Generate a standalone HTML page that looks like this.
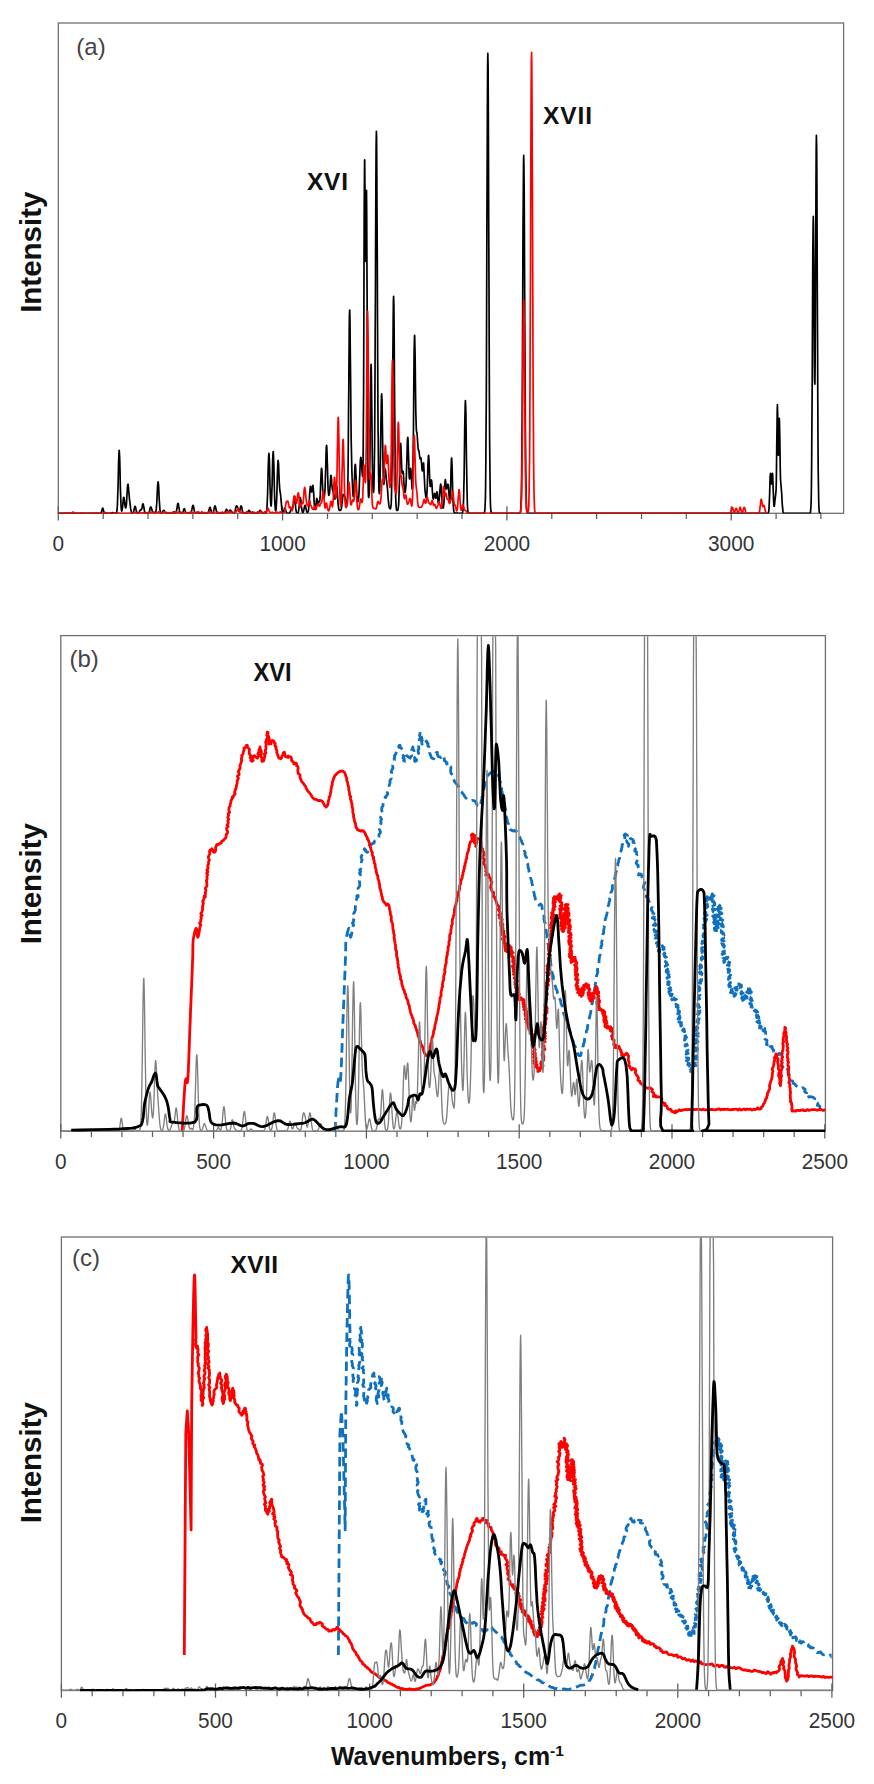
<!DOCTYPE html>
<html><head><meta charset="utf-8"><title>Spectra</title>
<style>html,body{margin:0;padding:0;background:#fff;}svg{display:block;}text{font-family:"Liberation Sans",sans-serif;}</style>
</head><body>
<svg width="874" height="1784" viewBox="0 0 874 1784">
<defs><clipPath id="ca"><rect x="58.3" y="23.0" width="785.3000000000001" height="490.54999999999995"/></clipPath><clipPath id="cb"><rect x="60.8" y="635.6" width="760.6" height="498.6"/></clipPath><clipPath id="cb2"><rect x="60.8" y="636.2" width="764.6" height="495.70000000000005"/></clipPath><clipPath id="cc"><rect x="61.4" y="1237.0" width="770.2" height="456.5"/></clipPath><clipPath id="cc2"><rect x="61.4" y="1237.6" width="771.2" height="453.6"/></clipPath></defs>
<rect width="874" height="1784" fill="#fff"/>
<rect x="58.3" y="23.0" width="785.3" height="490.3" fill="none" stroke="#707070" stroke-width="1.3"/>
<path d="M58.3 506.3V520.5M103.2 513.3V519.1M148.0 513.3V519.1M192.9 513.3V519.1M237.7 513.3V519.1M282.6 506.3V520.5M327.5 513.3V519.1M372.3 513.3V519.1M417.2 513.3V519.1M462.0 513.3V519.1M506.9 506.3V520.5M551.8 513.3V519.1M596.6 513.3V519.1M641.5 513.3V519.1M686.3 513.3V519.1M731.2 506.3V520.5M776.1 513.3V519.1M820.9 513.3V519.1" stroke="#5e5e5e" stroke-width="1.25" fill="none"/>
<text transform="translate(58.3 550.8) scale(0.93 1)" font-family="Liberation Sans, sans-serif" font-size="22.4" fill="#333" text-anchor="middle">0</text>
<text transform="translate(282.6 550.8) scale(0.93 1)" font-family="Liberation Sans, sans-serif" font-size="22.4" fill="#333" text-anchor="middle">1000</text>
<text transform="translate(506.9 550.8) scale(0.93 1)" font-family="Liberation Sans, sans-serif" font-size="22.4" fill="#333" text-anchor="middle">2000</text>
<text transform="translate(731.2 550.8) scale(0.93 1)" font-family="Liberation Sans, sans-serif" font-size="22.4" fill="#333" text-anchor="middle">3000</text>
<g clip-path="url(#ca)"><path d="M58.3 513.3 L58.5 513.3 L58.7 513.3 L59.0 513.3 L59.2 513.3 L59.4 513.3 L59.6 513.3 L59.9 513.3 L60.1 513.3 L60.3 513.3 L60.5 513.3 L60.8 513.3 L61.0 513.3 L61.2 513.3 L61.4 513.3 L61.7 513.3 L61.9 513.3 L62.1 513.3 L62.3 513.3 L62.6 513.3 L62.8 513.3 L63.0 513.3 L63.2 513.3 L63.5 513.3 L63.7 513.3 L63.9 513.3 L64.1 513.3 L64.4 513.3 L64.6 513.3 L64.8 513.3 L65.0 513.3 L65.3 513.3 L65.5 513.3 L65.7 513.3 L65.9 513.3 L66.2 513.3 L66.4 513.3 L66.6 513.3 L66.8 513.3 L67.0 513.3 L67.3 513.3 L67.5 513.3 L67.7 513.3 L67.9 513.3 L68.2 513.3 L68.4 513.3 L68.6 513.3 L68.8 513.3 L69.1 513.3 L69.3 513.3 L69.5 513.3 L69.7 513.3 L70.0 513.3 L70.2 513.3 L70.4 513.3 L70.6 513.3 L70.9 513.3 L71.1 513.3 L71.3 513.3 L71.5 513.3 L71.8 513.3 L72.0 513.3 L72.2 513.3 L72.4 513.3 L72.7 513.3 L72.9 513.3 L73.1 513.3 L73.3 513.3 L73.6 513.3 L73.8 513.3 L74.0 513.3 L74.2 513.3 L74.4 513.3 L74.7 513.3 L74.9 513.3 L75.1 513.3 L75.3 513.3 L75.6 513.3 L75.8 513.3 L76.0 513.3 L76.2 513.3 L76.5 513.3 L76.7 513.3 L76.9 513.3 L77.1 513.3 L77.4 513.3 L77.6 513.3 L77.8 513.3 L78.0 513.3 L78.3 513.3 L78.5 513.3 L78.7 513.3 L78.9 513.3 L79.2 513.3 L79.4 513.3 L79.6 513.3 L79.8 513.3 L80.1 513.3 L80.3 513.3 L80.5 513.3 L80.7 513.3 L81.0 513.3 L81.2 513.3 L81.4 513.3 L81.6 513.3 L81.9 513.3 L82.1 513.3 L82.3 513.3 L82.5 513.3 L82.7 513.3 L83.0 513.3 L83.2 513.3 L83.4 513.3 L83.6 513.3 L83.9 513.3 L84.1 513.3 L84.3 513.3 L84.5 513.3 L84.8 513.3 L85.0 513.3 L85.2 513.3 L85.4 513.3 L85.7 513.3 L85.9 513.3 L86.1 513.3 L86.3 513.3 L86.6 513.3 L86.8 513.3 L87.0 513.3 L87.2 513.3 L87.5 513.3 L87.7 513.3 L87.9 513.3 L88.1 513.3 L88.4 513.3 L88.6 513.3 L88.8 513.3 L89.0 513.3 L89.3 513.3 L89.5 513.3 L89.7 513.3 L89.9 513.3 L90.2 513.3 L90.4 513.3 L90.6 513.3 L90.8 513.3 L91.0 513.3 L91.3 513.3 L91.5 513.3 L91.7 513.3 L91.9 513.3 L92.2 513.3 L92.4 513.3 L92.6 513.3 L92.8 513.3 L93.1 513.3 L93.3 513.3 L93.5 513.3 L93.7 513.3 L94.0 513.3 L94.2 513.3 L94.4 513.3 L94.6 513.3 L94.9 513.3 L95.1 513.3 L95.3 513.3 L95.5 513.3 L95.8 513.3 L96.0 513.3 L96.2 513.3 L96.4 513.3 L96.7 513.3 L96.9 513.3 L97.1 513.3 L97.3 513.3 L97.6 513.3 L97.8 513.3 L98.0 513.3 L98.2 513.3 L98.4 513.3 L98.7 513.3 L98.9 513.3 L99.1 513.3 L99.3 513.3 L99.6 513.3 L99.8 513.3 L100.0 513.3 L100.2 513.3 L100.5 513.3 L100.7 513.2 L100.9 513.0 L101.1 512.8 L101.4 512.3 L101.6 511.6 L101.8 510.7 L102.0 509.8 L102.3 508.9 L102.5 508.3 L102.7 508.1 L102.9 508.4 L103.2 509.0 L103.4 509.9 L103.6 510.9 L103.8 511.7 L104.1 512.3 L104.3 512.8 L104.5 513.0 L104.7 513.2 L105.0 513.3 L105.2 513.3 L105.4 513.3 L105.6 513.3 L105.9 513.3 L106.1 513.3 L106.3 513.3 L106.5 513.3 L106.7 513.3 L107.0 513.3 L107.2 513.3 L107.4 513.3 L107.6 513.3 L107.9 513.3 L108.1 513.3 L108.3 513.3 L108.5 513.3 L108.8 513.3 L109.0 513.3 L109.2 513.3 L109.4 513.3 L109.7 513.3 L109.9 513.3 L110.1 513.3 L110.3 513.3 L110.6 513.3 L110.8 513.3 L111.0 513.2 L111.2 513.2 L111.5 513.1 L111.7 513.0 L111.9 512.8 L112.1 512.7 L112.4 512.6 L112.6 512.6 L112.8 512.6 L113.0 512.8 L113.3 512.9 L113.5 513.0 L113.7 513.1 L113.9 513.2 L114.2 513.3 L114.4 513.3 L114.6 513.3 L114.8 513.3 L115.0 513.3 L115.3 513.3 L115.5 513.3 L115.7 513.3 L115.9 513.2 L116.2 513.1 L116.4 512.8 L116.6 512.3 L116.8 511.3 L117.1 509.5 L117.3 506.7 L117.5 502.4 L117.7 496.5 L118.0 488.8 L118.2 479.8 L118.4 470.3 L118.6 461.5 L118.9 454.6 L119.1 450.8 L119.2 450.3 L119.3 450.8 L119.5 454.6 L119.8 461.5 L120.0 470.3 L120.2 479.8 L120.4 488.8 L120.7 496.4 L120.9 502.4 L121.1 506.5 L121.3 509.2 L121.6 510.6 L121.8 511.0 L122.0 510.7 L122.2 509.6 L122.4 508.0 L122.7 506.0 L122.9 503.6 L123.1 501.3 L123.3 499.2 L123.6 497.8 L123.8 497.3 L124.0 497.7 L124.2 499.0 L124.5 500.8 L124.7 502.8 L124.9 504.7 L125.1 506.3 L125.4 507.3 L125.6 507.9 L125.8 507.8 L126.0 507.1 L126.3 505.6 L126.5 503.2 L126.7 499.9 L126.9 496.0 L127.2 492.0 L127.4 488.3 L127.6 485.6 L127.8 484.3 L128.1 484.4 L128.3 485.8 L128.5 488.1 L128.7 490.9 L129.0 493.6 L129.2 496.1 L129.4 498.3 L129.6 500.3 L129.9 502.1 L130.1 503.9 L130.3 505.7 L130.5 507.4 L130.7 508.9 L131.0 510.2 L131.2 511.3 L131.4 512.0 L131.6 512.6 L131.9 512.9 L132.1 513.1 L132.3 513.1 L132.5 513.1 L132.8 513.0 L133.0 512.8 L133.2 512.5 L133.4 512.1 L133.7 511.4 L133.9 510.6 L134.1 509.6 L134.3 508.5 L134.6 507.5 L134.8 506.7 L135.0 506.3 L135.2 506.3 L135.5 506.9 L135.7 507.8 L135.9 508.9 L136.1 510.0 L136.4 511.0 L136.6 511.8 L136.8 512.4 L137.0 512.8 L137.3 513.0 L137.5 513.1 L137.7 513.2 L137.9 513.2 L138.2 513.1 L138.4 512.9 L138.6 512.7 L138.8 512.4 L139.0 512.1 L139.3 511.7 L139.5 511.4 L139.7 511.0 L139.9 510.6 L140.2 510.2 L140.4 509.9 L140.6 509.7 L140.8 509.7 L141.1 509.8 L141.3 509.7 L141.5 509.5 L141.7 508.9 L142.0 507.9 L142.2 506.7 L142.4 505.5 L142.6 504.5 L142.9 503.9 L143.0 503.8 L143.1 503.9 L143.3 504.4 L143.5 505.4 L143.8 506.7 L144.0 508.1 L144.2 509.5 L144.4 510.7 L144.7 511.6 L144.9 512.3 L145.1 512.7 L145.3 513.0 L145.6 513.1 L145.8 513.2 L146.0 513.3 L146.2 513.3 L146.4 513.3 L146.7 513.3 L146.9 513.3 L147.1 513.3 L147.3 513.3 L147.6 513.3 L147.8 513.3 L148.0 513.2 L148.2 513.2 L148.5 513.0 L148.7 512.8 L148.9 512.5 L149.1 512.0 L149.4 511.3 L149.6 510.5 L149.8 509.6 L150.0 508.7 L150.3 507.9 L150.5 507.3 L150.7 507.0 L150.9 507.1 L151.2 507.4 L151.4 508.0 L151.6 508.7 L151.8 509.6 L152.1 510.4 L152.3 511.1 L152.5 511.7 L152.7 512.2 L153.0 512.4 L153.2 512.5 L153.4 512.5 L153.6 512.4 L153.9 512.3 L154.1 512.3 L154.3 512.3 L154.5 512.5 L154.7 512.6 L155.0 512.7 L155.2 512.7 L155.4 512.5 L155.6 512.1 L155.9 511.3 L156.1 510.2 L156.3 508.4 L156.5 505.9 L156.8 502.5 L157.0 498.3 L157.2 493.7 L157.4 489.1 L157.7 485.2 L157.9 482.6 L158.1 481.8 L158.3 482.9 L158.6 485.7 L158.8 489.8 L159.0 494.4 L159.2 499.1 L159.5 503.2 L159.7 506.6 L159.9 509.1 L160.1 510.8 L160.4 511.9 L160.6 512.6 L160.8 512.9 L161.0 513.1 L161.3 513.2 L161.5 513.1 L161.7 513.1 L161.9 512.9 L162.2 512.6 L162.4 512.3 L162.6 511.9 L162.8 511.5 L163.0 511.0 L163.3 510.7 L163.5 510.4 L163.7 510.3 L163.9 510.4 L164.2 510.7 L164.4 511.0 L164.6 511.5 L164.8 511.9 L165.1 512.3 L165.3 512.7 L165.5 512.9 L165.7 513.1 L166.0 513.2 L166.2 513.2 L166.4 513.3 L166.6 513.3 L166.9 513.3 L167.1 513.3 L167.3 513.3 L167.5 513.3 L167.8 513.3 L168.0 513.3 L168.2 513.3 L168.4 513.3 L168.7 513.3 L168.9 513.3 L169.1 513.3 L169.3 513.3 L169.6 513.3 L169.8 513.3 L170.0 513.3 L170.2 513.3 L170.4 513.3 L170.7 513.3 L170.9 513.3 L171.1 513.3 L171.3 513.3 L171.6 513.3 L171.8 513.3 L172.0 513.3 L172.2 513.2 L172.5 513.2 L172.7 513.0 L172.9 512.8 L173.1 512.6 L173.4 512.3 L173.6 512.0 L173.8 511.9 L174.0 511.9 L174.3 512.0 L174.5 512.3 L174.7 512.5 L174.9 512.8 L175.2 513.0 L175.4 513.0 L175.6 513.0 L175.8 512.7 L176.1 512.4 L176.3 511.7 L176.5 510.8 L176.7 509.7 L177.0 508.3 L177.2 506.8 L177.4 505.3 L177.6 504.2 L177.9 503.5 L178.0 503.3 L178.1 503.3 L178.3 503.8 L178.5 504.8 L178.7 506.2 L179.0 507.7 L179.2 509.1 L179.4 510.4 L179.6 511.4 L179.9 512.1 L180.1 512.6 L180.3 512.9 L180.5 513.1 L180.8 513.2 L181.0 513.3 L181.2 513.3 L181.4 513.3 L181.7 513.3 L181.9 513.3 L182.1 513.2 L182.3 513.1 L182.6 512.9 L182.8 512.6 L183.0 512.0 L183.2 511.3 L183.5 510.5 L183.7 509.6 L183.9 509.0 L184.1 508.7 L184.4 508.7 L184.6 509.1 L184.8 509.7 L185.0 510.5 L185.3 511.2 L185.5 511.8 L185.7 512.2 L185.9 512.4 L186.2 512.6 L186.4 512.7 L186.6 512.7 L186.8 512.8 L187.0 513.0 L187.3 513.1 L187.5 513.2 L187.7 513.2 L187.9 513.3 L188.2 513.3 L188.4 513.3 L188.6 513.3 L188.8 513.3 L189.1 513.3 L189.3 513.3 L189.5 513.3 L189.7 513.3 L190.0 513.3 L190.2 513.2 L190.4 513.2 L190.6 513.0 L190.9 512.8 L191.1 512.5 L191.3 511.9 L191.5 511.2 L191.8 510.2 L192.0 509.1 L192.2 507.8 L192.4 506.7 L192.7 505.8 L192.9 505.4 L193.0 505.3 L193.1 505.4 L193.3 505.8 L193.6 506.7 L193.8 507.8 L194.0 509.1 L194.2 510.2 L194.5 511.2 L194.7 511.9 L194.9 512.5 L195.1 512.8 L195.3 513.0 L195.6 513.2 L195.8 513.2 L196.0 513.3 L196.2 513.2 L196.5 513.2 L196.7 513.1 L196.9 513.0 L197.1 512.8 L197.4 512.7 L197.6 512.6 L197.8 512.5 L198.0 512.5 L198.3 512.6 L198.5 512.8 L198.7 513.0 L198.9 513.1 L199.2 513.2 L199.4 513.2 L199.6 513.3 L199.8 513.3 L200.1 513.3 L200.3 513.3 L200.5 513.3 L200.7 513.3 L201.0 513.3 L201.2 513.3 L201.4 513.3 L201.6 513.3 L201.9 513.3 L202.1 513.3 L202.3 513.3 L202.5 513.3 L202.7 513.3 L203.0 513.3 L203.2 513.3 L203.4 513.3 L203.6 513.3 L203.9 513.3 L204.1 513.3 L204.3 513.3 L204.5 513.3 L204.8 513.3 L205.0 513.3 L205.2 513.3 L205.4 513.3 L205.7 513.3 L205.9 513.3 L206.1 513.3 L206.3 513.3 L206.6 513.3 L206.8 513.3 L207.0 513.3 L207.2 513.2 L207.5 513.2 L207.7 513.0 L207.9 512.8 L208.1 512.5 L208.4 512.0 L208.6 511.4 L208.8 510.6 L209.0 509.7 L209.3 508.8 L209.5 508.0 L209.7 507.5 L209.9 507.3 L210.2 507.5 L210.4 508.0 L210.6 508.8 L210.8 509.7 L211.0 510.6 L211.3 511.4 L211.5 512.0 L211.7 512.5 L211.9 512.8 L212.2 513.0 L212.4 513.1 L212.6 513.0 L212.8 512.8 L213.1 512.5 L213.3 512.1 L213.5 511.4 L213.7 510.5 L214.0 509.4 L214.2 508.3 L214.4 507.2 L214.6 506.4 L214.9 505.9 L215.0 505.8 L215.1 505.8 L215.3 506.2 L215.5 507.0 L215.8 508.1 L216.0 509.2 L216.2 510.3 L216.4 511.2 L216.7 511.9 L216.9 512.5 L217.1 512.8 L217.3 513.0 L217.6 513.2 L217.8 513.2 L218.0 513.3 L218.2 513.3 L218.5 513.3 L218.7 513.3 L218.9 513.3 L219.1 513.3 L219.3 513.3 L219.6 513.3 L219.8 513.3 L220.0 513.3 L220.2 513.3 L220.5 513.3 L220.7 513.3 L220.9 513.3 L221.1 513.3 L221.4 513.3 L221.6 513.3 L221.8 513.3 L222.0 513.3 L222.3 513.3 L222.5 513.3 L222.7 513.3 L222.9 513.3 L223.2 513.3 L223.4 513.3 L223.6 513.3 L223.8 513.3 L224.1 513.2 L224.3 513.1 L224.5 513.0 L224.7 512.8 L225.0 512.4 L225.2 512.0 L225.4 511.5 L225.6 510.9 L225.9 510.3 L226.1 509.8 L226.3 509.4 L226.5 509.3 L226.7 509.4 L227.0 509.8 L227.2 510.3 L227.4 510.9 L227.6 511.4 L227.9 511.9 L228.1 512.3 L228.3 512.5 L228.5 512.5 L228.8 512.2 L229.0 511.8 L229.2 511.3 L229.4 510.8 L229.7 510.4 L229.9 510.2 L230.1 510.1 L230.3 510.1 L230.6 510.3 L230.8 510.6 L231.0 510.9 L231.2 511.3 L231.5 511.7 L231.7 512.0 L231.9 512.2 L232.1 512.3 L232.4 512.4 L232.6 512.4 L232.8 512.5 L233.0 512.7 L233.3 512.8 L233.5 513.0 L233.7 513.1 L233.9 513.1 L234.2 513.1 L234.4 512.9 L234.6 512.6 L234.8 512.0 L235.0 511.2 L235.3 510.2 L235.5 509.1 L235.7 507.9 L235.9 507.0 L236.2 506.3 L236.4 505.9 L236.6 505.8 L236.8 506.0 L237.1 506.3 L237.3 506.7 L237.5 507.2 L237.7 507.7 L238.0 508.4 L238.2 509.1 L238.4 509.9 L238.6 510.7 L238.9 511.3 L239.1 511.7 L239.3 511.7 L239.5 511.4 L239.8 510.7 L240.0 509.8 L240.2 508.7 L240.4 507.6 L240.7 506.7 L240.9 506.0 L241.1 505.8 L241.3 506.0 L241.6 506.7 L241.8 507.6 L242.0 508.8 L242.2 509.9 L242.5 510.9 L242.7 511.7 L242.9 512.3 L243.1 512.7 L243.3 513.0 L243.6 513.1 L243.8 513.2 L244.0 513.3 L244.2 513.3 L244.5 513.3 L244.7 513.3 L244.9 513.3 L245.1 513.3 L245.4 513.3 L245.6 513.3 L245.8 513.3 L246.0 513.3 L246.3 513.3 L246.5 513.2 L246.7 513.2 L246.9 513.1 L247.2 512.9 L247.4 512.7 L247.6 512.3 L247.8 511.9 L248.1 511.5 L248.3 511.0 L248.5 510.7 L248.7 510.4 L249.0 510.3 L249.2 510.4 L249.4 510.7 L249.6 511.0 L249.9 511.5 L250.1 511.9 L250.3 512.3 L250.5 512.7 L250.7 512.9 L251.0 513.1 L251.2 513.2 L251.4 513.2 L251.6 513.3 L251.9 513.3 L252.1 513.3 L252.3 513.3 L252.5 513.3 L252.8 513.3 L253.0 513.3 L253.2 513.3 L253.4 513.3 L253.7 513.3 L253.9 513.3 L254.1 513.3 L254.3 513.3 L254.6 513.3 L254.8 513.3 L255.0 513.3 L255.2 513.3 L255.5 513.3 L255.7 513.3 L255.9 513.3 L256.1 513.3 L256.4 513.3 L256.6 513.3 L256.8 513.3 L257.0 513.3 L257.3 513.3 L257.5 513.3 L257.7 513.2 L257.9 513.2 L258.2 513.1 L258.4 512.9 L258.6 512.7 L258.8 512.3 L259.0 511.9 L259.3 511.5 L259.5 511.0 L259.7 510.7 L259.9 510.4 L260.2 510.3 L260.4 510.4 L260.6 510.7 L260.8 511.0 L261.1 511.5 L261.3 511.9 L261.5 512.3 L261.7 512.7 L262.0 512.9 L262.2 513.1 L262.4 513.2 L262.6 513.2 L262.9 513.3 L263.1 513.3 L263.3 513.3 L263.5 513.3 L263.8 513.3 L264.0 513.3 L264.2 513.3 L264.4 513.3 L264.7 513.3 L264.9 513.3 L265.1 513.3 L265.3 513.3 L265.6 513.2 L265.8 513.2 L266.0 513.0 L266.2 512.6 L266.5 511.9 L266.7 510.7 L266.9 508.5 L267.1 505.2 L267.3 500.3 L267.6 493.8 L267.8 485.8 L268.0 476.9 L268.2 468.0 L268.5 460.4 L268.7 455.1 L268.9 453.3 L269.1 455.1 L269.4 460.3 L269.6 468.0 L269.8 476.9 L270.0 485.7 L270.3 493.5 L270.5 499.6 L270.7 503.8 L270.9 505.8 L271.2 505.8 L271.4 503.6 L271.6 499.3 L271.8 493.0 L272.1 484.9 L272.3 475.8 L272.5 466.7 L272.7 458.8 L273.0 453.5 L273.2 451.6 L273.4 453.5 L273.6 458.9 L273.9 466.7 L274.1 475.9 L274.3 485.0 L274.5 493.3 L274.7 499.9 L275.0 504.8 L275.2 508.1 L275.4 510.0 L275.6 510.7 L275.9 510.3 L276.1 508.8 L276.3 506.1 L276.5 501.9 L276.8 496.3 L277.0 489.4 L277.2 481.6 L277.4 473.8 L277.7 467.0 L277.9 462.3 L278.1 460.3 L278.3 461.3 L278.6 464.8 L278.8 470.1 L279.0 475.9 L279.2 481.3 L279.5 485.6 L279.7 488.6 L279.9 490.6 L280.1 492.0 L280.4 493.3 L280.6 494.9 L280.8 497.1 L281.0 499.7 L281.3 502.4 L281.5 505.1 L281.7 507.5 L281.9 509.4 L282.2 510.8 L282.4 511.8 L282.6 512.3 L282.8 512.5 L283.0 512.4 L283.3 512.1 L283.5 511.6 L283.7 511.0 L283.9 510.3 L284.2 509.5 L284.4 508.9 L284.6 508.5 L284.8 508.3 L285.1 508.5 L285.3 508.9 L285.5 509.5 L285.7 510.3 L286.0 511.0 L286.2 511.7 L286.4 512.2 L286.6 512.6 L286.9 512.9 L287.1 513.1 L287.3 513.2 L287.5 513.2 L287.8 513.3 L288.0 513.3 L288.2 513.3 L288.4 513.3 L288.7 513.3 L288.9 513.2 L289.1 513.2 L289.3 513.1 L289.6 512.9 L289.8 512.6 L290.0 512.2 L290.2 511.7 L290.5 511.1 L290.7 510.3 L290.9 509.6 L291.1 509.0 L291.3 508.5 L291.6 508.3 L291.8 508.3 L292.0 508.4 L292.2 508.6 L292.5 508.5 L292.7 508.0 L292.9 507.0 L293.1 505.4 L293.4 503.4 L293.6 501.1 L293.8 498.9 L294.0 497.2 L294.3 496.4 L294.4 496.3 L294.5 496.5 L294.7 497.6 L294.9 499.6 L295.2 502.0 L295.4 504.5 L295.6 506.9 L295.8 508.9 L296.1 510.5 L296.3 511.6 L296.5 512.3 L296.7 512.8 L297.0 513.0 L297.2 513.1 L297.4 513.1 L297.6 513.1 L297.9 512.9 L298.1 512.6 L298.3 512.0 L298.5 511.2 L298.7 509.9 L299.0 508.2 L299.2 506.1 L299.4 503.8 L299.6 501.4 L299.9 499.4 L300.1 498.1 L300.3 497.6 L300.5 498.1 L300.8 499.4 L301.0 501.4 L301.2 503.7 L301.4 506.0 L301.7 508.1 L301.9 509.8 L302.1 511.0 L302.3 511.9 L302.6 512.3 L302.8 512.5 L303.0 512.4 L303.2 512.0 L303.5 511.4 L303.7 510.6 L303.9 509.6 L304.1 508.4 L304.4 507.2 L304.6 506.2 L304.8 505.6 L305.0 505.3 L305.3 505.5 L305.5 506.2 L305.7 507.1 L305.9 508.3 L306.2 509.4 L306.4 510.4 L306.6 511.2 L306.8 511.8 L307.0 512.2 L307.3 512.4 L307.5 512.5 L307.7 512.4 L307.9 512.1 L308.2 511.6 L308.4 510.6 L308.6 509.2 L308.8 507.1 L309.1 504.3 L309.3 500.9 L309.5 497.0 L309.7 493.2 L310.0 489.8 L310.2 487.4 L310.4 486.3 L310.6 486.5 L310.9 487.7 L311.1 489.5 L311.3 491.1 L311.5 492.0 L311.8 491.9 L312.0 490.8 L312.2 489.0 L312.4 487.0 L312.7 485.6 L312.9 485.3 L313.1 486.3 L313.3 488.7 L313.6 492.0 L313.8 495.7 L314.0 499.5 L314.2 502.9 L314.5 505.6 L314.7 507.6 L314.9 508.9 L315.1 509.5 L315.3 509.5 L315.6 508.8 L315.8 507.3 L316.0 505.1 L316.2 502.4 L316.5 500.1 L316.7 498.7 L316.8 498.5 L316.9 498.7 L317.1 500.0 L317.4 502.0 L317.6 503.8 L317.8 504.8 L318.0 504.6 L318.3 503.7 L318.5 502.4 L318.7 501.4 L318.8 501.2 L318.9 501.2 L319.2 501.5 L319.4 502.0 L319.6 501.8 L319.8 500.5 L320.1 497.7 L320.3 493.5 L320.5 488.0 L320.7 482.0 L321.0 476.2 L321.2 471.6 L321.4 468.8 L321.5 468.3 L321.6 468.4 L321.9 470.3 L322.1 474.2 L322.3 479.2 L322.5 484.5 L322.7 489.3 L323.0 493.0 L323.2 495.6 L323.4 497.1 L323.6 497.6 L323.9 497.7 L324.1 497.3 L324.3 496.6 L324.5 495.2 L324.8 492.9 L325.0 489.1 L325.2 483.7 L325.4 476.5 L325.7 468.2 L325.9 459.7 L326.1 452.3 L326.3 447.1 L326.6 445.3 L326.8 447.1 L327.0 452.2 L327.2 459.6 L327.5 468.1 L327.7 476.4 L327.9 483.5 L328.1 488.9 L328.4 492.5 L328.6 494.5 L328.8 495.4 L329.0 495.3 L329.3 494.5 L329.5 493.1 L329.7 490.9 L329.9 488.0 L330.2 484.6 L330.4 481.0 L330.6 477.9 L330.8 475.9 L331.0 475.3 L331.3 476.4 L331.5 478.9 L331.7 482.2 L331.9 485.5 L332.2 488.0 L332.4 489.6 L332.6 490.3 L332.8 490.7 L332.9 490.9 L333.1 491.4 L333.3 492.5 L333.5 493.9 L333.7 495.3 L334.0 496.6 L334.2 497.6 L334.4 498.5 L334.6 499.0 L334.9 499.1 L335.1 498.5 L335.3 497.2 L335.5 495.3 L335.8 492.8 L336.0 490.2 L336.2 488.0 L336.2 487.7 L336.4 486.6 L336.7 486.3 L336.9 487.3 L336.9 487.7 L337.1 489.5 L337.3 492.5 L337.6 496.0 L337.8 499.5 L338.0 502.7 L338.2 505.3 L338.5 507.2 L338.7 508.5 L338.9 509.4 L339.1 509.9 L339.3 510.2 L339.6 510.3 L339.8 510.4 L340.0 510.5 L340.2 510.4 L340.5 510.3 L340.7 510.1 L340.9 509.8 L341.1 509.1 L341.4 508.2 L341.6 506.9 L341.8 505.3 L342.0 503.3 L342.3 501.2 L342.5 499.1 L342.7 497.3 L342.9 495.9 L343.0 495.4 L343.2 494.9 L343.4 494.5 L343.6 494.4 L343.8 494.5 L344.1 494.8 L344.2 495.0 L344.3 495.2 L344.5 495.6 L344.7 496.2 L345.0 497.2 L345.1 498.0 L345.2 498.4 L345.4 499.7 L345.6 500.9 L345.9 501.8 L346.1 502.3 L346.3 502.8 L346.4 503.0 L346.5 503.3 L346.7 503.8 L347.0 503.8 L347.2 502.7 L347.4 499.5 L347.6 493.0 L347.9 482.1 L348.1 465.7 L348.3 443.6 L348.5 416.4 L348.8 386.3 L349.0 356.8 L349.2 338.0 L349.2 332.0 L349.4 315.6 L349.7 310.0 L349.9 315.7 L350.1 331.0 L350.2 343.1 L350.3 352.9 L350.6 377.7 L350.8 401.9 L351.0 423.2 L351.2 440.4 L351.5 453.4 L351.7 463.3 L351.9 471.0 L352.1 477.4 L352.4 483.0 L352.6 487.9 L352.8 492.0 L353.0 495.0 L353.3 496.5 L353.5 496.5 L353.7 494.6 L353.9 491.1 L354.2 486.2 L354.4 480.4 L354.6 474.5 L354.8 469.3 L355.0 465.7 L355.3 464.3 L355.5 465.4 L355.7 468.7 L355.9 473.7 L356.2 479.6 L356.4 485.4 L356.6 490.6 L356.8 494.9 L357.1 498.0 L357.3 500.0 L357.5 501.3 L357.7 501.8 L358.0 501.7 L358.2 501.1 L358.4 499.8 L358.6 497.8 L358.9 494.8 L359.1 490.9 L359.3 486.1 L359.5 480.4 L359.8 474.5 L360.0 468.7 L360.2 463.7 L360.3 461.3 L360.4 460.0 L360.7 457.9 L360.8 457.4 L360.9 457.5 L361.1 458.5 L361.3 460.6 L361.6 463.4 L361.7 466.0 L361.8 466.6 L362.0 470.0 L362.2 473.3 L362.5 476.0 L362.7 476.6 L362.9 472.5 L363.1 460.0 L363.3 434.3 L363.6 392.3 L363.8 334.6 L364.0 268.9 L364.2 208.8 L364.5 169.4 L364.6 160.3 L364.7 159.9 L364.7 160.6 L364.9 180.8 L365.1 216.5 L365.4 248.6 L365.6 261.3 L365.8 249.8 L366.0 222.8 L366.3 197.2 L366.5 190.3 L366.7 211.0 L366.9 256.9 L367.2 316.6 L367.4 376.2 L367.6 425.4 L367.8 460.0 L368.1 481.0 L368.3 492.0 L368.5 496.6 L368.7 497.5 L369.0 495.9 L369.2 491.8 L369.4 484.8 L369.6 473.9 L369.9 458.5 L370.1 438.8 L370.3 416.4 L370.4 405.9 L370.5 394.1 L370.7 375.9 L371.0 365.6 L371.1 364.3 L371.2 365.6 L371.4 375.8 L371.6 394.0 L371.9 416.4 L372.1 439.0 L372.3 458.5 L372.5 473.4 L372.8 483.3 L373.0 489.2 L373.2 491.9 L373.4 492.4 L373.6 491.8 L373.7 490.9 L373.9 486.8 L374.1 479.1 L374.3 466.1 L374.6 445.7 L374.8 416.4 L375.0 377.7 L375.2 330.5 L375.3 318.7 L375.5 277.9 L375.6 244.8 L375.7 225.1 L375.9 178.7 L376.1 145.6 L376.4 131.4 L376.4 131.3 L376.6 138.6 L376.8 166.0 L377.0 208.9 L377.3 260.7 L377.5 313.9 L377.7 362.9 L377.9 403.9 L378.1 433.8 L378.2 435.7 L378.4 458.8 L378.6 474.7 L378.8 484.9 L379.0 490.9 L379.3 493.6 L379.5 493.3 L379.7 490.0 L379.9 483.7 L380.2 474.1 L380.4 461.3 L380.6 446.2 L380.8 430.0 L381.0 417.1 L381.1 414.7 L381.3 402.5 L381.5 395.3 L381.7 393.9 L381.7 394.3 L382.0 399.6 L382.2 410.3 L382.4 424.6 L382.6 440.2 L382.9 455.2 L383.1 467.7 L383.3 476.8 L383.5 482.3 L383.8 484.3 L384.0 483.5 L384.2 480.7 L384.4 477.0 L384.7 473.3 L384.9 470.5 L384.9 470.4 L385.1 469.0 L385.3 469.1 L385.4 469.5 L385.6 470.6 L385.7 472.1 L385.8 472.9 L386.0 475.5 L386.2 478.0 L386.5 480.1 L386.7 481.9 L386.9 483.5 L387.1 485.3 L387.3 487.5 L387.6 490.1 L387.8 493.1 L388.0 496.2 L388.2 499.3 L388.5 501.9 L388.7 504.1 L388.9 505.7 L389.1 506.9 L389.4 507.7 L389.6 508.2 L389.8 508.5 L390.0 508.7 L390.3 508.8 L390.5 508.6 L390.7 508.0 L390.9 506.6 L391.2 503.9 L391.4 499.0 L391.6 490.7 L391.8 477.8 L392.1 459.4 L392.3 435.2 L392.5 405.9 L392.7 373.8 L393.0 342.6 L393.2 316.8 L393.4 300.5 L393.6 296.3 L393.6 296.6 L393.9 305.8 L394.1 326.5 L394.3 355.1 L394.5 387.2 L394.8 418.6 L395.0 446.2 L395.2 468.3 L395.4 484.5 L395.6 495.4 L395.9 502.4 L396.1 506.4 L396.3 508.6 L396.5 509.7 L396.8 510.2 L397.0 510.4 L397.2 510.4 L397.4 510.4 L397.7 510.2 L397.9 509.7 L398.1 508.9 L398.3 507.5 L398.6 505.1 L398.8 501.4 L399.0 496.0 L399.2 488.8 L399.5 480.0 L399.7 470.2 L399.9 460.4 L400.1 451.8 L400.4 445.8 L400.6 443.3 L400.8 444.5 L401.0 448.8 L401.3 455.1 L401.5 461.9 L401.7 467.7 L401.9 471.6 L402.2 473.4 L402.4 473.4 L402.6 472.3 L402.8 471.4 L403.0 471.3 L403.3 472.6 L403.5 475.3 L403.7 478.9 L403.9 482.8 L404.2 486.5 L404.4 489.4 L404.6 491.3 L404.8 492.3 L405.1 492.3 L405.1 492.2 L405.3 491.6 L405.5 490.2 L405.7 488.0 L406.0 484.8 L406.2 480.8 L406.2 480.5 L406.4 474.7 L406.6 467.6 L406.9 459.4 L407.1 451.1 L407.3 443.9 L407.5 438.9 L407.8 437.3 L408.0 439.4 L408.2 444.8 L408.4 452.5 L408.7 461.1 L408.9 468.9 L409.1 474.9 L409.3 478.2 L409.6 478.9 L409.8 477.4 L410.0 474.5 L410.2 471.4 L410.5 469.1 L410.7 468.3 L410.9 469.4 L411.1 472.2 L411.3 476.3 L411.6 480.9 L411.8 485.2 L412.0 488.2 L412.2 489.1 L412.5 487.2 L412.7 481.5 L412.9 471.2 L413.1 455.8 L413.4 435.4 L413.6 411.3 L413.8 385.8 L414.0 362.5 L414.2 347.5 L414.3 345.1 L414.5 336.2 L414.6 335.3 L414.7 336.8 L414.9 345.8 L415.2 361.0 L415.4 379.1 L415.4 381.5 L415.6 396.8 L415.8 411.7 L416.1 422.3 L416.3 428.5 L416.5 431.2 L416.7 432.3 L417.0 433.3 L417.2 435.2 L417.4 438.2 L417.6 441.8 L417.9 445.3 L418.1 447.9 L418.3 449.5 L418.5 450.2 L418.8 450.6 L419.0 451.3 L419.2 452.6 L419.4 454.5 L419.6 456.5 L419.9 458.0 L420.1 458.8 L420.3 458.8 L420.5 458.3 L420.8 457.9 L421.0 458.3 L421.2 459.7 L421.4 462.1 L421.7 465.0 L421.9 467.9 L422.1 470.1 L422.3 470.9 L422.6 470.3 L422.8 468.3 L423.0 465.7 L423.2 463.6 L423.5 463.0 L423.5 463.1 L423.6 463.4 L423.7 464.6 L423.9 468.3 L424.1 473.3 L424.4 478.6 L424.6 483.3 L424.8 487.3 L425.0 490.3 L425.3 492.7 L425.5 494.5 L425.7 496.0 L425.9 497.1 L426.2 497.8 L426.4 497.8 L426.6 497.0 L426.8 494.9 L427.0 491.3 L427.3 486.2 L427.5 479.8 L427.7 472.7 L427.9 465.7 L428.2 459.9 L428.4 456.2 L428.6 455.3 L428.6 455.4 L428.8 457.4 L429.1 461.9 L429.3 467.9 L429.5 474.4 L429.7 480.1 L430.0 484.2 L430.2 486.3 L430.4 486.4 L430.6 485.0 L430.9 482.9 L431.1 481.0 L431.2 480.2 L431.3 480.0 L431.5 480.3 L431.8 482.0 L432.0 484.9 L432.2 488.4 L432.4 492.0 L432.7 495.1 L432.9 497.3 L433.1 498.6 L433.3 499.0 L433.6 498.4 L433.8 497.3 L434.0 495.9 L434.2 494.5 L434.5 493.6 L434.7 493.3 L434.9 493.7 L435.1 494.8 L435.3 496.2 L435.6 497.5 L435.8 498.3 L436.0 498.2 L436.2 497.1 L436.5 495.2 L436.7 493.2 L436.9 492.0 L437.0 491.9 L437.1 492.2 L437.4 493.7 L437.6 496.3 L437.8 499.0 L438.0 501.3 L438.3 502.7 L438.5 503.1 L438.7 502.7 L438.9 501.5 L439.2 499.7 L439.4 497.3 L439.6 494.5 L439.8 491.5 L440.0 489.6 L440.1 488.6 L440.3 486.1 L440.5 484.5 L440.7 484.1 L440.7 484.2 L441.0 485.2 L441.1 486.6 L441.2 487.6 L441.4 491.0 L441.6 494.8 L441.9 498.6 L442.1 502.0 L442.3 504.6 L442.5 506.4 L442.8 507.5 L443.0 508.0 L443.2 507.9 L443.4 507.2 L443.6 505.8 L443.9 503.6 L444.1 500.4 L444.3 496.2 L444.5 491.2 L444.8 486.2 L445.0 482.1 L445.1 481.2 L445.2 480.3 L445.2 479.9 L445.3 479.7 L445.4 479.9 L445.7 481.8 L445.9 484.4 L446.1 486.9 L446.3 488.5 L446.6 489.0 L446.6 489.0 L446.8 488.6 L447.0 487.8 L447.1 487.3 L447.2 486.7 L447.5 485.6 L447.7 484.6 L447.9 484.2 L448.1 484.5 L448.3 485.3 L448.4 485.8 L448.6 488.1 L448.8 491.2 L449.0 494.7 L449.3 498.2 L449.5 501.0 L449.7 502.6 L449.9 502.5 L450.2 500.4 L450.4 495.8 L450.6 488.9 L450.8 480.3 L451.0 471.1 L451.3 463.2 L451.4 459.5 L451.5 458.6 L451.7 458.0 L451.7 458.3 L451.9 462.5 L452.2 470.0 L452.4 479.0 L452.6 487.9 L452.8 495.6 L453.1 501.5 L453.3 505.8 L453.5 508.7 L453.7 510.5 L454.0 511.7 L454.2 512.4 L454.4 512.7 L454.6 512.9 L454.9 513.1 L455.1 513.1 L455.3 513.1 L455.5 513.2 L455.8 513.2 L456.0 513.2 L456.2 513.2 L456.4 513.2 L456.7 513.2 L456.9 513.2 L457.1 513.2 L457.3 513.2 L457.6 513.2 L457.8 513.2 L458.0 513.3 L458.2 513.3 L458.5 513.3 L458.7 513.3 L458.9 513.3 L459.1 513.3 L459.3 513.3 L459.6 513.3 L459.8 513.3 L460.0 513.3 L460.2 513.3 L460.5 513.3 L460.7 513.3 L460.9 513.3 L461.1 513.3 L461.4 513.3 L461.6 513.3 L461.8 513.3 L462.0 513.2 L462.3 513.0 L462.5 512.7 L462.7 512.0 L462.9 510.7 L463.2 508.3 L463.4 504.3 L463.6 498.1 L463.8 488.9 L464.1 476.7 L464.3 461.7 L464.5 445.0 L464.7 428.3 L465.0 413.9 L465.2 404.2 L465.4 400.7 L465.6 404.2 L465.9 413.9 L466.1 428.3 L466.3 445.0 L466.5 461.7 L466.8 476.7 L467.0 488.9 L467.2 498.1 L467.4 504.3 L467.6 508.4 L467.9 510.7 L468.1 512.0 L468.3 512.7 L468.5 513.1 L468.8 513.2 L469.0 513.3 L469.2 513.3 L469.4 513.3 L469.7 513.3 L469.9 513.3 L470.1 513.3 L470.3 513.3 L470.6 513.3 L470.8 513.3 L471.0 513.3 L471.2 513.3 L471.5 513.3 L471.7 513.3 L471.9 513.3 L472.1 513.3 L472.4 513.3 L472.6 513.3 L472.8 513.3 L473.0 513.3 L473.3 513.3 L473.5 513.3 L473.7 513.3 L473.9 513.3 L474.2 513.3 L474.4 513.3 L474.6 513.3 L474.8 513.3 L475.0 513.3 L475.3 513.3 L475.5 513.3 L475.7 513.3 L475.9 513.3 L476.2 513.3 L476.4 513.3 L476.6 513.3 L476.8 513.3 L477.1 513.3 L477.3 513.3 L477.5 513.3 L477.7 513.3 L478.0 513.3 L478.2 513.3 L478.4 513.3 L478.6 513.3 L478.9 513.3 L479.1 513.3 L479.3 513.3 L479.5 513.3 L479.8 513.3 L480.0 513.3 L480.2 513.3 L480.4 513.3 L480.7 513.3 L480.9 513.3 L481.1 513.3 L481.3 513.3 L481.6 513.3 L481.8 513.3 L482.0 513.3 L482.2 513.3 L482.5 513.3 L482.7 513.3 L482.9 513.3 L483.1 513.3 L483.3 513.3 L483.6 513.3 L483.8 513.3 L484.0 513.2 L484.2 513.0 L484.5 512.5 L484.7 511.5 L484.9 509.5 L485.1 505.5 L485.4 498.4 L485.6 486.3 L485.8 467.0 L486.0 438.3 L486.3 398.6 L486.5 347.5 L486.7 286.8 L486.9 221.0 L487.2 156.9 L487.4 102.6 L487.6 66.2 L487.8 53.3 L488.1 66.2 L488.3 102.6 L488.5 156.9 L488.7 221.0 L489.0 286.8 L489.2 347.5 L489.4 398.6 L489.6 438.3 L489.9 467.0 L490.1 486.3 L490.3 498.4 L490.5 505.5 L490.8 509.5 L491.0 511.5 L491.2 512.5 L491.4 513.0 L491.6 513.2 L491.9 513.3 L492.1 513.3 L492.3 513.3 L492.5 513.3 L492.8 513.3 L493.0 513.3 L493.2 513.3 L493.4 513.3 L493.7 513.3 L493.9 513.3 L494.1 513.3 L494.3 513.3 L494.6 513.3 L494.8 513.3 L495.0 513.3 L495.2 513.3 L495.5 513.3 L495.7 513.3 L495.9 513.3 L496.1 513.3 L496.4 513.3 L496.6 513.3 L496.8 513.3 L497.0 513.3 L497.3 513.3 L497.5 513.3 L497.7 513.3 L497.9 513.3 L498.2 513.3 L498.4 513.3 L498.6 513.3 L498.8 513.3 L499.0 513.3 L499.3 513.3 L499.5 513.3 L499.7 513.3 L499.9 513.3 L500.2 513.3 L500.4 513.3 L500.6 513.3 L500.8 513.3 L501.1 513.3 L501.3 513.3 L501.5 513.3 L501.7 513.3 L502.0 513.3 L502.2 513.3 L502.4 513.3 L502.6 513.3 L502.9 513.3 L503.1 513.3 L503.3 513.3 L503.5 513.3 L503.8 513.3 L504.0 513.3 L504.2 513.3 L504.4 513.3 L504.7 513.3 L504.9 513.3 L505.1 513.3 L505.3 513.3 L505.6 513.3 L505.8 513.3 L506.0 513.3 L506.2 513.3 L506.5 513.3 L506.7 513.3 L506.9 513.3 L507.1 513.3 L507.3 513.3 L507.6 513.3 L507.8 513.3 L508.0 513.3 L508.2 513.3 L508.5 513.3 L508.7 513.3 L508.9 513.3 L509.1 513.3 L509.4 513.3 L509.6 513.3 L509.8 513.3 L510.0 513.3 L510.3 513.3 L510.5 513.3 L510.7 513.3 L510.9 513.3 L511.2 513.3 L511.4 513.3 L511.6 513.3 L511.8 513.3 L512.1 513.3 L512.3 513.3 L512.5 513.3 L512.7 513.3 L513.0 513.3 L513.2 513.3 L513.4 513.3 L513.6 513.3 L513.9 513.3 L514.1 513.3 L514.3 513.3 L514.5 513.3 L514.8 513.3 L515.0 513.3 L515.2 513.3 L515.4 513.3 L515.6 513.3 L515.9 513.3 L516.1 513.3 L516.3 513.3 L516.5 513.3 L516.8 513.3 L517.0 513.3 L517.2 513.3 L517.4 513.3 L517.7 513.3 L517.9 513.3 L518.1 513.3 L518.3 513.3 L518.6 513.3 L518.8 513.3 L519.0 513.3 L519.2 513.3 L519.5 513.3 L519.7 513.2 L519.9 513.1 L520.1 512.8 L520.4 512.2 L520.6 511.0 L520.8 508.7 L521.0 504.6 L521.3 497.6 L521.5 486.2 L521.7 469.1 L521.9 444.7 L522.2 412.3 L522.4 372.0 L522.6 325.6 L522.8 276.5 L523.0 229.5 L523.3 190.4 L523.5 164.4 L523.7 155.3 L523.9 164.4 L524.2 190.4 L524.4 229.5 L524.6 276.5 L524.8 325.6 L525.1 372.0 L525.3 412.3 L525.5 444.7 L525.7 469.1 L526.0 486.2 L526.2 497.6 L526.4 504.6 L526.6 508.7 L526.9 511.0 L527.1 512.2 L527.3 512.8 L527.5 513.1 L527.8 513.2 L528.0 513.3 L528.2 513.3 L528.4 513.3 L528.7 513.3 L528.9 513.3 L529.1 513.3 L529.3 513.3 L529.6 513.3 L529.8 513.3 L530.0 513.3 L530.2 513.3 L530.5 513.3 L530.7 513.3 L530.9 513.3 L531.1 513.3 L531.3 513.3 L531.6 513.3 L531.8 513.3 L532.0 513.3 L532.2 513.3 L532.5 513.3 L532.7 513.3 L532.9 513.3 L533.1 513.3 L533.4 513.3 L533.6 513.3 L533.8 513.3 L534.0 513.3 L534.3 513.3 L534.5 513.3 L534.7 513.3 L534.9 513.3 L535.2 513.3 L535.4 513.3 L535.6 513.3 L535.8 513.3 L536.1 513.3 L536.3 513.3 L536.5 513.3 L536.7 513.3 L537.0 513.3 L537.2 513.3 L537.4 513.3 L537.6 513.3 L537.9 513.3 L538.1 513.3 L538.3 513.3 L538.5 513.3 L538.8 513.3 L539.0 513.3 L539.2 513.3 L539.4 513.3 L539.6 513.3 L539.9 513.3 L540.1 513.3 L540.3 513.3 L540.5 513.3 L540.8 513.3 L541.0 513.3 L541.2 513.3 L541.4 513.3 L541.7 513.3 L541.9 513.3 L542.1 513.3 L542.3 513.3 L542.6 513.3 L542.8 513.3 L543.0 513.3 L543.2 513.3 L543.5 513.3 L543.7 513.3 L543.9 513.3 L544.1 513.3 L544.4 513.3 L544.6 513.3 L544.8 513.3 L545.0 513.3 L545.3 513.3 L545.5 513.3 L545.7 513.3 L545.9 513.3 L546.2 513.3 L546.4 513.3 L546.6 513.3 L546.8 513.3 L547.0 513.3 L547.3 513.3 L547.5 513.3 L547.7 513.3 L547.9 513.3 L548.2 513.3 L548.4 513.3 L548.6 513.3 L548.8 513.3 L549.1 513.3 L549.3 513.3 L549.5 513.3 L549.7 513.3 L550.0 513.3 L550.2 513.3 L550.4 513.3 L550.6 513.3 L550.9 513.3 L551.1 513.3 L551.3 513.3 L551.5 513.3 L551.8 513.3 L552.0 513.3 L552.2 513.3 L552.4 513.3 L552.7 513.3 L552.9 513.3 L553.1 513.3 L553.3 513.3 L553.6 513.3 L553.8 513.3 L554.0 513.3 L554.2 513.3 L554.5 513.3 L554.7 513.3 L554.9 513.3 L555.1 513.3 L555.3 513.3 L555.6 513.3 L555.8 513.3 L556.0 513.3 L556.2 513.3 L556.5 513.3 L556.7 513.3 L556.9 513.3 L557.1 513.3 L557.4 513.3 L557.6 513.3 L557.8 513.3 L558.0 513.3 L558.3 513.3 L558.5 513.3 L558.7 513.3 L558.9 513.3 L559.2 513.3 L559.4 513.3 L559.6 513.3 L559.8 513.3 L560.1 513.3 L560.3 513.3 L560.5 513.3 L560.7 513.3 L561.0 513.3 L561.2 513.3 L561.4 513.3 L561.6 513.3 L561.9 513.3 L562.1 513.3 L562.3 513.3 L562.5 513.3 L562.8 513.3 L563.0 513.3 L563.2 513.3 L563.4 513.3 L563.6 513.3 L563.9 513.3 L564.1 513.3 L564.3 513.3 L564.5 513.3 L564.8 513.3 L565.0 513.3 L565.2 513.3 L565.4 513.3 L565.7 513.3 L565.9 513.3 L566.1 513.3 L566.3 513.3 L566.6 513.3 L566.8 513.3 L567.0 513.3 L567.2 513.3 L567.5 513.3 L567.7 513.3 L567.9 513.3 L568.1 513.3 L568.4 513.3 L568.6 513.3 L568.8 513.3 L569.0 513.3 L569.3 513.3 L569.5 513.3 L569.7 513.3 L569.9 513.3 L570.2 513.3 L570.4 513.3 L570.6 513.3 L570.8 513.3 L571.0 513.3 L571.3 513.3 L571.5 513.3 L571.7 513.3 L571.9 513.3 L572.2 513.3 L572.4 513.3 L572.6 513.3 L572.8 513.3 L573.1 513.3 L573.3 513.3 L573.5 513.3 L573.7 513.3 L574.0 513.3 L574.2 513.3 L574.4 513.3 L574.6 513.3 L574.9 513.3 L575.1 513.3 L575.3 513.3 L575.5 513.3 L575.8 513.3 L576.0 513.3 L576.2 513.3 L576.4 513.3 L576.7 513.3 L576.9 513.3 L577.1 513.3 L577.3 513.3 L577.6 513.3 L577.8 513.3 L578.0 513.3 L578.2 513.3 L578.5 513.3 L578.7 513.3 L578.9 513.3 L579.1 513.3 L579.3 513.3 L579.6 513.3 L579.8 513.3 L580.0 513.3 L580.2 513.3 L580.5 513.3 L580.7 513.3 L580.9 513.3 L581.1 513.3 L581.4 513.3 L581.6 513.3 L581.8 513.3 L582.0 513.3 L582.3 513.3 L582.5 513.3 L582.7 513.3 L582.9 513.3 L583.2 513.3 L583.4 513.3 L583.6 513.3 L583.8 513.3 L584.1 513.3 L584.3 513.3 L584.5 513.3 L584.7 513.3 L585.0 513.3 L585.2 513.3 L585.4 513.3 L585.6 513.3 L585.9 513.3 L586.1 513.3 L586.3 513.3 L586.5 513.3 L586.8 513.3 L587.0 513.3 L587.2 513.3 L587.4 513.3 L587.6 513.3 L587.9 513.3 L588.1 513.3 L588.3 513.3 L588.5 513.3 L588.8 513.3 L589.0 513.3 L589.2 513.3 L589.4 513.3 L589.7 513.3 L589.9 513.3 L590.1 513.3 L590.3 513.3 L590.6 513.3 L590.8 513.3 L591.0 513.3 L591.2 513.3 L591.5 513.3 L591.7 513.3 L591.9 513.3 L592.1 513.3 L592.4 513.3 L592.6 513.3 L592.8 513.3 L593.0 513.3 L593.3 513.3 L593.5 513.3 L593.7 513.3 L593.9 513.3 L594.2 513.3 L594.4 513.3 L594.6 513.3 L594.8 513.3 L595.0 513.3 L595.3 513.3 L595.5 513.3 L595.7 513.3 L595.9 513.3 L596.2 513.3 L596.4 513.3 L596.6 513.3 L596.8 513.3 L597.1 513.3 L597.3 513.3 L597.5 513.3 L597.7 513.3 L598.0 513.3 L598.2 513.3 L598.4 513.3 L598.6 513.3 L598.9 513.3 L599.1 513.3 L599.3 513.3 L599.5 513.3 L599.8 513.3 L600.0 513.3 L600.2 513.3 L600.4 513.3 L600.7 513.3 L600.9 513.3 L601.1 513.3 L601.3 513.3 L601.6 513.3 L601.8 513.3 L602.0 513.3 L602.2 513.3 L602.5 513.3 L602.7 513.3 L602.9 513.3 L603.1 513.3 L603.3 513.3 L603.6 513.3 L603.8 513.3 L604.0 513.3 L604.2 513.3 L604.5 513.3 L604.7 513.3 L604.9 513.3 L605.1 513.3 L605.4 513.3 L605.6 513.3 L605.8 513.3 L606.0 513.3 L606.3 513.3 L606.5 513.3 L606.7 513.3 L606.9 513.3 L607.2 513.3 L607.4 513.3 L607.6 513.3 L607.8 513.3 L608.1 513.3 L608.3 513.3 L608.5 513.3 L608.7 513.3 L609.0 513.3 L609.2 513.3 L609.4 513.3 L609.6 513.3 L609.9 513.3 L610.1 513.3 L610.3 513.3 L610.5 513.3 L610.8 513.3 L611.0 513.3 L611.2 513.3 L611.4 513.3 L611.6 513.3 L611.9 513.3 L612.1 513.3 L612.3 513.3 L612.5 513.3 L612.8 513.3 L613.0 513.3 L613.2 513.3 L613.4 513.3 L613.7 513.3 L613.9 513.3 L614.1 513.3 L614.3 513.3 L614.6 513.3 L614.8 513.3 L615.0 513.3 L615.2 513.3 L615.5 513.3 L615.7 513.3 L615.9 513.3 L616.1 513.3 L616.4 513.3 L616.6 513.3 L616.8 513.3 L617.0 513.3 L617.3 513.3 L617.5 513.3 L617.7 513.3 L617.9 513.3 L618.2 513.3 L618.4 513.3 L618.6 513.3 L618.8 513.3 L619.0 513.3 L619.3 513.3 L619.5 513.3 L619.7 513.3 L619.9 513.3 L620.2 513.3 L620.4 513.3 L620.6 513.3 L620.8 513.3 L621.1 513.3 L621.3 513.3 L621.5 513.3 L621.7 513.3 L622.0 513.3 L622.2 513.3 L622.4 513.3 L622.6 513.3 L622.9 513.3 L623.1 513.3 L623.3 513.3 L623.5 513.3 L623.8 513.3 L624.0 513.3 L624.2 513.3 L624.4 513.3 L624.7 513.3 L624.9 513.3 L625.1 513.3 L625.3 513.3 L625.6 513.3 L625.8 513.3 L626.0 513.3 L626.2 513.3 L626.5 513.3 L626.7 513.3 L626.9 513.3 L627.1 513.3 L627.3 513.3 L627.6 513.3 L627.8 513.3 L628.0 513.3 L628.2 513.3 L628.5 513.3 L628.7 513.3 L628.9 513.3 L629.1 513.3 L629.4 513.3 L629.6 513.3 L629.8 513.3 L630.0 513.3 L630.3 513.3 L630.5 513.3 L630.7 513.3 L630.9 513.3 L631.2 513.3 L631.4 513.3 L631.6 513.3 L631.8 513.3 L632.1 513.3 L632.3 513.3 L632.5 513.3 L632.7 513.3 L633.0 513.3 L633.2 513.3 L633.4 513.3 L633.6 513.3 L633.9 513.3 L634.1 513.3 L634.3 513.3 L634.5 513.3 L634.8 513.3 L635.0 513.3 L635.2 513.3 L635.4 513.3 L635.6 513.3 L635.9 513.3 L636.1 513.3 L636.3 513.3 L636.5 513.3 L636.8 513.3 L637.0 513.3 L637.2 513.3 L637.4 513.3 L637.7 513.3 L637.9 513.3 L638.1 513.3 L638.3 513.3 L638.6 513.3 L638.8 513.3 L639.0 513.3 L639.2 513.3 L639.5 513.3 L639.7 513.3 L639.9 513.3 L640.1 513.3 L640.4 513.3 L640.6 513.3 L640.8 513.3 L641.0 513.3 L641.3 513.3 L641.5 513.3 L641.7 513.3 L641.9 513.3 L642.2 513.3 L642.4 513.3 L642.6 513.3 L642.8 513.3 L643.1 513.3 L643.3 513.3 L643.5 513.3 L643.7 513.3 L643.9 513.3 L644.2 513.3 L644.4 513.3 L644.6 513.3 L644.8 513.3 L645.1 513.3 L645.3 513.3 L645.5 513.3 L645.7 513.3 L646.0 513.3 L646.2 513.3 L646.4 513.3 L646.6 513.3 L646.9 513.3 L647.1 513.3 L647.3 513.3 L647.5 513.3 L647.8 513.3 L648.0 513.3 L648.2 513.3 L648.4 513.3 L648.7 513.3 L648.9 513.3 L649.1 513.3 L649.3 513.3 L649.6 513.3 L649.8 513.3 L650.0 513.3 L650.2 513.3 L650.5 513.3 L650.7 513.3 L650.9 513.3 L651.1 513.3 L651.3 513.3 L651.6 513.3 L651.8 513.3 L652.0 513.3 L652.2 513.3 L652.5 513.3 L652.7 513.3 L652.9 513.3 L653.1 513.3 L653.4 513.3 L653.6 513.3 L653.8 513.3 L654.0 513.3 L654.3 513.3 L654.5 513.3 L654.7 513.3 L654.9 513.3 L655.2 513.3 L655.4 513.3 L655.6 513.3 L655.8 513.3 L656.1 513.3 L656.3 513.3 L656.5 513.3 L656.7 513.3 L657.0 513.3 L657.2 513.3 L657.4 513.3 L657.6 513.3 L657.9 513.3 L658.1 513.3 L658.3 513.3 L658.5 513.3 L658.8 513.3 L659.0 513.3 L659.2 513.3 L659.4 513.3 L659.6 513.3 L659.9 513.3 L660.1 513.3 L660.3 513.3 L660.5 513.3 L660.8 513.3 L661.0 513.3 L661.2 513.3 L661.4 513.3 L661.7 513.3 L661.9 513.3 L662.1 513.3 L662.3 513.3 L662.6 513.3 L662.8 513.3 L663.0 513.3 L663.2 513.3 L663.5 513.3 L663.7 513.3 L663.9 513.3 L664.1 513.3 L664.4 513.3 L664.6 513.3 L664.8 513.3 L665.0 513.3 L665.3 513.3 L665.5 513.3 L665.7 513.3 L665.9 513.3 L666.2 513.3 L666.4 513.3 L666.6 513.3 L666.8 513.3 L667.1 513.3 L667.3 513.3 L667.5 513.3 L667.7 513.3 L667.9 513.3 L668.2 513.3 L668.4 513.3 L668.6 513.3 L668.8 513.3 L669.1 513.3 L669.3 513.3 L669.5 513.3 L669.7 513.3 L670.0 513.3 L670.2 513.3 L670.4 513.3 L670.6 513.3 L670.9 513.3 L671.1 513.3 L671.3 513.3 L671.5 513.3 L671.8 513.3 L672.0 513.3 L672.2 513.3 L672.4 513.3 L672.7 513.3 L672.9 513.3 L673.1 513.3 L673.3 513.3 L673.6 513.3 L673.8 513.3 L674.0 513.3 L674.2 513.3 L674.5 513.3 L674.7 513.3 L674.9 513.3 L675.1 513.3 L675.3 513.3 L675.6 513.3 L675.8 513.3 L676.0 513.3 L676.2 513.3 L676.5 513.3 L676.7 513.3 L676.9 513.3 L677.1 513.3 L677.4 513.3 L677.6 513.3 L677.8 513.3 L678.0 513.3 L678.3 513.3 L678.5 513.3 L678.7 513.3 L678.9 513.3 L679.2 513.3 L679.4 513.3 L679.6 513.3 L679.8 513.3 L680.1 513.3 L680.3 513.3 L680.5 513.3 L680.7 513.3 L681.0 513.3 L681.2 513.3 L681.4 513.3 L681.6 513.3 L681.9 513.3 L682.1 513.3 L682.3 513.3 L682.5 513.3 L682.8 513.3 L683.0 513.3 L683.2 513.3 L683.4 513.3 L683.6 513.3 L683.9 513.3 L684.1 513.3 L684.3 513.3 L684.5 513.3 L684.8 513.3 L685.0 513.3 L685.2 513.3 L685.4 513.3 L685.7 513.3 L685.9 513.3 L686.1 513.3 L686.3 513.3 L686.6 513.3 L686.8 513.3 L687.0 513.3 L687.2 513.3 L687.5 513.3 L687.7 513.3 L687.9 513.3 L688.1 513.3 L688.4 513.3 L688.6 513.3 L688.8 513.3 L689.0 513.3 L689.3 513.3 L689.5 513.3 L689.7 513.3 L689.9 513.3 L690.2 513.3 L690.4 513.3 L690.6 513.3 L690.8 513.3 L691.1 513.3 L691.3 513.3 L691.5 513.3 L691.7 513.3 L691.9 513.3 L692.2 513.3 L692.4 513.3 L692.6 513.3 L692.8 513.3 L693.1 513.3 L693.3 513.3 L693.5 513.3 L693.7 513.3 L694.0 513.3 L694.2 513.3 L694.4 513.3 L694.6 513.3 L694.9 513.3 L695.1 513.3 L695.3 513.3 L695.5 513.3 L695.8 513.3 L696.0 513.3 L696.2 513.3 L696.4 513.3 L696.7 513.3 L696.9 513.3 L697.1 513.3 L697.3 513.3 L697.6 513.3 L697.8 513.3 L698.0 513.3 L698.2 513.3 L698.5 513.3 L698.7 513.3 L698.9 513.3 L699.1 513.3 L699.3 513.3 L699.6 513.3 L699.8 513.3 L700.0 513.3 L700.2 513.3 L700.5 513.3 L700.7 513.3 L700.9 513.3 L701.1 513.3 L701.4 513.3 L701.6 513.3 L701.8 513.3 L702.0 513.3 L702.3 513.3 L702.5 513.3 L702.7 513.3 L702.9 513.3 L703.2 513.3 L703.4 513.3 L703.6 513.3 L703.8 513.3 L704.1 513.3 L704.3 513.3 L704.5 513.3 L704.7 513.3 L705.0 513.3 L705.2 513.3 L705.4 513.3 L705.6 513.3 L705.9 513.3 L706.1 513.3 L706.3 513.3 L706.5 513.3 L706.8 513.3 L707.0 513.3 L707.2 513.3 L707.4 513.3 L707.6 513.3 L707.9 513.3 L708.1 513.3 L708.3 513.3 L708.5 513.3 L708.8 513.3 L709.0 513.3 L709.2 513.3 L709.4 513.3 L709.7 513.3 L709.9 513.3 L710.1 513.3 L710.3 513.3 L710.6 513.3 L710.8 513.3 L711.0 513.3 L711.2 513.3 L711.5 513.3 L711.7 513.3 L711.9 513.3 L712.1 513.3 L712.4 513.3 L712.6 513.3 L712.8 513.3 L713.0 513.3 L713.3 513.3 L713.5 513.3 L713.7 513.3 L713.9 513.3 L714.2 513.3 L714.4 513.3 L714.6 513.3 L714.8 513.3 L715.1 513.3 L715.3 513.3 L715.5 513.3 L715.7 513.3 L715.9 513.3 L716.2 513.3 L716.4 513.3 L716.6 513.3 L716.8 513.3 L717.1 513.3 L717.3 513.3 L717.5 513.3 L717.7 513.3 L718.0 513.3 L718.2 513.3 L718.4 513.3 L718.6 513.3 L718.9 513.3 L719.1 513.3 L719.3 513.3 L719.5 513.3 L719.8 513.3 L720.0 513.3 L720.2 513.3 L720.4 513.3 L720.7 513.3 L720.9 513.3 L721.1 513.3 L721.3 513.3 L721.6 513.3 L721.8 513.3 L722.0 513.3 L722.2 513.3 L722.5 513.3 L722.7 513.3 L722.9 513.3 L723.1 513.3 L723.3 513.3 L723.6 513.3 L723.8 513.3 L724.0 513.3 L724.2 513.3 L724.5 513.3 L724.7 513.3 L724.9 513.3 L725.1 513.3 L725.4 513.3 L725.6 513.3 L725.8 513.3 L726.0 513.3 L726.3 513.3 L726.5 513.3 L726.7 513.3 L726.9 513.3 L727.2 513.3 L727.4 513.3 L727.6 513.3 L727.8 513.3 L728.1 513.3 L728.3 513.3 L728.5 513.3 L728.7 513.3 L729.0 513.3 L729.2 513.3 L729.4 513.3 L729.6 513.3 L729.9 513.3 L730.1 513.3 L730.3 513.3 L730.5 513.3 L730.8 513.3 L731.0 513.3 L731.2 513.3 L731.4 513.3 L731.6 513.3 L731.9 513.3 L732.1 513.3 L732.3 513.3 L732.5 513.3 L732.8 513.3 L733.0 513.3 L733.2 513.3 L733.4 513.3 L733.7 513.3 L733.9 513.3 L734.1 513.3 L734.3 513.3 L734.6 513.3 L734.8 513.3 L735.0 513.3 L735.2 513.3 L735.5 513.3 L735.7 513.3 L735.9 513.3 L736.1 513.3 L736.4 513.3 L736.6 513.3 L736.8 513.3 L737.0 513.3 L737.3 513.3 L737.5 513.3 L737.7 513.3 L737.9 513.3 L738.2 513.3 L738.4 513.3 L738.6 513.3 L738.8 513.3 L739.1 513.3 L739.3 513.3 L739.5 513.3 L739.7 513.3 L739.9 513.3 L740.2 513.3 L740.4 513.3 L740.6 513.3 L740.8 513.3 L741.1 513.3 L741.3 513.3 L741.5 513.3 L741.7 513.3 L742.0 513.3 L742.2 513.3 L742.4 513.3 L742.6 513.3 L742.9 513.3 L743.1 513.3 L743.3 513.3 L743.5 513.3 L743.8 513.3 L744.0 513.3 L744.2 513.3 L744.4 513.3 L744.7 513.3 L744.9 513.3 L745.1 513.3 L745.3 513.3 L745.6 513.3 L745.8 513.3 L746.0 513.3 L746.2 513.3 L746.5 513.3 L746.7 513.3 L746.9 513.3 L747.1 513.3 L747.3 513.3 L747.6 513.3 L747.8 513.3 L748.0 513.3 L748.2 513.3 L748.5 513.3 L748.7 513.3 L748.9 513.3 L749.1 513.3 L749.4 513.3 L749.6 513.3 L749.8 513.3 L750.0 513.3 L750.3 513.3 L750.5 513.3 L750.7 513.3 L750.9 513.3 L751.2 513.3 L751.4 513.3 L751.6 513.3 L751.8 513.3 L752.1 513.3 L752.3 513.3 L752.5 513.3 L752.7 513.3 L753.0 513.3 L753.2 513.3 L753.4 513.3 L753.6 513.3 L753.9 513.3 L754.1 513.3 L754.3 513.3 L754.5 513.3 L754.8 513.3 L755.0 513.3 L755.2 513.3 L755.4 513.3 L755.6 513.3 L755.9 513.3 L756.1 513.3 L756.3 513.3 L756.5 513.3 L756.8 513.3 L757.0 513.3 L757.2 513.3 L757.4 513.3 L757.7 513.3 L757.9 513.3 L758.1 513.3 L758.3 513.3 L758.6 513.3 L758.8 513.3 L759.0 513.3 L759.2 513.3 L759.5 513.3 L759.7 513.3 L759.9 513.3 L760.1 513.3 L760.4 513.3 L760.6 513.3 L760.8 513.3 L761.0 513.3 L761.3 513.3 L761.5 513.3 L761.7 513.3 L761.9 513.3 L762.2 513.3 L762.4 513.3 L762.6 513.3 L762.8 513.3 L763.1 513.3 L763.3 513.3 L763.5 513.3 L763.7 513.3 L763.9 513.3 L764.2 513.3 L764.4 513.3 L764.6 513.3 L764.8 513.3 L765.1 513.3 L765.3 513.3 L765.5 513.3 L765.7 513.3 L766.0 513.3 L766.2 513.3 L766.4 513.3 L766.6 513.3 L766.9 513.3 L767.1 513.3 L767.3 513.3 L767.5 513.3 L767.8 513.3 L768.0 513.2 L768.2 513.0 L768.4 512.5 L768.7 511.6 L768.9 509.7 L769.1 506.5 L769.3 501.7 L769.6 495.3 L769.8 488.0 L770.0 480.9 L770.2 475.6 L770.5 473.3 L770.7 474.2 L770.9 477.4 L771.1 481.2 L771.3 483.8 L771.6 483.8 L771.8 481.3 L772.0 477.5 L772.2 474.2 L772.5 473.3 L772.7 475.6 L772.9 480.8 L773.1 487.6 L773.4 494.6 L773.6 500.4 L773.8 504.3 L774.0 506.1 L774.3 506.2 L774.5 504.9 L774.7 502.9 L774.9 500.6 L775.2 498.4 L775.4 496.7 L775.6 495.3 L775.8 493.5 L776.1 489.6 L776.3 481.7 L776.5 467.9 L776.7 448.6 L777.0 427.5 L777.2 410.8 L777.4 404.7 L777.6 411.4 L777.9 427.2 L778.1 444.5 L778.3 455.2 L778.5 454.9 L778.8 444.7 L779.0 430.6 L779.2 420.2 L779.3 418.3 L779.4 419.0 L779.6 427.8 L779.9 442.9 L780.1 458.7 L780.3 471.2 L780.5 479.0 L780.8 483.0 L781.0 485.3 L781.2 487.4 L781.4 490.1 L781.7 493.5 L781.9 497.5 L782.1 501.3 L782.3 504.8 L782.6 507.7 L782.8 509.8 L783.0 511.2 L783.2 512.2 L783.5 512.7 L783.7 513.0 L783.9 513.2 L784.1 513.2 L784.4 513.3 L784.6 513.3 L784.8 513.3 L785.0 513.3 L785.3 513.3 L785.5 513.3 L785.7 513.3 L785.9 513.3 L786.2 513.3 L786.4 513.3 L786.6 513.3 L786.8 513.3 L787.1 513.3 L787.3 513.3 L787.5 513.3 L787.7 513.3 L787.9 513.3 L788.2 513.3 L788.4 513.3 L788.6 513.3 L788.8 513.3 L789.1 513.3 L789.3 513.3 L789.5 513.3 L789.7 513.3 L790.0 513.3 L790.2 513.3 L790.4 513.3 L790.6 513.3 L790.9 513.3 L791.1 513.3 L791.3 513.3 L791.5 513.3 L791.8 513.3 L792.0 513.3 L792.2 513.3 L792.4 513.3 L792.7 513.3 L792.9 513.3 L793.1 513.3 L793.3 513.3 L793.6 513.3 L793.8 513.3 L794.0 513.3 L794.2 513.3 L794.5 513.3 L794.7 513.3 L794.9 513.3 L795.1 513.3 L795.3 513.3 L795.6 513.3 L795.8 513.3 L796.0 513.3 L796.2 513.3 L796.5 513.3 L796.7 513.3 L796.9 513.3 L797.1 513.3 L797.4 513.3 L797.6 513.3 L797.8 513.3 L798.0 513.3 L798.3 513.3 L798.5 513.3 L798.7 513.3 L798.9 513.3 L799.2 513.3 L799.4 513.3 L799.6 513.3 L799.8 513.3 L800.1 513.3 L800.3 513.3 L800.5 513.3 L800.7 513.3 L801.0 513.3 L801.2 513.3 L801.4 513.3 L801.6 513.3 L801.9 513.3 L802.1 513.3 L802.3 513.3 L802.5 513.3 L802.8 513.3 L803.0 513.3 L803.2 513.3 L803.4 513.3 L803.6 513.3 L803.9 513.3 L804.1 513.3 L804.3 513.3 L804.5 513.3 L804.8 513.3 L805.0 513.3 L805.2 513.3 L805.4 513.3 L805.7 513.3 L805.9 513.3 L806.1 513.3 L806.3 513.3 L806.6 513.3 L806.8 513.3 L807.0 513.3 L807.2 513.3 L807.5 513.3 L807.7 513.3 L807.9 513.3 L808.1 513.3 L808.4 513.3 L808.6 513.3 L808.8 513.3 L809.0 513.3 L809.3 513.3 L809.5 513.3 L809.7 513.2 L809.9 513.2 L810.2 512.9 L810.4 512.3 L810.6 511.0 L810.8 508.3 L811.1 503.1 L811.3 494.0 L811.5 479.1 L811.7 456.5 L811.9 425.3 L812.2 385.7 L812.4 340.5 L812.6 294.4 L812.8 254.2 L813.1 226.5 L813.3 216.3 L813.5 225.4 L813.7 251.3 L814.0 288.1 L814.2 327.5 L814.4 361.2 L814.6 381.7 L814.9 384.2 L815.1 367.0 L815.3 331.5 L815.5 283.0 L815.8 229.6 L816.0 181.1 L816.2 147.2 L816.4 135.3 L816.7 148.1 L816.9 183.3 L817.1 234.6 L817.3 293.2 L817.6 350.8 L817.8 401.2 L818.0 441.0 L818.2 469.7 L818.5 488.7 L818.7 500.4 L818.9 506.9 L819.1 510.4 L819.3 512.0 L819.6 512.8 L819.8 513.1 L820.0 513.2 L820.2 513.3 L820.5 513.3 L820.7 513.3 L820.9 513.3" fill="none" stroke="#000" stroke-width="1.7" stroke-linejoin="round"/><path d="M58.3 513.3 L58.5 513.3 L58.7 513.3 L59.0 513.3 L59.2 513.3 L59.4 513.3 L59.6 513.3 L59.9 513.3 L60.1 513.3 L60.3 513.3 L60.5 513.3 L60.8 513.3 L61.0 513.3 L61.2 513.3 L61.4 513.3 L61.7 513.3 L61.9 513.3 L62.1 513.3 L62.3 513.3 L62.6 513.3 L62.8 513.3 L63.0 513.3 L63.2 513.3 L63.5 513.3 L63.7 513.2 L63.9 513.2 L64.1 513.1 L64.4 513.1 L64.6 513.0 L64.8 512.9 L65.0 512.9 L65.3 512.9 L65.5 513.0 L65.7 513.0 L65.9 513.1 L66.2 513.2 L66.4 513.2 L66.6 513.3 L66.8 513.3 L67.0 513.3 L67.3 513.3 L67.5 513.3 L67.7 513.3 L67.9 513.3 L68.2 513.3 L68.4 513.3 L68.6 513.2 L68.8 513.2 L69.1 513.1 L69.3 513.1 L69.5 513.0 L69.7 513.0 L70.0 513.0 L70.2 513.0 L70.4 513.0 L70.6 513.1 L70.9 513.2 L71.1 513.2 L71.3 513.2 L71.5 513.2 L71.8 513.1 L72.0 513.0 L72.2 512.7 L72.4 512.5 L72.7 512.2 L72.9 512.1 L73.1 512.0 L73.3 512.1 L73.6 512.3 L73.8 512.5 L74.0 512.8 L74.2 513.0 L74.4 513.1 L74.7 513.2 L74.9 513.3 L75.1 513.3 L75.3 513.3 L75.6 513.3 L75.8 513.3 L76.0 513.3 L76.2 513.3 L76.5 513.3 L76.7 513.3 L76.9 513.3 L77.1 513.3 L77.4 513.3 L77.6 513.3 L77.8 513.3 L78.0 513.3 L78.3 513.3 L78.5 513.3 L78.7 513.3 L78.9 513.3 L79.2 513.3 L79.4 513.3 L79.6 513.3 L79.8 513.3 L80.1 513.2 L80.3 513.2 L80.5 513.1 L80.7 513.1 L81.0 513.0 L81.2 512.9 L81.4 512.9 L81.6 512.9 L81.9 513.0 L82.1 513.0 L82.3 513.1 L82.5 513.2 L82.7 513.2 L83.0 513.3 L83.2 513.3 L83.4 513.3 L83.6 513.3 L83.9 513.3 L84.1 513.3 L84.3 513.3 L84.5 513.3 L84.8 513.3 L85.0 513.3 L85.2 513.3 L85.4 513.3 L85.7 513.3 L85.9 513.3 L86.1 513.3 L86.3 513.3 L86.6 513.3 L86.8 513.3 L87.0 513.3 L87.2 513.3 L87.5 513.3 L87.7 513.3 L87.9 513.3 L88.1 513.3 L88.4 513.3 L88.6 513.3 L88.8 513.3 L89.0 513.3 L89.3 513.3 L89.5 513.3 L89.7 513.3 L89.9 513.3 L90.2 513.3 L90.4 513.3 L90.6 513.2 L90.8 513.2 L91.0 513.1 L91.3 513.0 L91.5 513.0 L91.7 513.0 L91.9 513.0 L92.2 513.0 L92.4 513.1 L92.6 513.2 L92.8 513.2 L93.1 513.3 L93.3 513.3 L93.5 513.3 L93.7 513.3 L94.0 513.3 L94.2 513.3 L94.4 513.2 L94.6 513.2 L94.9 513.1 L95.1 513.0 L95.3 512.9 L95.5 512.8 L95.8 512.7 L96.0 512.7 L96.2 512.8 L96.4 512.9 L96.7 513.0 L96.9 513.1 L97.1 513.2 L97.3 513.3 L97.6 513.3 L97.8 513.3 L98.0 513.3 L98.2 513.3 L98.4 513.3 L98.7 513.3 L98.9 513.3 L99.1 513.3 L99.3 513.3 L99.6 513.3 L99.8 513.3 L100.0 513.3 L100.2 513.3 L100.5 513.3 L100.7 513.3 L100.9 513.3 L101.1 513.3 L101.4 513.3 L101.6 513.3 L101.8 513.3 L102.0 513.3 L102.3 513.3 L102.5 513.3 L102.7 513.3 L102.9 513.3 L103.2 513.3 L103.4 513.3 L103.6 513.3 L103.8 513.3 L104.1 513.2 L104.3 513.2 L104.5 513.1 L104.7 512.9 L105.0 512.8 L105.2 512.6 L105.4 512.6 L105.6 512.6 L105.9 512.7 L106.1 512.8 L106.3 512.9 L106.5 513.1 L106.7 513.2 L107.0 513.2 L107.2 513.3 L107.4 513.3 L107.6 513.3 L107.9 513.3 L108.1 513.3 L108.3 513.3 L108.5 513.3 L108.8 513.3 L109.0 513.3 L109.2 513.3 L109.4 513.3 L109.7 513.3 L109.9 513.3 L110.1 513.3 L110.3 513.3 L110.6 513.3 L110.8 513.3 L111.0 513.3 L111.2 513.3 L111.5 513.3 L111.7 513.3 L111.9 513.3 L112.1 513.3 L112.4 513.3 L112.6 513.3 L112.8 513.3 L113.0 513.3 L113.3 513.3 L113.5 513.3 L113.7 513.3 L113.9 513.3 L114.2 513.3 L114.4 513.3 L114.6 513.3 L114.8 513.3 L115.0 513.3 L115.3 513.3 L115.5 513.3 L115.7 513.3 L115.9 513.3 L116.2 513.3 L116.4 513.3 L116.6 513.3 L116.8 513.2 L117.1 513.2 L117.3 513.1 L117.5 513.1 L117.7 513.0 L118.0 513.0 L118.2 513.0 L118.4 513.0 L118.6 513.1 L118.9 513.1 L119.1 513.2 L119.3 513.2 L119.5 513.3 L119.8 513.3 L120.0 513.3 L120.2 513.3 L120.4 513.3 L120.7 513.3 L120.9 513.3 L121.1 513.3 L121.3 513.3 L121.6 513.3 L121.8 513.3 L122.0 513.3 L122.2 513.3 L122.4 513.3 L122.7 513.3 L122.9 513.3 L123.1 513.3 L123.3 513.3 L123.6 513.3 L123.8 513.3 L124.0 513.3 L124.2 513.3 L124.5 513.3 L124.7 513.3 L124.9 513.3 L125.1 513.3 L125.4 513.3 L125.6 513.3 L125.8 513.3 L126.0 513.3 L126.3 513.3 L126.5 513.3 L126.7 513.3 L126.9 513.3 L127.2 513.3 L127.4 513.3 L127.6 513.3 L127.8 513.3 L128.1 513.3 L128.3 513.3 L128.5 513.3 L128.7 513.3 L129.0 513.3 L129.2 513.3 L129.4 513.3 L129.6 513.3 L129.9 513.3 L130.1 513.3 L130.3 513.3 L130.5 513.3 L130.7 513.3 L131.0 513.3 L131.2 513.3 L131.4 513.3 L131.6 513.3 L131.9 513.3 L132.1 513.2 L132.3 513.2 L132.5 513.1 L132.8 513.0 L133.0 512.8 L133.2 512.6 L133.4 512.5 L133.7 512.4 L133.9 512.5 L134.1 512.5 L134.3 512.6 L134.6 512.7 L134.8 512.7 L135.0 512.6 L135.2 512.5 L135.5 512.5 L135.7 512.4 L135.9 512.5 L136.1 512.6 L136.4 512.8 L136.6 513.0 L136.8 513.1 L137.0 513.2 L137.3 513.3 L137.5 513.3 L137.7 513.3 L137.9 513.3 L138.2 513.3 L138.4 513.2 L138.6 513.2 L138.8 513.1 L139.0 512.9 L139.3 512.8 L139.5 512.6 L139.7 512.5 L139.9 512.5 L140.2 512.6 L140.4 512.7 L140.6 512.9 L140.8 513.0 L141.1 513.1 L141.3 513.2 L141.5 513.2 L141.7 513.2 L142.0 513.2 L142.2 513.1 L142.4 513.0 L142.6 512.9 L142.9 512.8 L143.1 512.7 L143.3 512.7 L143.5 512.8 L143.8 512.9 L144.0 513.0 L144.2 513.1 L144.4 513.2 L144.7 513.2 L144.9 513.2 L145.1 513.2 L145.3 513.1 L145.6 513.0 L145.8 513.0 L146.0 512.9 L146.2 512.8 L146.4 512.8 L146.7 512.9 L146.9 512.9 L147.1 513.0 L147.3 513.0 L147.6 513.0 L147.8 512.9 L148.0 512.7 L148.2 512.6 L148.5 512.4 L148.7 512.4 L148.9 512.4 L149.1 512.4 L149.4 512.4 L149.6 512.4 L149.8 512.3 L150.0 512.2 L150.3 512.2 L150.5 512.2 L150.7 512.4 L150.9 512.6 L151.2 512.7 L151.4 512.9 L151.6 512.9 L151.8 512.9 L152.1 512.8 L152.3 512.6 L152.5 512.4 L152.7 512.3 L153.0 512.3 L153.2 512.4 L153.4 512.6 L153.6 512.8 L153.9 513.0 L154.1 513.1 L154.3 513.1 L154.5 513.1 L154.7 513.0 L155.0 512.9 L155.2 512.8 L155.4 512.8 L155.6 512.8 L155.9 512.9 L156.1 513.0 L156.3 513.1 L156.5 513.2 L156.8 513.2 L157.0 513.2 L157.2 513.1 L157.4 513.0 L157.7 512.7 L157.9 512.5 L158.1 512.2 L158.3 511.9 L158.6 511.8 L158.8 511.9 L159.0 512.0 L159.2 512.3 L159.5 512.5 L159.7 512.6 L159.9 512.7 L160.1 512.6 L160.4 512.6 L160.6 512.6 L160.8 512.6 L161.0 512.7 L161.3 512.9 L161.5 513.0 L161.7 513.1 L161.9 513.2 L162.2 513.2 L162.4 513.2 L162.6 513.1 L162.8 513.0 L163.0 512.7 L163.3 512.4 L163.5 512.1 L163.7 511.8 L163.9 511.7 L164.2 511.7 L164.4 511.9 L164.6 512.2 L164.8 512.5 L165.1 512.7 L165.3 512.8 L165.5 512.8 L165.7 512.7 L166.0 512.6 L166.2 512.5 L166.4 512.4 L166.6 512.4 L166.9 512.5 L167.1 512.7 L167.3 512.9 L167.5 513.0 L167.8 513.1 L168.0 513.2 L168.2 513.2 L168.4 513.2 L168.7 513.2 L168.9 513.1 L169.1 513.0 L169.3 512.9 L169.6 512.9 L169.8 512.8 L170.0 512.9 L170.2 512.9 L170.4 513.0 L170.7 513.0 L170.9 513.0 L171.1 512.9 L171.3 512.8 L171.6 512.7 L171.8 512.5 L172.0 512.4 L172.2 512.4 L172.5 512.4 L172.7 512.4 L172.9 512.5 L173.1 512.6 L173.4 512.6 L173.6 512.7 L173.8 512.9 L174.0 513.0 L174.3 513.1 L174.5 513.1 L174.7 513.1 L174.9 513.0 L175.2 512.8 L175.4 512.5 L175.6 512.2 L175.8 512.0 L176.1 511.8 L176.3 511.9 L176.5 512.0 L176.7 512.3 L177.0 512.5 L177.2 512.7 L177.4 512.7 L177.6 512.6 L177.9 512.5 L178.1 512.3 L178.3 512.2 L178.5 512.1 L178.7 512.3 L179.0 512.4 L179.2 512.7 L179.4 512.9 L179.6 513.1 L179.9 513.2 L180.1 513.2 L180.3 513.2 L180.5 513.1 L180.8 513.0 L181.0 512.9 L181.2 512.7 L181.4 512.5 L181.7 512.4 L181.9 512.4 L182.1 512.5 L182.3 512.6 L182.6 512.8 L182.8 512.9 L183.0 513.0 L183.2 513.0 L183.5 513.0 L183.7 512.9 L183.9 512.8 L184.1 512.8 L184.4 512.8 L184.6 512.8 L184.8 512.8 L185.0 512.8 L185.3 512.7 L185.5 512.6 L185.7 512.6 L185.9 512.6 L186.2 512.7 L186.4 512.8 L186.6 513.0 L186.8 513.1 L187.0 513.2 L187.3 513.2 L187.5 513.3 L187.7 513.3 L187.9 513.2 L188.2 513.2 L188.4 513.0 L188.6 512.9 L188.8 512.7 L189.1 512.5 L189.3 512.4 L189.5 512.3 L189.7 512.3 L190.0 512.4 L190.2 512.5 L190.4 512.5 L190.6 512.4 L190.9 512.3 L191.1 512.2 L191.3 512.1 L191.5 512.2 L191.8 512.3 L192.0 512.5 L192.2 512.8 L192.4 512.9 L192.7 513.1 L192.9 513.1 L193.1 513.0 L193.3 512.9 L193.6 512.8 L193.8 512.6 L194.0 512.5 L194.2 512.5 L194.5 512.6 L194.7 512.7 L194.9 512.9 L195.1 513.0 L195.3 513.1 L195.6 513.2 L195.8 513.1 L196.0 513.1 L196.2 512.9 L196.5 512.7 L196.7 512.4 L196.9 512.2 L197.1 512.0 L197.4 511.9 L197.6 511.9 L197.8 512.0 L198.0 512.0 L198.3 512.0 L198.5 512.0 L198.7 512.0 L198.9 512.1 L199.2 512.3 L199.4 512.5 L199.6 512.7 L199.8 512.9 L200.1 513.0 L200.3 513.1 L200.5 513.1 L200.7 512.9 L201.0 512.7 L201.2 512.4 L201.4 512.1 L201.6 511.9 L201.9 511.8 L202.1 511.8 L202.3 512.0 L202.5 512.3 L202.7 512.6 L203.0 512.9 L203.2 513.0 L203.4 513.1 L203.6 513.1 L203.9 513.0 L204.1 512.8 L204.3 512.7 L204.5 512.6 L204.8 512.5 L205.0 512.6 L205.2 512.7 L205.4 512.8 L205.7 513.0 L205.9 513.1 L206.1 513.2 L206.3 513.2 L206.6 513.2 L206.8 513.1 L207.0 513.0 L207.2 512.9 L207.5 512.8 L207.7 512.7 L207.9 512.6 L208.1 512.5 L208.4 512.4 L208.6 512.2 L208.8 512.1 L209.0 511.9 L209.3 511.9 L209.5 511.9 L209.7 512.1 L209.9 512.3 L210.2 512.5 L210.4 512.6 L210.6 512.5 L210.8 512.4 L211.0 512.3 L211.3 512.3 L211.5 512.3 L211.7 512.4 L211.9 512.6 L212.2 512.7 L212.4 512.8 L212.6 512.8 L212.8 512.6 L213.1 512.4 L213.3 512.2 L213.5 512.1 L213.7 512.0 L214.0 512.1 L214.2 512.4 L214.4 512.6 L214.6 512.8 L214.9 513.0 L215.1 513.2 L215.3 513.2 L215.5 513.3 L215.8 513.3 L216.0 513.2 L216.2 513.1 L216.4 513.0 L216.7 512.8 L216.9 512.6 L217.1 512.3 L217.3 512.2 L217.6 512.2 L217.8 512.2 L218.0 512.4 L218.2 512.6 L218.5 512.8 L218.7 513.0 L218.9 513.1 L219.1 513.0 L219.3 512.9 L219.6 512.8 L219.8 512.6 L220.0 512.5 L220.2 512.5 L220.5 512.5 L220.7 512.6 L220.9 512.7 L221.1 512.8 L221.4 512.8 L221.6 512.7 L221.8 512.5 L222.0 512.3 L222.3 512.2 L222.5 512.1 L222.7 512.2 L222.9 512.4 L223.2 512.6 L223.4 512.7 L223.6 512.8 L223.8 512.8 L224.1 512.7 L224.3 512.5 L224.5 512.4 L224.7 512.3 L225.0 512.3 L225.2 512.5 L225.4 512.6 L225.6 512.8 L225.9 513.0 L226.1 513.1 L226.3 513.1 L226.5 513.0 L226.7 512.8 L227.0 512.5 L227.2 512.2 L227.4 511.9 L227.6 511.7 L227.9 511.6 L228.1 511.8 L228.3 511.9 L228.5 512.1 L228.8 512.2 L229.0 512.2 L229.2 512.1 L229.4 512.0 L229.7 512.0 L229.9 512.0 L230.1 512.1 L230.3 512.2 L230.6 512.2 L230.8 512.2 L231.0 512.1 L231.2 512.0 L231.5 512.0 L231.7 512.0 L231.9 512.2 L232.1 512.5 L232.4 512.8 L232.6 513.0 L232.8 513.1 L233.0 513.2 L233.3 513.2 L233.5 513.2 L233.7 513.1 L233.9 512.9 L234.2 512.6 L234.4 512.3 L234.6 511.9 L234.8 511.7 L235.0 511.6 L235.3 511.6 L235.5 511.8 L235.7 511.9 L235.9 512.0 L236.2 511.9 L236.4 511.6 L236.6 511.1 L236.8 510.5 L237.1 509.7 L237.3 509.0 L237.5 508.5 L237.7 508.3 L238.0 508.4 L238.2 508.7 L238.4 509.3 L238.6 509.9 L238.9 510.4 L239.1 510.9 L239.3 511.2 L239.5 511.4 L239.8 511.7 L240.0 511.9 L240.2 512.2 L240.4 512.3 L240.7 512.4 L240.9 512.4 L241.1 512.4 L241.3 512.3 L241.6 512.3 L241.8 512.4 L242.0 512.5 L242.2 512.7 L242.5 512.9 L242.7 513.0 L242.9 513.1 L243.1 513.1 L243.3 513.1 L243.6 513.0 L243.8 512.9 L244.0 512.8 L244.2 512.7 L244.5 512.8 L244.7 512.8 L244.9 512.9 L245.1 512.9 L245.4 512.9 L245.6 512.8 L245.8 512.6 L246.0 512.4 L246.3 512.1 L246.5 511.9 L246.7 511.9 L246.9 512.0 L247.2 512.2 L247.4 512.5 L247.6 512.8 L247.8 512.9 L248.1 513.0 L248.3 513.0 L248.5 512.9 L248.7 512.8 L249.0 512.7 L249.2 512.6 L249.4 512.6 L249.6 512.6 L249.9 512.8 L250.1 512.9 L250.3 513.0 L250.5 513.1 L250.7 513.1 L251.0 513.1 L251.2 512.9 L251.4 512.7 L251.6 512.4 L251.9 512.1 L252.1 511.8 L252.3 511.8 L252.5 511.8 L252.8 512.0 L253.0 512.2 L253.2 512.4 L253.4 512.5 L253.7 512.5 L253.9 512.4 L254.1 512.3 L254.3 512.3 L254.6 512.4 L254.8 512.5 L255.0 512.7 L255.2 512.9 L255.5 513.1 L255.7 513.2 L255.9 513.2 L256.1 513.2 L256.4 513.1 L256.6 512.9 L256.8 512.6 L257.0 512.3 L257.3 512.0 L257.5 511.8 L257.7 511.8 L257.9 511.9 L258.2 512.1 L258.4 512.4 L258.6 512.7 L258.8 512.9 L259.0 513.0 L259.3 513.0 L259.5 512.9 L259.7 512.7 L259.9 512.5 L260.2 512.2 L260.4 511.9 L260.6 511.7 L260.8 511.7 L261.1 511.8 L261.3 511.9 L261.5 512.1 L261.7 512.1 L262.0 512.2 L262.2 512.2 L262.4 512.3 L262.6 512.5 L262.9 512.6 L263.1 512.8 L263.3 512.9 L263.5 513.0 L263.8 512.9 L264.0 512.7 L264.2 512.4 L264.4 512.1 L264.7 511.9 L264.9 511.7 L265.1 511.7 L265.3 511.9 L265.6 512.1 L265.8 512.2 L266.0 512.2 L266.2 512.0 L266.5 511.6 L266.7 511.1 L266.9 510.4 L267.1 509.7 L267.3 509.1 L267.6 508.6 L267.8 508.3 L268.0 508.3 L268.2 508.6 L268.5 509.0 L268.7 509.6 L268.9 510.3 L269.1 510.9 L269.4 511.4 L269.6 511.8 L269.8 512.1 L270.0 512.4 L270.3 512.6 L270.5 512.8 L270.7 513.0 L270.9 513.0 L271.2 513.0 L271.4 512.8 L271.6 512.7 L271.8 512.5 L272.1 512.3 L272.3 512.2 L272.5 512.3 L272.7 512.4 L273.0 512.6 L273.2 512.8 L273.4 512.9 L273.6 513.1 L273.9 513.1 L274.1 513.1 L274.3 513.1 L274.5 512.9 L274.7 512.8 L275.0 512.6 L275.2 512.5 L275.4 512.4 L275.6 512.3 L275.9 512.3 L276.1 512.3 L276.3 512.2 L276.5 512.2 L276.8 512.1 L277.0 512.2 L277.2 512.2 L277.4 512.4 L277.7 512.6 L277.9 512.8 L278.1 512.9 L278.3 513.0 L278.6 513.0 L278.8 513.0 L279.0 512.8 L279.2 512.7 L279.5 512.4 L279.7 512.2 L279.9 512.0 L280.1 511.9 L280.4 512.0 L280.6 512.1 L280.8 512.3 L281.0 512.5 L281.3 512.7 L281.5 512.8 L281.7 512.9 L281.9 513.0 L282.2 513.0 L282.4 513.0 L282.6 513.0 L282.8 512.9 L283.0 512.9 L283.3 512.9 L283.5 512.9 L283.7 512.9 L283.9 512.8 L284.2 512.6 L284.4 512.4 L284.6 511.8 L284.8 511.0 L285.1 509.8 L285.3 508.3 L285.5 506.5 L285.7 504.8 L286.0 503.3 L286.2 502.2 L286.4 501.6 L286.6 501.4 L286.9 501.4 L287.1 501.4 L287.3 501.3 L287.5 501.2 L287.8 501.2 L287.9 501.3 L288.0 501.5 L288.2 502.2 L288.4 503.3 L288.7 504.7 L288.9 506.0 L289.1 507.1 L289.3 507.7 L289.6 507.9 L289.8 507.7 L290.0 507.3 L290.2 507.0 L290.5 506.9 L290.5 506.9 L290.7 507.2 L290.9 507.8 L291.1 508.7 L291.3 509.5 L291.6 510.3 L291.8 510.7 L292.0 510.8 L292.2 510.5 L292.5 509.8 L292.7 508.6 L292.9 507.0 L293.1 505.0 L293.4 502.8 L293.6 500.6 L293.8 498.7 L294.0 497.3 L294.2 496.6 L294.3 496.4 L294.5 496.0 L294.7 496.1 L294.9 496.5 L295.2 497.4 L295.3 498.1 L295.4 498.7 L295.6 500.2 L295.8 501.6 L296.1 502.7 L296.3 503.3 L296.5 503.3 L296.7 502.5 L297.0 501.1 L297.2 499.2 L297.4 497.2 L297.6 495.3 L297.6 495.3 L297.9 494.0 L298.1 493.1 L298.3 492.9 L298.5 493.3 L298.7 494.5 L299.0 496.5 L299.2 499.0 L299.4 501.7 L299.6 504.0 L299.9 505.8 L300.1 507.0 L300.3 507.4 L300.5 507.3 L300.8 506.7 L301.0 505.9 L301.2 505.0 L301.4 504.1 L301.7 503.3 L301.9 502.9 L302.1 502.8 L302.3 503.1 L302.6 503.5 L302.8 503.6 L303.0 503.1 L303.2 501.7 L303.5 499.4 L303.7 496.4 L303.9 493.3 L304.1 490.4 L304.4 488.3 L304.6 487.3 L304.8 487.5 L305.0 488.6 L305.3 490.5 L305.5 492.7 L305.7 495.1 L305.9 497.4 L306.2 499.5 L306.4 501.3 L306.6 502.8 L306.8 504.0 L307.0 504.8 L307.3 505.3 L307.5 505.6 L307.7 505.8 L307.9 505.9 L308.2 505.8 L308.4 505.2 L308.6 504.0 L308.8 502.6 L309.1 501.1 L309.3 500.2 L309.4 500.1 L309.4 500.0 L309.5 500.1 L309.7 500.8 L310.0 501.9 L310.2 503.2 L310.4 504.2 L310.6 504.9 L310.9 505.4 L311.1 505.9 L311.3 506.4 L311.5 507.0 L311.8 507.6 L312.0 508.1 L312.2 508.6 L312.4 508.9 L312.7 509.2 L312.9 509.3 L313.1 509.3 L313.3 509.1 L313.6 508.6 L313.8 508.0 L314.0 507.3 L314.2 506.7 L314.5 506.5 L314.7 506.8 L314.9 507.5 L315.1 508.3 L315.3 509.1 L315.6 509.5 L315.8 509.5 L316.0 509.2 L316.2 508.5 L316.5 507.7 L316.7 506.7 L316.9 505.8 L317.1 505.0 L317.4 504.5 L317.5 504.3 L317.6 504.2 L317.8 504.2 L318.0 504.3 L318.3 504.5 L318.5 504.8 L318.7 505.1 L318.9 505.6 L319.2 506.0 L319.4 506.2 L319.6 506.1 L319.8 505.7 L320.1 505.1 L320.3 504.3 L320.5 503.7 L320.7 503.3 L321.0 503.2 L321.2 503.1 L321.4 503.0 L321.6 502.5 L321.9 501.5 L322.1 499.8 L322.3 497.7 L322.5 495.3 L322.7 493.2 L323.0 491.7 L323.2 491.3 L323.4 492.0 L323.6 493.8 L323.9 496.4 L324.1 499.4 L324.3 502.3 L324.5 504.9 L324.8 506.7 L325.0 507.8 L325.2 508.0 L325.4 507.4 L325.7 506.2 L325.9 504.8 L326.1 503.6 L326.3 503.0 L326.5 503.0 L326.6 503.2 L326.8 504.1 L327.0 505.5 L327.2 506.9 L327.5 508.2 L327.7 509.1 L327.9 509.8 L328.1 510.3 L328.4 510.7 L328.6 510.8 L328.8 510.8 L329.0 510.5 L329.3 509.9 L329.5 509.0 L329.7 507.8 L329.9 506.4 L330.2 504.9 L330.4 503.4 L330.6 502.2 L330.8 501.4 L331.0 501.3 L331.3 501.8 L331.5 502.9 L331.7 504.2 L331.9 505.5 L332.2 506.5 L332.4 506.8 L332.6 506.2 L332.8 504.6 L333.1 501.8 L333.3 497.9 L333.5 493.2 L333.7 488.1 L334.0 483.4 L334.2 479.7 L334.4 477.6 L334.5 477.3 L334.6 477.5 L334.9 479.5 L335.1 483.1 L335.3 487.5 L335.5 492.1 L335.8 495.8 L336.0 497.9 L336.2 497.8 L336.4 494.8 L336.7 488.8 L336.9 479.5 L337.1 467.6 L337.3 454.0 L337.6 440.2 L337.8 428.3 L338.0 420.2 L338.2 417.3 L338.5 420.1 L338.7 428.2 L338.9 440.1 L339.1 453.9 L339.3 467.7 L339.6 480.1 L339.8 490.2 L340.0 497.6 L340.2 502.5 L340.5 505.2 L340.7 506.2 L340.9 505.5 L341.1 503.1 L341.4 498.9 L341.6 492.7 L341.8 484.5 L342.0 474.6 L342.3 464.0 L342.5 453.8 L342.7 445.5 L342.9 440.4 L343.1 439.3 L343.2 439.5 L343.4 442.8 L343.6 449.9 L343.8 459.3 L344.1 469.6 L344.3 479.5 L344.5 487.9 L344.7 494.6 L345.0 499.6 L345.2 503.1 L345.4 505.4 L345.6 506.8 L345.9 507.4 L346.1 507.6 L346.3 507.5 L346.5 507.2 L346.7 506.7 L347.0 506.0 L347.2 504.8 L347.4 502.9 L347.6 500.2 L347.9 496.8 L348.1 492.9 L348.3 488.9 L348.5 485.5 L348.8 483.1 L349.0 482.3 L349.2 483.1 L349.4 485.4 L349.7 488.8 L349.9 492.7 L350.1 496.6 L350.3 499.9 L350.6 502.5 L350.8 504.1 L351.0 504.8 L351.2 504.8 L351.5 504.3 L351.7 503.4 L351.9 502.3 L352.1 501.3 L352.4 500.5 L352.6 500.1 L352.8 500.0 L353.0 500.3 L353.3 500.8 L353.5 501.2 L353.7 501.0 L353.9 500.0 L354.2 498.0 L354.4 494.9 L354.6 491.1 L354.8 487.1 L355.0 483.6 L355.3 481.1 L355.5 480.3 L355.7 481.3 L355.9 483.8 L356.2 487.6 L356.4 492.0 L356.6 496.5 L356.8 500.4 L357.1 503.6 L357.3 506.1 L357.5 507.7 L357.7 508.8 L358.0 509.4 L358.2 509.7 L358.4 509.8 L358.6 509.5 L358.9 509.1 L359.1 508.3 L359.3 507.1 L359.5 505.7 L359.8 504.1 L360.0 502.5 L360.2 501.0 L360.4 499.9 L360.7 499.2 L360.9 499.0 L361.1 499.3 L361.3 500.0 L361.6 501.0 L361.8 502.0 L362.0 502.5 L362.2 502.2 L362.5 500.7 L362.7 497.7 L362.9 493.2 L363.1 487.4 L363.3 480.9 L363.6 474.5 L363.8 469.3 L364.0 466.0 L364.2 465.3 L364.2 465.4 L364.5 467.4 L364.7 471.4 L364.9 476.3 L365.1 480.6 L365.4 482.6 L365.6 480.7 L365.8 473.4 L366.0 459.8 L366.3 439.6 L366.5 413.8 L366.7 384.7 L366.9 355.8 L367.2 331.4 L367.4 315.7 L367.6 311.3 L367.6 311.5 L367.8 319.6 L368.1 338.7 L368.3 365.1 L368.5 394.4 L368.7 422.3 L369.0 445.7 L369.2 462.7 L369.4 473.3 L369.6 478.1 L369.9 478.8 L370.1 477.1 L370.3 474.9 L370.5 473.4 L370.7 473.3 L370.7 473.6 L371.0 475.8 L371.2 479.8 L371.4 485.0 L371.6 490.6 L371.9 495.9 L372.1 500.3 L372.3 503.6 L372.5 505.8 L372.8 507.2 L373.0 507.8 L373.2 508.2 L373.4 508.3 L373.7 508.4 L373.9 508.5 L374.1 508.4 L374.3 508.4 L374.6 508.4 L374.8 508.5 L375.0 508.7 L375.2 508.8 L375.5 509.0 L375.7 509.0 L375.9 508.9 L376.1 508.5 L376.4 507.9 L376.6 507.0 L376.8 506.0 L377.0 504.8 L377.3 503.6 L377.5 502.5 L377.7 501.7 L377.9 501.3 L378.2 501.3 L378.4 501.7 L378.6 502.2 L378.8 502.9 L379.0 503.4 L379.3 503.8 L379.5 504.0 L379.7 503.9 L379.9 503.7 L380.2 503.3 L380.4 502.6 L380.6 501.3 L380.8 499.4 L381.1 496.6 L381.3 493.2 L381.5 489.4 L381.7 485.8 L381.8 484.3 L382.0 482.7 L382.2 480.5 L382.4 479.4 L382.6 479.1 L382.7 479.3 L382.9 479.6 L383.1 480.6 L383.3 481.5 L383.5 481.8 L383.8 480.6 L384.0 477.6 L384.2 472.6 L384.4 466.0 L384.7 458.7 L384.9 452.1 L385.1 447.3 L385.3 445.3 L385.6 446.3 L385.8 449.8 L386.0 454.6 L386.2 459.3 L386.5 462.5 L386.7 463.6 L386.9 462.4 L387.1 459.7 L387.3 456.9 L387.4 456.3 L387.6 455.1 L387.8 455.3 L388.0 457.7 L388.2 462.1 L388.5 467.4 L388.7 472.9 L388.9 477.8 L389.1 481.7 L389.4 484.4 L389.6 486.3 L389.8 487.3 L390.0 487.5 L390.3 486.4 L390.5 483.5 L390.7 477.6 L390.9 468.0 L391.2 454.1 L391.4 436.2 L391.6 415.7 L391.8 394.9 L392.1 376.9 L392.3 364.6 L392.5 360.3 L392.7 364.9 L393.0 377.5 L393.2 395.9 L393.4 417.1 L393.6 438.0 L393.9 456.2 L394.1 470.3 L394.3 480.0 L394.5 485.8 L394.8 488.7 L395.0 490.0 L395.2 490.5 L395.2 490.6 L395.4 491.3 L395.6 492.3 L395.9 493.3 L396.1 493.9 L396.3 493.3 L396.5 490.7 L396.8 485.7 L397.0 477.8 L397.2 467.4 L397.4 455.3 L397.7 443.0 L397.9 432.3 L398.1 425.0 L398.3 422.3 L398.6 424.7 L398.8 431.6 L399.0 441.4 L399.2 452.3 L399.5 462.3 L399.7 470.1 L399.9 474.9 L400.1 476.9 L400.4 476.9 L400.6 476.0 L400.6 476.0 L400.8 475.2 L401.0 475.3 L401.3 476.4 L401.5 478.5 L401.7 480.9 L401.9 483.1 L402.2 484.9 L402.4 486.0 L402.6 486.8 L402.8 487.4 L403.0 488.3 L403.3 489.7 L403.5 491.7 L403.7 493.9 L403.9 496.0 L404.2 497.6 L404.4 498.5 L404.6 498.7 L404.8 498.1 L405.1 497.2 L405.3 496.1 L405.5 495.3 L405.7 495.0 L406.0 495.5 L406.2 496.7 L406.4 498.4 L406.6 500.2 L406.9 501.8 L407.1 503.0 L407.3 503.9 L407.5 504.2 L407.8 504.2 L408.0 503.8 L408.2 503.3 L408.4 502.7 L408.7 502.2 L408.9 501.5 L409.1 500.7 L409.3 499.8 L409.4 499.5 L409.6 499.1 L409.8 498.6 L410.0 498.5 L410.2 498.7 L410.5 499.3 L410.7 500.3 L410.9 501.6 L411.1 503.1 L411.3 504.6 L411.6 505.7 L411.8 506.1 L412.0 505.4 L412.2 503.2 L412.5 499.1 L412.7 492.7 L412.9 484.1 L413.1 473.7 L413.4 462.3 L413.6 451.4 L413.8 442.4 L414.0 436.7 L414.2 435.3 L414.3 435.4 L414.5 438.3 L414.7 444.9 L414.9 453.6 L415.2 462.8 L415.4 471.2 L415.6 477.9 L415.8 482.6 L416.1 485.6 L416.3 487.6 L416.5 489.3 L416.7 491.2 L417.0 493.5 L417.2 496.3 L417.4 499.1 L417.6 501.8 L417.9 504.0 L418.1 505.5 L418.3 506.4 L418.5 506.9 L418.8 507.0 L419.0 507.1 L419.2 507.2 L419.4 507.4 L419.6 507.5 L419.9 507.5 L420.1 507.5 L420.3 507.4 L420.5 507.3 L420.8 507.3 L421.0 507.2 L421.2 507.2 L421.4 507.1 L421.7 506.8 L421.9 506.4 L422.1 505.9 L422.3 505.3 L422.6 504.8 L422.8 504.3 L423.0 503.7 L423.2 502.8 L423.5 501.8 L423.7 500.6 L423.9 499.7 L424.1 499.4 L424.1 499.3 L424.4 499.7 L424.6 500.5 L424.8 501.4 L425.0 502.3 L425.3 502.9 L425.5 503.2 L425.7 503.1 L425.9 502.7 L426.2 501.9 L426.4 500.9 L426.6 499.6 L426.8 498.5 L427.0 497.6 L427.3 497.3 L427.5 497.6 L427.7 498.4 L427.9 499.5 L428.2 500.7 L428.4 501.7 L428.6 502.5 L428.8 502.9 L429.1 503.1 L429.3 503.2 L429.5 503.3 L429.7 503.6 L430.0 503.9 L430.2 504.3 L430.4 504.7 L430.6 504.7 L430.9 504.5 L431.1 504.0 L431.3 503.1 L431.5 502.2 L431.8 501.3 L432.0 500.7 L432.2 500.6 L432.4 500.9 L432.4 500.9 L432.7 501.8 L432.9 502.9 L433.1 504.0 L433.3 504.8 L433.6 505.3 L433.8 505.3 L434.0 505.1 L434.2 504.7 L434.5 504.4 L434.7 504.3 L434.9 504.5 L435.1 505.1 L435.3 505.8 L435.6 506.7 L435.8 507.5 L436.0 508.1 L436.2 508.4 L436.5 508.4 L436.7 508.0 L436.9 507.4 L437.1 506.8 L437.4 506.2 L437.6 505.9 L437.8 505.5 L438.0 505.0 L438.3 504.2 L438.5 503.2 L438.7 502.4 L438.8 502.1 L438.9 501.9 L439.2 502.0 L439.4 502.5 L439.6 503.3 L439.8 504.3 L440.1 505.2 L440.3 506.2 L440.5 507.0 L440.7 507.7 L441.0 508.2 L441.2 508.4 L441.4 508.3 L441.6 507.6 L441.9 506.3 L442.1 504.3 L442.3 501.6 L442.5 498.4 L442.8 494.8 L443.0 491.4 L443.2 488.6 L443.4 486.8 L443.6 486.3 L443.6 486.3 L443.9 487.0 L444.1 488.8 L444.3 491.0 L444.5 493.2 L444.8 495.0 L445.0 495.8 L445.2 495.8 L445.4 495.1 L445.7 494.0 L445.9 493.3 L446.1 493.3 L446.1 493.3 L446.3 494.1 L446.6 495.6 L446.8 497.2 L447.0 498.5 L447.2 499.3 L447.5 499.5 L447.7 499.4 L447.9 499.2 L448.1 499.3 L448.4 499.7 L448.6 500.5 L448.8 501.5 L449.0 502.4 L449.3 503.2 L449.5 503.5 L449.7 503.4 L449.9 502.9 L450.2 502.1 L450.4 501.3 L450.6 500.6 L450.8 500.0 L451.0 499.7 L451.0 499.5 L451.3 498.9 L451.5 498.0 L451.7 496.8 L451.9 495.2 L452.2 493.5 L452.4 492.1 L452.6 491.3 L452.8 491.3 L452.8 491.5 L453.1 492.7 L453.3 494.8 L453.5 497.3 L453.7 500.0 L454.0 502.2 L454.2 503.8 L454.4 504.7 L454.6 504.9 L454.9 504.9 L455.1 505.0 L455.2 505.1 L455.3 505.4 L455.5 506.3 L455.8 507.4 L456.0 508.7 L456.2 509.7 L456.4 510.5 L456.7 510.8 L456.9 510.7 L457.1 510.1 L457.3 508.9 L457.6 507.1 L457.8 504.7 L458.0 501.6 L458.2 498.1 L458.5 494.7 L458.7 491.8 L458.9 490.0 L459.1 489.6 L459.3 490.6 L459.6 492.9 L459.8 496.0 L460.0 499.5 L460.2 502.8 L460.5 505.7 L460.7 507.9 L460.9 509.3 L461.1 510.1 L461.4 510.2 L461.6 509.7 L461.8 508.9 L462.0 507.9 L462.3 506.7 L462.5 505.7 L462.7 505.1 L462.9 504.8 L463.2 505.0 L463.4 505.6 L463.6 506.6 L463.8 507.6 L464.1 508.5 L464.3 509.2 L464.5 509.7 L464.7 510.0 L465.0 510.1 L465.2 510.2 L465.4 510.3 L465.6 510.5 L465.9 510.8 L466.1 511.2 L466.3 511.6 L466.5 512.0 L466.8 512.3 L467.0 512.6 L467.2 512.9 L467.4 513.0 L467.6 513.1 L467.9 513.2 L468.1 513.2 L468.3 513.2 L468.5 513.2 L468.8 513.3 L469.0 513.3 L469.2 513.3 L469.4 513.3 L469.7 513.3 L469.9 513.3 L470.1 513.3 L470.3 513.3 L470.6 513.3 L470.8 513.3 L471.0 513.3 L471.2 513.3 L471.5 513.3 L471.7 513.3 L471.9 513.3 L472.1 513.3 L472.4 513.3 L472.6 513.3 L472.8 513.3 L473.0 513.3 L473.3 513.3 L473.5 513.3 L473.7 513.3 L473.9 513.3 L474.2 513.3 L474.4 513.3 L474.6 513.3 L474.8 513.3 L475.0 513.3 L475.3 513.3 L475.5 513.3 L475.7 513.3 L475.9 513.3 L476.2 513.3 L476.4 513.3 L476.6 513.3 L476.8 513.3 L477.1 513.3 L477.3 513.3 L477.5 513.3 L477.7 513.3 L478.0 513.3 L478.2 513.3 L478.4 513.3 L478.6 513.3 L478.9 513.3 L479.1 513.3 L479.3 513.3 L479.5 513.3 L479.8 513.3 L480.0 513.3 L480.2 513.3 L480.4 513.3 L480.7 513.3 L480.9 513.3 L481.1 513.3 L481.3 513.3 L481.6 513.3 L481.8 513.3 L482.0 513.3 L482.2 513.3 L482.5 513.3 L482.7 513.3 L482.9 513.3 L483.1 513.3 L483.3 513.3 L483.6 513.3 L483.8 513.3 L484.0 513.3 L484.2 513.3 L484.5 513.3 L484.7 513.3 L484.9 513.3 L485.1 513.3 L485.4 513.3 L485.6 513.3 L485.8 513.3 L486.0 513.3 L486.3 513.3 L486.5 513.3 L486.7 513.3 L486.9 513.3 L487.2 513.3 L487.4 513.3 L487.6 513.3 L487.8 513.3 L488.1 513.3 L488.3 513.3 L488.5 513.3 L488.7 513.3 L489.0 513.3 L489.2 513.3 L489.4 513.3 L489.6 513.3 L489.9 513.3 L490.1 513.3 L490.3 513.3 L490.5 513.3 L490.8 513.3 L491.0 513.3 L491.2 513.3 L491.4 513.3 L491.6 513.3 L491.9 513.3 L492.1 513.3 L492.3 513.3 L492.5 513.3 L492.8 513.3 L493.0 513.3 L493.2 513.3 L493.4 513.3 L493.7 513.3 L493.9 513.3 L494.1 513.3 L494.3 513.3 L494.6 513.3 L494.8 513.3 L495.0 513.3 L495.2 513.3 L495.5 513.3 L495.7 513.3 L495.9 513.3 L496.1 513.3 L496.4 513.3 L496.6 513.3 L496.8 513.3 L497.0 513.3 L497.3 513.3 L497.5 513.3 L497.7 513.3 L497.9 513.3 L498.2 513.3 L498.4 513.3 L498.6 513.3 L498.8 513.3 L499.0 513.3 L499.3 513.3 L499.5 513.3 L499.7 513.3 L499.9 513.3 L500.2 513.3 L500.4 513.3 L500.6 513.3 L500.8 513.3 L501.1 513.3 L501.3 513.3 L501.5 513.3 L501.7 513.3 L502.0 513.3 L502.2 513.3 L502.4 513.3 L502.6 513.3 L502.9 513.3 L503.1 513.3 L503.3 513.3 L503.5 513.3 L503.8 513.3 L504.0 513.3 L504.2 513.3 L504.4 513.3 L504.7 513.3 L504.9 513.3 L505.1 513.3 L505.3 513.3 L505.6 513.3 L505.8 513.3 L506.0 513.3 L506.2 513.3 L506.5 513.3 L506.7 513.3 L506.9 513.3 L507.1 513.3 L507.3 513.3 L507.6 513.3 L507.8 513.3 L508.0 513.3 L508.2 513.3 L508.5 513.3 L508.7 513.3 L508.9 513.3 L509.1 513.3 L509.4 513.3 L509.6 513.3 L509.8 513.3 L510.0 513.3 L510.3 513.3 L510.5 513.3 L510.7 513.3 L510.9 513.3 L511.2 513.3 L511.4 513.3 L511.6 513.3 L511.8 513.3 L512.1 513.3 L512.3 513.3 L512.5 513.3 L512.7 513.3 L513.0 513.3 L513.2 513.3 L513.4 513.3 L513.6 513.3 L513.9 513.3 L514.1 513.3 L514.3 513.3 L514.5 513.3 L514.8 513.3 L515.0 513.3 L515.2 513.3 L515.4 513.3 L515.6 513.3 L515.9 513.3 L516.1 513.3 L516.3 513.3 L516.5 513.3 L516.8 513.3 L517.0 513.3 L517.2 513.3 L517.4 513.3 L517.7 513.3 L517.9 513.3 L518.1 513.3 L518.3 513.3 L518.6 513.3 L518.8 513.3 L519.0 513.3 L519.2 513.3 L519.5 513.3 L519.7 513.3 L519.9 513.2 L520.1 513.0 L520.4 512.7 L520.6 512.0 L520.8 510.6 L521.0 508.1 L521.3 503.9 L521.5 497.2 L521.7 487.0 L521.9 472.5 L522.2 453.2 L522.4 429.2 L522.6 401.6 L522.8 372.4 L523.0 344.5 L523.3 321.2 L523.5 305.7 L523.7 300.3 L523.9 305.7 L524.2 321.2 L524.4 344.5 L524.6 372.4 L524.8 401.6 L525.1 429.2 L525.3 453.2 L525.5 472.5 L525.7 487.0 L526.0 497.2 L526.2 503.9 L526.4 508.1 L526.6 510.6 L526.9 511.9 L527.1 512.6 L527.3 513.0 L527.5 513.1 L527.8 513.0 L528.0 512.7 L528.2 511.9 L528.4 510.4 L528.7 507.4 L528.9 502.1 L529.1 493.0 L529.3 478.5 L529.6 456.4 L529.8 425.0 L530.0 383.3 L530.2 331.4 L530.5 271.6 L530.7 208.3 L530.9 147.9 L531.1 97.5 L531.3 64.1 L531.6 52.3 L531.8 64.1 L532.0 97.5 L532.2 147.9 L532.5 208.3 L532.7 271.6 L532.9 331.4 L533.1 383.3 L533.4 425.0 L533.6 456.4 L533.8 478.5 L534.0 493.0 L534.3 502.1 L534.5 507.4 L534.7 510.4 L534.9 511.9 L535.2 512.7 L535.4 513.0 L535.6 513.2 L535.8 513.3 L536.1 513.3 L536.3 513.3 L536.5 513.3 L536.7 513.3 L537.0 513.3 L537.2 513.3 L537.4 513.3 L537.6 513.3 L537.9 513.3 L538.1 513.3 L538.3 513.3 L538.5 513.3 L538.8 513.3 L539.0 513.3 L539.2 513.3 L539.4 513.3 L539.6 513.3 L539.9 513.3 L540.1 513.3 L540.3 513.3 L540.5 513.3 L540.8 513.3 L541.0 513.3 L541.2 513.3 L541.4 513.3 L541.7 513.3 L541.9 513.3 L542.1 513.3 L542.3 513.3 L542.6 513.3 L542.8 513.3 L543.0 513.3 L543.2 513.3 L543.5 513.3 L543.7 513.3 L543.9 513.3 L544.1 513.3 L544.4 513.3 L544.6 513.3 L544.8 513.3 L545.0 513.3 L545.3 513.3 L545.5 513.3 L545.7 513.3 L545.9 513.3 L546.2 513.3 L546.4 513.3 L546.6 513.3 L546.8 513.3 L547.0 513.3 L547.3 513.3 L547.5 513.3 L547.7 513.3 L547.9 513.3 L548.2 513.3 L548.4 513.3 L548.6 513.3 L548.8 513.3 L549.1 513.3 L549.3 513.3 L549.5 513.3 L549.7 513.3 L550.0 513.3 L550.2 513.3 L550.4 513.3 L550.6 513.3 L550.9 513.3 L551.1 513.3 L551.3 513.3 L551.5 513.3 L551.8 513.3 L552.0 513.3 L552.2 513.3 L552.4 513.3 L552.7 513.3 L552.9 513.3 L553.1 513.3 L553.3 513.3 L553.6 513.3 L553.8 513.3 L554.0 513.3 L554.2 513.3 L554.5 513.3 L554.7 513.3 L554.9 513.3 L555.1 513.3 L555.3 513.3 L555.6 513.3 L555.8 513.3 L556.0 513.3 L556.2 513.3 L556.5 513.3 L556.7 513.3 L556.9 513.3 L557.1 513.3 L557.4 513.3 L557.6 513.3 L557.8 513.3 L558.0 513.3 L558.3 513.3 L558.5 513.3 L558.7 513.3 L558.9 513.3 L559.2 513.3 L559.4 513.3 L559.6 513.3 L559.8 513.3 L560.1 513.3 L560.3 513.3 L560.5 513.3 L560.7 513.3 L561.0 513.3 L561.2 513.3 L561.4 513.3 L561.6 513.3 L561.9 513.3 L562.1 513.3 L562.3 513.3 L562.5 513.3 L562.8 513.3 L563.0 513.3 L563.2 513.3 L563.4 513.3 L563.6 513.3 L563.9 513.3 L564.1 513.3 L564.3 513.3 L564.5 513.3 L564.8 513.3 L565.0 513.3 L565.2 513.3 L565.4 513.3 L565.7 513.3 L565.9 513.3 L566.1 513.3 L566.3 513.3 L566.6 513.3 L566.8 513.3 L567.0 513.3 L567.2 513.3 L567.5 513.3 L567.7 513.3 L567.9 513.3 L568.1 513.3 L568.4 513.3 L568.6 513.3 L568.8 513.3 L569.0 513.3 L569.3 513.3 L569.5 513.3 L569.7 513.3 L569.9 513.3 L570.2 513.3 L570.4 513.3 L570.6 513.3 L570.8 513.3 L571.0 513.3 L571.3 513.3 L571.5 513.3 L571.7 513.3 L571.9 513.3 L572.2 513.3 L572.4 513.3 L572.6 513.3 L572.8 513.3 L573.1 513.3 L573.3 513.3 L573.5 513.3 L573.7 513.3 L574.0 513.3 L574.2 513.3 L574.4 513.3 L574.6 513.3 L574.9 513.3 L575.1 513.3 L575.3 513.3 L575.5 513.3 L575.8 513.3 L576.0 513.3 L576.2 513.3 L576.4 513.3 L576.7 513.3 L576.9 513.3 L577.1 513.3 L577.3 513.3 L577.6 513.3 L577.8 513.3 L578.0 513.3 L578.2 513.3 L578.5 513.3 L578.7 513.3 L578.9 513.3 L579.1 513.3 L579.3 513.3 L579.6 513.3 L579.8 513.3 L580.0 513.3 L580.2 513.3 L580.5 513.3 L580.7 513.3 L580.9 513.3 L581.1 513.3 L581.4 513.3 L581.6 513.3 L581.8 513.3 L582.0 513.3 L582.3 513.3 L582.5 513.3 L582.7 513.3 L582.9 513.3 L583.2 513.3 L583.4 513.3 L583.6 513.3 L583.8 513.3 L584.1 513.3 L584.3 513.3 L584.5 513.3 L584.7 513.3 L585.0 513.3 L585.2 513.3 L585.4 513.3 L585.6 513.3 L585.9 513.3 L586.1 513.3 L586.3 513.3 L586.5 513.3 L586.8 513.3 L587.0 513.3 L587.2 513.3 L587.4 513.3 L587.6 513.3 L587.9 513.3 L588.1 513.3 L588.3 513.3 L588.5 513.3 L588.8 513.3 L589.0 513.3 L589.2 513.3 L589.4 513.3 L589.7 513.3 L589.9 513.3 L590.1 513.3 L590.3 513.3 L590.6 513.3 L590.8 513.3 L591.0 513.3 L591.2 513.3 L591.5 513.3 L591.7 513.3 L591.9 513.3 L592.1 513.3 L592.4 513.3 L592.6 513.3 L592.8 513.3 L593.0 513.3 L593.3 513.3 L593.5 513.3 L593.7 513.3 L593.9 513.3 L594.2 513.3 L594.4 513.3 L594.6 513.3 L594.8 513.3 L595.0 513.3 L595.3 513.3 L595.5 513.3 L595.7 513.3 L595.9 513.3 L596.2 513.3 L596.4 513.3 L596.6 513.3 L596.8 513.3 L597.1 513.3 L597.3 513.3 L597.5 513.3 L597.7 513.3 L598.0 513.3 L598.2 513.3 L598.4 513.3 L598.6 513.3 L598.9 513.3 L599.1 513.3 L599.3 513.3 L599.5 513.3 L599.8 513.3 L600.0 513.3 L600.2 513.3 L600.4 513.3 L600.7 513.3 L600.9 513.3 L601.1 513.3 L601.3 513.3 L601.6 513.3 L601.8 513.3 L602.0 513.3 L602.2 513.3 L602.5 513.3 L602.7 513.3 L602.9 513.3 L603.1 513.3 L603.3 513.3 L603.6 513.3 L603.8 513.3 L604.0 513.3 L604.2 513.3 L604.5 513.3 L604.7 513.3 L604.9 513.3 L605.1 513.3 L605.4 513.3 L605.6 513.3 L605.8 513.3 L606.0 513.3 L606.3 513.3 L606.5 513.3 L606.7 513.3 L606.9 513.3 L607.2 513.3 L607.4 513.3 L607.6 513.3 L607.8 513.3 L608.1 513.3 L608.3 513.3 L608.5 513.3 L608.7 513.3 L609.0 513.3 L609.2 513.3 L609.4 513.3 L609.6 513.3 L609.9 513.3 L610.1 513.3 L610.3 513.3 L610.5 513.3 L610.8 513.3 L611.0 513.3 L611.2 513.3 L611.4 513.3 L611.6 513.3 L611.9 513.3 L612.1 513.3 L612.3 513.3 L612.5 513.3 L612.8 513.3 L613.0 513.3 L613.2 513.3 L613.4 513.3 L613.7 513.3 L613.9 513.3 L614.1 513.3 L614.3 513.3 L614.6 513.3 L614.8 513.3 L615.0 513.3 L615.2 513.3 L615.5 513.3 L615.7 513.3 L615.9 513.3 L616.1 513.3 L616.4 513.3 L616.6 513.3 L616.8 513.3 L617.0 513.3 L617.3 513.3 L617.5 513.3 L617.7 513.3 L617.9 513.3 L618.2 513.3 L618.4 513.3 L618.6 513.3 L618.8 513.3 L619.0 513.3 L619.3 513.3 L619.5 513.3 L619.7 513.3 L619.9 513.3 L620.2 513.3 L620.4 513.3 L620.6 513.3 L620.8 513.3 L621.1 513.3 L621.3 513.3 L621.5 513.3 L621.7 513.3 L622.0 513.3 L622.2 513.3 L622.4 513.3 L622.6 513.3 L622.9 513.3 L623.1 513.3 L623.3 513.3 L623.5 513.3 L623.8 513.3 L624.0 513.3 L624.2 513.3 L624.4 513.3 L624.7 513.3 L624.9 513.3 L625.1 513.3 L625.3 513.3 L625.6 513.3 L625.8 513.3 L626.0 513.3 L626.2 513.3 L626.5 513.3 L626.7 513.3 L626.9 513.3 L627.1 513.3 L627.3 513.3 L627.6 513.3 L627.8 513.3 L628.0 513.3 L628.2 513.3 L628.5 513.3 L628.7 513.3 L628.9 513.3 L629.1 513.3 L629.4 513.3 L629.6 513.3 L629.8 513.3 L630.0 513.3 L630.3 513.3 L630.5 513.3 L630.7 513.3 L630.9 513.3 L631.2 513.3 L631.4 513.3 L631.6 513.3 L631.8 513.3 L632.1 513.3 L632.3 513.3 L632.5 513.3 L632.7 513.3 L633.0 513.3 L633.2 513.3 L633.4 513.3 L633.6 513.3 L633.9 513.3 L634.1 513.3 L634.3 513.3 L634.5 513.3 L634.8 513.3 L635.0 513.3 L635.2 513.3 L635.4 513.3 L635.6 513.3 L635.9 513.3 L636.1 513.3 L636.3 513.3 L636.5 513.3 L636.8 513.3 L637.0 513.3 L637.2 513.3 L637.4 513.3 L637.7 513.3 L637.9 513.3 L638.1 513.3 L638.3 513.3 L638.6 513.3 L638.8 513.3 L639.0 513.3 L639.2 513.3 L639.5 513.3 L639.7 513.3 L639.9 513.3 L640.1 513.3 L640.4 513.3 L640.6 513.3 L640.8 513.3 L641.0 513.3 L641.3 513.3 L641.5 513.3 L641.7 513.3 L641.9 513.3 L642.2 513.3 L642.4 513.3 L642.6 513.3 L642.8 513.3 L643.1 513.3 L643.3 513.3 L643.5 513.3 L643.7 513.3 L643.9 513.3 L644.2 513.3 L644.4 513.3 L644.6 513.3 L644.8 513.3 L645.1 513.3 L645.3 513.3 L645.5 513.3 L645.7 513.3 L646.0 513.3 L646.2 513.3 L646.4 513.3 L646.6 513.3 L646.9 513.3 L647.1 513.3 L647.3 513.3 L647.5 513.3 L647.8 513.3 L648.0 513.3 L648.2 513.3 L648.4 513.3 L648.7 513.3 L648.9 513.3 L649.1 513.3 L649.3 513.3 L649.6 513.3 L649.8 513.3 L650.0 513.3 L650.2 513.3 L650.5 513.3 L650.7 513.3 L650.9 513.3 L651.1 513.3 L651.3 513.3 L651.6 513.3 L651.8 513.3 L652.0 513.3 L652.2 513.3 L652.5 513.3 L652.7 513.3 L652.9 513.3 L653.1 513.3 L653.4 513.3 L653.6 513.3 L653.8 513.3 L654.0 513.3 L654.3 513.3 L654.5 513.3 L654.7 513.3 L654.9 513.3 L655.2 513.3 L655.4 513.3 L655.6 513.3 L655.8 513.3 L656.1 513.3 L656.3 513.3 L656.5 513.3 L656.7 513.3 L657.0 513.3 L657.2 513.3 L657.4 513.3 L657.6 513.3 L657.9 513.3 L658.1 513.3 L658.3 513.3 L658.5 513.3 L658.8 513.3 L659.0 513.3 L659.2 513.3 L659.4 513.3 L659.6 513.3 L659.9 513.3 L660.1 513.3 L660.3 513.3 L660.5 513.3 L660.8 513.3 L661.0 513.3 L661.2 513.3 L661.4 513.3 L661.7 513.3 L661.9 513.3 L662.1 513.3 L662.3 513.3 L662.6 513.3 L662.8 513.3 L663.0 513.3 L663.2 513.3 L663.5 513.3 L663.7 513.3 L663.9 513.3 L664.1 513.3 L664.4 513.3 L664.6 513.3 L664.8 513.3 L665.0 513.3 L665.3 513.3 L665.5 513.3 L665.7 513.3 L665.9 513.3 L666.2 513.3 L666.4 513.3 L666.6 513.3 L666.8 513.3 L667.1 513.3 L667.3 513.3 L667.5 513.3 L667.7 513.3 L667.9 513.3 L668.2 513.3 L668.4 513.3 L668.6 513.3 L668.8 513.3 L669.1 513.3 L669.3 513.3 L669.5 513.3 L669.7 513.3 L670.0 513.3 L670.2 513.3 L670.4 513.3 L670.6 513.3 L670.9 513.3 L671.1 513.3 L671.3 513.3 L671.5 513.3 L671.8 513.3 L672.0 513.3 L672.2 513.3 L672.4 513.3 L672.7 513.3 L672.9 513.3 L673.1 513.3 L673.3 513.3 L673.6 513.3 L673.8 513.3 L674.0 513.3 L674.2 513.3 L674.5 513.3 L674.7 513.3 L674.9 513.3 L675.1 513.3 L675.3 513.3 L675.6 513.3 L675.8 513.3 L676.0 513.3 L676.2 513.3 L676.5 513.3 L676.7 513.3 L676.9 513.3 L677.1 513.3 L677.4 513.3 L677.6 513.3 L677.8 513.3 L678.0 513.3 L678.3 513.3 L678.5 513.3 L678.7 513.3 L678.9 513.3 L679.2 513.3 L679.4 513.3 L679.6 513.3 L679.8 513.3 L680.1 513.3 L680.3 513.3 L680.5 513.3 L680.7 513.3 L681.0 513.3 L681.2 513.3 L681.4 513.3 L681.6 513.3 L681.9 513.3 L682.1 513.3 L682.3 513.3 L682.5 513.3 L682.8 513.3 L683.0 513.3 L683.2 513.3 L683.4 513.3 L683.6 513.3 L683.9 513.3 L684.1 513.3 L684.3 513.3 L684.5 513.3 L684.8 513.3 L685.0 513.3 L685.2 513.3 L685.4 513.3 L685.7 513.3 L685.9 513.3 L686.1 513.3 L686.3 513.3 L686.6 513.3 L686.8 513.3 L687.0 513.3 L687.2 513.3 L687.5 513.3 L687.7 513.3 L687.9 513.3 L688.1 513.3 L688.4 513.3 L688.6 513.3 L688.8 513.3 L689.0 513.3 L689.3 513.3 L689.5 513.3 L689.7 513.3 L689.9 513.3 L690.2 513.3 L690.4 513.3 L690.6 513.3 L690.8 513.3 L691.1 513.3 L691.3 513.3 L691.5 513.3 L691.7 513.3 L691.9 513.3 L692.2 513.3 L692.4 513.3 L692.6 513.3 L692.8 513.3 L693.1 513.3 L693.3 513.3 L693.5 513.3 L693.7 513.3 L694.0 513.3 L694.2 513.3 L694.4 513.3 L694.6 513.3 L694.9 513.3 L695.1 513.3 L695.3 513.3 L695.5 513.3 L695.8 513.3 L696.0 513.3 L696.2 513.3 L696.4 513.3 L696.7 513.3 L696.9 513.3 L697.1 513.3 L697.3 513.3 L697.6 513.3 L697.8 513.3 L698.0 513.3 L698.2 513.3 L698.5 513.3 L698.7 513.3 L698.9 513.3 L699.1 513.3 L699.3 513.3 L699.6 513.3 L699.8 513.3 L700.0 513.3 L700.2 513.3 L700.5 513.3 L700.7 513.3 L700.9 513.3 L701.1 513.3 L701.4 513.3 L701.6 513.3 L701.8 513.3 L702.0 513.3 L702.3 513.3 L702.5 513.3 L702.7 513.3 L702.9 513.3 L703.2 513.3 L703.4 513.3 L703.6 513.3 L703.8 513.3 L704.1 513.3 L704.3 513.3 L704.5 513.3 L704.7 513.3 L705.0 513.3 L705.2 513.3 L705.4 513.3 L705.6 513.3 L705.9 513.3 L706.1 513.3 L706.3 513.3 L706.5 513.3 L706.8 513.3 L707.0 513.3 L707.2 513.3 L707.4 513.3 L707.6 513.3 L707.9 513.3 L708.1 513.3 L708.3 513.3 L708.5 513.3 L708.8 513.3 L709.0 513.3 L709.2 513.3 L709.4 513.3 L709.7 513.3 L709.9 513.3 L710.1 513.3 L710.3 513.3 L710.6 513.3 L710.8 513.3 L711.0 513.3 L711.2 513.3 L711.5 513.3 L711.7 513.3 L711.9 513.3 L712.1 513.3 L712.4 513.3 L712.6 513.3 L712.8 513.3 L713.0 513.3 L713.3 513.3 L713.5 513.3 L713.7 513.3 L713.9 513.3 L714.2 513.3 L714.4 513.3 L714.6 513.3 L714.8 513.3 L715.1 513.3 L715.3 513.3 L715.5 513.3 L715.7 513.3 L715.9 513.3 L716.2 513.3 L716.4 513.3 L716.6 513.3 L716.8 513.3 L717.1 513.3 L717.3 513.3 L717.5 513.3 L717.7 513.3 L718.0 513.3 L718.2 513.3 L718.4 513.3 L718.6 513.3 L718.9 513.3 L719.1 513.3 L719.3 513.3 L719.5 513.3 L719.8 513.3 L720.0 513.3 L720.2 513.3 L720.4 513.3 L720.7 513.3 L720.9 513.3 L721.1 513.3 L721.3 513.3 L721.6 513.3 L721.8 513.3 L722.0 513.3 L722.2 513.3 L722.5 513.3 L722.7 513.3 L722.9 513.3 L723.1 513.3 L723.3 513.3 L723.6 513.3 L723.8 513.3 L724.0 513.3 L724.2 513.3 L724.5 513.3 L724.7 513.3 L724.9 513.3 L725.1 513.3 L725.4 513.3 L725.6 513.3 L725.8 513.3 L726.0 513.3 L726.3 513.3 L726.5 513.3 L726.7 513.3 L726.9 513.3 L727.2 513.3 L727.4 513.3 L727.6 513.3 L727.8 513.3 L728.1 513.3 L728.3 513.3 L728.5 513.3 L728.7 513.3 L729.0 513.3 L729.2 513.3 L729.4 513.3 L729.6 513.2 L729.9 513.2 L730.1 513.0 L730.3 512.8 L730.5 512.5 L730.8 512.0 L731.0 511.4 L731.2 510.6 L731.4 509.7 L731.6 508.8 L731.9 508.0 L732.1 507.5 L732.3 507.3 L732.5 507.5 L732.8 508.0 L733.0 508.8 L733.2 509.6 L733.4 510.5 L733.7 511.2 L733.9 511.8 L734.1 512.1 L734.3 512.1 L734.6 512.0 L734.8 511.5 L735.0 510.9 L735.2 510.2 L735.5 509.5 L735.7 508.9 L735.9 508.5 L736.1 508.3 L736.4 508.5 L736.6 508.9 L736.8 509.5 L737.0 510.3 L737.3 511.0 L737.5 511.6 L737.7 512.1 L737.9 512.4 L738.2 512.4 L738.4 512.3 L738.6 511.9 L738.8 511.3 L739.1 510.5 L739.3 509.7 L739.5 508.8 L739.7 508.0 L739.9 507.5 L740.2 507.3 L740.4 507.5 L740.6 508.0 L740.8 508.8 L741.1 509.6 L741.3 510.5 L741.5 511.3 L741.7 511.9 L742.0 512.2 L742.2 512.3 L742.4 512.2 L742.6 511.9 L742.9 511.3 L743.1 510.5 L743.3 509.6 L743.5 508.8 L743.8 508.0 L744.0 507.5 L744.2 507.3 L744.4 507.5 L744.7 508.0 L744.9 508.8 L745.1 509.7 L745.3 510.6 L745.6 511.4 L745.8 512.0 L746.0 512.5 L746.2 512.8 L746.5 513.0 L746.7 513.2 L746.9 513.2 L747.1 513.3 L747.3 513.3 L747.6 513.3 L747.8 513.3 L748.0 513.3 L748.2 513.3 L748.5 513.3 L748.7 513.3 L748.9 513.3 L749.1 513.3 L749.4 513.3 L749.6 513.3 L749.8 513.3 L750.0 513.3 L750.3 513.3 L750.5 513.3 L750.7 513.3 L750.9 513.3 L751.2 513.3 L751.4 513.3 L751.6 513.3 L751.8 513.3 L752.1 513.3 L752.3 513.3 L752.5 513.3 L752.7 513.3 L753.0 513.3 L753.2 513.3 L753.4 513.3 L753.6 513.3 L753.9 513.3 L754.1 513.3 L754.3 513.3 L754.5 513.3 L754.8 513.3 L755.0 513.3 L755.2 513.3 L755.4 513.3 L755.6 513.3 L755.9 513.3 L756.1 513.3 L756.3 513.3 L756.5 513.3 L756.8 513.3 L757.0 513.3 L757.2 513.3 L757.4 513.3 L757.7 513.3 L757.9 513.3 L758.1 513.3 L758.3 513.2 L758.6 513.1 L758.8 513.0 L759.0 512.7 L759.2 512.2 L759.5 511.4 L759.7 510.3 L759.9 508.8 L760.1 506.9 L760.4 504.9 L760.6 502.8 L760.8 501.0 L761.0 499.8 L761.3 499.3 L761.5 499.6 L761.7 500.7 L761.9 502.2 L762.2 503.8 L762.4 505.2 L762.6 506.2 L762.8 506.7 L763.1 506.7 L763.3 506.3 L763.5 505.8 L763.7 505.4 L763.9 505.3 L764.2 505.6 L764.4 506.3 L764.6 507.4 L764.8 508.5 L765.1 509.7 L765.3 510.8 L765.5 511.6 L765.7 512.2 L766.0 512.7 L766.2 513.0 L766.4 513.1 L766.6 513.2 L766.9 513.3 L767.1 513.3" fill="none" stroke="#ff0000" stroke-width="1.7" stroke-linejoin="round"/></g>
<text x="76.3" y="55.3" font-family="Liberation Sans, sans-serif" font-size="24" fill="#444">(a)</text>
<text x="307" y="190" font-family="Liberation Sans, sans-serif" font-size="24.5" font-weight="bold" fill="#111" textLength="41">XVI</text>
<text x="543" y="124" font-family="Liberation Sans, sans-serif" font-size="24.5" font-weight="bold" fill="#111" textLength="49">XVII</text>
<text transform="translate(41 252.2) rotate(-90)" font-family="Liberation Sans, sans-serif" font-size="29.5" font-weight="bold" fill="#111" text-anchor="middle">Intensity</text>
<rect x="60.8" y="635.6" width="764.6" height="495.6" fill="none" stroke="#707070" stroke-width="1.3"/>
<path d="M60.8 1124.2V1138.4M91.4 1131.2V1137.0M121.9 1131.2V1137.0M152.5 1131.2V1137.0M183.0 1131.2V1137.0M213.6 1124.2V1138.4M244.2 1131.2V1137.0M274.7 1131.2V1137.0M305.3 1131.2V1137.0M335.8 1131.2V1137.0M366.4 1124.2V1138.4M397.0 1131.2V1137.0M427.5 1131.2V1137.0M458.1 1131.2V1137.0M488.6 1131.2V1137.0M519.2 1124.2V1138.4M549.8 1131.2V1137.0M580.3 1131.2V1137.0M610.9 1131.2V1137.0M641.4 1131.2V1137.0M672.0 1124.2V1138.4M702.6 1131.2V1137.0M733.1 1131.2V1137.0M763.7 1131.2V1137.0M794.2 1131.2V1137.0M824.8 1124.2V1138.4" stroke="#5e5e5e" stroke-width="1.25" fill="none"/>
<text transform="translate(60.8 1168.5) scale(0.93 1)" font-family="Liberation Sans, sans-serif" font-size="22.4" fill="#333" text-anchor="middle">0</text>
<text transform="translate(213.6 1168.5) scale(0.93 1)" font-family="Liberation Sans, sans-serif" font-size="22.4" fill="#333" text-anchor="middle">500</text>
<text transform="translate(366.4 1168.5) scale(0.93 1)" font-family="Liberation Sans, sans-serif" font-size="22.4" fill="#333" text-anchor="middle">1000</text>
<text transform="translate(519.2 1168.5) scale(0.93 1)" font-family="Liberation Sans, sans-serif" font-size="22.4" fill="#333" text-anchor="middle">1500</text>
<text transform="translate(672.0 1168.5) scale(0.93 1)" font-family="Liberation Sans, sans-serif" font-size="22.4" fill="#333" text-anchor="middle">2000</text>
<text transform="translate(824.8 1168.5) scale(0.93 1)" font-family="Liberation Sans, sans-serif" font-size="22.4" fill="#333" text-anchor="middle">2500</text>
<g clip-path="url(#cb)"><path d="M335.0 1131.4 L335.1 1130.0 L335.1 1128.6 L335.2 1127.3 L335.3 1125.9 L335.4 1124.3 L335.5 1122.7 L335.5 1121.1 L335.6 1119.6 L335.7 1118.0 L335.8 1116.5 L335.9 1115.0 L335.9 1113.5 L336.0 1112.0 L336.1 1110.5 L336.2 1109.0 L336.3 1107.6 L336.3 1106.2 L336.4 1104.8 L336.5 1103.4 L336.6 1101.9 L336.7 1100.5 L336.8 1098.9 L336.9 1097.2 L337.0 1095.5 L337.1 1093.9 L337.2 1092.3 L337.3 1090.8 L337.4 1089.2 L337.5 1087.4 L337.7 1085.6 L337.8 1084.2 L338.0 1082.8 L338.2 1080.7 L338.6 1079.0 L338.9 1079.0 L339.3 1080.8 L339.8 1082.6 L340.2 1082.6 L340.4 1080.8 L340.6 1079.0 L340.7 1077.4 L340.8 1075.8 L340.9 1074.1 L341.0 1072.5 L341.1 1070.9 L341.2 1069.5 L341.2 1068.0 L341.3 1066.6 L341.3 1065.2 L341.4 1063.8 L341.5 1062.3 L341.5 1060.9 L341.6 1059.5 L341.6 1058.0 L341.7 1056.5 L341.7 1055.0 L341.8 1053.6 L341.8 1052.1 L341.9 1050.6 L342.0 1049.1 L342.0 1047.6 L342.1 1046.2 L342.1 1044.6 L342.2 1043.1 L342.2 1041.5 L342.3 1040.0 L342.3 1038.5 L342.4 1036.9 L342.4 1035.4 L342.5 1033.9 L342.5 1032.3 L342.6 1030.9 L342.7 1029.5 L342.7 1028.1 L342.8 1026.6 L342.8 1025.2 L342.9 1023.8 L342.9 1022.4 L343.0 1020.9 L343.0 1019.5 L343.1 1017.9 L343.2 1016.4 L343.2 1014.8 L343.3 1013.2 L343.3 1011.7 L343.4 1010.1 L343.5 1008.5 L343.5 1007.0 L343.6 1005.5 L343.7 1004.0 L343.7 1002.6 L343.8 1001.1 L343.8 999.6 L343.9 998.2 L343.9 996.7 L344.0 995.3 L344.1 993.8 L344.1 992.4 L344.2 990.9 L344.2 989.5 L344.3 988.1 L344.4 986.7 L344.4 985.2 L344.5 983.8 L344.5 982.4 L344.6 980.9 L344.6 979.5 L344.7 978.0 L344.8 976.6 L344.8 975.2 L344.9 973.7 L344.9 972.3 L345.0 970.8 L345.0 969.4 L345.1 967.8 L345.2 966.2 L345.2 964.7 L345.3 963.1 L345.3 961.6 L345.4 960.0 L345.5 958.3 L345.5 956.7 L345.6 955.0 L345.6 953.4 L345.6 951.8 L345.6 950.3 L345.7 948.8 L345.7 947.2 L345.7 945.6 L345.7 944.3 L345.8 943.0 L345.9 941.6 L346.0 940.1 L346.2 938.5 L346.5 936.9 L346.8 935.4 L347.1 933.8 L347.4 932.5 L347.8 931.1 L348.4 929.2 L349.0 928.2 L349.4 929.0 L349.7 931.2 L349.8 932.5 L349.9 933.9 L350.0 935.0 L350.2 936.2 L350.5 937.2 L350.8 936.9 L351.2 935.9 L351.6 934.2 L351.8 932.9 L352.0 931.6 L352.3 929.9 L352.5 928.2 L352.8 926.6 L353.7 925.0 L352.4 923.1 L353.6 921.6 L353.5 919.9 L354.1 918.3 L353.7 916.5 L354.9 915.2 L353.6 913.6 L354.5 912.3 L355.0 910.9 L355.4 909.5 L355.3 907.9 L355.4 906.3 L355.8 904.7 L356.2 903.1 L355.5 901.5 L356.2 900.1 L356.7 898.6 L357.1 896.7 L356.8 896.1 L357.5 897.1 L358.1 897.1 L358.0 895.5 L358.3 894.0 L358.1 892.5 L358.6 891.2 L358.7 889.8 L358.0 888.4 L359.1 887.0 L359.8 885.5 L359.7 883.9 L359.6 882.3 L359.2 880.7 L359.9 879.2 L359.8 877.7 L359.7 876.2 L360.5 874.7 L359.5 873.2 L360.7 871.8 L359.7 870.2 L360.8 868.7 L360.7 867.2 L360.5 865.6 L361.4 864.1 L361.3 862.6 L361.6 861.1 L362.2 859.8 L361.4 858.3 L361.1 856.9 L361.8 855.4 L362.6 853.9 L362.3 851.6 L362.7 850.1 L364.2 849.8 L364.2 849.2 L364.5 848.7 L364.4 849.5 L365.6 849.9 L365.7 851.4 L366.7 851.8 L366.8 852.3 L367.7 852.0 L368.3 850.8 L368.6 849.2 L368.3 847.5 L369.0 846.5 L369.2 845.5 L369.5 844.6 L370.5 844.5 L371.5 844.4 L372.2 843.9 L372.9 843.2 L374.0 843.0 L374.4 841.6 L375.2 840.8 L376.3 840.4 L376.8 839.5 L377.3 839.0 L378.1 838.4 L378.9 837.1 L379.0 835.8 L379.0 834.5 L380.1 833.3 L380.5 831.9 L379.9 830.5 L379.4 829.1 L379.5 827.7 L381.0 826.5 L379.8 825.1 L381.0 823.7 L381.0 822.2 L380.7 820.7 L381.6 819.3 L380.6 817.8 L380.9 816.4 L381.5 815.1 L381.0 813.6 L382.5 812.3 L381.7 810.7 L381.7 809.2 L381.8 807.5 L383.0 806.0 L382.9 804.6 L383.4 803.3 L383.8 801.1 L384.4 799.5 L385.0 798.2 L385.0 797.5 L385.2 796.9 L385.7 797.6 L385.8 797.3 L386.0 796.4 L387.2 794.9 L387.9 793.7 L387.3 792.3 L387.8 790.9 L388.2 789.5 L389.0 787.9 L389.1 786.2 L389.6 784.3 L390.1 782.5 L389.8 781.0 L390.7 779.6 L391.2 778.2 L390.2 776.3 L391.9 774.8 L391.8 773.1 L391.1 771.6 L391.9 770.3 L392.4 769.0 L393.1 767.8 L392.6 766.0 L393.2 764.4 L394.0 762.8 L394.1 761.5 L394.6 760.2 L394.1 758.7 L394.8 757.2 L394.4 755.5 L395.6 754.5 L396.0 753.3 L396.3 751.3 L397.0 749.8 L396.7 748.1 L398.3 747.4 L398.8 746.6 L399.2 746.1 L399.1 745.3 L399.4 745.7 L400.2 745.4 L399.8 746.5 L400.2 747.3 L401.4 748.2 L402.3 749.6 L402.0 750.8 L402.1 752.0 L402.1 753.5 L402.8 754.8 L403.8 756.2 L402.9 757.9 L404.4 758.9 L403.6 760.5 L404.9 761.2 L404.9 761.3 L406.0 760.4 L405.4 758.2 L405.9 756.5 L407.0 755.7 L407.6 756.1 L408.1 756.8 L409.0 757.4 L410.1 758.2 L410.5 757.2 L411.8 755.7 L410.7 754.0 L411.2 752.7 L411.9 751.3 L411.7 749.7 L412.6 748.7 L412.7 747.7 L412.9 746.8 L412.8 748.4 L413.5 749.7 L414.1 751.2 L414.2 753.0 L413.6 754.9 L413.8 756.6 L415.0 758.1 L414.5 760.3 L414.9 761.4 L415.9 761.2 L416.5 760.8 L416.4 759.3 L417.2 758.3 L417.4 757.2 L417.8 755.8 L417.0 754.3 L418.7 753.2 L418.2 751.6 L418.1 750.1 L418.9 748.7 L418.7 747.2 L418.7 745.6 L419.2 744.0 L418.4 742.3 L419.3 740.8 L419.2 739.5 L420.2 738.2 L420.3 736.9 L419.5 735.4 L420.1 734.0 L419.9 732.1 L420.9 732.6 L420.5 734.0 L420.6 735.2 L421.5 736.8 L421.9 738.5 L422.3 740.2 L421.8 741.9 L421.9 744.1 L423.1 743.4 L423.9 743.7 L423.7 741.8 L424.5 740.9 L425.2 740.4 L425.8 741.2 L426.5 741.0 L426.9 741.6 L426.9 742.6 L428.1 743.6 L427.7 745.8 L428.9 746.9 L428.6 748.3 L429.3 749.7 L429.7 751.0 L429.5 752.5 L430.0 753.7 L430.7 755.6 L431.2 757.0 L431.6 758.0 L432.6 758.1 L432.8 758.4 L433.6 758.8 L434.3 757.9 L434.7 756.2 L435.8 754.6 L436.0 752.9 L436.6 752.7 L437.3 752.2 L437.3 753.8 L437.8 755.3 L438.3 756.7 L439.6 757.0 L440.0 757.0 L440.9 757.5 L441.0 756.0 L441.6 756.9 L442.0 756.8 L443.6 756.9 L444.3 758.5 L444.4 760.6 L445.9 761.8 L446.7 762.7 L446.6 764.0 L447.5 763.3 L447.8 763.7 L449.0 763.1 L449.4 764.5 L449.4 765.8 L450.8 766.6 L450.9 768.3 L450.6 770.0 L450.7 771.9 L451.1 773.6 L452.9 774.9 L452.8 776.8 L453.0 778.2 L453.7 779.5 L454.5 781.5 L455.7 782.9 L456.7 784.2 L457.5 785.4 L458.5 786.7 L459.0 788.4 L459.9 789.8 L460.7 791.2 L461.9 792.3 L462.8 793.6 L463.9 794.9 L464.7 796.6 L465.8 798.0 L467.1 799.1 L468.7 799.4 L469.9 799.9 L471.0 800.7 L472.3 800.3 L473.4 800.7 L474.6 800.8 L475.4 801.8 L476.2 803.1 L476.9 804.4 L477.4 805.6 L478.4 806.0 L478.6 806.7 L479.1 807.0 L479.3 806.4 L479.9 805.9 L480.6 804.8 L481.0 802.8 L481.1 801.5 L481.4 800.2 L482.0 798.7 L481.9 797.1 L482.9 795.8 L483.1 794.2 L483.3 792.8 L483.7 791.5 L483.8 790.1 L483.9 788.8 L484.2 787.5 L484.4 786.2 L485.0 785.1 L485.1 783.8 L484.9 782.6 L485.6 781.6 L486.0 779.6 L486.6 778.0 L487.3 776.6 L487.8 775.3 L488.8 774.6 L489.6 773.8 L490.3 772.9 L491.3 772.3 L492.2 771.8 L493.0 771.2 L493.9 771.3 L494.7 770.9 L495.5 771.3 L496.3 771.8 L497.3 772.2 L497.8 773.5 L498.3 775.0 L498.9 776.7 L499.7 778.7 L499.4 780.1 L499.9 781.2 L500.5 782.5 L500.6 784.0 L501.0 785.6 L501.4 787.3 L501.7 788.6 L501.5 790.0 L502.0 791.2 L502.2 792.6 L502.4 794.0 L502.5 795.4 L503.5 796.7 L503.2 798.1 L503.4 799.5 L504.0 800.7 L504.1 802.0 L504.6 803.2 L504.8 805.0 L505.0 806.9 L505.5 808.6 L505.7 810.4 L505.5 812.2 L506.1 813.8 L506.4 815.4 L506.3 817.0 L506.9 818.3 L506.9 819.7 L507.4 820.9 L507.5 822.1 L508.5 824.0 L508.5 825.9 L508.9 827.4 L509.9 828.4 L510.0 829.7 L511.2 829.9 L511.8 830.5 L512.6 830.5 L513.2 831.0 L513.8 831.1 L514.4 830.5 L515.0 831.1 L515.6 830.6 L516.2 831.0 L516.7 831.6 L517.4 832.2 L518.0 833.2 L518.3 834.5 L519.1 836.0 L520.1 837.8 L520.2 839.0 L521.0 839.9 L521.6 841.1 L521.9 842.3 L522.6 843.6 L522.9 845.0 L522.9 846.5 L523.7 847.9 L523.7 849.5 L524.3 851.0 L525.2 852.4 L524.9 854.2 L525.4 855.9 L526.5 857.4 L526.1 858.8 L526.8 860.0 L527.1 861.3 L527.0 862.9 L527.9 864.2 L528.0 865.8 L528.0 867.2 L528.5 868.6 L529.0 869.9 L528.9 871.4 L529.4 873.0 L529.9 874.6 L530.6 876.1 L530.6 877.8 L531.0 879.1 L531.5 880.5 L531.9 881.8 L531.8 883.2 L532.4 884.5 L532.5 886.1 L532.6 887.7 L533.1 889.2 L533.6 890.7 L533.8 892.3 L534.3 893.9 L534.4 895.6 L535.1 897.1 L535.2 898.8 L536.0 900.9 L536.9 902.2 L537.9 903.1 L538.7 904.2 L539.1 905.2 L539.8 904.4 L540.6 904.0 L541.7 905.4 L542.1 907.1 L542.2 908.8 L542.7 910.4 L543.0 911.8 L543.2 913.3 L543.3 914.7 L544.0 916.0 L544.2 917.5 L543.9 919.0 L544.2 920.4 L544.4 921.9 L545.3 923.4 L545.5 924.9 L545.6 926.5 L545.7 928.1 L545.8 929.6 L546.4 931.1 L546.3 932.7 L546.9 934.2 L547.1 935.7 L546.8 937.4 L547.2 938.9 L547.3 940.4 L547.7 942.0 L547.9 943.5 L548.3 945.0 L548.4 946.6 L548.3 948.2 L548.5 949.8 L549.3 951.1 L549.5 952.6 L549.2 954.2 L549.5 955.6 L549.6 957.1 L550.3 958.5 L550.3 960.0 L550.7 961.4 L550.5 963.0 L551.0 964.4 L551.0 965.8 L551.0 967.3 L551.8 968.7 L551.9 970.1 L551.9 971.6 L552.1 973.0 L552.7 974.4 L553.0 975.8 L553.5 977.3 L553.2 979.0 L554.2 980.4 L554.5 981.9 L554.5 983.5 L554.9 984.8 L555.2 986.2 L555.8 987.4 L555.9 988.9 L556.9 990.1 L557.3 991.5 L557.4 992.9 L558.3 994.0 L558.6 995.3 L558.8 996.7 L559.3 998.2 L560.1 999.5 L560.7 1000.9 L560.9 1002.3 L561.0 1003.6 L561.6 1004.8 L562.2 1006.0 L562.2 1007.8 L562.8 1009.4 L563.1 1011.2 L563.5 1012.9 L564.0 1014.5 L564.9 1016.1 L565.0 1017.5 L565.8 1018.6 L566.1 1019.9 L566.5 1021.1 L566.4 1022.5 L566.9 1023.8 L567.8 1024.9 L568.1 1026.2 L568.5 1027.5 L569.0 1028.9 L569.4 1030.2 L569.8 1031.5 L570.4 1032.9 L570.6 1034.5 L570.9 1035.9 L571.6 1037.3 L571.9 1038.8 L572.6 1040.1 L573.3 1041.4 L573.4 1042.9 L573.9 1044.6 L574.9 1046.0 L575.7 1047.6 L575.8 1048.9 L576.3 1050.2 L576.7 1051.4 L577.0 1052.7 L577.8 1053.8 L578.5 1055.4 L579.4 1055.6 L579.9 1055.9 L580.8 1055.3 L581.0 1053.6 L581.6 1051.6 L582.5 1050.3 L583.0 1048.9 L582.7 1047.1 L583.5 1045.4 L583.4 1044.0 L584.2 1042.7 L584.4 1041.3 L584.5 1039.6 L584.8 1038.0 L585.6 1036.4 L585.8 1035.0 L586.3 1033.6 L586.3 1032.1 L586.5 1030.6 L587.4 1029.1 L587.5 1027.5 L587.7 1025.9 L588.0 1024.3 L588.5 1022.7 L588.8 1021.1 L589.3 1019.4 L589.3 1017.7 L589.8 1016.4 L590.0 1015.1 L590.4 1013.8 L590.6 1012.5 L590.9 1011.1 L591.2 1009.5 L591.6 1007.9 L591.7 1006.2 L591.9 1004.5 L592.3 1003.2 L592.6 1001.8 L592.6 1000.4 L592.8 999.1 L592.9 997.7 L593.6 996.4 L594.0 995.0 L593.8 993.5 L593.9 992.1 L594.2 990.7 L594.6 989.3 L594.7 987.8 L595.5 986.4 L595.1 984.9 L595.5 983.4 L595.6 981.9 L596.3 980.4 L596.6 978.9 L596.4 977.3 L596.6 975.8 L597.1 974.5 L597.4 973.1 L597.9 971.8 L597.4 970.3 L597.7 968.9 L597.9 967.6 L598.2 966.1 L598.4 964.7 L599.0 963.2 L599.1 961.8 L599.0 960.2 L599.2 958.8 L599.5 957.3 L599.6 955.8 L600.3 954.3 L600.1 952.8 L600.5 951.3 L600.9 949.9 L600.9 948.4 L600.9 946.9 L601.6 945.5 L601.9 944.1 L601.6 942.5 L602.0 941.1 L602.6 939.5 L602.4 937.9 L602.5 936.2 L602.6 934.6 L603.6 933.1 L603.7 931.7 L603.6 930.2 L604.0 928.8 L604.2 927.4 L604.3 925.9 L605.1 924.4 L605.1 922.7 L605.1 921.1 L605.2 919.4 L605.9 917.9 L606.1 916.4 L606.7 914.9 L607.0 913.3 L607.2 911.8 L607.2 910.1 L607.5 908.6 L607.9 907.0 L608.2 905.7 L608.9 904.4 L608.9 903.0 L609.3 901.7 L609.9 900.4 L609.6 898.8 L610.2 897.4 L610.2 895.9 L611.0 894.5 L610.7 892.9 L611.7 891.5 L612.1 889.9 L612.5 888.3 L612.2 886.6 L612.7 885.1 L613.5 883.6 L613.3 881.9 L614.0 880.4 L614.4 878.8 L615.1 877.3 L615.2 875.7 L615.8 874.3 L615.7 872.6 L616.5 871.2 L616.5 869.6 L617.3 868.3 L617.0 866.7 L617.9 865.5 L617.7 863.9 L618.3 862.6 L618.7 861.2 L618.7 859.8 L619.6 858.5 L619.5 857.0 L619.8 855.6 L619.9 854.2 L620.4 852.8 L620.9 851.4 L621.4 850.1 L621.5 848.6 L622.1 847.0 L622.0 845.3 L622.7 843.8 L623.0 842.2 L624.7 840.8 L624.8 839.1 L624.9 837.3 L624.1 835.1 L625.5 833.9 L626.3 834.7 L627.5 835.4 L627.1 837.0 L627.5 838.2 L628.7 839.4 L626.6 840.9 L627.3 842.7 L628.9 844.1 L628.5 846.3 L628.7 845.3 L629.2 843.7 L629.7 842.7 L629.4 841.4 L629.9 839.3 L630.6 838.4 L631.2 839.2 L632.6 839.3 L633.6 840.7 L632.9 842.3 L634.2 843.0 L633.2 844.9 L634.5 846.1 L634.3 847.7 L635.5 849.0 L634.6 850.7 L636.5 851.9 L636.6 853.4 L636.9 854.9 L635.7 856.5 L635.8 858.1 L637.3 859.6 L637.0 861.2 L636.1 862.9 L636.9 864.3 L638.3 865.6 L638.1 867.0 L638.5 868.4 L638.8 869.8 L638.4 871.2 L639.4 872.2 L638.5 875.1 L640.0 874.4 L640.7 874.1 L641.2 874.2 L641.7 875.5 L641.9 876.9 L643.2 878.2 L643.6 879.6 L643.6 881.0 L644.8 882.3 L644.2 884.0 L643.7 885.6 L643.3 887.3 L644.0 888.8 L644.5 890.2 L644.9 891.7 L646.6 892.6 L646.1 894.0 L646.4 895.2 L646.1 896.7 L647.8 897.4 L648.2 899.4 L649.0 901.1 L649.5 903.2 L649.8 904.4 L650.8 905.5 L652.2 906.8 L651.3 908.8 L651.2 910.1 L652.3 911.2 L653.0 912.4 L652.7 913.1 L653.9 913.5 L652.3 914.4 L651.6 915.1 L653.1 915.4 L652.6 916.1 L652.4 916.8 L654.4 917.1 L652.3 918.1 L653.3 918.6 L654.7 919.0 L655.1 919.5 L654.7 920.3 L653.9 921.0 L653.6 921.7 L654.8 922.0 L653.1 922.9 L654.9 923.2 L654.6 923.8 L655.7 924.2 L653.3 925.2 L655.9 925.3 L653.7 926.3 L654.8 926.7 L654.9 927.3 L655.0 927.8 L655.9 928.3 L654.1 929.2 L653.9 929.8 L654.5 930.3 L655.3 930.8 L656.8 931.2 L654.7 932.0 L656.4 932.4 L654.7 933.2 L656.7 933.6 L655.8 934.3 L655.1 935.0 L657.1 935.4 L656.1 936.1 L657.5 936.5 L657.8 937.1 L657.4 937.7 L655.1 938.6 L655.3 939.2 L656.2 939.7 L657.3 940.1 L656.3 940.9 L656.2 941.5 L657.3 941.9 L656.8 942.6 L656.2 943.3 L658.6 943.6 L658.2 944.3 L657.5 945.0 L658.6 945.5 L657.9 946.2 L657.5 946.9 L658.7 947.3 L657.9 948.2 L658.8 948.6 L658.1 949.5 L658.9 949.9 L658.2 950.9 L659.7 949.7 L659.6 951.7 L659.1 949.9 L661.3 950.9 L660.7 949.9 L660.6 949.2 L660.7 948.5 L661.5 948.2 L661.9 947.7 L662.4 947.2 L662.5 946.8 L662.3 945.7 L662.6 947.0 L662.6 946.9 L662.6 947.2 L664.1 947.4 L664.1 948.0 L663.8 948.7 L662.9 949.4 L664.2 949.8 L664.3 950.4 L664.6 950.9 L663.3 951.7 L665.1 952.1 L666.0 952.6 L664.1 953.5 L663.7 954.2 L664.3 954.8 L664.7 955.3 L664.4 956.0 L665.8 956.5 L665.0 957.2 L666.6 957.6 L666.5 958.3 L665.7 959.0 L665.6 959.6 L666.0 960.2 L667.1 960.7 L665.3 961.5 L665.9 962.1 L666.8 962.6 L666.7 963.2 L666.5 963.8 L667.1 964.4 L667.7 964.9 L665.3 965.9 L665.2 966.5 L666.2 967.0 L665.7 967.6 L667.1 968.1 L666.0 968.8 L667.8 969.2 L666.4 970.0 L667.0 970.5 L666.1 971.3 L668.5 971.6 L666.6 972.5 L668.6 972.8 L667.5 973.6 L666.3 974.3 L669.2 974.6 L668.6 975.3 L668.5 975.9 L668.5 976.5 L669.4 977.0 L667.0 977.9 L667.3 978.5 L668.6 978.9 L668.8 979.5 L668.2 980.1 L669.9 980.5 L670.1 981.1 L667.6 982.0 L669.4 982.3 L668.9 983.0 L667.7 983.8 L667.6 984.4 L669.2 984.8 L670.1 985.3 L670.0 985.9 L668.2 986.8 L668.4 987.5 L670.6 987.7 L668.7 988.7 L670.3 989.1 L670.0 989.7 L671.0 990.2 L669.0 991.2 L668.8 991.8 L671.2 991.9 L670.1 992.7 L671.5 993.0 L669.6 994.0 L672.2 994.1 L672.1 994.6 L670.4 995.6 L671.7 995.8 L670.2 996.9 L670.6 997.4 L671.2 997.8 L672.9 997.5 L671.7 998.9 L672.0 1000.0 L673.3 999.1 L674.1 998.0 L674.4 998.4 L675.0 998.8 L674.9 1000.0 L676.3 999.4 L676.8 1000.1 L676.9 1000.7 L675.9 1001.8 L675.7 1002.5 L677.1 1002.8 L676.4 1003.7 L675.9 1004.4 L676.9 1004.8 L678.0 1005.2 L677.9 1005.8 L676.2 1006.7 L677.0 1007.2 L678.3 1007.5 L677.3 1008.3 L679.1 1008.6 L676.5 1009.6 L678.2 1009.9 L678.0 1010.5 L678.1 1011.1 L679.6 1011.4 L678.1 1012.2 L679.1 1012.6 L679.3 1013.2 L677.7 1014.0 L679.9 1014.2 L679.4 1014.9 L678.1 1015.7 L679.7 1016.0 L679.7 1016.5 L679.0 1017.2 L680.2 1017.6 L678.2 1018.6 L678.1 1019.2 L681.0 1019.2 L679.9 1020.0 L679.1 1020.8 L680.3 1021.1 L678.9 1022.1 L680.4 1022.4 L681.5 1022.7 L680.6 1023.7 L680.5 1024.4 L681.5 1024.6 L680.9 1025.5 L680.8 1026.1 L681.7 1026.3 L682.0 1026.9 L681.2 1027.8 L681.9 1028.1 L682.6 1028.4 L681.6 1029.4 L684.0 1029.0 L682.5 1030.3 L684.4 1030.2 L683.4 1031.3 L684.6 1031.5 L684.2 1032.3 L683.4 1033.1 L683.5 1033.7 L683.6 1034.2 L685.4 1034.4 L684.8 1035.1 L685.7 1035.5 L684.8 1036.3 L685.1 1036.9 L686.6 1037.3 L685.0 1038.2 L684.7 1038.8 L685.3 1039.4 L684.4 1040.1 L686.6 1040.5 L686.8 1041.1 L687.3 1041.7 L685.9 1042.4 L686.1 1043.0 L686.2 1043.6 L686.8 1044.1 L685.2 1044.8 L687.4 1045.2 L685.0 1046.0 L686.1 1046.5 L686.2 1047.1 L685.5 1047.7 L687.2 1048.1 L687.6 1048.7 L687.1 1049.3 L688.0 1049.8 L687.2 1050.5 L686.4 1051.2 L686.7 1051.8 L687.6 1052.3 L686.7 1053.0 L688.2 1053.4 L686.1 1054.2 L688.1 1054.6 L687.9 1055.3 L688.2 1055.8 L686.7 1056.6 L686.3 1057.2 L686.5 1057.7 L688.8 1058.1 L687.8 1058.8 L688.0 1059.3 L688.5 1059.8 L686.3 1060.7 L689.2 1060.9 L687.9 1061.6 L687.2 1062.3 L686.6 1063.1 L689.2 1063.2 L688.4 1064.0 L687.7 1064.8 L689.9 1065.0 L689.4 1065.7 L687.7 1066.8 L690.1 1066.7 L689.6 1067.5 L690.1 1068.0 L690.1 1068.7 L691.3 1068.4 L691.4 1068.5 L690.6 1071.5 L691.8 1070.8 L692.7 1070.6 L692.2 1068.8 L692.6 1068.5 L693.7 1068.5 L693.0 1067.6 L693.8 1067.3 L695.3 1067.2 L693.9 1066.2 L693.9 1065.6 L696.0 1065.5 L695.0 1064.7 L693.4 1063.8 L694.6 1063.3 L695.4 1062.8 L693.8 1061.9 L694.7 1061.4 L695.8 1060.9 L696.4 1060.3 L695.7 1059.6 L696.6 1059.1 L695.4 1058.4 L695.3 1057.7 L696.7 1057.2 L695.3 1056.5 L696.6 1056.0 L694.9 1055.2 L695.4 1054.7 L695.0 1054.0 L696.1 1053.5 L695.0 1052.8 L695.1 1052.3 L695.2 1051.7 L696.0 1051.1 L695.6 1050.5 L696.0 1050.0 L697.7 1049.5 L696.8 1048.9 L697.4 1048.3 L695.4 1047.6 L696.0 1047.1 L695.1 1046.4 L697.0 1046.0 L696.1 1045.3 L695.8 1044.7 L695.1 1044.0 L695.6 1043.4 L695.9 1042.8 L696.3 1042.3 L698.0 1041.7 L697.4 1041.1 L696.1 1040.4 L696.4 1039.8 L695.8 1039.1 L698.2 1038.7 L696.5 1038.0 L697.7 1037.4 L697.6 1036.8 L698.2 1036.2 L695.6 1035.5 L696.5 1034.9 L696.8 1034.4 L695.9 1033.7 L698.3 1033.3 L696.7 1032.6 L698.1 1032.1 L697.3 1031.5 L696.0 1030.8 L697.0 1030.3 L696.6 1029.7 L696.1 1029.0 L696.4 1028.5 L697.8 1028.0 L696.1 1027.3 L697.0 1026.8 L697.4 1026.2 L697.8 1025.6 L696.6 1024.9 L698.3 1024.4 L697.0 1023.8 L698.5 1023.2 L698.3 1022.6 L696.8 1021.9 L697.0 1021.4 L697.3 1020.8 L698.6 1020.3 L697.7 1019.6 L697.7 1019.0 L699.2 1018.5 L697.3 1017.8 L697.5 1017.2 L697.7 1016.6 L697.4 1016.0 L696.9 1015.3 L696.9 1014.7 L698.7 1014.3 L698.6 1013.6 L699.3 1013.1 L699.9 1012.5 L697.9 1011.8 L699.0 1011.3 L699.8 1010.7 L697.7 1010.0 L699.2 1009.5 L699.2 1008.9 L700.1 1008.4 L699.8 1007.8 L698.0 1007.1 L699.2 1006.5 L697.6 1005.9 L698.6 1005.3 L698.6 1004.7 L697.6 1004.1 L698.6 1003.5 L698.5 1002.9 L699.0 1002.4 L698.4 1001.7 L698.1 1001.1 L698.8 1000.6 L699.1 1000.0 L698.2 999.4 L699.7 998.8 L698.5 998.2 L698.1 997.6 L698.9 997.0 L699.1 996.4 L698.4 995.8 L699.7 995.3 L700.1 994.7 L699.7 994.1 L700.1 993.5 L698.1 992.8 L699.3 992.3 L699.2 991.7 L698.4 991.0 L699.4 990.5 L698.4 989.8 L699.8 989.3 L700.1 988.7 L699.7 988.1 L699.3 987.5 L699.2 986.9 L698.5 986.3 L699.5 985.7 L701.2 985.2 L700.2 984.6 L699.4 983.9 L700.6 983.4 L699.2 982.7 L700.1 982.1 L700.6 981.6 L701.6 981.0 L699.9 980.3 L700.6 979.8 L701.7 979.2 L701.2 978.6 L700.8 978.0 L700.8 977.4 L700.2 976.7 L700.3 976.1 L699.9 975.5 L701.6 975.0 L701.8 974.4 L700.3 973.8 L702.0 973.3 L699.4 972.5 L699.7 972.0 L700.9 971.4 L700.3 970.8 L700.5 970.3 L702.4 969.8 L699.9 969.0 L700.1 968.5 L700.3 967.9 L701.7 967.4 L700.4 966.7 L699.7 966.1 L701.4 965.6 L700.9 965.0 L700.5 964.4 L701.3 963.9 L701.8 963.3 L701.6 962.7 L701.8 962.1 L701.7 961.5 L702.6 961.0 L703.0 960.4 L701.2 959.6 L701.2 959.0 L702.9 958.6 L701.2 957.8 L702.5 957.3 L702.5 956.7 L702.5 956.1 L703.4 955.6 L703.0 955.0 L701.0 954.2 L702.5 953.7 L702.1 953.1 L702.4 952.5 L701.9 951.9 L701.7 951.3 L703.1 950.8 L702.5 950.2 L701.7 949.5 L701.8 948.9 L702.0 948.4 L701.6 947.8 L702.7 947.3 L701.6 946.6 L701.4 946.0 L701.5 945.4 L701.7 944.8 L703.5 944.4 L701.8 943.6 L702.9 943.1 L703.9 942.6 L703.1 941.9 L702.2 941.2 L704.3 940.8 L704.4 940.2 L702.0 939.3 L702.7 938.8 L703.5 938.2 L704.4 937.7 L703.2 937.0 L704.3 936.5 L702.9 935.7 L704.4 935.2 L703.3 934.5 L703.4 933.9 L704.7 933.5 L705.0 932.9 L705.0 932.3 L704.3 931.6 L703.9 931.0 L704.8 930.5 L704.6 929.8 L705.3 929.3 L705.3 928.7 L703.3 927.9 L704.1 927.4 L705.0 926.9 L703.8 926.2 L703.7 925.6 L703.3 925.0 L705.0 924.6 L706.1 924.1 L706.3 923.5 L703.8 922.7 L705.5 922.3 L704.8 921.6 L705.5 921.1 L704.8 920.5 L706.5 920.0 L706.7 919.4 L704.0 918.5 L706.0 918.1 L704.3 917.3 L704.1 916.6 L704.9 916.1 L706.3 915.6 L707.2 915.0 L704.6 914.2 L705.3 913.6 L704.4 912.9 L706.0 912.4 L705.9 911.8 L705.6 911.2 L705.5 910.5 L707.0 910.1 L707.2 909.5 L705.6 908.7 L706.0 908.1 L706.7 907.6 L707.2 907.1 L707.9 906.6 L706.2 905.8 L707.2 905.3 L706.8 904.7 L707.6 904.2 L705.8 903.4 L705.9 902.8 L705.8 902.1 L708.3 901.8 L706.4 900.9 L707.2 900.4 L706.2 899.6 L706.9 899.0 L706.2 898.1 L707.9 897.9 L707.2 896.6 L708.1 897.2 L709.2 896.9 L709.7 897.7 L709.2 898.7 L709.8 899.1 L710.2 899.4 L710.1 899.0 L709.5 898.9 L711.8 899.7 L710.3 898.6 L709.7 897.9 L710.2 897.5 L711.2 897.2 L712.8 896.9 L710.7 895.6 L712.8 895.5 L712.0 894.6 L712.3 893.9 L711.7 895.2 L713.0 895.2 L714.1 895.7 L712.7 896.5 L712.4 897.2 L712.6 897.7 L713.7 898.2 L711.8 899.0 L712.1 899.6 L711.7 900.2 L713.4 900.7 L712.3 901.4 L712.6 901.9 L714.3 902.4 L714.8 903.0 L714.4 903.6 L714.6 904.2 L714.8 904.8 L713.9 905.4 L712.8 906.1 L714.2 906.6 L713.6 907.2 L715.1 907.7 L714.6 908.3 L712.3 909.0 L715.2 909.4 L713.7 910.1 L712.9 910.7 L713.0 911.3 L713.2 911.9 L714.2 912.4 L713.0 913.0 L713.0 913.6 L713.2 914.2 L712.6 914.8 L715.3 915.2 L712.7 916.0 L714.4 916.4 L713.5 917.1 L714.9 917.6 L713.0 918.3 L715.7 918.7 L714.0 919.4 L715.1 919.9 L714.7 920.5 L714.8 921.1 L714.0 921.8 L713.6 922.5 L714.9 923.0 L714.2 923.7 L715.1 924.2 L715.3 924.8 L713.5 925.6 L715.3 926.1 L716.1 926.6 L715.4 927.3 L714.3 928.1 L715.9 928.5 L714.4 929.3 L715.1 929.8 L714.8 930.4 L716.4 930.6 L716.6 930.9 L716.2 931.0 L715.8 931.6 L716.1 931.2 L715.0 930.3 L716.6 930.0 L716.3 929.4 L716.1 928.8 L716.9 928.3 L718.2 927.8 L716.0 927.0 L718.1 926.6 L716.4 925.9 L717.8 925.4 L715.9 924.6 L718.6 924.2 L716.9 923.5 L718.6 923.0 L716.4 922.3 L717.0 921.7 L717.9 921.2 L716.4 920.5 L716.7 919.9 L718.0 919.4 L718.8 918.8 L717.0 918.1 L716.6 917.5 L717.2 916.9 L719.1 916.5 L716.7 915.7 L718.2 915.2 L717.4 914.5 L718.3 914.0 L717.0 913.3 L718.3 912.8 L719.1 912.3 L719.1 911.7 L718.5 911.0 L718.1 910.4 L718.4 909.8 L717.1 909.1 L719.3 908.7 L718.9 908.1 L718.3 907.4 L718.9 906.9 L718.3 906.3 L718.3 905.7 L718.0 905.1 L719.2 904.8 L719.0 904.3 L719.3 904.6 L720.9 904.6 L719.3 905.8 L720.0 906.2 L719.6 906.9 L719.7 907.5 L718.8 908.2 L721.3 908.4 L720.4 909.1 L718.9 909.9 L719.7 910.4 L721.1 910.8 L719.9 911.5 L719.2 912.1 L721.0 912.5 L719.7 913.2 L722.0 913.5 L719.5 914.4 L721.0 914.8 L721.8 915.4 L720.1 916.1 L720.7 916.7 L719.9 917.4 L720.3 917.9 L720.5 918.5 L721.4 919.0 L720.0 919.7 L722.8 920.1 L720.5 920.9 L721.0 921.4 L722.4 921.9 L720.8 922.6 L721.9 923.1 L721.7 923.7 L720.8 924.4 L722.9 924.8 L722.7 925.5 L721.6 926.2 L723.4 926.7 L722.0 927.4 L721.3 928.0 L722.2 928.6 L723.0 929.2 L721.4 929.9 L721.3 930.5 L721.6 931.1 L722.3 931.7 L721.2 932.3 L721.6 932.9 L723.6 933.4 L722.9 934.0 L723.8 934.6 L724.0 935.1 L723.1 935.8 L721.5 936.4 L721.7 937.0 L723.8 937.5 L723.7 938.1 L723.1 938.7 L721.7 939.3 L722.4 939.9 L721.6 940.5 L724.1 941.0 L721.4 941.7 L723.8 942.2 L722.5 942.8 L721.8 943.4 L722.3 944.0 L723.9 944.5 L722.5 945.2 L723.2 945.7 L724.5 946.3 L723.6 946.9 L723.7 947.5 L722.7 948.1 L723.8 948.7 L722.9 949.3 L722.6 949.9 L724.2 950.5 L724.4 951.0 L722.7 951.7 L723.4 952.3 L724.5 952.8 L724.6 953.4 L722.1 954.2 L723.1 954.7 L723.9 955.3 L724.4 955.8 L722.1 956.6 L723.1 957.2 L723.0 957.8 L724.2 958.3 L724.4 958.9 L724.2 959.5 L725.0 960.0 L723.7 960.9 L724.5 961.2 L723.9 962.5 L724.7 961.9 L725.0 961.5 L725.5 961.0 L726.9 961.0 L725.5 959.8 L726.7 959.7 L725.6 958.5 L726.8 958.5 L726.4 957.4 L727.2 958.5 L727.9 957.3 L726.8 958.7 L727.4 958.9 L728.1 959.3 L726.8 960.1 L728.5 960.4 L727.5 961.1 L728.0 961.6 L728.5 962.1 L729.7 962.6 L728.7 963.3 L729.2 963.8 L728.7 964.5 L727.3 965.2 L729.3 965.6 L728.1 966.3 L728.2 966.9 L729.6 967.3 L729.1 968.0 L730.0 968.5 L727.7 969.3 L729.7 969.8 L729.2 970.4 L729.5 971.0 L728.1 971.7 L728.1 972.3 L728.9 972.9 L729.1 973.5 L730.5 974.0 L728.1 974.8 L730.6 975.2 L729.8 975.8 L729.8 976.4 L728.8 977.0 L729.0 977.6 L730.0 978.1 L728.4 978.8 L728.3 979.4 L731.1 979.8 L729.3 980.5 L729.9 981.0 L730.2 981.6 L730.0 982.2 L730.5 982.8 L729.5 983.5 L729.8 984.1 L728.8 984.9 L728.8 985.5 L728.9 986.2 L730.8 986.4 L729.6 987.3 L730.2 987.7 L730.2 988.3 L729.5 989.1 L732.3 989.1 L731.3 989.9 L731.6 990.4 L731.0 991.2 L732.5 991.3 L730.4 992.6 L732.8 992.3 L732.6 993.0 L733.4 993.2 L732.9 994.0 L732.2 995.0 L734.1 994.3 L733.8 994.5 L734.2 996.4 L734.9 995.6 L735.5 995.0 L734.3 993.9 L736.1 993.7 L735.9 993.0 L736.2 992.4 L734.4 991.5 L735.5 991.1 L734.3 990.2 L736.9 990.1 L737.2 989.7 L737.2 989.1 L734.9 987.8 L736.0 987.5 L736.7 987.2 L737.0 986.7 L736.4 985.5 L738.3 986.4 L737.7 984.9 L738.4 985.1 L738.9 983.8 L739.5 985.2 L740.8 984.7 L741.5 985.3 L740.5 986.5 L741.4 987.0 L740.1 988.0 L741.9 988.2 L741.5 988.9 L742.7 989.4 L742.3 990.1 L741.8 990.9 L741.6 991.6 L742.0 992.2 L740.9 993.0 L743.2 993.1 L741.1 994.1 L743.3 994.3 L741.0 995.4 L742.4 995.7 L742.8 996.2 L742.4 996.9 L741.8 997.6 L741.6 998.3 L743.3 998.4 L744.6 998.6 L744.3 999.2 L742.8 1000.5 L743.5 1001.1 L744.2 1001.7 L743.9 999.7 L744.9 1000.1 L743.9 999.0 L744.2 998.5 L744.9 998.2 L747.0 998.1 L746.3 997.2 L747.0 996.8 L744.9 995.5 L746.1 995.2 L745.3 994.4 L746.0 993.9 L745.7 993.2 L748.2 993.1 L746.7 992.1 L747.3 991.6 L747.9 991.2 L748.8 990.8 L749.1 990.3 L748.2 989.4 L748.2 988.8 L749.4 988.8 L748.6 987.4 L749.3 986.6 L748.8 988.2 L750.2 988.1 L750.1 988.8 L750.0 989.4 L750.0 990.0 L750.4 990.5 L750.2 991.1 L750.2 991.7 L751.5 992.1 L749.2 992.9 L751.6 993.3 L750.2 994.0 L750.2 994.6 L750.7 995.2 L751.3 995.7 L751.7 996.3 L750.9 997.0 L751.1 997.6 L750.7 998.2 L751.5 998.8 L750.0 999.5 L750.8 1000.0 L752.3 1000.5 L751.1 1001.1 L749.5 1001.9 L752.4 1002.2 L750.7 1002.9 L749.7 1003.6 L751.5 1004.0 L750.8 1004.7 L751.6 1005.2 L751.9 1005.7 L751.1 1006.5 L751.3 1007.1 L752.2 1007.5 L751.7 1008.2 L751.9 1008.8 L751.6 1009.7 L753.4 1008.8 L753.5 1008.9 L753.5 1009.4 L754.0 1009.4 L754.4 1010.9 L755.0 1009.9 L754.8 1011.0 L756.0 1010.5 L756.8 1010.9 L755.9 1012.0 L757.7 1012.1 L755.3 1013.4 L755.9 1013.8 L757.5 1014.1 L757.6 1014.6 L756.2 1015.4 L756.4 1015.9 L756.9 1016.4 L758.7 1016.7 L756.7 1017.6 L758.9 1017.9 L757.3 1018.7 L757.6 1019.3 L756.6 1020.0 L757.5 1020.5 L759.4 1020.7 L756.8 1021.7 L757.5 1022.2 L758.1 1022.6 L759.9 1022.8 L757.8 1023.8 L758.9 1024.2 L758.3 1025.0 L757.6 1026.0 L758.0 1026.6 L760.6 1025.9 L759.4 1027.9 L760.5 1027.1 L760.8 1028.2 L761.3 1027.0 L761.8 1027.2 L762.3 1027.4 L763.4 1026.8 L763.4 1027.8 L762.7 1029.0 L764.8 1028.5 L764.9 1029.2 L763.0 1030.5 L763.7 1031.0 L764.2 1031.4 L765.6 1031.7 L765.7 1033.1 L765.6 1034.5 L764.3 1036.2 L765.6 1037.5 L765.0 1039.1 L767.0 1040.2 L766.8 1041.6 L766.8 1043.0 L766.4 1044.5 L768.5 1045.2 L767.4 1047.5 L769.0 1047.9 L769.9 1046.6 L770.8 1047.0 L771.8 1046.3 L772.2 1047.2 L772.3 1048.7 L773.8 1050.3 L773.6 1051.6 L774.6 1052.5 L774.3 1054.9 L776.2 1055.1 L776.4 1056.5 L776.9 1054.6 L778.3 1054.6 L779.4 1053.2 L780.3 1054.1 L781.4 1056.0 L781.3 1057.7 L781.0 1059.2 L781.4 1060.9 L782.0 1062.5 L781.8 1064.1 L781.5 1065.8 L782.9 1066.5 L782.8 1067.9 L783.8 1068.6 L784.4 1069.9 L785.7 1068.3 L786.4 1069.1 L787.9 1068.8 L788.6 1070.3 L788.0 1072.5 L788.9 1074.4 L790.2 1076.1 L791.3 1077.7 L790.7 1080.2 L792.7 1081.3 L793.3 1083.3 L795.1 1084.3 L796.2 1085.8 L797.7 1086.5 L799.1 1088.0 L800.7 1088.2 L802.6 1087.7 L803.8 1088.5 L805.2 1089.5 L804.6 1091.7 L806.5 1092.9 L806.5 1094.6 L806.2 1096.6 L808.2 1095.5 L808.8 1097.1 L810.0 1096.7 L811.3 1096.8 L813.0 1097.2 L814.7 1098.5 L814.0 1100.8 L815.0 1101.7 L815.7 1102.9 L817.9 1103.3 L817.3 1105.3 L819.2 1105.7 L819.9 1106.5 L820.1 1108.0 L821.5 1109.4 L823.7 1109.4 L824.6 1111.5 L826.2 1111.6 L827.4 1112.7 L828.4 1112.8 L828.6 1111.9 L828.4 1110.8 L829.9 1111.6 L830.9 1111.0 L832.0 1109.8 L833.4 1110.6 L834.8 1110.4 L836.1 1109.8 L837.4 1109.7 L838.8 1109.4 L840.1 1109.9 L841.4 1109.5 L843.0 1109.5 L844.5 1109.4 L846.0 1109.3 L847.6 1109.6 L849.0 1109.3 L850.4 1109.3 L851.7 1109.3 L853.1 1109.5 L854.5 1109.9 L855.9 1109.1 L857.4 1109.9 L858.9 1109.9 L860.3 1109.5 L861.8 1109.4 L863.2 1109.7 L864.7 1109.4 L866.1 1109.6 L867.5 1109.9 L869.0 1109.7 L870.4 1109.1 L871.9 1108.8 L873.3 1109.9 L874.7 1109.2 L876.2 1109.7 L877.6 1109.1 L879.1 1109.3 L880.5 1109.2 L882.0 1109.7 L883.4 1109.9 L884.9 1109.4 L886.4 1109.5 L887.8 1109.2 L889.3 1109.1 L890.7 1110.0 L892.3 1109.0 L893.8 1110.0 L895.3 1109.6 L896.8 1108.9 L898.3 1109.9 L899.8 1109.0 L901.5 1109.5 L903.1 1109.0 L904.8 1110.0 L906.4 1109.2 L908.2 1109.7 L909.8 1108.6 L911.2 1109.0 L910.7 1108.1 L910.2 1107.8 L910.9 1108.0 L911.3 1108.6 L912.0 1108.6 L912.5 1109.2 L913.3 1109.2 L913.9 1108.5 L914.2 1107.2 L915.6 1106.2 L916.1 1104.4 L917.4 1102.7 L917.7 1101.5 L918.3 1100.5 L918.4 1099.1 L919.5 1098.0 L919.6 1096.5 L920.2 1095.1 L920.2 1093.5 L921.1 1092.1 L921.6 1090.5 L922.5 1089.0 L922.5 1087.2 L922.3 1085.5 L922.9 1083.8 L923.3 1082.1 L924.0 1080.3 L924.6 1078.5 L924.8 1077.3 L925.0 1076.0 L925.1 1074.8 L925.3 1072.9 L925.7 1071.1 L924.9 1069.3 L925.7 1067.7 L926.2 1066.1 L926.6 1064.4 L926.8 1062.7 L927.1 1060.9 L927.8 1059.4 L927.1 1057.7 L927.9 1056.6 L928.7 1055.7 L928.6 1053.8 L929.6 1054.4 L929.3 1056.4 L929.4 1057.6 L930.8 1058.6 L931.0 1060.1 L930.3 1061.7 L930.7 1063.2 L931.1 1064.8 L931.2 1066.2 L931.1 1067.7 L931.2 1069.1 L932.2 1070.5 L932.3 1072.0 L931.5 1073.5 L931.4 1075.0 L931.7 1076.4 L932.3 1077.8 L932.5 1079.2 L932.6 1080.6 L933.1 1081.9 L932.3 1083.4 L933.0 1084.6 L933.3 1085.7 L933.4 1084.0 L933.4 1082.3 L933.9 1080.8 L933.8 1079.2 L933.6 1077.6 L934.5 1076.0 L933.7 1074.4 L933.8 1072.8 L934.0 1071.2 L934.3 1069.6 L934.8 1068.0 L934.3 1066.3 L934.3 1064.7 L934.9 1063.1 L934.5 1061.4 L934.9 1059.8 L934.6 1058.4 L935.5 1057.0 L934.7 1055.6 L934.9 1054.2 L935.0 1052.8 L935.2 1051.3 L935.8 1049.8 L935.8 1048.2 L936.1 1046.6 L935.9 1045.0 L935.5 1043.3 L936.4 1041.7 L935.9 1040.0 L936.0 1038.6 L936.3 1037.1 L937.1 1035.7 L936.5 1034.1 L936.7 1032.6 L937.5 1031.2 L937.7 1029.8 L937.6 1027.5 L938.5 1028.0 L938.0 1029.9 L938.3 1031.4 L939.0 1032.8 L938.6 1034.4 L939.2 1035.8 L939.5 1037.2 L939.2 1038.6 L939.2 1040.0 L939.6 1041.3 L939.3 1042.7 L940.4 1044.0 L939.9 1045.5 L940.2 1046.9 L940.7 1048.4 L939.8 1050.1 L940.8 1051.6 L940.8 1053.1 L940.1 1054.7 L940.1 1056.1 L940.2 1057.6 L941.0 1059.0 L940.4 1060.5 L941.4 1062.0 L940.8 1063.6 L940.6 1065.2 L941.6 1066.7 L941.7 1068.3 L941.1 1069.8 L941.0 1071.4 L941.2 1072.9 L941.1 1074.4 L941.7 1075.9 L941.9 1077.5 L942.4 1079.2 L942.3 1080.9 L941.6 1082.6 L942.7 1084.1 L942.7 1085.6 L942.6 1087.2 L943.1 1088.6 L942.9 1090.1 L943.2 1091.6 L943.4 1093.0 L943.0 1094.5 L943.1 1095.9 L943.2 1097.2 L943.1 1098.6 L943.5 1099.9 L943.2 1101.5 L944.4 1102.9 L944.4 1104.4 L944.8 1106.1 L944.7 1107.9 L944.6 1110.1 L944.8 1111.1 L945.6 1111.0 L946.0 1110.5 L946.6 1110.7 L947.0 1111.1 L947.0 1110.6 L947.6 1111.0 L948.7 1111.0 L949.8 1110.3 L951.0 1110.4 L952.5 1110.7 L954.0 1110.2 L955.5 1109.8 L957.0 1110.7 L958.6 1110.7 L960.1 1109.6 L961.7 1110.4 L963.3 1110.0 L965.0 1109.6 L966.7 1109.7 L968.3 1109.7 L969.8 1110.3 L971.3 1109.7 L972.8 1109.4 L974.3 1109.7 L975.7 1110.4 L977.0 1110.0 L978.4 1110.2" fill="none" stroke="#0f70c0" stroke-width="2.8" stroke-dasharray="9.5 5" stroke-linejoin="round"/></g>
<g clip-path="url(#cb2)"><path d="M182.2 1131.4 L182.3 1130.0 L182.3 1128.6 L182.4 1127.3 L182.5 1125.9 L182.6 1124.3 L182.7 1122.7 L182.7 1121.1 L182.8 1119.6 L182.9 1118.0 L183.0 1116.5 L183.1 1115.0 L183.1 1113.5 L183.2 1112.0 L183.3 1110.5 L183.4 1109.0 L183.5 1107.6 L183.5 1106.2 L183.6 1104.8 L183.7 1103.4 L183.8 1101.9 L183.9 1100.5 L184.0 1098.9 L184.1 1097.2 L184.2 1095.5 L184.3 1093.9 L184.4 1092.3 L184.5 1090.8 L184.6 1089.2 L184.7 1087.4 L184.9 1085.6 L185.0 1084.2 L185.2 1082.8 L185.4 1080.7 L185.8 1079.0 L186.1 1079.0 L186.5 1080.8 L187.0 1082.6 L187.4 1082.6 L187.6 1080.8 L187.8 1079.0 L187.9 1077.4 L188.0 1075.8 L188.1 1074.1 L188.2 1072.5 L188.3 1070.9 L188.4 1069.5 L188.4 1068.0 L188.5 1066.6 L188.5 1065.2 L188.6 1063.8 L188.7 1062.3 L188.7 1060.9 L188.8 1059.5 L188.8 1058.0 L188.9 1056.5 L188.9 1055.0 L189.0 1053.6 L189.0 1052.1 L189.1 1050.6 L189.2 1049.1 L189.2 1047.6 L189.3 1046.2 L189.3 1044.6 L189.4 1043.1 L189.4 1041.5 L189.5 1040.0 L189.5 1038.5 L189.6 1036.9 L189.6 1035.4 L189.7 1033.9 L189.7 1032.3 L189.8 1030.9 L189.9 1029.5 L189.9 1028.1 L190.0 1026.6 L190.0 1025.2 L190.1 1023.8 L190.1 1022.4 L190.2 1020.9 L190.2 1019.5 L190.3 1017.9 L190.4 1016.4 L190.4 1014.8 L190.5 1013.2 L190.5 1011.7 L190.6 1010.1 L190.7 1008.5 L190.7 1007.0 L190.8 1005.5 L190.9 1004.0 L190.9 1002.6 L191.0 1001.1 L191.0 999.6 L191.1 998.2 L191.1 996.7 L191.2 995.3 L191.3 993.8 L191.3 992.4 L191.4 990.9 L191.4 989.5 L191.5 988.1 L191.6 986.7 L191.6 985.2 L191.7 983.8 L191.7 982.4 L191.8 980.9 L191.8 979.5 L191.9 978.0 L192.0 976.6 L192.0 975.2 L192.1 973.7 L192.1 972.3 L192.2 970.8 L192.2 969.4 L192.3 967.8 L192.4 966.2 L192.4 964.7 L192.5 963.1 L192.5 961.6 L192.6 960.0 L192.7 958.3 L192.7 956.7 L192.8 955.0 L192.8 953.4 L192.8 951.8 L192.8 950.3 L192.9 948.8 L192.9 947.2 L192.9 945.6 L192.9 944.3 L193.0 943.0 L193.1 941.6 L193.2 940.1 L193.4 938.5 L193.7 936.9 L194.0 935.4 L194.3 933.8 L194.6 932.5 L195.0 931.1 L195.6 929.2 L196.2 928.2 L196.6 929.0 L196.9 931.2 L197.0 932.5 L197.1 933.9 L197.2 935.0 L197.4 936.2 L197.7 937.2 L198.0 936.9 L198.4 935.9 L198.8 934.2 L199.0 932.9 L199.2 931.6 L199.5 929.9 L199.7 928.2 L200.0 926.6 L200.9 925.0 L199.6 923.1 L200.8 921.6 L200.7 919.9 L201.3 918.3 L200.9 916.5 L202.1 915.2 L200.8 913.6 L201.7 912.3 L202.2 910.9 L202.6 909.5 L202.5 907.9 L202.6 906.3 L203.0 904.7 L203.4 903.1 L202.7 901.5 L203.4 900.1 L203.9 898.6 L204.3 896.7 L204.0 896.1 L204.7 897.1 L205.3 897.1 L205.2 895.5 L205.5 894.0 L205.3 892.5 L205.8 891.2 L205.9 889.8 L205.2 888.4 L206.3 887.0 L207.0 885.5 L206.9 883.9 L206.8 882.3 L206.4 880.7 L207.1 879.2 L207.0 877.7 L206.9 876.2 L207.7 874.7 L206.7 873.2 L207.9 871.8 L206.9 870.2 L208.0 868.7 L207.9 867.2 L207.7 865.6 L208.6 864.1 L208.5 862.6 L208.8 861.1 L209.4 859.8 L208.6 858.3 L208.3 856.9 L209.0 855.4 L209.8 853.9 L209.5 851.6 L209.9 850.1 L211.4 849.8 L211.4 849.2 L211.7 848.7 L211.6 849.5 L212.8 849.9 L212.9 851.4 L213.9 851.8 L214.0 852.3 L214.9 852.0 L215.5 850.8 L215.8 849.2 L215.5 847.5 L216.2 846.5 L216.4 845.5 L216.7 844.6 L217.7 844.5 L218.7 844.4 L219.4 843.9 L220.1 843.2 L221.2 843.0 L221.6 841.6 L222.4 840.8 L223.5 840.4 L224.0 839.5 L224.5 839.0 L225.3 838.4 L226.1 837.1 L226.2 835.8 L226.2 834.5 L227.3 833.3 L227.7 831.9 L227.1 830.5 L226.6 829.1 L226.7 827.7 L228.2 826.5 L227.0 825.1 L228.2 823.7 L228.2 822.2 L227.9 820.7 L228.8 819.3 L227.8 817.8 L228.1 816.4 L228.7 815.1 L228.2 813.6 L229.7 812.3 L228.9 810.7 L228.9 809.2 L229.0 807.5 L230.2 806.0 L230.1 804.6 L230.6 803.3 L231.0 801.1 L231.6 799.5 L232.2 798.2 L232.2 797.5 L232.4 796.9 L232.9 797.6 L233.0 797.3 L233.2 796.4 L234.4 794.9 L235.1 793.7 L234.5 792.3 L235.0 790.9 L235.4 789.5 L236.2 787.9 L236.3 786.2 L236.8 784.3 L237.3 782.5 L237.0 781.0 L237.9 779.6 L238.4 778.2 L237.4 776.3 L239.1 774.8 L239.0 773.1 L238.3 771.6 L239.1 770.3 L239.6 769.0 L240.3 767.8 L239.8 766.0 L240.4 764.4 L241.2 762.8 L241.3 761.5 L241.8 760.2 L241.3 758.7 L242.0 757.2 L241.6 755.5 L242.8 754.5 L243.2 753.3 L243.5 751.3 L244.2 749.8 L243.9 748.1 L245.5 747.4 L246.0 746.6 L246.4 746.1 L246.3 745.3 L246.6 745.7 L247.4 745.4 L247.0 746.5 L247.4 747.3 L248.6 748.2 L249.5 749.6 L249.2 750.8 L249.3 752.0 L249.3 753.5 L250.0 754.8 L251.0 756.2 L250.1 757.9 L251.6 758.9 L250.8 760.5 L252.1 761.2 L252.1 761.3 L253.2 760.4 L252.6 758.2 L253.1 756.5 L254.2 755.7 L254.8 756.1 L255.3 756.8 L256.2 757.4 L257.3 758.2 L257.7 757.2 L259.0 755.7 L257.9 754.0 L258.4 752.7 L259.1 751.3 L258.9 749.7 L259.8 748.7 L259.9 747.7 L260.1 746.8 L260.0 748.4 L260.7 749.7 L261.3 751.2 L261.4 753.0 L260.8 754.9 L261.0 756.6 L262.2 758.1 L261.7 760.3 L262.1 761.4 L263.1 761.2 L263.7 760.8 L263.6 759.3 L264.4 758.3 L264.6 757.2 L265.0 755.8 L264.2 754.3 L265.9 753.2 L265.4 751.6 L265.3 750.1 L266.1 748.7 L265.9 747.2 L265.9 745.6 L266.4 744.0 L265.6 742.3 L266.5 740.8 L266.4 739.5 L267.4 738.2 L267.5 736.9 L266.7 735.4 L267.3 734.0 L267.1 732.1 L268.1 732.6 L267.7 734.0 L267.8 735.2 L268.7 736.8 L269.1 738.5 L269.5 740.2 L269.0 741.9 L269.1 744.1 L270.3 743.4 L271.1 743.7 L270.9 741.8 L271.7 740.9 L272.4 740.4 L273.0 741.2 L273.7 741.0 L274.1 741.6 L274.1 742.6 L275.3 743.6 L274.9 745.8 L276.1 746.9 L275.8 748.3 L276.5 749.7 L276.9 751.0 L276.7 752.5 L277.2 753.7 L277.9 755.6 L278.4 757.0 L278.8 758.0 L279.8 758.1 L280.0 758.4 L280.8 758.8 L281.5 757.9 L281.9 756.2 L283.0 754.6 L283.2 752.9 L283.8 752.7 L284.5 752.2 L284.5 753.8 L285.0 755.3 L285.5 756.7 L286.8 757.0 L287.2 757.0 L288.1 757.5 L288.2 756.0 L288.8 756.9 L289.2 756.8 L290.8 756.9 L291.5 758.5 L291.6 760.6 L293.1 761.8 L293.9 762.7 L293.8 764.0 L294.7 763.3 L295.0 763.7 L296.2 763.1 L296.6 764.5 L296.6 765.8 L298.0 766.6 L298.1 768.3 L297.8 770.0 L297.9 771.9 L298.3 773.6 L300.1 774.9 L300.0 776.8 L300.2 778.2 L300.9 779.5 L301.7 781.5 L302.9 782.9 L303.9 784.2 L304.7 785.4 L305.7 786.7 L306.2 788.4 L307.1 789.8 L307.9 791.2 L309.1 792.3 L310.0 793.6 L311.1 794.9 L311.9 796.6 L313.0 798.0 L314.3 799.1 L315.9 799.4 L317.1 799.9 L318.2 800.7 L319.5 800.3 L320.6 800.7 L321.8 800.8 L322.6 801.8 L323.4 803.1 L324.1 804.4 L324.6 805.6 L325.6 806.0 L325.8 806.7 L326.3 807.0 L326.5 806.4 L327.1 805.9 L327.8 804.8 L328.2 802.8 L328.3 801.5 L328.6 800.2 L329.2 798.7 L329.1 797.1 L330.1 795.8 L330.3 794.2 L330.5 792.8 L330.9 791.5 L331.0 790.1 L331.1 788.8 L331.4 787.5 L331.6 786.2 L332.2 785.1 L332.3 783.8 L332.1 782.6 L332.8 781.6 L333.2 779.6 L333.8 778.0 L334.5 776.6 L335.0 775.3 L336.0 774.6 L336.8 773.8 L337.5 772.9 L338.5 772.3 L339.4 771.8 L340.2 771.2 L341.1 771.3 L341.9 770.9 L342.7 771.3 L343.5 771.8 L344.5 772.2 L345.0 773.5 L345.5 775.0 L346.1 776.7 L346.9 778.7 L346.6 780.1 L347.1 781.2 L347.7 782.5 L347.8 784.0 L348.2 785.6 L348.6 787.3 L348.9 788.6 L348.7 790.0 L349.2 791.2 L349.4 792.6 L349.6 794.0 L349.7 795.4 L350.7 796.7 L350.4 798.1 L350.6 799.5 L351.2 800.7 L351.3 802.0 L351.8 803.2 L352.0 805.0 L352.2 806.9 L352.7 808.6 L352.9 810.4 L352.7 812.2 L353.3 813.8 L353.6 815.4 L353.5 817.0 L354.1 818.3 L354.1 819.7 L354.6 820.9 L354.7 822.1 L355.7 824.0 L355.7 825.9 L356.1 827.4 L357.1 828.4 L357.2 829.7 L358.4 829.9 L359.0 830.5 L359.8 830.5 L360.4 831.0 L361.0 831.1 L361.6 830.5 L362.2 831.1 L362.8 830.6 L363.4 831.0 L363.9 831.6 L364.6 832.2 L365.2 833.2 L365.5 834.5 L366.3 836.0 L367.3 837.8 L367.4 839.0 L368.2 839.9 L368.8 841.1 L369.1 842.3 L369.8 843.6 L370.1 845.0 L370.1 846.5 L370.9 847.9 L370.9 849.5 L371.5 851.0 L372.4 852.4 L372.1 854.2 L372.6 855.9 L373.7 857.4 L373.3 858.8 L374.0 860.0 L374.3 861.3 L374.2 862.9 L375.1 864.2 L375.2 865.8 L375.2 867.2 L375.7 868.6 L376.2 869.9 L376.1 871.4 L376.6 873.0 L377.1 874.6 L377.8 876.1 L377.8 877.8 L378.2 879.1 L378.7 880.5 L379.1 881.8 L379.0 883.2 L379.6 884.5 L379.7 886.1 L379.8 887.7 L380.3 889.2 L380.8 890.7 L381.0 892.3 L381.5 893.9 L381.6 895.6 L382.3 897.1 L382.4 898.8 L383.2 900.9 L384.1 902.2 L385.1 903.1 L385.9 904.2 L386.3 905.2 L387.0 904.4 L387.8 904.0 L388.9 905.4 L389.3 907.1 L389.4 908.8 L389.9 910.4 L390.2 911.8 L390.4 913.3 L390.5 914.7 L391.2 916.0 L391.4 917.5 L391.1 919.0 L391.4 920.4 L391.6 921.9 L392.5 923.4 L392.7 924.9 L392.8 926.5 L392.9 928.1 L393.0 929.6 L393.6 931.1 L393.5 932.7 L394.1 934.2 L394.3 935.7 L394.0 937.4 L394.4 938.9 L394.5 940.4 L394.9 942.0 L395.1 943.5 L395.5 945.0 L395.6 946.6 L395.5 948.2 L395.7 949.8 L396.5 951.1 L396.7 952.6 L396.4 954.2 L396.7 955.6 L396.8 957.1 L397.5 958.5 L397.5 960.0 L397.9 961.4 L397.7 963.0 L398.2 964.4 L398.2 965.8 L398.2 967.3 L399.0 968.7 L399.1 970.1 L399.1 971.6 L399.3 973.0 L399.9 974.4 L400.2 975.8 L400.7 977.3 L400.4 979.0 L401.4 980.4 L401.7 981.9 L401.7 983.5 L402.1 984.8 L402.4 986.2 L403.0 987.4 L403.1 988.9 L404.1 990.1 L404.5 991.5 L404.6 992.9 L405.5 994.0 L405.8 995.3 L406.0 996.7 L406.5 998.2 L407.3 999.5 L407.9 1000.9 L408.1 1002.3 L408.2 1003.6 L408.8 1004.8 L409.4 1006.0 L409.4 1007.8 L410.0 1009.4 L410.3 1011.2 L410.7 1012.9 L411.2 1014.5 L412.1 1016.1 L412.2 1017.5 L413.0 1018.6 L413.3 1019.9 L413.7 1021.1 L413.6 1022.5 L414.1 1023.8 L415.0 1024.9 L415.3 1026.2 L415.7 1027.5 L416.2 1028.9 L416.6 1030.2 L417.0 1031.5 L417.6 1032.9 L417.8 1034.5 L418.1 1035.9 L418.8 1037.3 L419.1 1038.8 L419.8 1040.1 L420.5 1041.4 L420.6 1042.9 L421.1 1044.6 L422.1 1046.0 L422.9 1047.6 L423.0 1048.9 L423.5 1050.2 L423.9 1051.4 L424.2 1052.7 L425.0 1053.8 L425.7 1055.4 L426.6 1055.6 L427.1 1055.9 L428.0 1055.3 L428.2 1053.6 L428.8 1051.6 L429.7 1050.3 L430.2 1048.9 L429.9 1047.1 L430.7 1045.4 L430.6 1044.0 L431.4 1042.7 L431.6 1041.3 L431.7 1039.6 L432.0 1038.0 L432.8 1036.4 L433.0 1035.0 L433.5 1033.6 L433.5 1032.1 L433.7 1030.6 L434.6 1029.1 L434.7 1027.5 L434.9 1025.9 L435.2 1024.3 L435.7 1022.7 L436.0 1021.1 L436.5 1019.4 L436.5 1017.7 L437.0 1016.4 L437.2 1015.1 L437.6 1013.8 L437.8 1012.5 L438.1 1011.1 L438.4 1009.5 L438.8 1007.9 L438.9 1006.2 L439.1 1004.5 L439.5 1003.2 L439.8 1001.8 L439.8 1000.4 L440.0 999.1 L440.1 997.7 L440.8 996.4 L441.2 995.0 L441.0 993.5 L441.1 992.1 L441.4 990.7 L441.8 989.3 L441.9 987.8 L442.7 986.4 L442.3 984.9 L442.7 983.4 L442.8 981.9 L443.5 980.4 L443.8 978.9 L443.6 977.3 L443.8 975.8 L444.3 974.5 L444.6 973.1 L445.1 971.8 L444.6 970.3 L444.9 968.9 L445.1 967.6 L445.4 966.1 L445.6 964.7 L446.2 963.2 L446.3 961.8 L446.2 960.2 L446.4 958.8 L446.7 957.3 L446.8 955.8 L447.5 954.3 L447.3 952.8 L447.7 951.3 L448.1 949.9 L448.1 948.4 L448.1 946.9 L448.8 945.5 L449.1 944.1 L448.8 942.5 L449.2 941.1 L449.8 939.5 L449.6 937.9 L449.7 936.2 L449.8 934.6 L450.8 933.1 L450.9 931.7 L450.8 930.2 L451.2 928.8 L451.4 927.4 L451.5 925.9 L452.3 924.4 L452.3 922.7 L452.3 921.1 L452.4 919.4 L453.1 917.9 L453.3 916.4 L453.9 914.9 L454.2 913.3 L454.4 911.8 L454.4 910.1 L454.7 908.6 L455.1 907.0 L455.4 905.7 L456.1 904.4 L456.1 903.0 L456.5 901.7 L457.1 900.4 L456.8 898.8 L457.4 897.4 L457.4 895.9 L458.2 894.5 L457.9 892.9 L458.9 891.5 L459.3 889.9 L459.7 888.3 L459.4 886.6 L459.9 885.1 L460.7 883.6 L460.5 881.9 L461.2 880.4 L461.6 878.8 L462.3 877.3 L462.4 875.7 L463.0 874.3 L462.9 872.6 L463.7 871.2 L463.7 869.6 L464.5 868.3 L464.2 866.7 L465.1 865.5 L464.9 863.9 L465.5 862.6 L465.9 861.2 L465.9 859.8 L466.8 858.5 L466.7 857.0 L467.0 855.6 L467.1 854.2 L467.6 852.8 L468.1 851.4 L468.6 850.1 L468.7 848.6 L469.3 847.0 L469.2 845.3 L469.9 843.8 L470.2 842.2 L471.9 840.8 L472.0 839.1 L472.1 837.3 L471.3 835.1 L472.7 833.9 L473.5 834.7 L474.7 835.4 L474.3 837.0 L474.7 838.2 L475.9 839.4 L473.8 840.9 L474.5 842.7 L476.1 844.1 L475.7 846.3 L475.9 845.3 L476.4 843.7 L476.9 842.7 L476.6 841.4 L477.1 839.3 L477.8 838.4 L478.4 839.2 L479.8 839.3 L480.8 840.7 L480.1 842.3 L481.4 843.0 L480.4 844.9 L481.7 846.1 L481.5 847.7 L482.7 849.0 L481.8 850.7 L483.7 851.9 L483.8 853.4 L484.1 854.9 L482.9 856.5 L483.0 858.1 L484.5 859.6 L484.2 861.2 L483.3 862.9 L484.1 864.3 L485.5 865.6 L485.3 867.0 L485.7 868.4 L486.0 869.8 L485.6 871.2 L486.6 872.2 L485.7 875.1 L487.2 874.4 L487.9 874.1 L488.4 874.2 L488.9 875.5 L489.1 876.9 L490.4 878.2 L490.8 879.6 L490.8 881.0 L492.0 882.3 L491.4 884.0 L490.9 885.6 L490.5 887.3 L491.2 888.8 L491.7 890.2 L492.1 891.7 L493.8 892.6 L493.3 894.0 L493.6 895.2 L493.3 896.7 L495.0 897.4 L495.4 899.4 L496.2 901.1 L496.7 903.2 L497.0 904.4 L498.0 905.5 L499.4 906.8 L498.5 908.8 L498.4 910.1 L499.5 911.2 L500.2 912.4 L499.9 913.1 L501.1 913.5 L499.5 914.4 L498.8 915.1 L500.3 915.4 L499.8 916.1 L499.6 916.8 L501.6 917.1 L499.5 918.1 L500.5 918.6 L501.9 919.0 L502.3 919.5 L501.9 920.3 L501.1 921.0 L500.8 921.7 L502.0 922.0 L500.3 922.9 L502.1 923.2 L501.8 923.8 L502.9 924.2 L500.5 925.2 L503.1 925.3 L500.9 926.3 L502.0 926.7 L502.1 927.3 L502.2 927.8 L503.1 928.3 L501.3 929.2 L501.1 929.8 L501.7 930.3 L502.5 930.8 L504.0 931.2 L501.9 932.0 L503.6 932.4 L501.9 933.2 L503.9 933.6 L503.0 934.3 L502.3 935.0 L504.3 935.4 L503.3 936.1 L504.7 936.5 L505.0 937.1 L504.6 937.7 L502.3 938.6 L502.5 939.2 L503.4 939.7 L504.5 940.1 L503.5 940.9 L503.4 941.5 L504.5 941.9 L504.0 942.6 L503.4 943.3 L505.8 943.6 L505.4 944.3 L504.7 945.0 L505.8 945.5 L505.1 946.2 L504.7 946.9 L505.9 947.3 L505.1 948.2 L506.0 948.6 L505.3 949.5 L506.1 949.9 L505.4 950.9 L506.9 949.7 L506.8 951.7 L506.3 949.9 L508.5 950.9 L507.9 949.9 L507.8 949.2 L507.9 948.5 L508.7 948.2 L509.1 947.7 L509.6 947.2 L509.7 946.8 L509.5 945.7 L509.8 947.0 L509.8 946.9 L509.8 947.2 L511.3 947.4 L511.3 948.0 L511.0 948.7 L510.1 949.4 L511.4 949.8 L511.5 950.4 L511.8 950.9 L510.5 951.7 L512.3 952.1 L513.2 952.6 L511.3 953.5 L510.9 954.2 L511.5 954.8 L511.9 955.3 L511.6 956.0 L513.0 956.5 L512.2 957.2 L513.8 957.6 L513.7 958.3 L512.9 959.0 L512.8 959.6 L513.2 960.2 L514.3 960.7 L512.5 961.5 L513.1 962.1 L514.0 962.6 L513.9 963.2 L513.7 963.8 L514.3 964.4 L514.9 964.9 L512.5 965.9 L512.4 966.5 L513.4 967.0 L512.9 967.6 L514.3 968.1 L513.2 968.8 L515.0 969.2 L513.6 970.0 L514.2 970.5 L513.3 971.3 L515.7 971.6 L513.8 972.5 L515.8 972.8 L514.7 973.6 L513.5 974.3 L516.4 974.6 L515.8 975.3 L515.7 975.9 L515.7 976.5 L516.6 977.0 L514.2 977.9 L514.5 978.5 L515.8 978.9 L516.0 979.5 L515.4 980.1 L517.1 980.5 L517.3 981.1 L514.8 982.0 L516.6 982.3 L516.1 983.0 L514.9 983.8 L514.8 984.4 L516.4 984.8 L517.3 985.3 L517.2 985.9 L515.4 986.8 L515.6 987.5 L517.8 987.7 L515.9 988.7 L517.5 989.1 L517.2 989.7 L518.2 990.2 L516.2 991.2 L516.0 991.8 L518.4 991.9 L517.3 992.7 L518.7 993.0 L516.8 994.0 L519.4 994.1 L519.3 994.6 L517.6 995.6 L518.9 995.8 L517.4 996.9 L517.8 997.4 L518.4 997.8 L520.1 997.5 L518.9 998.9 L519.2 1000.0 L520.5 999.1 L521.3 998.0 L521.6 998.4 L522.2 998.8 L522.1 1000.0 L523.5 999.4 L524.0 1000.1 L524.1 1000.7 L523.1 1001.8 L522.9 1002.5 L524.3 1002.8 L523.6 1003.7 L523.1 1004.4 L524.1 1004.8 L525.2 1005.2 L525.1 1005.8 L523.4 1006.7 L524.2 1007.2 L525.5 1007.5 L524.5 1008.3 L526.3 1008.6 L523.7 1009.6 L525.4 1009.9 L525.2 1010.5 L525.3 1011.1 L526.8 1011.4 L525.3 1012.2 L526.3 1012.6 L526.5 1013.2 L524.9 1014.0 L527.1 1014.2 L526.6 1014.9 L525.3 1015.7 L526.9 1016.0 L526.9 1016.5 L526.2 1017.2 L527.4 1017.6 L525.4 1018.6 L525.3 1019.2 L528.2 1019.2 L527.1 1020.0 L526.3 1020.8 L527.5 1021.1 L526.1 1022.1 L527.6 1022.4 L528.7 1022.7 L527.8 1023.7 L527.7 1024.4 L528.7 1024.6 L528.1 1025.5 L528.0 1026.1 L528.9 1026.3 L529.2 1026.9 L528.4 1027.8 L529.1 1028.1 L529.8 1028.4 L528.8 1029.4 L531.2 1029.0 L529.7 1030.3 L531.6 1030.2 L530.6 1031.3 L531.8 1031.5 L531.4 1032.3 L530.6 1033.1 L530.7 1033.7 L530.8 1034.2 L532.6 1034.4 L532.0 1035.1 L532.9 1035.5 L532.0 1036.3 L532.3 1036.9 L533.8 1037.3 L532.2 1038.2 L531.9 1038.8 L532.5 1039.4 L531.6 1040.1 L533.8 1040.5 L534.0 1041.1 L534.5 1041.7 L533.1 1042.4 L533.3 1043.0 L533.4 1043.6 L534.0 1044.1 L532.4 1044.8 L534.6 1045.2 L532.2 1046.0 L533.3 1046.5 L533.4 1047.1 L532.7 1047.7 L534.4 1048.1 L534.8 1048.7 L534.3 1049.3 L535.2 1049.8 L534.4 1050.5 L533.6 1051.2 L533.9 1051.8 L534.8 1052.3 L533.9 1053.0 L535.4 1053.4 L533.3 1054.2 L535.3 1054.6 L535.1 1055.3 L535.4 1055.8 L533.9 1056.6 L533.5 1057.2 L533.7 1057.7 L536.0 1058.1 L535.0 1058.8 L535.2 1059.3 L535.7 1059.8 L533.5 1060.7 L536.4 1060.9 L535.1 1061.6 L534.4 1062.3 L533.8 1063.1 L536.4 1063.2 L535.6 1064.0 L534.9 1064.8 L537.1 1065.0 L536.6 1065.7 L534.9 1066.8 L537.3 1066.7 L536.8 1067.5 L537.3 1068.0 L537.3 1068.7 L538.5 1068.4 L538.6 1068.5 L537.8 1071.5 L539.0 1070.8 L539.9 1070.6 L539.4 1068.8 L539.8 1068.5 L540.9 1068.5 L540.2 1067.6 L541.0 1067.3 L542.5 1067.2 L541.1 1066.2 L541.1 1065.6 L543.2 1065.5 L542.2 1064.7 L540.6 1063.8 L541.8 1063.3 L542.6 1062.8 L541.0 1061.9 L541.9 1061.4 L543.0 1060.9 L543.6 1060.3 L542.9 1059.6 L543.8 1059.1 L542.6 1058.4 L542.5 1057.7 L543.9 1057.2 L542.5 1056.5 L543.8 1056.0 L542.1 1055.2 L542.6 1054.7 L542.2 1054.0 L543.3 1053.5 L542.2 1052.8 L542.3 1052.3 L542.4 1051.7 L543.2 1051.1 L542.8 1050.5 L543.2 1050.0 L544.9 1049.5 L544.0 1048.9 L544.6 1048.3 L542.6 1047.6 L543.2 1047.1 L542.3 1046.4 L544.2 1046.0 L543.3 1045.3 L543.0 1044.7 L542.3 1044.0 L542.8 1043.4 L543.1 1042.8 L543.5 1042.3 L545.2 1041.7 L544.6 1041.1 L543.3 1040.4 L543.6 1039.8 L543.0 1039.1 L545.4 1038.7 L543.7 1038.0 L544.9 1037.4 L544.8 1036.8 L545.4 1036.2 L542.8 1035.5 L543.7 1034.9 L544.0 1034.4 L543.1 1033.7 L545.5 1033.3 L543.9 1032.6 L545.3 1032.1 L544.5 1031.5 L543.2 1030.8 L544.2 1030.3 L543.8 1029.7 L543.3 1029.0 L543.6 1028.5 L545.0 1028.0 L543.3 1027.3 L544.2 1026.8 L544.6 1026.2 L545.0 1025.6 L543.8 1024.9 L545.5 1024.4 L544.2 1023.8 L545.7 1023.2 L545.5 1022.6 L544.0 1021.9 L544.2 1021.4 L544.5 1020.8 L545.8 1020.3 L544.9 1019.6 L544.9 1019.0 L546.4 1018.5 L544.5 1017.8 L544.7 1017.2 L544.9 1016.6 L544.6 1016.0 L544.1 1015.3 L544.1 1014.7 L545.9 1014.3 L545.8 1013.6 L546.5 1013.1 L547.1 1012.5 L545.1 1011.8 L546.2 1011.3 L547.0 1010.7 L544.9 1010.0 L546.4 1009.5 L546.4 1008.9 L547.3 1008.4 L547.0 1007.8 L545.2 1007.1 L546.4 1006.5 L544.8 1005.9 L545.8 1005.3 L545.8 1004.7 L544.8 1004.1 L545.8 1003.5 L545.7 1002.9 L546.2 1002.4 L545.6 1001.7 L545.3 1001.1 L546.0 1000.6 L546.3 1000.0 L545.4 999.4 L546.9 998.8 L545.7 998.2 L545.3 997.6 L546.1 997.0 L546.3 996.4 L545.6 995.8 L546.9 995.3 L547.3 994.7 L546.9 994.1 L547.3 993.5 L545.3 992.8 L546.5 992.3 L546.4 991.7 L545.6 991.0 L546.6 990.5 L545.6 989.8 L547.0 989.3 L547.3 988.7 L546.9 988.1 L546.5 987.5 L546.4 986.9 L545.7 986.3 L546.7 985.7 L548.4 985.2 L547.4 984.6 L546.6 983.9 L547.8 983.4 L546.4 982.7 L547.3 982.1 L547.8 981.6 L548.8 981.0 L547.1 980.3 L547.8 979.8 L548.9 979.2 L548.4 978.6 L548.0 978.0 L548.0 977.4 L547.4 976.7 L547.5 976.1 L547.1 975.5 L548.8 975.0 L549.0 974.4 L547.5 973.8 L549.2 973.3 L546.6 972.5 L546.9 972.0 L548.1 971.4 L547.5 970.8 L547.7 970.3 L549.6 969.8 L547.1 969.0 L547.3 968.5 L547.5 967.9 L548.9 967.4 L547.6 966.7 L546.9 966.1 L548.6 965.6 L548.1 965.0 L547.7 964.4 L548.5 963.9 L549.0 963.3 L548.8 962.7 L549.0 962.1 L548.9 961.5 L549.8 961.0 L550.2 960.4 L548.4 959.6 L548.4 959.0 L550.1 958.6 L548.4 957.8 L549.7 957.3 L549.7 956.7 L549.7 956.1 L550.6 955.6 L550.2 955.0 L548.2 954.2 L549.7 953.7 L549.3 953.1 L549.6 952.5 L549.1 951.9 L548.9 951.3 L550.3 950.8 L549.7 950.2 L548.9 949.5 L549.0 948.9 L549.2 948.4 L548.8 947.8 L549.9 947.3 L548.8 946.6 L548.6 946.0 L548.7 945.4 L548.9 944.8 L550.7 944.4 L549.0 943.6 L550.1 943.1 L551.1 942.6 L550.3 941.9 L549.4 941.2 L551.5 940.8 L551.6 940.2 L549.2 939.3 L549.9 938.8 L550.7 938.2 L551.6 937.7 L550.4 937.0 L551.5 936.5 L550.1 935.7 L551.6 935.2 L550.5 934.5 L550.6 933.9 L551.9 933.5 L552.2 932.9 L552.2 932.3 L551.5 931.6 L551.1 931.0 L552.0 930.5 L551.8 929.8 L552.5 929.3 L552.5 928.7 L550.5 927.9 L551.3 927.4 L552.2 926.9 L551.0 926.2 L550.9 925.6 L550.5 925.0 L552.2 924.6 L553.3 924.1 L553.5 923.5 L551.0 922.7 L552.7 922.3 L552.0 921.6 L552.7 921.1 L552.0 920.5 L553.7 920.0 L553.9 919.4 L551.2 918.5 L553.2 918.1 L551.5 917.3 L551.3 916.6 L552.1 916.1 L553.5 915.6 L554.4 915.0 L551.8 914.2 L552.5 913.6 L551.6 912.9 L553.2 912.4 L553.1 911.8 L552.8 911.2 L552.7 910.5 L554.2 910.1 L554.4 909.5 L552.8 908.7 L553.2 908.1 L553.9 907.6 L554.4 907.1 L555.1 906.6 L553.4 905.8 L554.4 905.3 L554.0 904.7 L554.8 904.2 L553.0 903.4 L553.1 902.8 L553.0 902.1 L555.5 901.8 L553.6 900.9 L554.4 900.4 L553.4 899.6 L554.1 899.0 L553.4 898.1 L555.1 897.9 L554.4 896.6 L555.3 897.2 L556.4 896.9 L556.9 897.7 L556.4 898.7 L557.0 899.1 L557.4 899.4 L557.3 899.0 L556.7 898.9 L559.0 899.7 L557.5 898.6 L556.9 897.9 L557.4 897.5 L558.4 897.2 L560.0 896.9 L557.9 895.6 L560.0 895.5 L559.2 894.6 L559.5 893.9 L558.9 895.2 L560.2 895.2 L561.3 895.7 L559.9 896.5 L559.6 897.2 L559.8 897.7 L560.9 898.2 L559.0 899.0 L559.3 899.6 L558.9 900.2 L560.6 900.7 L559.5 901.4 L559.8 901.9 L561.5 902.4 L562.0 903.0 L561.6 903.6 L561.8 904.2 L562.0 904.8 L561.1 905.4 L560.0 906.1 L561.4 906.6 L560.8 907.2 L562.3 907.7 L561.8 908.3 L559.5 909.0 L562.4 909.4 L560.9 910.1 L560.1 910.7 L560.2 911.3 L560.4 911.9 L561.4 912.4 L560.2 913.0 L560.2 913.6 L560.4 914.2 L559.8 914.8 L562.5 915.2 L559.9 916.0 L561.6 916.4 L560.7 917.1 L562.1 917.6 L560.2 918.3 L562.9 918.7 L561.2 919.4 L562.3 919.9 L561.9 920.5 L562.0 921.1 L561.2 921.8 L560.8 922.5 L562.1 923.0 L561.4 923.7 L562.3 924.2 L562.5 924.8 L560.7 925.6 L562.5 926.1 L563.3 926.6 L562.6 927.3 L561.5 928.1 L563.1 928.5 L561.6 929.3 L562.3 929.8 L562.0 930.4 L563.6 930.6 L563.8 930.9 L563.4 931.0 L563.0 931.6 L563.3 931.2 L562.2 930.3 L563.8 930.0 L563.5 929.4 L563.3 928.8 L564.1 928.3 L565.4 927.8 L563.2 927.0 L565.3 926.6 L563.6 925.9 L565.0 925.4 L563.1 924.6 L565.8 924.2 L564.1 923.5 L565.8 923.0 L563.6 922.3 L564.2 921.7 L565.1 921.2 L563.6 920.5 L563.9 919.9 L565.2 919.4 L566.0 918.8 L564.2 918.1 L563.8 917.5 L564.4 916.9 L566.3 916.5 L563.9 915.7 L565.4 915.2 L564.6 914.5 L565.5 914.0 L564.2 913.3 L565.5 912.8 L566.3 912.3 L566.3 911.7 L565.7 911.0 L565.3 910.4 L565.6 909.8 L564.3 909.1 L566.5 908.7 L566.1 908.1 L565.5 907.4 L566.1 906.9 L565.5 906.3 L565.5 905.7 L565.2 905.1 L566.4 904.8 L566.2 904.3 L566.5 904.6 L568.1 904.6 L566.5 905.8 L567.2 906.2 L566.8 906.9 L566.9 907.5 L566.0 908.2 L568.5 908.4 L567.6 909.1 L566.1 909.9 L566.9 910.4 L568.3 910.8 L567.1 911.5 L566.4 912.1 L568.2 912.5 L566.9 913.2 L569.2 913.5 L566.7 914.4 L568.2 914.8 L569.0 915.4 L567.3 916.1 L567.9 916.7 L567.1 917.4 L567.5 917.9 L567.7 918.5 L568.6 919.0 L567.2 919.7 L570.0 920.1 L567.7 920.9 L568.2 921.4 L569.6 921.9 L568.0 922.6 L569.1 923.1 L568.9 923.7 L568.0 924.4 L570.1 924.8 L569.9 925.5 L568.8 926.2 L570.6 926.7 L569.2 927.4 L568.5 928.0 L569.4 928.6 L570.2 929.2 L568.6 929.9 L568.5 930.5 L568.8 931.1 L569.5 931.7 L568.4 932.3 L568.8 932.9 L570.8 933.4 L570.1 934.0 L571.0 934.6 L571.2 935.1 L570.3 935.8 L568.7 936.4 L568.9 937.0 L571.0 937.5 L570.9 938.1 L570.3 938.7 L568.9 939.3 L569.6 939.9 L568.8 940.5 L571.3 941.0 L568.6 941.7 L571.0 942.2 L569.7 942.8 L569.0 943.4 L569.5 944.0 L571.1 944.5 L569.7 945.2 L570.4 945.7 L571.7 946.3 L570.8 946.9 L570.9 947.5 L569.9 948.1 L571.0 948.7 L570.1 949.3 L569.8 949.9 L571.4 950.5 L571.6 951.0 L569.9 951.7 L570.6 952.3 L571.7 952.8 L571.8 953.4 L569.3 954.2 L570.3 954.7 L571.1 955.3 L571.6 955.8 L569.3 956.6 L570.3 957.2 L570.2 957.8 L571.4 958.3 L571.6 958.9 L571.4 959.5 L572.2 960.0 L570.9 960.9 L571.7 961.2 L571.1 962.5 L571.9 961.9 L572.2 961.5 L572.7 961.0 L574.1 961.0 L572.7 959.8 L573.9 959.7 L572.8 958.5 L574.0 958.5 L573.6 957.4 L574.4 958.5 L575.1 957.3 L574.0 958.7 L574.6 958.9 L575.3 959.3 L574.0 960.1 L575.7 960.4 L574.7 961.1 L575.2 961.6 L575.7 962.1 L576.9 962.6 L575.9 963.3 L576.4 963.8 L575.9 964.5 L574.5 965.2 L576.5 965.6 L575.3 966.3 L575.4 966.9 L576.8 967.3 L576.3 968.0 L577.2 968.5 L574.9 969.3 L576.9 969.8 L576.4 970.4 L576.7 971.0 L575.3 971.7 L575.3 972.3 L576.1 972.9 L576.3 973.5 L577.7 974.0 L575.3 974.8 L577.8 975.2 L577.0 975.8 L577.0 976.4 L576.0 977.0 L576.2 977.6 L577.2 978.1 L575.6 978.8 L575.5 979.4 L578.3 979.8 L576.5 980.5 L577.1 981.0 L577.4 981.6 L577.2 982.2 L577.7 982.8 L576.7 983.5 L577.0 984.1 L576.0 984.9 L576.0 985.5 L576.1 986.2 L578.0 986.4 L576.8 987.3 L577.4 987.7 L577.4 988.3 L576.7 989.1 L579.5 989.1 L578.5 989.9 L578.8 990.4 L578.2 991.2 L579.7 991.3 L577.6 992.6 L580.0 992.3 L579.8 993.0 L580.6 993.2 L580.1 994.0 L579.4 995.0 L581.3 994.3 L581.0 994.5 L581.4 996.4 L582.1 995.6 L582.7 995.0 L581.5 993.9 L583.3 993.7 L583.1 993.0 L583.4 992.4 L581.6 991.5 L582.7 991.1 L581.5 990.2 L584.1 990.1 L584.4 989.7 L584.4 989.1 L582.1 987.8 L583.2 987.5 L583.9 987.2 L584.2 986.7 L583.6 985.5 L585.5 986.4 L584.9 984.9 L585.6 985.1 L586.1 983.8 L586.7 985.2 L588.0 984.7 L588.7 985.3 L587.7 986.5 L588.6 987.0 L587.3 988.0 L589.1 988.2 L588.7 988.9 L589.9 989.4 L589.5 990.1 L589.0 990.9 L588.8 991.6 L589.2 992.2 L588.1 993.0 L590.4 993.1 L588.3 994.1 L590.5 994.3 L588.2 995.4 L589.6 995.7 L590.0 996.2 L589.6 996.9 L589.0 997.6 L588.8 998.3 L590.5 998.4 L591.8 998.6 L591.5 999.2 L590.0 1000.5 L590.7 1001.1 L591.4 1001.7 L591.1 999.7 L592.1 1000.1 L591.1 999.0 L591.4 998.5 L592.1 998.2 L594.2 998.1 L593.5 997.2 L594.2 996.8 L592.1 995.5 L593.3 995.2 L592.5 994.4 L593.2 993.9 L592.9 993.2 L595.4 993.1 L593.9 992.1 L594.5 991.6 L595.1 991.2 L596.0 990.8 L596.3 990.3 L595.4 989.4 L595.4 988.8 L596.6 988.8 L595.8 987.4 L596.5 986.6 L596.0 988.2 L597.4 988.1 L597.3 988.8 L597.2 989.4 L597.2 990.0 L597.6 990.5 L597.4 991.1 L597.4 991.7 L598.7 992.1 L596.4 992.9 L598.8 993.3 L597.4 994.0 L597.4 994.6 L597.9 995.2 L598.5 995.7 L598.9 996.3 L598.1 997.0 L598.3 997.6 L597.9 998.2 L598.7 998.8 L597.2 999.5 L598.0 1000.0 L599.5 1000.5 L598.3 1001.1 L596.7 1001.9 L599.6 1002.2 L597.9 1002.9 L596.9 1003.6 L598.7 1004.0 L598.0 1004.7 L598.8 1005.2 L599.1 1005.7 L598.3 1006.5 L598.5 1007.1 L599.4 1007.5 L598.9 1008.2 L599.1 1008.8 L598.8 1009.7 L600.6 1008.8 L600.7 1008.9 L600.7 1009.4 L601.2 1009.4 L601.6 1010.9 L602.2 1009.9 L602.0 1011.0 L603.2 1010.5 L604.0 1010.9 L603.1 1012.0 L604.9 1012.1 L602.5 1013.4 L603.1 1013.8 L604.7 1014.1 L604.8 1014.6 L603.4 1015.4 L603.6 1015.9 L604.1 1016.4 L605.9 1016.7 L603.9 1017.6 L606.1 1017.9 L604.5 1018.7 L604.8 1019.3 L603.8 1020.0 L604.7 1020.5 L606.6 1020.7 L604.0 1021.7 L604.7 1022.2 L605.3 1022.6 L607.1 1022.8 L605.0 1023.8 L606.1 1024.2 L605.5 1025.0 L604.8 1026.0 L605.2 1026.6 L607.8 1025.9 L606.6 1027.9 L607.7 1027.1 L608.0 1028.2 L608.5 1027.0 L609.0 1027.2 L609.5 1027.4 L610.6 1026.8 L610.6 1027.8 L609.9 1029.0 L612.0 1028.5 L612.1 1029.2 L610.2 1030.5 L610.9 1031.0 L611.4 1031.4 L612.8 1031.7 L612.9 1033.1 L612.8 1034.5 L611.5 1036.2 L612.8 1037.5 L612.2 1039.1 L614.2 1040.2 L614.0 1041.6 L614.0 1043.0 L613.6 1044.5 L615.7 1045.2 L614.6 1047.5 L616.2 1047.9 L617.1 1046.6 L618.0 1047.0 L619.0 1046.3 L619.4 1047.2 L619.5 1048.7 L621.0 1050.3 L620.8 1051.6 L621.8 1052.5 L621.5 1054.9 L623.4 1055.1 L623.6 1056.5 L624.1 1054.6 L625.5 1054.6 L626.6 1053.2 L627.5 1054.1 L628.6 1056.0 L628.5 1057.7 L628.2 1059.2 L628.6 1060.9 L629.2 1062.5 L629.0 1064.1 L628.7 1065.8 L630.1 1066.5 L630.0 1067.9 L631.0 1068.6 L631.6 1069.9 L632.9 1068.3 L633.6 1069.1 L635.1 1068.8 L635.8 1070.3 L635.2 1072.5 L636.1 1074.4 L637.4 1076.1 L638.5 1077.7 L637.9 1080.2 L639.9 1081.3 L640.5 1083.3 L642.3 1084.3 L643.4 1085.8 L644.9 1086.5 L646.3 1088.0 L647.9 1088.2 L649.8 1087.7 L651.0 1088.5 L652.4 1089.5 L651.8 1091.7 L653.7 1092.9 L653.7 1094.6 L653.4 1096.6 L655.4 1095.5 L656.0 1097.1 L657.2 1096.7 L658.5 1096.8 L660.2 1097.2 L661.9 1098.5 L661.2 1100.8 L662.2 1101.7 L662.9 1102.9 L665.1 1103.3 L664.5 1105.3 L666.4 1105.7 L667.1 1106.5 L667.3 1108.0 L668.7 1109.4 L670.9 1109.4 L671.8 1111.5 L673.4 1111.6 L674.6 1112.7 L675.6 1112.8 L675.8 1111.9 L675.6 1110.8 L677.1 1111.6 L678.1 1111.0 L679.2 1109.8 L680.6 1110.6 L682.0 1110.4 L683.3 1109.8 L684.6 1109.7 L686.0 1109.4 L687.3 1109.9 L688.6 1109.5 L690.2 1109.5 L691.7 1109.4 L693.2 1109.3 L694.8 1109.6 L696.2 1109.3 L697.6 1109.3 L698.9 1109.3 L700.3 1109.5 L701.7 1109.9 L703.1 1109.1 L704.6 1109.9 L706.1 1109.9 L707.5 1109.5 L709.0 1109.4 L710.4 1109.7 L711.9 1109.4 L713.3 1109.6 L714.7 1109.9 L716.2 1109.7 L717.6 1109.1 L719.1 1108.8 L720.5 1109.9 L721.9 1109.2 L723.4 1109.7 L724.8 1109.1 L726.3 1109.3 L727.7 1109.2 L729.2 1109.7 L730.6 1109.9 L732.1 1109.4 L733.6 1109.5 L735.0 1109.2 L736.5 1109.1 L737.9 1110.0 L739.5 1109.0 L741.0 1110.0 L742.5 1109.6 L744.0 1108.9 L745.5 1109.9 L747.0 1109.0 L748.7 1109.5 L750.3 1109.0 L752.0 1110.0 L753.6 1109.2 L755.4 1109.7 L757.0 1108.6 L758.4 1109.0 L757.9 1108.1 L757.4 1107.8 L758.1 1108.0 L758.5 1108.6 L759.2 1108.6 L759.7 1109.2 L760.5 1109.2 L761.1 1108.5 L761.4 1107.2 L762.8 1106.2 L763.3 1104.4 L764.6 1102.7 L764.9 1101.5 L765.5 1100.5 L765.6 1099.1 L766.7 1098.0 L766.8 1096.5 L767.4 1095.1 L767.4 1093.5 L768.3 1092.1 L768.8 1090.5 L769.7 1089.0 L769.7 1087.2 L769.5 1085.5 L770.1 1083.8 L770.5 1082.1 L771.2 1080.3 L771.8 1078.5 L772.0 1077.3 L772.2 1076.0 L772.3 1074.8 L772.5 1072.9 L772.9 1071.1 L772.1 1069.3 L772.9 1067.7 L773.4 1066.1 L773.8 1064.4 L774.0 1062.7 L774.3 1060.9 L775.0 1059.4 L774.3 1057.7 L775.1 1056.6 L775.9 1055.7 L775.8 1053.8 L776.8 1054.4 L776.5 1056.4 L776.6 1057.6 L778.0 1058.6 L778.2 1060.1 L777.5 1061.7 L777.9 1063.2 L778.3 1064.8 L778.4 1066.2 L778.3 1067.7 L778.4 1069.1 L779.4 1070.5 L779.5 1072.0 L778.7 1073.5 L778.6 1075.0 L778.9 1076.4 L779.5 1077.8 L779.7 1079.2 L779.8 1080.6 L780.3 1081.9 L779.5 1083.4 L780.2 1084.6 L780.5 1085.7 L780.6 1084.0 L780.6 1082.3 L781.1 1080.8 L781.0 1079.2 L780.8 1077.6 L781.7 1076.0 L780.9 1074.4 L781.0 1072.8 L781.2 1071.2 L781.5 1069.6 L782.0 1068.0 L781.5 1066.3 L781.5 1064.7 L782.1 1063.1 L781.7 1061.4 L782.1 1059.8 L781.8 1058.4 L782.7 1057.0 L781.9 1055.6 L782.1 1054.2 L782.2 1052.8 L782.4 1051.3 L783.0 1049.8 L783.0 1048.2 L783.3 1046.6 L783.1 1045.0 L782.7 1043.3 L783.6 1041.7 L783.1 1040.0 L783.2 1038.6 L783.5 1037.1 L784.3 1035.7 L783.7 1034.1 L783.9 1032.6 L784.7 1031.2 L784.9 1029.8 L784.8 1027.5 L785.7 1028.0 L785.2 1029.9 L785.5 1031.4 L786.2 1032.8 L785.8 1034.4 L786.4 1035.8 L786.7 1037.2 L786.4 1038.6 L786.4 1040.0 L786.8 1041.3 L786.5 1042.7 L787.6 1044.0 L787.1 1045.5 L787.4 1046.9 L787.9 1048.4 L787.0 1050.1 L788.0 1051.6 L788.0 1053.1 L787.3 1054.7 L787.3 1056.1 L787.4 1057.6 L788.2 1059.0 L787.6 1060.5 L788.6 1062.0 L788.0 1063.6 L787.8 1065.2 L788.8 1066.7 L788.9 1068.3 L788.3 1069.8 L788.2 1071.4 L788.4 1072.9 L788.3 1074.4 L788.9 1075.9 L789.1 1077.5 L789.6 1079.2 L789.5 1080.9 L788.8 1082.6 L789.9 1084.1 L789.9 1085.6 L789.8 1087.2 L790.3 1088.6 L790.1 1090.1 L790.4 1091.6 L790.6 1093.0 L790.2 1094.5 L790.3 1095.9 L790.4 1097.2 L790.3 1098.6 L790.7 1099.9 L790.4 1101.5 L791.6 1102.9 L791.6 1104.4 L792.0 1106.1 L791.9 1107.9 L791.8 1110.1 L792.0 1111.1 L792.8 1111.0 L793.2 1110.5 L793.8 1110.7 L794.2 1111.1 L794.2 1110.6 L794.8 1111.0 L795.9 1111.0 L797.0 1110.3 L798.2 1110.4 L799.7 1110.7 L801.2 1110.2 L802.7 1109.8 L804.2 1110.7 L805.8 1110.7 L807.3 1109.6 L808.9 1110.4 L810.5 1110.0 L812.2 1109.6 L813.9 1109.7 L815.5 1109.7 L817.0 1110.3 L818.5 1109.7 L820.0 1109.4 L821.5 1109.7 L822.9 1110.4 L824.2 1110.0 L825.6 1110.2" fill="none" stroke="#ff0000" stroke-width="2.8" stroke-linejoin="round"/><path d="M60.8 1130.9 L61.1 1130.9 L61.4 1130.9 L61.7 1130.9 L62.0 1130.9 L62.3 1130.9 L62.6 1130.9 L62.9 1130.9 L63.2 1130.9 L63.6 1130.9 L63.9 1130.9 L64.2 1130.9 L64.5 1130.9 L64.8 1130.9 L65.1 1130.9 L65.4 1130.9 L65.7 1130.9 L66.0 1130.9 L66.3 1130.9 L66.6 1130.9 L66.9 1130.9 L67.2 1130.9 L67.5 1130.9 L67.8 1130.9 L68.1 1130.9 L68.4 1130.9 L68.7 1130.9 L69.1 1130.9 L69.4 1130.9 L69.7 1130.9 L70.0 1130.9 L70.3 1130.9 L70.6 1130.9 L70.9 1130.9 L71.2 1130.9 L71.5 1130.9 L71.8 1130.9 L72.1 1130.9 L72.4 1130.9 L72.7 1130.9 L73.0 1130.9 L73.3 1130.9 L73.6 1130.9 L73.9 1130.9 L74.2 1130.9 L74.6 1130.9 L74.9 1130.9 L75.2 1130.9 L75.5 1130.9 L75.8 1130.9 L76.1 1130.9 L76.4 1130.9 L76.7 1130.9 L77.0 1130.9 L77.3 1130.9 L77.6 1130.9 L77.9 1130.9 L78.2 1130.9 L78.5 1130.9 L78.8 1130.9 L79.1 1130.9 L79.4 1130.9 L79.7 1130.9 L80.1 1130.9 L80.4 1130.9 L80.7 1130.9 L81.0 1130.9 L81.3 1130.9 L81.6 1130.9 L81.9 1130.9 L82.2 1130.9 L82.5 1130.9 L82.8 1130.9 L83.1 1130.9 L83.4 1130.9 L83.7 1130.9 L84.0 1130.9 L84.3 1130.9 L84.6 1130.9 L84.9 1130.9 L85.2 1130.9 L85.6 1130.9 L85.9 1130.9 L86.2 1130.9 L86.5 1130.9 L86.8 1130.9 L87.1 1130.9 L87.4 1130.9 L87.7 1130.9 L88.0 1130.9 L88.3 1130.9 L88.6 1130.9 L88.9 1130.9 L89.2 1130.9 L89.5 1130.9 L89.8 1130.9 L90.1 1130.9 L90.4 1130.9 L90.7 1130.9 L91.1 1130.9 L91.4 1130.9 L91.7 1130.9 L92.0 1130.9 L92.3 1130.9 L92.6 1130.9 L92.9 1130.9 L93.2 1130.9 L93.5 1130.9 L93.8 1130.9 L94.1 1130.9 L94.4 1130.9 L94.7 1130.9 L95.0 1130.9 L95.3 1130.9 L95.6 1130.9 L95.9 1130.9 L96.2 1130.9 L96.6 1130.9 L96.9 1130.9 L97.2 1130.9 L97.5 1130.9 L97.8 1130.9 L98.1 1130.9 L98.4 1130.9 L98.7 1130.9 L99.0 1130.9 L99.3 1130.9 L99.6 1130.9 L99.9 1130.9 L100.2 1130.9 L100.5 1130.9 L100.8 1130.9 L101.1 1130.9 L101.4 1130.9 L101.8 1130.9 L102.1 1130.9 L102.4 1130.9 L102.7 1130.9 L103.0 1130.9 L103.3 1130.9 L103.6 1130.9 L103.9 1130.9 L104.2 1130.9 L104.5 1130.9 L104.8 1130.9 L105.1 1130.9 L105.4 1130.9 L105.7 1130.9 L106.0 1130.9 L106.3 1130.9 L106.6 1130.9 L106.9 1130.9 L107.3 1130.9 L107.6 1130.9 L107.9 1130.9 L108.2 1130.9 L108.5 1130.9 L108.8 1130.9 L109.1 1130.9 L109.4 1130.9 L109.7 1130.9 L110.0 1130.9 L110.3 1130.9 L110.6 1130.9 L110.9 1130.9 L111.2 1130.9 L111.5 1130.9 L111.8 1130.9 L112.1 1130.9 L112.4 1130.9 L112.8 1130.9 L113.1 1130.9 L113.4 1130.9 L113.7 1130.9 L114.0 1130.9 L114.3 1130.9 L114.6 1130.9 L114.9 1130.9 L115.2 1130.9 L115.5 1130.9 L115.8 1130.9 L116.1 1130.9 L116.4 1130.9 L116.7 1130.9 L117.0 1130.9 L117.3 1130.9 L117.6 1130.9 L117.9 1130.9 L118.3 1130.8 L118.6 1130.6 L118.9 1130.3 L119.2 1129.6 L119.5 1128.5 L119.8 1126.8 L120.1 1124.7 L120.4 1122.4 L120.7 1120.2 L121.0 1118.7 L121.3 1118.3 L121.6 1118.9 L121.9 1120.6 L122.2 1122.7 L122.5 1125.0 L122.8 1127.0 L123.1 1128.6 L123.4 1129.6 L123.8 1130.3 L124.1 1130.6 L124.4 1130.8 L124.7 1130.9 L125.0 1130.9 L125.3 1130.9 L125.6 1130.9 L125.9 1130.9 L126.2 1130.9 L126.5 1130.9 L126.8 1130.9 L127.1 1130.9 L127.4 1130.9 L127.7 1130.9 L128.0 1130.9 L128.3 1130.9 L128.6 1130.9 L128.9 1130.9 L129.3 1130.9 L129.6 1130.9 L129.9 1130.9 L130.2 1130.9 L130.5 1130.9 L130.8 1130.9 L131.1 1130.9 L131.4 1130.9 L131.7 1130.9 L132.0 1130.9 L132.3 1130.8 L132.6 1130.8 L132.9 1130.6 L133.2 1130.4 L133.5 1130.1 L133.8 1129.8 L134.1 1129.5 L134.4 1129.3 L134.8 1129.2 L135.1 1129.3 L135.4 1129.6 L135.7 1129.9 L136.0 1130.2 L136.3 1130.5 L136.6 1130.7 L136.9 1130.8 L137.2 1130.9 L137.5 1130.9 L137.8 1130.9 L138.1 1130.9 L138.4 1130.9 L138.7 1130.9 L139.0 1130.8 L139.3 1130.7 L139.6 1130.4 L140.0 1129.7 L140.3 1128.5 L140.6 1126.0 L140.9 1121.8 L141.2 1115.0 L141.5 1104.6 L141.8 1090.2 L142.1 1071.7 L142.4 1049.9 L142.7 1026.9 L143.0 1005.5 L143.3 988.8 L143.6 979.6 L143.8 978.4 L143.9 979.6 L144.2 988.8 L144.5 1005.5 L144.8 1026.9 L145.1 1049.9 L145.5 1071.6 L145.8 1090.1 L146.1 1104.4 L146.4 1114.5 L146.7 1120.9 L147.0 1124.3 L147.3 1125.4 L147.6 1124.5 L147.9 1122.0 L148.2 1118.2 L148.5 1113.1 L148.8 1107.5 L149.1 1101.7 L149.4 1096.8 L149.7 1093.4 L150.0 1092.2 L150.3 1093.2 L150.6 1096.3 L151.0 1100.6 L151.3 1105.5 L151.6 1110.2 L151.9 1113.9 L152.2 1116.5 L152.5 1117.8 L152.8 1117.7 L153.1 1115.9 L153.4 1112.2 L153.7 1106.3 L154.0 1098.4 L154.3 1089.1 L154.6 1079.3 L154.9 1070.5 L155.2 1064.0 L155.5 1060.7 L155.8 1061.0 L156.1 1064.4 L156.5 1070.0 L156.8 1076.6 L157.1 1083.3 L157.4 1089.4 L157.7 1094.7 L158.0 1099.4 L158.3 1103.9 L158.6 1108.2 L158.9 1112.5 L159.2 1116.6 L159.5 1120.3 L159.8 1123.5 L160.1 1126.0 L160.4 1127.8 L160.7 1129.1 L161.0 1129.9 L161.3 1130.3 L161.6 1130.5 L162.0 1130.5 L162.3 1130.3 L162.6 1129.8 L162.9 1129.0 L163.2 1127.9 L163.5 1126.3 L163.8 1124.3 L164.1 1121.9 L164.4 1119.3 L164.7 1116.9 L165.0 1115.0 L165.3 1114.0 L165.6 1114.1 L165.9 1115.4 L166.2 1117.5 L166.5 1120.2 L166.8 1123.0 L167.1 1125.4 L167.5 1127.4 L167.8 1128.8 L168.1 1129.7 L168.4 1130.2 L168.7 1130.5 L169.0 1130.6 L169.3 1130.6 L169.6 1130.4 L169.9 1130.0 L170.2 1129.4 L170.5 1128.7 L170.8 1127.9 L171.1 1127.1 L171.4 1126.2 L171.7 1125.3 L172.0 1124.4 L172.3 1123.4 L172.6 1122.7 L173.0 1122.3 L173.3 1122.2 L173.6 1122.3 L173.9 1122.3 L174.2 1121.6 L174.5 1120.1 L174.8 1117.8 L175.1 1115.0 L175.4 1112.0 L175.7 1109.6 L176.0 1108.1 L176.2 1107.9 L176.3 1108.0 L176.6 1109.3 L176.9 1111.7 L177.2 1114.9 L177.5 1118.4 L177.8 1121.7 L178.2 1124.5 L178.5 1126.8 L178.8 1128.4 L179.1 1129.4 L179.4 1130.1 L179.7 1130.5 L180.0 1130.7 L180.3 1130.8 L180.6 1130.9 L180.9 1130.9 L181.2 1130.9 L181.5 1130.9 L181.8 1130.9 L182.1 1130.9 L182.4 1130.9 L182.7 1130.8 L183.0 1130.7 L183.3 1130.6 L183.7 1130.3 L184.0 1129.7 L184.3 1128.9 L184.6 1127.7 L184.9 1126.1 L185.2 1124.1 L185.5 1121.9 L185.8 1119.7 L186.1 1117.7 L186.4 1116.3 L186.7 1115.7 L187.0 1115.8 L187.3 1116.6 L187.6 1118.1 L187.9 1119.9 L188.2 1121.8 L188.5 1123.8 L188.8 1125.6 L189.2 1127.1 L189.5 1128.2 L189.8 1128.8 L190.1 1129.0 L190.4 1128.9 L190.7 1128.6 L191.0 1128.4 L191.3 1128.4 L191.6 1128.6 L191.9 1128.9 L192.2 1129.3 L192.5 1129.5 L192.8 1129.4 L193.1 1129.0 L193.4 1127.9 L193.7 1126.2 L194.0 1123.3 L194.3 1119.1 L194.7 1112.9 L195.0 1104.7 L195.3 1094.6 L195.6 1083.4 L195.9 1072.3 L196.2 1062.8 L196.5 1056.6 L196.8 1054.7 L197.1 1057.3 L197.4 1064.2 L197.7 1074.0 L198.0 1085.2 L198.3 1096.5 L198.6 1106.5 L198.9 1114.7 L199.2 1120.7 L199.5 1124.9 L199.8 1127.6 L200.2 1129.2 L200.5 1130.0 L200.8 1130.4 L201.1 1130.6 L201.4 1130.5 L201.7 1130.3 L202.0 1129.9 L202.3 1129.3 L202.6 1128.5 L202.9 1127.6 L203.2 1126.5 L203.5 1125.4 L203.8 1124.5 L204.1 1123.9 L204.4 1123.6 L204.7 1123.9 L205.0 1124.5 L205.3 1125.4 L205.7 1126.5 L206.0 1127.6 L206.3 1128.5 L206.6 1129.3 L206.9 1129.9 L207.2 1130.3 L207.5 1130.6 L207.8 1130.7 L208.1 1130.8 L208.4 1130.9 L208.7 1130.9 L209.0 1130.9 L209.3 1130.9 L209.6 1130.9 L209.9 1130.9 L210.2 1130.9 L210.5 1130.9 L210.8 1130.9 L211.2 1130.9 L211.5 1130.9 L211.8 1130.9 L212.1 1130.9 L212.4 1130.9 L212.7 1130.9 L213.0 1130.9 L213.3 1130.9 L213.6 1130.9 L213.9 1130.9 L214.2 1130.9 L214.5 1130.9 L214.8 1130.9 L215.1 1130.9 L215.4 1130.9 L215.7 1130.8 L216.0 1130.7 L216.4 1130.6 L216.7 1130.2 L217.0 1129.8 L217.3 1129.1 L217.6 1128.4 L217.9 1127.8 L218.2 1127.4 L218.5 1127.4 L218.8 1127.8 L219.1 1128.4 L219.4 1129.1 L219.7 1129.7 L220.0 1130.1 L220.3 1130.2 L220.6 1130.1 L220.9 1129.6 L221.2 1128.6 L221.5 1127.1 L221.9 1124.9 L222.2 1122.1 L222.5 1118.8 L222.8 1115.1 L223.1 1111.6 L223.4 1108.8 L223.7 1107.1 L223.9 1106.7 L224.0 1106.8 L224.3 1107.9 L224.6 1110.4 L224.9 1113.7 L225.2 1117.3 L225.5 1120.8 L225.8 1123.9 L226.1 1126.3 L226.4 1128.1 L226.7 1129.3 L227.0 1130.0 L227.4 1130.5 L227.7 1130.7 L228.0 1130.8 L228.3 1130.9 L228.6 1130.9 L228.9 1130.9 L229.2 1130.8 L229.5 1130.7 L229.8 1130.5 L230.1 1130.0 L230.4 1129.1 L230.7 1127.8 L231.0 1126.1 L231.3 1124.0 L231.6 1122.1 L231.9 1120.5 L232.2 1119.7 L232.5 1119.8 L232.9 1120.8 L233.2 1122.3 L233.5 1124.1 L233.8 1125.8 L234.1 1127.2 L234.4 1128.2 L234.7 1128.8 L235.0 1129.1 L235.3 1129.3 L235.6 1129.5 L235.9 1129.8 L236.2 1130.1 L236.5 1130.3 L236.8 1130.5 L237.1 1130.7 L237.4 1130.8 L237.7 1130.9 L238.0 1130.9 L238.4 1130.9 L238.7 1130.9 L239.0 1130.9 L239.3 1130.9 L239.6 1130.9 L239.9 1130.9 L240.2 1130.8 L240.5 1130.8 L240.8 1130.6 L241.1 1130.3 L241.4 1129.7 L241.7 1128.9 L242.0 1127.6 L242.3 1125.7 L242.6 1123.4 L242.9 1120.6 L243.2 1117.7 L243.5 1115.0 L243.9 1112.9 L244.2 1111.7 L244.3 1111.5 L244.5 1111.7 L244.8 1112.9 L245.1 1115.0 L245.4 1117.7 L245.7 1120.6 L246.0 1123.4 L246.3 1125.7 L246.6 1127.6 L246.9 1128.9 L247.2 1129.7 L247.5 1130.3 L247.8 1130.6 L248.1 1130.7 L248.4 1130.8 L248.7 1130.8 L249.0 1130.7 L249.4 1130.4 L249.7 1130.2 L250.0 1129.8 L250.3 1129.4 L250.6 1129.1 L250.9 1129.0 L251.2 1129.1 L251.5 1129.3 L251.8 1129.7 L252.1 1130.1 L252.4 1130.4 L252.7 1130.6 L253.0 1130.8 L253.3 1130.8 L253.6 1130.9 L253.9 1130.9 L254.2 1130.9 L254.6 1130.9 L254.9 1130.9 L255.2 1130.9 L255.5 1130.9 L255.8 1130.9 L256.1 1130.9 L256.4 1130.9 L256.7 1130.9 L257.0 1130.9 L257.3 1130.9 L257.6 1130.9 L257.9 1130.9 L258.2 1130.9 L258.5 1130.9 L258.8 1130.9 L259.1 1130.9 L259.4 1130.9 L259.7 1130.9 L260.1 1130.9 L260.4 1130.9 L260.7 1130.9 L261.0 1130.9 L261.3 1130.9 L261.6 1130.9 L261.9 1130.9 L262.2 1130.9 L262.5 1130.9 L262.8 1130.9 L263.1 1130.9 L263.4 1130.8 L263.7 1130.7 L264.0 1130.6 L264.3 1130.3 L264.6 1129.7 L264.9 1128.9 L265.2 1127.8 L265.6 1126.2 L265.9 1124.3 L266.2 1122.1 L266.5 1119.9 L266.8 1118.1 L267.1 1116.8 L267.4 1116.4 L267.7 1116.8 L268.0 1118.1 L268.3 1119.9 L268.6 1122.1 L268.9 1124.3 L269.2 1126.2 L269.5 1127.8 L269.8 1128.9 L270.1 1129.7 L270.4 1130.1 L270.7 1130.3 L271.1 1130.2 L271.4 1129.8 L271.7 1129.1 L272.0 1127.9 L272.3 1126.2 L272.6 1124.1 L272.9 1121.5 L273.2 1118.8 L273.5 1116.2 L273.8 1114.1 L274.1 1113.0 L274.3 1112.8 L274.4 1112.8 L274.7 1113.8 L275.0 1115.7 L275.3 1118.3 L275.6 1121.0 L275.9 1123.6 L276.2 1125.9 L276.6 1127.6 L276.9 1128.9 L277.2 1129.8 L277.5 1130.3 L277.8 1130.6 L278.1 1130.8 L278.4 1130.8 L278.7 1130.9 L279.0 1130.9 L279.3 1130.9 L279.6 1130.9 L279.9 1130.9 L280.2 1130.9 L280.5 1130.9 L280.8 1130.9 L281.1 1130.9 L281.4 1130.9 L281.7 1130.9 L282.1 1130.9 L282.4 1130.9 L282.7 1130.9 L283.0 1130.9 L283.3 1130.9 L283.6 1130.9 L283.9 1130.9 L284.2 1130.9 L284.5 1130.9 L284.8 1130.9 L285.1 1130.9 L285.4 1130.9 L285.7 1130.9 L286.0 1130.9 L286.3 1130.8 L286.6 1130.7 L286.9 1130.5 L287.2 1130.1 L287.6 1129.6 L287.9 1128.8 L288.2 1127.8 L288.5 1126.5 L288.8 1125.0 L289.1 1123.6 L289.4 1122.4 L289.7 1121.5 L290.0 1121.2 L290.3 1121.5 L290.6 1122.4 L290.9 1123.6 L291.2 1125.0 L291.5 1126.4 L291.8 1127.6 L292.1 1128.5 L292.4 1128.9 L292.8 1128.9 L293.1 1128.3 L293.4 1127.3 L293.7 1126.1 L294.0 1124.8 L294.3 1123.9 L294.6 1123.3 L294.9 1123.1 L295.2 1123.3 L295.5 1123.7 L295.8 1124.3 L296.1 1125.1 L296.4 1126.1 L296.7 1127.0 L297.0 1127.8 L297.3 1128.2 L297.6 1128.5 L297.9 1128.6 L298.3 1128.8 L298.6 1129.0 L298.9 1129.4 L299.2 1129.8 L299.5 1130.1 L299.8 1130.4 L300.1 1130.5 L300.4 1130.4 L300.7 1130.0 L301.0 1129.1 L301.3 1127.8 L301.6 1125.9 L301.9 1123.4 L302.2 1120.7 L302.5 1117.9 L302.8 1115.6 L303.1 1113.8 L303.4 1112.9 L303.8 1112.8 L304.1 1113.2 L304.4 1114.0 L304.7 1115.0 L305.0 1116.1 L305.3 1117.4 L305.6 1119.0 L305.9 1120.8 L306.2 1122.8 L306.5 1124.6 L306.8 1126.1 L307.1 1127.0 L307.4 1127.0 L307.7 1126.2 L308.0 1124.7 L308.3 1122.4 L308.6 1119.8 L308.9 1117.2 L309.3 1114.9 L309.6 1113.3 L309.9 1112.8 L310.2 1113.3 L310.5 1114.9 L310.8 1117.2 L311.1 1119.9 L311.4 1122.6 L311.7 1125.0 L312.0 1127.0 L312.3 1128.4 L312.6 1129.5 L312.9 1130.1 L313.2 1130.5 L313.5 1130.7 L313.8 1130.8 L314.1 1130.9 L314.4 1130.9 L314.8 1130.9 L315.1 1130.9 L315.4 1130.9 L315.7 1130.9 L316.0 1130.9 L316.3 1130.9 L316.6 1130.9 L316.9 1130.8 L317.2 1130.7 L317.5 1130.6 L317.8 1130.3 L318.1 1129.9 L318.4 1129.3 L318.7 1128.5 L319.0 1127.6 L319.3 1126.5 L319.6 1125.4 L319.9 1124.5 L320.3 1123.9 L320.6 1123.6 L320.9 1123.9 L321.2 1124.5 L321.5 1125.4 L321.8 1126.5 L322.1 1127.6 L322.4 1128.5 L322.7 1129.3 L323.0 1129.9 L323.3 1130.3 L323.6 1130.6 L323.9 1130.7 L324.2 1130.8 L324.5 1130.9 L324.8 1130.9 L325.1 1130.9 L325.4 1130.9 L325.8 1130.9 L326.1 1130.9 L326.4 1130.9 L326.7 1130.9 L327.0 1130.9 L327.3 1130.9 L327.6 1130.9 L327.9 1130.9 L328.2 1130.9 L328.5 1130.9 L328.8 1130.9 L329.1 1130.9 L329.4 1130.9 L329.7 1130.9 L330.0 1130.9 L330.3 1130.9 L330.6 1130.9 L331.0 1130.9 L331.3 1130.9 L331.6 1130.9 L331.9 1130.9 L332.2 1130.8 L332.5 1130.7 L332.8 1130.6 L333.1 1130.3 L333.4 1129.9 L333.7 1129.3 L334.0 1128.5 L334.3 1127.6 L334.6 1126.5 L334.9 1125.4 L335.2 1124.5 L335.5 1123.9 L335.8 1123.6 L336.1 1123.9 L336.5 1124.5 L336.8 1125.4 L337.1 1126.5 L337.4 1127.6 L337.7 1128.5 L338.0 1129.3 L338.3 1129.9 L338.6 1130.3 L338.9 1130.6 L339.2 1130.7 L339.5 1130.8 L339.8 1130.9 L340.1 1130.9 L340.4 1130.9 L340.7 1130.9 L341.0 1130.9 L341.3 1130.9 L341.6 1130.9 L342.0 1130.9 L342.3 1130.9 L342.6 1130.9 L342.9 1130.9 L343.2 1130.8 L343.5 1130.6 L343.8 1130.2 L344.1 1129.3 L344.4 1127.6 L344.7 1124.5 L345.0 1119.3 L345.3 1111.2 L345.6 1099.5 L345.9 1083.8 L346.2 1064.4 L346.5 1042.8 L346.8 1021.3 L347.1 1002.8 L347.5 990.2 L347.8 985.7 L348.1 990.2 L348.4 1002.7 L348.7 1021.2 L349.0 1042.7 L349.3 1064.1 L349.6 1083.0 L349.9 1097.8 L350.2 1107.8 L350.5 1112.8 L350.8 1112.6 L351.1 1107.4 L351.4 1097.0 L351.7 1081.7 L352.0 1062.2 L352.3 1040.2 L352.6 1018.1 L353.0 999.1 L353.3 986.2 L353.6 981.6 L353.9 986.2 L354.2 999.1 L354.5 1018.2 L354.8 1040.3 L355.1 1062.5 L355.4 1082.4 L355.7 1098.5 L356.0 1110.4 L356.3 1118.4 L356.6 1122.9 L356.9 1124.6 L357.2 1123.7 L357.5 1120.1 L357.8 1113.5 L358.1 1103.4 L358.5 1089.8 L358.8 1073.0 L359.1 1054.1 L359.4 1035.3 L359.7 1018.9 L360.0 1007.4 L360.3 1002.6 L360.6 1005.0 L360.9 1013.6 L361.2 1026.2 L361.5 1040.3 L361.8 1053.4 L362.1 1063.9 L362.4 1071.2 L362.7 1076.0 L363.0 1079.3 L363.3 1082.5 L363.6 1086.5 L364.0 1091.7 L364.3 1097.9 L364.6 1104.6 L364.9 1111.2 L365.2 1116.9 L365.5 1121.6 L365.8 1125.0 L366.1 1127.2 L366.4 1128.5 L366.7 1129.0 L367.0 1128.8 L367.3 1128.1 L367.6 1126.9 L367.9 1125.3 L368.2 1123.5 L368.5 1121.8 L368.8 1120.2 L369.2 1119.2 L369.5 1118.8 L369.8 1119.2 L370.1 1120.2 L370.4 1121.8 L370.7 1123.6 L371.0 1125.4 L371.3 1127.0 L371.6 1128.3 L371.9 1129.3 L372.2 1129.9 L372.5 1130.4 L372.8 1130.6 L373.1 1130.8 L373.4 1130.8 L373.7 1130.9 L374.0 1130.9 L374.3 1130.9 L374.7 1130.8 L375.0 1130.8 L375.3 1130.6 L375.6 1130.4 L375.9 1130.0 L376.2 1129.3 L376.5 1128.4 L376.8 1127.1 L377.1 1125.5 L377.4 1123.8 L377.7 1122.0 L378.0 1120.5 L378.3 1119.3 L378.6 1118.8 L378.9 1118.8 L379.2 1119.1 L379.5 1119.4 L379.8 1119.2 L380.2 1118.1 L380.5 1115.7 L380.8 1111.9 L381.1 1106.9 L381.4 1101.4 L381.7 1096.1 L382.0 1092.0 L382.3 1089.9 L382.4 1089.8 L382.6 1090.3 L382.9 1093.0 L383.2 1097.7 L383.5 1103.5 L383.8 1109.7 L384.1 1115.5 L384.4 1120.4 L384.7 1124.1 L385.0 1126.8 L385.3 1128.6 L385.7 1129.6 L386.0 1130.2 L386.3 1130.5 L386.6 1130.5 L386.9 1130.4 L387.2 1130.0 L387.5 1129.2 L387.8 1127.8 L388.1 1125.7 L388.4 1122.6 L388.7 1118.5 L389.0 1113.5 L389.3 1107.8 L389.6 1102.2 L389.9 1097.4 L390.2 1094.1 L390.5 1092.9 L390.8 1094.1 L391.2 1097.3 L391.5 1102.1 L391.8 1107.7 L392.1 1113.4 L392.4 1118.4 L392.7 1122.4 L393.0 1125.4 L393.3 1127.4 L393.6 1128.5 L393.9 1128.9 L394.2 1128.6 L394.5 1127.8 L394.8 1126.4 L395.1 1124.4 L395.4 1121.9 L395.7 1119.0 L396.0 1116.2 L396.3 1113.8 L396.7 1112.2 L397.0 1111.5 L397.3 1112.1 L397.6 1113.7 L397.9 1116.0 L398.2 1118.7 L398.5 1121.5 L398.8 1123.9 L399.1 1125.9 L399.4 1127.3 L399.7 1128.3 L400.0 1128.8 L400.3 1128.9 L400.6 1128.7 L400.9 1128.0 L401.2 1126.7 L401.5 1124.5 L401.8 1121.0 L402.2 1115.9 L402.5 1109.1 L402.8 1100.8 L403.1 1091.6 L403.4 1082.3 L403.7 1074.1 L404.0 1068.3 L404.3 1065.6 L404.6 1066.0 L404.9 1069.0 L405.2 1073.3 L405.5 1077.2 L405.8 1079.4 L406.1 1079.2 L406.4 1076.4 L406.7 1072.0 L407.0 1067.3 L407.4 1063.9 L407.7 1063.1 L408.0 1065.6 L408.3 1071.2 L408.6 1079.2 L408.9 1088.4 L409.2 1097.6 L409.5 1105.7 L409.8 1112.3 L410.1 1117.1 L410.4 1120.2 L410.7 1121.7 L411.0 1121.7 L411.3 1120.0 L411.6 1116.3 L411.9 1111.0 L412.2 1104.6 L412.5 1098.9 L412.9 1095.5 L413.0 1095.1 L413.2 1095.6 L413.5 1098.8 L413.8 1103.6 L414.1 1108.0 L414.4 1110.3 L414.7 1109.9 L415.0 1107.5 L415.3 1104.5 L415.6 1102.2 L415.7 1101.7 L415.9 1101.6 L416.2 1102.4 L416.5 1103.5 L416.8 1103.2 L417.1 1100.0 L417.4 1093.2 L417.7 1082.9 L418.0 1069.7 L418.4 1055.2 L418.7 1041.2 L419.0 1030.0 L419.3 1023.3 L419.5 1022.0 L419.6 1022.3 L419.9 1027.0 L420.2 1036.3 L420.5 1048.4 L420.8 1061.2 L421.1 1072.8 L421.4 1081.9 L421.7 1088.1 L422.0 1091.6 L422.3 1093.0 L422.6 1093.0 L422.9 1092.2 L423.2 1090.4 L423.5 1087.1 L423.9 1081.5 L424.2 1072.4 L424.5 1059.2 L424.8 1041.9 L425.1 1021.8 L425.4 1001.2 L425.7 983.2 L426.0 970.8 L426.3 966.3 L426.6 970.7 L426.9 983.0 L427.2 1001.0 L427.5 1021.6 L427.8 1041.6 L428.1 1058.7 L428.4 1071.8 L428.7 1080.5 L429.0 1085.4 L429.4 1087.5 L429.7 1087.3 L430.0 1085.5 L430.3 1082.0 L430.6 1076.7 L430.9 1069.7 L431.2 1061.4 L431.5 1052.8 L431.8 1045.3 L432.1 1040.3 L432.4 1038.9 L432.7 1041.6 L433.0 1047.7 L433.3 1055.7 L433.6 1063.6 L433.9 1069.7 L434.2 1073.4 L434.5 1075.2 L434.9 1076.3 L434.9 1076.6 L435.2 1078.0 L435.5 1080.6 L435.8 1084.0 L436.1 1087.3 L436.4 1090.4 L436.7 1093.0 L437.0 1095.0 L437.3 1096.4 L437.6 1096.6 L437.9 1095.2 L438.2 1092.1 L438.5 1087.2 L438.8 1081.3 L439.1 1075.1 L439.4 1069.8 L439.5 1069.0 L439.7 1066.3 L440.0 1065.6 L440.4 1068.0 L440.4 1068.8 L440.7 1073.2 L441.0 1080.6 L441.3 1089.1 L441.6 1097.6 L441.9 1105.2 L442.2 1111.4 L442.5 1116.1 L442.8 1119.3 L443.1 1121.4 L443.4 1122.6 L443.7 1123.3 L444.0 1123.7 L444.3 1123.9 L444.6 1124.0 L444.9 1124.0 L445.2 1123.8 L445.6 1123.3 L445.9 1122.3 L446.2 1120.8 L446.5 1118.6 L446.8 1115.5 L447.1 1111.5 L447.4 1106.8 L447.7 1101.7 L448.0 1096.6 L448.3 1092.2 L448.6 1088.7 L448.7 1087.6 L448.9 1086.4 L449.2 1085.3 L449.5 1085.1 L449.8 1085.5 L450.1 1086.2 L450.3 1086.7 L450.4 1087.0 L450.7 1088.1 L451.1 1089.6 L451.4 1091.8 L451.6 1093.9 L451.7 1094.7 L452.0 1097.9 L452.3 1100.8 L452.6 1103.0 L452.9 1104.4 L453.2 1105.5 L453.3 1106.0 L453.5 1106.7 L453.8 1107.9 L454.1 1108.0 L454.4 1105.4 L454.7 1097.6 L455.0 1081.9 L455.3 1055.4 L455.6 1015.8 L455.9 962.2 L456.2 896.4 L456.6 823.6 L456.9 752.2 L457.1 706.7 L457.2 692.1 L457.5 652.4 L457.8 638.9 L458.1 652.6 L458.4 689.7 L458.6 719.1 L458.7 742.7 L459.0 802.7 L459.3 861.4 L459.6 912.8 L459.9 954.4 L460.2 986.1 L460.5 1009.9 L460.8 1028.5 L461.1 1044.0 L461.4 1057.5 L461.7 1069.5 L462.1 1079.4 L462.4 1086.6 L462.7 1090.4 L463.0 1090.1 L463.3 1085.7 L463.6 1077.2 L463.9 1065.3 L464.2 1051.3 L464.5 1036.9 L464.8 1024.3 L465.1 1015.6 L465.4 1012.3 L465.7 1015.0 L466.0 1023.1 L466.3 1035.2 L466.6 1049.3 L466.9 1063.4 L467.2 1076.0 L467.6 1086.3 L467.9 1093.8 L468.2 1098.8 L468.5 1101.7 L468.8 1103.0 L469.1 1102.8 L469.4 1101.3 L469.7 1098.2 L470.0 1093.3 L470.3 1086.2 L470.6 1076.8 L470.9 1065.0 L471.2 1051.4 L471.5 1037.0 L471.8 1023.0 L472.1 1010.9 L472.3 1005.1 L472.4 1001.9 L472.7 996.9 L473.0 995.7 L473.1 995.8 L473.4 998.3 L473.7 1003.3 L474.0 1010.1 L474.2 1016.5 L474.3 1017.8 L474.6 1026.0 L474.9 1034.1 L475.2 1040.5 L475.5 1042.0 L475.8 1032.3 L476.1 1001.9 L476.4 939.8 L476.7 838.0 L477.0 698.6 L477.3 632.6 L477.6 632.6 L477.9 632.6 L478.1 632.6 L478.2 632.6 L478.2 632.6 L478.6 632.6 L478.9 632.6 L479.2 632.6 L479.5 632.6 L479.8 632.6 L480.1 632.6 L480.4 632.6 L480.7 632.6 L481.0 632.6 L481.3 632.6 L481.6 654.8 L481.9 799.1 L482.2 918.2 L482.5 1002.0 L482.8 1052.8 L483.1 1079.3 L483.4 1090.5 L483.8 1092.6 L484.1 1088.7 L484.4 1078.9 L484.7 1061.9 L485.0 1035.5 L485.3 998.3 L485.6 950.7 L485.9 896.3 L486.0 870.9 L486.2 842.4 L486.5 798.5 L486.8 773.5 L487.0 770.3 L487.1 773.4 L487.4 798.1 L487.7 842.3 L488.0 896.5 L488.3 951.1 L488.6 998.3 L488.9 1034.2 L489.3 1058.4 L489.6 1072.6 L489.9 1079.2 L490.2 1080.4 L490.4 1078.8 L490.5 1076.6 L490.8 1066.9 L491.1 1048.2 L491.4 1016.6 L491.7 967.3 L492.0 896.5 L492.3 802.7 L492.6 688.4 L492.7 659.9 L492.9 632.6 L493.1 632.6 L493.2 632.6 L493.5 632.6 L493.8 632.6 L494.1 632.6 L494.2 632.6 L494.4 632.6 L494.8 632.6 L495.1 632.6 L495.4 632.6 L495.7 648.4 L496.0 766.9 L496.3 866.1 L496.6 938.4 L496.6 943.1 L496.9 999.0 L497.2 1037.4 L497.5 1062.2 L497.8 1076.8 L498.1 1083.1 L498.4 1082.4 L498.7 1074.6 L499.0 1059.3 L499.3 1036.0 L499.6 1005.2 L499.9 968.5 L500.3 929.2 L500.5 898.2 L500.6 892.2 L500.9 862.7 L501.2 845.3 L501.4 842.0 L501.5 842.9 L501.8 855.8 L502.1 881.7 L502.4 916.2 L502.7 954.1 L503.0 990.2 L503.3 1020.5 L503.6 1042.7 L503.9 1055.9 L504.2 1060.7 L504.5 1058.7 L504.8 1052.0 L505.1 1043.0 L505.4 1034.1 L505.8 1027.2 L505.8 1027.2 L506.1 1023.7 L506.4 1024.0 L506.5 1025.0 L506.7 1027.5 L506.9 1031.3 L507.0 1033.1 L507.3 1039.4 L507.6 1045.5 L507.9 1050.6 L508.2 1054.9 L508.5 1058.8 L508.8 1063.1 L509.1 1068.4 L509.4 1074.8 L509.7 1082.0 L510.0 1089.6 L510.3 1096.9 L510.6 1103.4 L510.9 1108.6 L511.3 1112.6 L511.6 1115.4 L511.9 1117.3 L512.2 1118.6 L512.5 1119.4 L512.8 1119.8 L513.1 1119.9 L513.4 1119.5 L513.7 1118.0 L514.0 1114.7 L514.3 1108.2 L514.6 1096.2 L514.9 1076.1 L515.2 1045.0 L515.5 1000.5 L515.8 941.8 L516.1 870.9 L516.4 793.3 L516.8 717.9 L517.1 655.4 L517.4 632.6 L517.6 632.6 L517.7 632.6 L518.0 632.6 L518.3 678.7 L518.6 748.0 L518.9 825.7 L519.2 901.8 L519.5 968.5 L519.8 1021.9 L520.1 1061.1 L520.4 1087.7 L520.7 1104.4 L521.0 1114.2 L521.3 1119.5 L521.6 1122.2 L522.0 1123.4 L522.3 1123.9 L522.6 1124.0 L522.9 1123.8 L523.2 1123.3 L523.5 1122.2 L523.8 1120.3 L524.1 1116.8 L524.4 1111.0 L524.7 1102.0 L525.0 1089.0 L525.3 1071.7 L525.6 1050.4 L525.9 1026.6 L526.2 1002.8 L526.5 982.1 L526.8 967.6 L527.1 961.5 L527.5 964.3 L527.8 974.8 L528.1 990.1 L528.4 1006.4 L528.7 1020.6 L529.0 1030.1 L529.3 1034.3 L529.6 1034.2 L529.9 1031.8 L530.2 1029.4 L530.5 1029.3 L530.8 1032.4 L531.1 1038.8 L531.4 1047.6 L531.7 1057.2 L532.0 1066.1 L532.3 1073.1 L532.6 1077.8 L533.0 1080.0 L533.3 1080.1 L533.3 1079.8 L533.6 1078.4 L533.9 1075.0 L534.2 1069.7 L534.5 1062.0 L534.8 1052.3 L534.8 1051.5 L535.1 1037.5 L535.4 1020.2 L535.7 1000.5 L536.0 980.5 L536.3 962.9 L536.6 950.9 L536.9 947.0 L537.2 952.0 L537.5 965.1 L537.8 983.8 L538.1 1004.5 L538.5 1023.5 L538.8 1037.9 L539.1 1046.0 L539.4 1047.7 L539.7 1044.0 L540.0 1037.1 L540.3 1029.6 L540.6 1024.0 L540.9 1022.0 L541.2 1024.6 L541.5 1031.5 L541.8 1041.4 L542.1 1052.5 L542.4 1062.8 L542.7 1070.1 L543.0 1072.4 L543.3 1067.7 L543.6 1053.9 L544.0 1029.1 L544.3 991.8 L544.6 942.5 L544.9 884.0 L545.2 822.3 L545.5 766.1 L545.7 729.7 L545.8 723.9 L546.1 702.3 L546.2 700.1 L546.4 703.7 L546.7 725.6 L547.0 762.3 L547.3 806.1 L547.4 811.9 L547.6 849.1 L547.9 885.1 L548.2 910.7 L548.5 925.6 L548.8 932.3 L549.1 934.9 L549.5 937.3 L549.8 941.9 L550.1 949.2 L550.4 957.9 L550.7 966.3 L551.0 972.6 L551.3 976.4 L551.6 978.1 L551.9 979.1 L552.2 980.9 L552.5 984.1 L552.8 988.6 L553.1 993.4 L553.4 997.1 L553.7 999.0 L554.0 998.9 L554.3 997.7 L554.6 996.9 L555.0 997.8 L555.3 1001.2 L555.6 1007.0 L555.9 1014.1 L556.2 1021.1 L556.5 1026.3 L556.8 1028.4 L557.1 1026.8 L557.4 1022.0 L557.7 1015.7 L558.0 1010.5 L558.3 1009.2 L558.4 1009.5 L558.4 1010.1 L558.6 1013.1 L558.9 1022.1 L559.2 1034.1 L559.5 1046.8 L559.8 1058.4 L560.2 1067.9 L560.5 1075.3 L560.8 1081.0 L561.1 1085.4 L561.4 1088.9 L561.7 1091.6 L562.0 1093.3 L562.3 1093.5 L562.6 1091.4 L562.9 1086.3 L563.2 1077.7 L563.5 1065.3 L563.8 1049.9 L564.1 1032.7 L564.4 1015.8 L564.7 1001.7 L565.0 992.8 L565.3 990.5 L565.3 990.7 L565.7 995.6 L566.0 1006.4 L566.3 1021.1 L566.6 1036.7 L566.9 1050.5 L567.2 1060.4 L567.5 1065.5 L567.8 1065.8 L568.1 1062.5 L568.4 1057.4 L568.7 1052.8 L568.9 1050.8 L569.0 1050.3 L569.3 1051.0 L569.6 1055.2 L569.9 1062.2 L570.2 1070.7 L570.5 1079.3 L570.8 1086.8 L571.2 1092.3 L571.5 1095.4 L571.8 1096.2 L572.1 1094.9 L572.4 1092.1 L572.7 1088.7 L573.0 1085.5 L573.3 1083.2 L573.6 1082.5 L573.9 1083.5 L574.2 1086.0 L574.5 1089.4 L574.8 1092.6 L575.1 1094.6 L575.4 1094.4 L575.7 1091.7 L576.0 1087.2 L576.3 1082.4 L576.7 1079.4 L576.8 1079.1 L577.0 1079.7 L577.3 1083.6 L577.6 1089.7 L577.9 1096.4 L578.2 1101.9 L578.5 1105.2 L578.8 1106.3 L579.1 1105.3 L579.4 1102.4 L579.7 1098.0 L580.0 1092.3 L580.3 1085.5 L580.6 1078.2 L580.8 1073.7 L580.9 1071.0 L581.2 1065.0 L581.5 1061.2 L581.8 1060.4 L581.8 1060.4 L582.2 1063.0 L582.3 1066.2 L582.5 1068.8 L582.8 1076.9 L583.1 1086.2 L583.4 1095.4 L583.7 1103.5 L584.0 1109.8 L584.3 1114.2 L584.6 1116.9 L584.9 1118.0 L585.2 1117.8 L585.5 1116.1 L585.8 1112.8 L586.1 1107.4 L586.4 1099.6 L586.7 1089.4 L587.0 1077.5 L587.3 1065.4 L587.7 1055.5 L587.8 1053.2 L587.9 1051.0 L588.0 1050.1 L588.1 1049.5 L588.3 1050.1 L588.6 1054.6 L588.9 1061.1 L589.2 1067.0 L589.5 1070.8 L589.8 1072.0 L589.8 1072.0 L590.1 1071.2 L590.4 1069.1 L590.5 1067.9 L590.7 1066.5 L591.0 1063.7 L591.3 1061.5 L591.6 1060.4 L591.9 1061.2 L592.1 1063.1 L592.2 1064.3 L592.5 1069.9 L592.8 1077.4 L593.2 1086.0 L593.5 1094.3 L593.8 1101.0 L594.1 1105.0 L594.4 1104.8 L594.7 1099.6 L595.0 1088.6 L595.3 1071.9 L595.6 1050.9 L595.9 1028.7 L596.2 1009.7 L596.4 1000.8 L596.5 998.4 L596.8 997.1 L596.8 997.8 L597.1 1007.9 L597.4 1026.1 L597.7 1048.0 L598.0 1069.5 L598.4 1088.0 L598.7 1102.3 L599.0 1112.7 L599.3 1119.7 L599.6 1124.2 L599.9 1127.0 L600.2 1128.7 L600.5 1129.6 L600.8 1130.0 L601.1 1130.3 L601.4 1130.4 L601.7 1130.5 L602.0 1130.6 L602.3 1130.6 L602.6 1130.6 L602.9 1130.6 L603.2 1130.7 L603.5 1130.7 L603.9 1130.7 L604.2 1130.7 L604.5 1130.7 L604.8 1130.8 L605.1 1130.8 L605.4 1130.8 L605.7 1130.8 L606.0 1130.8 L606.3 1130.8 L606.6 1130.8 L606.9 1130.8 L607.2 1130.8 L607.5 1130.8 L607.8 1130.8 L608.1 1130.9 L608.4 1130.9 L608.7 1130.9 L609.0 1130.9 L609.4 1130.9 L609.7 1130.9 L610.0 1130.9 L610.3 1130.8 L610.6 1130.8 L610.9 1130.6 L611.2 1130.3 L611.5 1129.5 L611.8 1127.9 L612.1 1124.7 L612.4 1118.9 L612.7 1109.2 L613.0 1094.0 L613.3 1072.0 L613.6 1042.4 L613.9 1006.1 L614.2 965.6 L614.5 925.2 L614.9 890.4 L615.2 866.8 L615.5 858.4 L615.8 866.8 L616.1 890.4 L616.4 925.2 L616.7 965.6 L617.0 1006.1 L617.3 1042.4 L617.6 1072.0 L617.9 1094.0 L618.2 1109.2 L618.5 1118.9 L618.8 1124.7 L619.1 1127.9 L619.4 1129.5 L619.7 1130.3 L620.0 1130.7 L620.4 1130.8 L620.7 1130.9 L621.0 1130.9 L621.3 1130.9 L621.6 1130.9 L621.9 1130.9 L622.2 1130.9 L622.5 1130.9 L622.8 1130.9 L623.1 1130.9 L623.4 1130.9 L623.7 1130.9 L624.0 1130.9 L624.3 1130.9 L624.6 1130.9 L624.9 1130.9 L625.2 1130.9 L625.5 1130.9 L625.9 1130.9 L626.2 1130.9 L626.5 1130.9 L626.8 1130.9 L627.1 1130.9 L627.4 1130.9 L627.7 1130.9 L628.0 1130.9 L628.3 1130.9 L628.6 1130.9 L628.9 1130.9 L629.2 1130.9 L629.5 1130.9 L629.8 1130.9 L630.1 1130.9 L630.4 1130.9 L630.7 1130.9 L631.0 1130.9 L631.4 1130.9 L631.7 1130.9 L632.0 1130.9 L632.3 1130.9 L632.6 1130.9 L632.9 1130.9 L633.2 1130.9 L633.5 1130.9 L633.8 1130.9 L634.1 1130.9 L634.4 1130.9 L634.7 1130.9 L635.0 1130.9 L635.3 1130.9 L635.6 1130.9 L635.9 1130.9 L636.2 1130.9 L636.6 1130.9 L636.9 1130.9 L637.2 1130.9 L637.5 1130.9 L637.8 1130.9 L638.1 1130.9 L638.4 1130.9 L638.7 1130.9 L639.0 1130.9 L639.3 1130.9 L639.6 1130.9 L639.9 1130.9 L640.2 1130.9 L640.5 1130.8 L640.8 1130.6 L641.1 1130.1 L641.4 1129.0 L641.7 1126.6 L642.1 1121.6 L642.4 1112.1 L642.7 1094.8 L643.0 1065.5 L643.3 1018.8 L643.6 949.5 L643.9 853.3 L644.2 729.6 L644.5 632.6 L644.8 632.6 L645.1 632.6 L645.4 632.6 L645.7 632.6 L646.0 632.6 L646.3 632.6 L646.6 632.6 L646.9 632.6 L647.2 632.6 L647.6 632.6 L647.9 729.6 L648.2 853.3 L648.5 949.5 L648.8 1018.8 L649.1 1065.5 L649.4 1094.8 L649.7 1112.1 L650.0 1121.6 L650.3 1126.6 L650.6 1129.0 L650.9 1130.1 L651.2 1130.6 L651.5 1130.8 L651.8 1130.9 L652.1 1130.9 L652.4 1130.9 L652.7 1130.9 L653.1 1130.9 L653.4 1130.9 L653.7 1130.9 L654.0 1130.9 L654.3 1130.9 L654.6 1130.9 L654.9 1130.9 L655.2 1130.9 L655.5 1130.9 L655.8 1130.9 L656.1 1130.9 L656.4 1130.9 L656.7 1130.9 L657.0 1130.9 L657.3 1130.9 L657.6 1130.9 L657.9 1130.9 L658.2 1130.9 L658.6 1130.9 L658.9 1130.9 L659.2 1130.9 L659.5 1130.9 L659.8 1130.9 L660.1 1130.9 L660.4 1130.9 L660.7 1130.9 L661.0 1130.9 L661.3 1130.9 L661.6 1130.9 L661.9 1130.9 L662.2 1130.9 L662.5 1130.9 L662.8 1130.9 L663.1 1130.9 L663.4 1130.9 L663.7 1130.9 L664.1 1130.9 L664.4 1130.9 L664.7 1130.9 L665.0 1130.9 L665.3 1130.9 L665.6 1130.9 L665.9 1130.9 L666.2 1130.9 L666.5 1130.9 L666.8 1130.9 L667.1 1130.9 L667.4 1130.9 L667.7 1130.9 L668.0 1130.9 L668.3 1130.9 L668.6 1130.9 L668.9 1130.9 L669.2 1130.9 L669.6 1130.9 L669.9 1130.9 L670.2 1130.9 L670.5 1130.9 L670.8 1130.9 L671.1 1130.9 L671.4 1130.9 L671.7 1130.9 L672.0 1130.9 L672.3 1130.9 L672.6 1130.9 L672.9 1130.9 L673.2 1130.9 L673.5 1130.9 L673.8 1130.9 L674.1 1130.9 L674.4 1130.9 L674.8 1130.9 L675.1 1130.9 L675.4 1130.9 L675.7 1130.9 L676.0 1130.9 L676.3 1130.9 L676.6 1130.9 L676.9 1130.9 L677.2 1130.9 L677.5 1130.9 L677.8 1130.9 L678.1 1130.9 L678.4 1130.9 L678.7 1130.9 L679.0 1130.9 L679.3 1130.9 L679.6 1130.9 L679.9 1130.9 L680.3 1130.9 L680.6 1130.9 L680.9 1130.9 L681.2 1130.9 L681.5 1130.9 L681.8 1130.9 L682.1 1130.9 L682.4 1130.9 L682.7 1130.9 L683.0 1130.9 L683.3 1130.9 L683.6 1130.9 L683.9 1130.9 L684.2 1130.9 L684.5 1130.9 L684.8 1130.9 L685.1 1130.9 L685.4 1130.9 L685.8 1130.9 L686.1 1130.9 L686.4 1130.9 L686.7 1130.9 L687.0 1130.9 L687.3 1130.9 L687.6 1130.9 L687.9 1130.9 L688.2 1130.9 L688.5 1130.9 L688.8 1130.9 L689.1 1130.8 L689.4 1130.7 L689.7 1130.4 L690.0 1129.7 L690.3 1128.3 L690.6 1125.4 L690.9 1119.9 L691.3 1109.9 L691.6 1092.8 L691.9 1065.4 L692.2 1024.0 L692.5 965.0 L692.8 886.5 L693.1 789.0 L693.4 676.7 L693.7 632.6 L694.0 632.6 L694.3 632.6 L694.6 632.6 L694.9 632.6 L695.2 632.6 L695.5 632.6 L695.8 632.6 L696.1 632.6 L696.4 676.7 L696.8 789.0 L697.1 886.5 L697.4 965.0 L697.7 1024.0 L698.0 1065.4 L698.3 1092.8 L698.6 1109.9 L698.9 1119.9 L699.2 1125.4 L699.5 1128.3 L699.8 1129.7 L700.1 1130.4 L700.4 1130.7 L700.7 1130.8 L701.0 1130.9 L701.3 1130.9 L701.6 1130.9 L701.9 1130.9 L702.3 1130.9 L702.6 1130.9 L702.9 1130.9 L703.2 1130.9 L703.5 1130.9 L703.8 1130.9 L704.1 1130.9 L704.4 1130.9 L704.7 1130.9 L705.0 1130.9 L705.3 1130.9 L705.6 1130.9 L705.9 1130.9 L706.2 1130.9 L706.5 1130.9 L706.8 1130.9 L707.1 1130.9 L707.4 1130.9 L707.8 1130.9 L708.1 1130.9 L708.4 1130.9 L708.7 1130.9 L709.0 1130.9 L709.3 1130.9 L709.6 1130.9 L709.9 1130.9 L710.2 1130.9 L710.5 1130.9 L710.8 1130.9 L711.1 1130.9 L711.4 1130.9 L711.7 1130.9 L712.0 1130.9 L712.3 1130.9 L712.6 1130.9 L713.0 1130.9 L713.3 1130.9 L713.6 1130.9 L713.9 1130.9 L714.2 1130.9 L714.5 1130.9 L714.8 1130.9 L715.1 1130.9 L715.4 1130.9 L715.7 1130.9 L716.0 1130.9 L716.3 1130.9 L716.6 1130.9 L716.9 1130.9 L717.2 1130.9 L717.5 1130.9 L717.8 1130.9 L718.1 1130.9 L718.5 1130.9 L718.8 1130.9 L719.1 1130.9 L719.4 1130.9 L719.7 1130.9 L720.0 1130.9 L720.3 1130.9 L720.6 1130.9 L720.9 1130.9 L721.2 1130.9 L721.5 1130.9 L721.8 1130.9 L722.1 1130.9 L722.4 1130.9 L722.7 1130.9 L723.0 1130.9 L723.3 1130.9 L723.6 1130.9 L724.0 1130.9 L724.3 1130.9 L724.6 1130.9 L724.9 1130.9 L725.2 1130.9 L725.5 1130.9 L725.8 1130.9 L726.1 1130.9 L726.4 1130.9 L726.7 1130.9 L727.0 1130.9 L727.3 1130.9 L727.6 1130.9 L727.9 1130.9 L728.2 1130.9 L728.5 1130.9 L728.8 1130.9 L729.1 1130.9 L729.5 1130.9 L729.8 1130.9 L730.1 1130.9 L730.4 1130.9 L730.7 1130.9 L731.0 1130.9 L731.3 1130.9 L731.6 1130.9 L731.9 1130.9 L732.2 1130.9 L732.5 1130.9 L732.8 1130.9 L733.1 1130.9 L733.4 1130.9 L733.7 1130.9 L734.0 1130.9 L734.3 1130.9 L734.6 1130.9 L735.0 1130.9 L735.3 1130.9 L735.6 1130.9 L735.9 1130.9 L736.2 1130.9 L736.5 1130.9 L736.8 1130.9 L737.1 1130.9 L737.4 1130.9 L737.7 1130.9 L738.0 1130.9 L738.3 1130.9 L738.6 1130.9 L738.9 1130.9 L739.2 1130.9 L739.5 1130.9 L739.8 1130.9 L740.1 1130.9 L740.5 1130.9 L740.8 1130.9 L741.1 1130.9 L741.4 1130.9 L741.7 1130.9 L742.0 1130.9 L742.3 1130.9 L742.6 1130.9 L742.9 1130.9 L743.2 1130.9 L743.5 1130.9 L743.8 1130.9 L744.1 1130.9 L744.4 1130.9 L744.7 1130.9 L745.0 1130.9 L745.3 1130.9 L745.6 1130.9 L746.0 1130.9 L746.3 1130.9 L746.6 1130.9 L746.9 1130.9 L747.2 1130.9 L747.5 1130.9 L747.8 1130.9 L748.1 1130.9 L748.4 1130.9 L748.7 1130.9 L749.0 1130.9 L749.3 1130.9 L749.6 1130.9 L749.9 1130.9 L750.2 1130.9 L750.5 1130.9 L750.8 1130.9 L751.2 1130.9 L751.5 1130.9 L751.8 1130.9 L752.1 1130.9 L752.4 1130.9 L752.7 1130.9 L753.0 1130.9 L753.3 1130.9 L753.6 1130.9 L753.9 1130.9 L754.2 1130.9 L754.5 1130.9 L754.8 1130.9 L755.1 1130.9 L755.4 1130.9 L755.7 1130.9 L756.0 1130.9 L756.3 1130.9 L756.7 1130.9 L757.0 1130.9 L757.3 1130.9 L757.6 1130.9 L757.9 1130.9 L758.2 1130.9 L758.5 1130.9 L758.8 1130.9 L759.1 1130.9 L759.4 1130.9 L759.7 1130.9 L760.0 1130.9 L760.3 1130.9 L760.6 1130.9 L760.9 1130.9 L761.2 1130.9 L761.5 1130.9 L761.8 1130.9 L762.2 1130.9 L762.5 1130.9 L762.8 1130.9 L763.1 1130.9 L763.4 1130.9 L763.7 1130.9 L764.0 1130.9 L764.3 1130.9 L764.6 1130.9 L764.9 1130.9 L765.2 1130.9 L765.5 1130.9 L765.8 1130.9 L766.1 1130.9 L766.4 1130.9 L766.7 1130.9 L767.0 1130.9 L767.3 1130.9 L767.7 1130.9 L768.0 1130.9 L768.3 1130.9 L768.6 1130.9 L768.9 1130.9 L769.2 1130.9 L769.5 1130.9 L769.8 1130.9 L770.1 1130.9 L770.4 1130.9 L770.7 1130.9 L771.0 1130.9 L771.3 1130.9 L771.6 1130.9 L771.9 1130.9 L772.2 1130.9 L772.5 1130.9 L772.8 1130.9 L773.2 1130.9 L773.5 1130.9 L773.8 1130.9 L774.1 1130.9 L774.4 1130.9 L774.7 1130.9 L775.0 1130.9 L775.3 1130.9 L775.6 1130.9 L775.9 1130.9 L776.2 1130.9 L776.5 1130.9 L776.8 1130.9 L777.1 1130.9 L777.4 1130.9 L777.7 1130.9 L778.0 1130.9 L778.3 1130.9 L778.7 1130.9 L779.0 1130.9 L779.3 1130.9 L779.6 1130.9 L779.9 1130.9 L780.2 1130.9 L780.5 1130.9 L780.8 1130.9 L781.1 1130.9 L781.4 1130.9 L781.7 1130.9 L782.0 1130.9 L782.3 1130.9 L782.6 1130.9 L782.9 1130.9 L783.2 1130.9 L783.5 1130.9 L783.8 1130.9 L784.2 1130.9 L784.5 1130.9 L784.8 1130.9 L785.1 1130.9 L785.4 1130.9 L785.7 1130.9 L786.0 1130.9 L786.3 1130.9 L786.6 1130.9 L786.9 1130.9 L787.2 1130.9 L787.5 1130.9 L787.8 1130.9 L788.1 1130.9 L788.4 1130.9 L788.7 1130.9 L789.0 1130.9 L789.4 1130.9 L789.7 1130.9 L790.0 1130.9 L790.3 1130.9 L790.6 1130.9 L790.9 1130.9 L791.2 1130.9 L791.5 1130.9 L791.8 1130.9 L792.1 1130.9 L792.4 1130.9 L792.7 1130.9 L793.0 1130.9 L793.3 1130.9 L793.6 1130.9 L793.9 1130.9 L794.2 1130.9 L794.5 1130.9 L794.9 1130.9 L795.2 1130.9 L795.5 1130.9 L795.8 1130.9 L796.1 1130.9 L796.4 1130.9 L796.7 1130.9 L797.0 1130.9 L797.3 1130.9 L797.6 1130.9 L797.9 1130.9 L798.2 1130.9 L798.5 1130.9 L798.8 1130.9 L799.1 1130.9 L799.4 1130.9 L799.7 1130.9 L800.0 1130.9 L800.4 1130.9 L800.7 1130.9 L801.0 1130.9 L801.3 1130.9 L801.6 1130.9 L801.9 1130.9 L802.2 1130.9 L802.5 1130.9 L802.8 1130.9 L803.1 1130.9 L803.4 1130.9 L803.7 1130.9 L804.0 1130.9 L804.3 1130.9 L804.6 1130.9 L804.9 1130.9 L805.2 1130.9 L805.5 1130.9 L805.9 1130.9 L806.2 1130.9 L806.5 1130.9 L806.8 1130.9 L807.1 1130.9 L807.4 1130.9 L807.7 1130.9 L808.0 1130.9 L808.3 1130.9 L808.6 1130.9 L808.9 1130.9 L809.2 1130.9 L809.5 1130.9 L809.8 1130.9 L810.1 1130.9 L810.4 1130.9 L810.7 1130.9 L811.0 1130.9 L811.4 1130.9 L811.7 1130.9 L812.0 1130.9 L812.3 1130.9 L812.6 1130.9 L812.9 1130.9 L813.2 1130.9 L813.5 1130.9 L813.8 1130.9 L814.1 1130.9 L814.4 1130.9 L814.7 1130.9 L815.0 1130.9 L815.3 1130.9 L815.6 1130.9 L815.9 1130.9 L816.2 1130.9 L816.5 1130.9 L816.9 1130.9 L817.2 1130.9 L817.5 1130.9 L817.8 1130.9 L818.1 1130.9 L818.4 1130.9 L818.7 1130.9 L819.0 1130.9 L819.3 1130.9 L819.6 1130.9 L819.9 1130.9 L820.2 1130.9 L820.5 1130.9 L820.8 1130.9 L821.1 1130.9 L821.4 1130.9 L821.7 1130.9 L822.0 1130.9 L822.4 1130.9 L822.7 1130.9 L823.0 1130.9 L823.3 1130.9 L823.6 1130.9 L823.9 1130.9 L824.2 1130.9 L824.5 1130.9 L824.8 1130.9" fill="none" stroke="#7f7f7f" stroke-width="1.35" stroke-linejoin="round"/><path d="M71.2 1130.2 L80.8 1130.0 L94.7 1129.7 L109.1 1129.4 L120.3 1129.0 L127.3 1128.5 L132.0 1128.1 L135.4 1127.5 L138.2 1126.6 L140.3 1125.6 L141.4 1124.6 L142.0 1123.0 L142.6 1120.6 L143.3 1116.9 L143.7 1112.3 L144.1 1107.3 L144.7 1102.8 L145.6 1098.7 L146.6 1094.6 L147.6 1090.9 L148.6 1087.9 L149.4 1085.9 L150.1 1084.6 L150.8 1083.5 L151.6 1082.0 L152.5 1079.5 L153.5 1076.4 L154.6 1073.9 L155.4 1073.0 L156.1 1074.8 L156.6 1078.2 L157.1 1082.1 L157.5 1084.9 L157.8 1086.2 L158.0 1086.6 L158.3 1087.0 L159.0 1087.9 L160.2 1089.7 L161.9 1092.0 L163.6 1094.5 L164.9 1096.8 L165.9 1099.0 L166.7 1101.0 L167.3 1103.2 L167.9 1105.8 L168.5 1109.0 L169.0 1112.8 L169.5 1116.4 L170.0 1119.2 L170.1 1120.7 L169.9 1121.5 L170.4 1121.8 L172.4 1122.1 L177.0 1122.7 L183.6 1123.2 L190.1 1123.1 L194.7 1122.1 L196.6 1119.5 L197.0 1115.7 L196.7 1111.7 L196.8 1108.7 L197.2 1107.1 L197.6 1106.1 L198.2 1105.6 L199.2 1105.2 L200.8 1104.8 L202.9 1104.5 L205.0 1104.6 L206.6 1105.2 L207.5 1106.3 L208.1 1107.8 L208.5 1109.7 L209.0 1111.7 L209.4 1114.2 L209.7 1117.1 L210.2 1120.0 L211.1 1122.1 L212.4 1123.5 L214.0 1124.4 L216.0 1124.9 L218.5 1125.1 L221.8 1124.8 L225.8 1124.1 L229.9 1123.3 L233.4 1123.0 L236.1 1123.5 L238.4 1124.5 L240.4 1125.5 L242.3 1126.0 L244.0 1125.7 L245.4 1125.0 L246.8 1124.2 L248.2 1123.6 L249.7 1123.4 L251.0 1123.3 L252.5 1123.4 L254.2 1123.6 L256.1 1124.4 L258.1 1125.5 L260.4 1126.4 L263.1 1126.6 L266.6 1125.5 L270.5 1123.6 L274.5 1121.6 L278.0 1120.6 L280.6 1121.0 L282.6 1122.3 L284.6 1123.6 L286.9 1124.5 L289.8 1124.6 L293.0 1124.4 L296.1 1124.0 L298.8 1123.6 L300.9 1123.4 L302.5 1123.3 L304.0 1123.0 L305.5 1122.6 L307.1 1121.8 L308.8 1120.7 L310.3 1119.8 L311.7 1119.2 L312.7 1119.1 L313.5 1119.4 L314.3 1119.9 L315.1 1120.5 L316.1 1121.4 L317.1 1122.5 L318.2 1123.6 L319.2 1124.7 L320.2 1125.7 L321.2 1126.7 L322.2 1127.6 L323.3 1128.4 L324.6 1129.0 L325.9 1129.4 L327.3 1129.7 L328.8 1129.7 L330.5 1129.5 L332.3 1128.9 L334.0 1128.3 L335.7 1127.8 L337.2 1127.5 L338.6 1127.2 L339.9 1126.9 L341.2 1126.7 L342.4 1126.8 L343.5 1127.0 L344.5 1127.0 L345.3 1126.5 L346.0 1125.3 L346.5 1123.7 L346.9 1121.5 L347.4 1118.5 L347.9 1114.1 L348.4 1108.6 L348.9 1102.9 L349.4 1097.9 L350.1 1094.1 L350.8 1091.0 L351.5 1087.9 L352.2 1084.2 L352.8 1079.3 L353.3 1073.9 L353.8 1068.4 L354.2 1063.6 L354.6 1059.4 L354.9 1055.6 L355.3 1052.4 L355.6 1049.8 L356.0 1048.1 L356.4 1047.1 L356.8 1046.6 L357.4 1046.4 L358.0 1046.6 L358.8 1047.4 L359.6 1048.3 L360.4 1049.2 L361.3 1049.9 L362.2 1050.8 L363.1 1051.7 L363.8 1052.6 L364.3 1053.3 L364.7 1054.0 L365.0 1055.0 L365.2 1056.7 L365.4 1059.6 L365.6 1063.2 L365.7 1067.1 L365.9 1070.4 L366.2 1073.3 L366.5 1075.9 L366.8 1078.2 L367.3 1080.0 L367.9 1081.3 L368.6 1082.1 L369.4 1082.7 L370.0 1083.5 L370.6 1084.3 L371.1 1085.1 L371.6 1086.2 L372.1 1088.3 L372.5 1091.6 L372.8 1096.0 L373.1 1100.6 L373.5 1104.8 L373.9 1108.6 L374.3 1112.4 L374.8 1115.7 L375.2 1118.5 L375.7 1120.5 L376.1 1121.8 L376.6 1122.7 L377.2 1123.3 L377.9 1123.5 L378.7 1123.2 L379.5 1122.7 L380.3 1121.9 L381.0 1121.0 L381.7 1119.8 L382.3 1118.4 L383.1 1117.1 L383.9 1115.8 L384.7 1114.4 L385.6 1113.0 L386.5 1111.6 L387.4 1110.2 L388.2 1108.8 L389.1 1107.4 L389.9 1106.1 L390.8 1104.9 L391.7 1103.7 L392.6 1102.8 L393.4 1102.7 L394.1 1103.6 L394.7 1105.3 L395.4 1107.3 L396.1 1108.9 L396.9 1110.1 L397.8 1111.2 L398.7 1112.1 L399.5 1113.0 L400.4 1113.9 L401.3 1114.9 L402.2 1115.6 L403.0 1115.7 L403.7 1115.3 L404.4 1114.3 L405.1 1113.0 L405.7 1111.6 L406.3 1110.1 L406.8 1108.4 L407.3 1106.5 L407.8 1104.8 L408.1 1102.9 L408.3 1101.1 L408.6 1099.3 L409.2 1097.9 L410.2 1096.8 L411.5 1096.0 L412.8 1095.4 L414.0 1095.1 L414.8 1095.2 L415.5 1095.4 L416.2 1095.9 L416.7 1096.5 L417.1 1097.5 L417.4 1098.7 L417.7 1099.7 L418.1 1100.0 L418.5 1099.0 L419.0 1097.2 L419.5 1095.3 L420.0 1093.8 L420.6 1093.7 L421.2 1094.4 L421.9 1094.2 L422.7 1091.6 L423.9 1085.0 L425.3 1075.6 L426.6 1066.1 L427.8 1058.9 L428.6 1054.9 L429.2 1052.7 L429.7 1051.7 L430.3 1051.4 L430.9 1052.3 L431.5 1054.6 L432.1 1056.8 L432.8 1057.7 L433.7 1056.0 L434.7 1052.7 L435.7 1049.7 L436.6 1048.9 L437.3 1051.0 L437.8 1055.1 L438.4 1059.8 L439.1 1064.0 L440.0 1067.6 L441.0 1071.4 L442.0 1074.5 L442.9 1076.5 L443.5 1076.7 L444.1 1075.4 L444.7 1074.1 L445.4 1074.0 L446.2 1075.7 L447.2 1078.5 L448.1 1081.5 L449.2 1084.1 L450.2 1086.4 L451.4 1088.7 L452.5 1090.3 L453.4 1090.4 L454.2 1089.5 L454.8 1087.8 L455.4 1083.9 L455.9 1076.5 L456.6 1063.8 L457.2 1046.9 L457.8 1029.1 L458.5 1013.6 L459.2 1001.0 L460.0 989.5 L460.9 979.5 L461.7 970.8 L462.7 964.0 L463.7 958.8 L464.7 954.6 L465.5 950.7 L466.1 946.6 L466.6 942.7 L466.9 940.0 L467.3 939.4 L467.6 940.9 L467.9 944.3 L468.2 949.3 L468.5 955.7 L469.0 964.1 L469.5 974.4 L470.0 985.4 L470.5 996.0 L471.1 1006.9 L471.6 1018.5 L472.1 1028.9 L472.6 1036.3 L473.0 1039.8 L473.4 1040.7 L473.9 1039.9 L474.3 1038.8 L474.8 1039.3 L475.3 1040.4 L475.8 1038.1 L476.3 1028.7 L476.8 1008.8 L477.2 981.2 L477.6 951.6 L478.1 925.5 L478.6 904.4 L479.0 885.3 L479.5 867.4 L480.1 850.0 L480.8 833.6 L481.6 818.4 L482.5 803.1 L483.3 786.6 L484.1 767.9 L484.9 748.0 L485.6 728.0 L486.3 709.2 L486.8 689.3 L487.3 668.4 L487.8 652.0 L488.4 645.3 L488.9 652.0 L489.5 668.4 L490.2 689.3 L490.7 709.2 L491.3 729.0 L491.8 750.6 L492.3 770.9 L492.8 786.6 L493.3 797.5 L493.8 805.2 L494.2 808.8 L494.6 807.4 L494.9 798.2 L495.3 782.5 L495.5 765.9 L495.8 753.9 L496.0 747.9 L496.2 744.9 L496.4 744.2 L496.7 744.9 L497.1 747.1 L497.7 751.1 L498.2 756.4 L498.8 762.8 L499.2 771.0 L499.7 781.0 L500.1 790.8 L500.5 798.5 L501.1 803.8 L501.6 807.6 L502.2 809.9 L502.6 810.4 L502.9 807.9 L503.1 802.8 L503.3 797.8 L503.5 795.5 L503.8 796.3 L504.1 799.0 L504.4 803.6 L504.7 810.4 L505.1 820.2 L505.6 832.5 L506.1 846.1 L506.5 859.5 L506.7 872.3 L506.7 885.3 L506.8 898.8 L507.0 912.9 L507.6 929.0 L508.3 946.6 L509.0 963.0 L509.6 975.9 L509.9 984.1 L510.1 989.2 L510.4 992.3 L510.8 994.7 L511.6 995.8 L512.7 995.1 L513.8 994.5 L514.6 996.0 L515.1 1002.0 L515.4 1010.8 L515.6 1018.2 L515.9 1019.9 L516.2 1013.2 L516.5 1000.9 L516.8 987.0 L517.1 975.9 L517.5 967.9 L517.9 961.1 L518.3 955.7 L518.9 951.9 L519.6 950.3 L520.5 950.5 L521.4 951.7 L522.2 953.2 L522.8 955.7 L523.5 959.2 L524.1 962.2 L524.7 963.3 L525.3 960.7 L526.0 955.6 L526.6 951.0 L527.2 949.4 L527.6 952.1 L527.9 957.4 L528.2 964.0 L528.4 970.8 L528.7 977.5 L529.0 984.7 L529.3 992.6 L529.7 1001.0 L530.3 1011.3 L530.9 1022.9 L531.6 1033.7 L532.2 1041.3 L532.7 1045.1 L533.1 1046.3 L533.5 1045.7 L534.0 1043.8 L534.7 1039.6 L535.6 1033.1 L536.5 1026.9 L537.3 1023.7 L537.7 1024.8 L538.1 1028.6 L538.4 1033.2 L539.0 1036.3 L540.0 1038.3 L541.2 1040.0 L542.5 1040.1 L543.5 1037.5 L544.3 1031.1 L544.9 1021.7 L545.5 1011.1 L546.1 1001.0 L546.7 991.4 L547.2 981.6 L547.9 972.0 L548.6 963.3 L549.4 955.5 L550.4 948.3 L551.3 941.7 L552.4 935.6 L553.4 929.0 L554.6 922.4 L555.7 917.3 L556.6 915.4 L557.3 917.7 L557.8 923.2 L558.2 930.4 L558.6 938.1 L559.2 946.7 L559.8 956.5 L560.4 966.6 L561.2 975.9 L562.0 984.2 L563.0 992.1 L564.0 999.4 L564.9 1006.1 L565.9 1011.8 L566.8 1016.8 L567.7 1021.4 L568.7 1026.2 L569.9 1031.2 L571.2 1036.1 L572.6 1041.1 L573.8 1046.3 L574.8 1051.9 L575.7 1057.7 L576.6 1063.4 L577.5 1069.0 L578.5 1074.5 L579.4 1079.9 L580.4 1085.0 L581.3 1089.1 L582.2 1092.3 L583.1 1094.8 L584.0 1096.6 L585.1 1097.9 L586.3 1098.8 L587.6 1099.0 L589.0 1098.8 L590.1 1097.9 L591.1 1096.6 L591.9 1094.8 L592.6 1092.3 L593.4 1089.1 L594.2 1084.5 L594.9 1078.8 L595.7 1073.2 L596.4 1069.0 L597.2 1066.6 L597.9 1065.2 L598.7 1064.6 L599.4 1064.5 L600.3 1065.0 L601.2 1066.2 L602.1 1067.6 L602.7 1069.0 L603.0 1069.7 L603.0 1070.1 L603.0 1071.2 L603.4 1073.7 L604.3 1078.3 L605.5 1084.4 L606.7 1091.1 L607.8 1097.5 L608.7 1103.9 L609.5 1110.7 L610.2 1116.8 L610.8 1121.3 L611.3 1123.8 L611.6 1125.0 L611.9 1125.0 L612.3 1124.3 L612.8 1123.1 L613.3 1121.3 L613.8 1118.0 L614.4 1112.4 L615.0 1102.6 L615.6 1089.8 L616.2 1077.0 L616.8 1067.7 L617.1 1063.1 L617.3 1061.3 L617.6 1060.9 L618.3 1060.3 L619.5 1059.1 L621.1 1058.0 L622.8 1057.7 L624.2 1058.8 L625.2 1061.5 L626.0 1065.4 L626.6 1070.5 L627.2 1076.7 L627.6 1084.7 L628.0 1094.5 L628.3 1104.2 L628.7 1112.4 L629.0 1118.6 L629.3 1123.8 L629.8 1127.9 L631.1 1130.8 L633.4 1130.9 L636.6 1130.9 L639.8 1130.9 L642.1 1130.8 L643.1 1130.8 L643.4 1130.9 L643.4 1129.6 L643.5 1124.3 L643.9 1114.4 L644.3 1101.2 L644.7 1085.3 L645.0 1067.7 L645.4 1047.7 L645.8 1025.2 L646.1 1001.6 L646.5 978.5 L646.9 955.3 L647.3 931.5 L647.6 908.8 L648.0 889.2 L648.4 872.8 L648.8 858.5 L649.1 847.0 L649.5 838.7 L649.8 834.6 L650.1 834.3 L650.4 835.5 L651.0 836.3 L652.0 836.0 L653.2 835.8 L654.5 836.0 L655.4 837.2 L656.0 838.7 L656.4 840.6 L656.6 844.1 L656.9 850.6 L657.3 859.9 L657.7 871.7 L658.0 886.2 L658.4 904.1 L658.8 926.9 L659.2 953.9 L659.5 982.1 L659.9 1008.2 L660.3 1032.9 L660.7 1057.3 L661.0 1079.5 L661.4 1097.5 L661.2 1110.5 L660.5 1119.7 L660.7 1126.1 L662.9 1130.8 L668.6 1130.9 L676.7 1130.9 L684.9 1130.9 L690.5 1130.8 L692.7 1130.9 L692.8 1130.9 L692.0 1130.9 L691.7 1124.3 L692.1 1108.4 L692.6 1086.3 L693.0 1061.6 L693.5 1038.0 L694.0 1015.0 L694.6 991.1 L695.1 968.4 L695.6 948.7 L696.0 932.4 L696.4 918.3 L696.7 906.9 L697.1 898.2 L697.4 893.1 L697.7 891.3 L698.0 891.1 L698.6 890.7 L699.6 889.9 L700.8 889.4 L702.1 889.6 L703.0 890.7 L703.6 891.7 L704.0 892.8 L704.2 896.2 L704.5 904.1 L704.9 918.1 L705.3 936.6 L705.6 957.4 L706.0 978.5 L706.4 1000.5 L706.8 1024.2 L707.1 1047.4 L707.5 1067.7 L707.9 1085.3 L708.2 1101.2 L708.6 1114.4 L709.0 1124.3 L706.7 1129.6 L702.7 1130.9 L702.2 1130.8 L710.5 1130.8 L733.8 1130.9 L767.8 1130.9 L801.8 1130.9 L825.0 1130.8" fill="none" stroke="#000" stroke-width="2.8" stroke-linejoin="round"/></g>
<text x="69.5" y="666.6" font-family="Liberation Sans, sans-serif" font-size="24" fill="#444">(b)</text>
<text x="253.6" y="680.6" font-family="Liberation Sans, sans-serif" font-size="25" font-weight="bold" fill="#111" textLength="38" lengthAdjust="spacingAndGlyphs">XVI</text>
<text transform="translate(41 883.7) rotate(-90)" font-family="Liberation Sans, sans-serif" font-size="29.5" font-weight="bold" fill="#111" text-anchor="middle">Intensity</text>
<rect x="61.4" y="1237.0" width="771.2" height="453.5" fill="none" stroke="#707070" stroke-width="1.3"/>
<path d="M61.4 1683.5V1697.7M92.2 1690.5V1696.3M123.0 1690.5V1696.3M153.9 1690.5V1696.3M184.7 1690.5V1696.3M215.5 1683.5V1697.7M246.3 1690.5V1696.3M277.1 1690.5V1696.3M308.0 1690.5V1696.3M338.8 1690.5V1696.3M369.6 1683.5V1697.7M400.4 1690.5V1696.3M431.2 1690.5V1696.3M462.1 1690.5V1696.3M492.9 1690.5V1696.3M523.7 1683.5V1697.7M554.5 1690.5V1696.3M585.3 1690.5V1696.3M616.2 1690.5V1696.3M647.0 1690.5V1696.3M677.8 1683.5V1697.7M708.6 1690.5V1696.3M739.4 1690.5V1696.3M770.3 1690.5V1696.3M801.1 1690.5V1696.3M831.9 1683.5V1697.7" stroke="#5e5e5e" stroke-width="1.25" fill="none"/>
<text transform="translate(61.4 1727.8) scale(0.93 1)" font-family="Liberation Sans, sans-serif" font-size="22.4" fill="#333" text-anchor="middle">0</text>
<text transform="translate(215.5 1727.8) scale(0.93 1)" font-family="Liberation Sans, sans-serif" font-size="22.4" fill="#333" text-anchor="middle">500</text>
<text transform="translate(369.6 1727.8) scale(0.93 1)" font-family="Liberation Sans, sans-serif" font-size="22.4" fill="#333" text-anchor="middle">1000</text>
<text transform="translate(523.7 1727.8) scale(0.93 1)" font-family="Liberation Sans, sans-serif" font-size="22.4" fill="#333" text-anchor="middle">1500</text>
<text transform="translate(677.8 1727.8) scale(0.93 1)" font-family="Liberation Sans, sans-serif" font-size="22.4" fill="#333" text-anchor="middle">2000</text>
<text transform="translate(831.9 1727.8) scale(0.93 1)" font-family="Liberation Sans, sans-serif" font-size="22.4" fill="#333" text-anchor="middle">2500</text>
<g clip-path="url(#cc)"><path d="M338.4 1654.9 L339.9 1433.2 L341.4 1410.9 L342.8 1433.2 L345.2 1529.9 L345.8 1403.5 L345.8 1402.1 L345.9 1400.6 L345.9 1399.2 L345.9 1397.7 L345.9 1396.3 L346.0 1394.9 L346.0 1393.4 L346.0 1392.0 L346.0 1390.6 L346.0 1389.0 L346.1 1387.4 L346.1 1385.9 L346.1 1384.3 L346.1 1382.7 L346.2 1381.2 L346.2 1379.6 L346.2 1378.1 L346.2 1376.5 L346.3 1374.9 L346.3 1373.4 L346.3 1371.8 L346.3 1370.3 L346.4 1368.8 L346.4 1367.3 L346.4 1365.8 L346.4 1364.3 L346.4 1362.7 L346.5 1361.2 L346.5 1359.7 L346.5 1358.2 L346.5 1356.7 L346.6 1355.2 L346.6 1353.7 L346.6 1352.1 L346.6 1350.6 L346.7 1349.2 L346.7 1347.7 L346.7 1346.3 L346.7 1344.8 L346.8 1343.4 L346.8 1341.9 L346.8 1340.5 L346.8 1339.0 L346.9 1337.6 L346.9 1336.1 L346.9 1334.7 L346.9 1333.2 L347.0 1331.8 L347.0 1330.3 L347.0 1328.9 L347.0 1327.4 L347.1 1325.9 L347.1 1324.5 L347.1 1323.0 L347.2 1321.6 L347.2 1320.1 L347.2 1318.6 L347.2 1317.2 L347.3 1315.7 L347.3 1314.2 L347.3 1312.8 L347.4 1311.4 L347.4 1310.0 L347.4 1308.6 L347.5 1307.1 L347.5 1305.7 L347.5 1304.3 L347.6 1302.9 L347.6 1301.5 L347.6 1300.0 L347.7 1298.5 L347.7 1297.1 L347.7 1295.6 L347.8 1294.1 L347.8 1292.7 L347.9 1291.2 L347.9 1289.7 L347.9 1288.2 L348.0 1286.7 L348.0 1285.1 L348.1 1283.6 L348.1 1282.0 L348.2 1280.5 L348.3 1279.1 L348.3 1277.8 L348.4 1276.4 L348.5 1275.1 L348.8 1275.0 L348.9 1276.6 L348.9 1278.1 L349.0 1279.7 L349.0 1281.3 L349.1 1282.9 L349.1 1284.4 L349.1 1285.9 L349.2 1287.4 L349.2 1288.9 L349.2 1290.4 L349.3 1291.9 L349.3 1293.4 L349.3 1294.9 L349.4 1296.5 L349.4 1298.0 L349.4 1299.5 L349.4 1301.0 L349.5 1302.5 L349.5 1304.0 L349.5 1305.5 L349.5 1307.0 L349.6 1308.4 L349.6 1309.9 L349.6 1311.4 L349.6 1312.9 L349.7 1314.4 L349.7 1315.9 L349.7 1317.5 L349.7 1319.0 L349.8 1320.5 L349.8 1322.0 L349.8 1323.6 L349.8 1325.1 L349.9 1326.6 L349.9 1328.1 L349.9 1329.6 L350.0 1331.2 L350.0 1332.7 L350.0 1334.1 L350.1 1335.5 L350.1 1336.9 L350.2 1338.3 L349.4 1339.8 L350.1 1341.2 L350.0 1342.6 L349.6 1344.0 L349.6 1345.5 L350.1 1346.9 L350.7 1348.3 L351.0 1348.6 L351.7 1347.2 L351.4 1346.0 L351.6 1347.0 L352.1 1348.6 L352.2 1350.3 L351.7 1352.0 L352.0 1353.4 L353.0 1354.8 L351.9 1356.2 L351.7 1357.7 L351.9 1359.1 L351.8 1360.6 L351.8 1362.2 L352.5 1363.8 L352.1 1365.3 L352.9 1366.9 L353.4 1368.3 L353.0 1369.8 L353.1 1371.3 L352.2 1372.8 L352.7 1374.2 L353.0 1375.6 L352.9 1377.0 L353.8 1378.3 L353.2 1379.7 L353.1 1381.3 L353.7 1382.9 L354.2 1384.6 L354.3 1385.7 L354.7 1386.8 L354.4 1388.7 L355.5 1390.0 L355.7 1391.4 L355.5 1393.2 L355.1 1395.0 L355.1 1396.8 L355.4 1398.6 L355.1 1400.1 L356.2 1401.5 L357.0 1403.4 L356.4 1404.7 L356.6 1405.4 L356.2 1405.2 L357.1 1403.9 L356.7 1402.2 L356.7 1400.5 L356.9 1399.0 L358.0 1397.6 L356.6 1396.0 L357.2 1394.5 L357.2 1393.1 L357.1 1391.7 L357.6 1390.3 L357.3 1388.9 L358.5 1387.6 L357.9 1386.2 L358.3 1384.6 L357.5 1383.0 L358.1 1381.4 L358.4 1379.9 L358.8 1378.3 L358.0 1376.7 L358.4 1375.1 L359.1 1373.6 L359.1 1372.0 L358.2 1370.3 L358.8 1368.8 L359.2 1367.2 L358.7 1365.8 L359.2 1364.4 L359.3 1363.0 L359.8 1361.7 L359.2 1360.3 L359.5 1358.9 L359.0 1357.3 L359.7 1355.7 L359.1 1354.1 L359.5 1352.5 L359.3 1350.9 L359.3 1349.6 L359.1 1348.2 L359.3 1346.8 L359.8 1345.4 L359.4 1344.0 L359.1 1342.6 L360.4 1341.2 L359.6 1339.7 L360.7 1338.2 L360.2 1336.7 L359.9 1335.1 L360.8 1333.8 L360.9 1332.3 L360.0 1330.9 L359.8 1329.4 L360.8 1328.1 L360.8 1327.3 L360.8 1327.6 L360.7 1329.4 L361.4 1331.1 L361.2 1332.5 L361.8 1333.9 L361.7 1335.3 L361.8 1336.7 L361.8 1338.3 L361.9 1339.9 L361.3 1341.6 L362.4 1343.2 L362.4 1344.9 L362.4 1346.6 L361.4 1348.3 L362.1 1349.9 L362.9 1351.4 L361.8 1353.0 L361.8 1354.5 L361.9 1356.0 L362.7 1357.5 L362.1 1359.1 L362.9 1360.6 L363.2 1362.1 L362.1 1363.6 L362.2 1365.1 L363.2 1366.6 L362.2 1368.2 L363.6 1369.8 L363.2 1371.3 L363.7 1372.9 L363.5 1374.5 L363.5 1376.1 L362.7 1377.5 L363.4 1379.0 L363.7 1380.4 L363.7 1381.9 L363.6 1383.3 L362.7 1384.8 L363.2 1386.1 L364.1 1387.5 L363.2 1388.9 L363.5 1390.2 L363.7 1391.6 L363.8 1393.2 L363.7 1394.9 L363.6 1396.6 L364.2 1397.8 L364.2 1399.0 L364.6 1400.3 L364.6 1401.6 L365.2 1402.9 L365.7 1404.4 L366.1 1405.0 L366.8 1404.0 L366.3 1402.5 L367.5 1401.3 L367.0 1399.4 L367.8 1397.8 L367.8 1396.0 L368.4 1394.3 L368.2 1393.0 L368.0 1391.6 L368.5 1390.0 L369.4 1389.1 L370.2 1388.4 L371.0 1387.4 L370.5 1385.4 L370.7 1384.2 L371.1 1382.9 L371.4 1381.1 L371.6 1379.4 L371.9 1377.6 L372.6 1375.9 L372.7 1374.6 L373.7 1373.7 L374.0 1373.0 L373.9 1375.0 L374.0 1376.1 L374.5 1377.2 L374.3 1378.5 L375.9 1379.9 L375.7 1381.5 L374.7 1383.2 L375.6 1384.7 L376.1 1386.2 L375.4 1387.9 L376.0 1389.1 L376.0 1390.3 L376.5 1391.6 L376.8 1393.2 L377.2 1394.8 L376.5 1396.7 L376.2 1398.5 L376.3 1400.0 L376.8 1401.5 L377.2 1403.6 L377.7 1402.5 L377.8 1400.7 L379.0 1398.9 L378.6 1397.3 L378.8 1395.6 L377.9 1393.9 L378.3 1392.3 L378.8 1390.9 L379.3 1389.4 L379.5 1387.9 L379.5 1386.4 L378.9 1384.9 L379.1 1383.2 L380.0 1381.7 L380.3 1380.0 L379.6 1378.4 L379.3 1376.4 L380.2 1374.7 L380.4 1374.3 L381.1 1376.0 L381.5 1377.5 L381.4 1379.1 L381.3 1380.9 L382.3 1382.5 L381.8 1384.1 L381.4 1385.7 L381.9 1387.3 L383.0 1388.7 L382.9 1390.0 L383.5 1391.3 L382.7 1392.6 L383.1 1394.5 L384.0 1396.2 L383.7 1397.8 L383.9 1399.3 L384.5 1400.6 L384.8 1399.4 L384.9 1397.9 L385.2 1396.4 L386.5 1394.8 L385.7 1392.8 L386.2 1391.3 L386.4 1389.8 L386.8 1388.1 L387.4 1389.8 L388.0 1391.1 L388.0 1392.5 L388.1 1394.3 L388.3 1396.0 L387.6 1397.9 L388.8 1399.4 L389.0 1400.7 L388.7 1402.1 L389.6 1403.3 L390.0 1404.2 L390.4 1404.9 L391.8 1405.1 L391.7 1406.6 L393.2 1408.0 L393.4 1409.2 L393.0 1410.7 L393.1 1411.9 L394.0 1412.9 L395.4 1414.2 L395.8 1415.3 L396.3 1414.3 L397.4 1413.6 L396.9 1412.2 L397.2 1410.9 L398.2 1409.9 L398.8 1408.1 L399.3 1408.1 L399.7 1409.1 L399.3 1410.4 L400.3 1411.6 L399.7 1413.0 L400.8 1414.2 L400.8 1415.8 L401.2 1417.4 L400.8 1419.1 L401.0 1420.6 L402.0 1422.1 L401.7 1423.7 L401.7 1425.5 L402.3 1427.3 L402.4 1428.6 L402.8 1429.8 L403.2 1431.7 L404.3 1433.1 L405.0 1434.5 L406.0 1436.0 L405.3 1438.1 L406.0 1439.6 L407.2 1441.1 L406.9 1443.2 L407.3 1444.2 L408.8 1445.0 L408.2 1446.7 L409.3 1447.9 L409.9 1449.6 L410.5 1451.3 L410.7 1453.1 L411.8 1454.6 L412.3 1456.2 L412.6 1457.7 L413.0 1459.9 L413.6 1460.4 L413.2 1460.0 L414.0 1460.3 L414.0 1459.3 L414.3 1460.0 L414.6 1461.5 L414.6 1463.5 L416.4 1464.1 L416.6 1465.4 L415.7 1467.1 L415.9 1468.5 L416.1 1470.3 L417.2 1471.9 L417.6 1473.4 L418.1 1474.9 L416.8 1476.5 L417.1 1477.9 L417.6 1479.3 L417.2 1480.7 L418.3 1482.1 L417.8 1483.6 L417.1 1485.1 L418.8 1486.6 L417.8 1488.1 L418.8 1489.5 L417.5 1491.0 L417.6 1492.4 L418.0 1493.9 L418.6 1495.4 L419.5 1497.0 L418.7 1498.7 L419.1 1500.0 L419.2 1501.5 L420.0 1502.8 L418.5 1504.3 L419.5 1505.6 L419.6 1506.9 L419.4 1508.7 L419.6 1510.5 L420.6 1511.5 L420.9 1512.7 L421.9 1514.2 L422.2 1511.9 L423.5 1511.0 L422.0 1509.3 L423.8 1508.4 L423.6 1506.9 L424.0 1505.4 L425.0 1504.1 L423.8 1502.6 L424.4 1501.4 L425.4 1500.5 L425.7 1499.1 L426.0 1499.7 L425.7 1501.0 L426.0 1502.2 L425.8 1504.0 L426.4 1505.8 L427.1 1507.0 L427.4 1508.3 L427.9 1509.6 L428.0 1510.9 L428.3 1512.1 L426.7 1513.7 L428.6 1514.7 L427.9 1516.1 L429.1 1517.2 L427.8 1518.9 L428.9 1520.1 L429.9 1521.3 L429.0 1523.0 L429.3 1524.5 L429.4 1526.0 L431.2 1527.1 L431.1 1528.6 L430.9 1530.2 L432.0 1531.4 L431.7 1533.0 L431.7 1534.4 L431.8 1535.9 L431.9 1537.4 L432.3 1538.9 L433.4 1540.3 L432.6 1542.0 L433.4 1543.5 L434.1 1545.0 L434.6 1546.5 L433.6 1548.2 L434.3 1549.5 L435.0 1550.7 L434.4 1552.2 L434.9 1553.6 L435.4 1555.0 L435.8 1556.9 L436.7 1557.3 L437.6 1557.2 L438.0 1558.1 L438.9 1558.7 L440.8 1559.7 L440.2 1561.3 L441.7 1562.0 L440.9 1563.7 L443.0 1564.4 L443.0 1565.9 L442.3 1567.6 L443.2 1568.8 L443.6 1570.2 L445.0 1571.3 L445.6 1572.6 L444.4 1574.6 L446.6 1575.6 L446.8 1577.1 L446.8 1578.8 L446.5 1580.6 L447.2 1582.0 L447.0 1583.7 L447.9 1585.1 L449.0 1586.4 L448.5 1588.2 L450.1 1589.4 L451.1 1590.8 L449.8 1592.8 L450.4 1594.3 L451.2 1595.7 L452.0 1597.0 L453.0 1598.2 L453.4 1599.6 L454.2 1600.9 L454.6 1602.2 L454.3 1603.7 L454.0 1605.3 L454.4 1606.5 L455.6 1607.4 L455.8 1608.7 L456.7 1609.6 L456.6 1611.0 L457.3 1611.9 L458.0 1614.1 L459.5 1615.5 L461.0 1616.7 L462.3 1617.9 L464.1 1618.8 L464.6 1620.5 L465.5 1622.0 L466.9 1623.0 L467.5 1624.0 L468.1 1624.9 L468.9 1624.4 L470.2 1624.5 L471.0 1623.0 L472.6 1623.4 L473.2 1622.5 L473.9 1622.3 L474.7 1622.6 L475.5 1623.3 L476.5 1623.8 L476.3 1625.7 L477.5 1626.8 L479.1 1627.8 L480.3 1629.2 L482.3 1629.7 L482.9 1631.1 L484.0 1630.7 L484.8 1630.9 L485.7 1631.1 L486.3 1629.9 L487.1 1629.7 L488.5 1630.1 L489.2 1629.1 L490.4 1629.2 L490.9 1627.4 L492.0 1627.3 L492.2 1629.3 L493.4 1629.5 L494.3 1630.4 L495.3 1631.5 L496.5 1632.3 L497.2 1633.8 L498.6 1634.5 L499.6 1635.8 L501.3 1636.7 L502.4 1638.4 L502.8 1639.5 L503.6 1640.4 L503.7 1641.7 L504.7 1642.7 L505.4 1643.9 L505.9 1645.1 L506.4 1646.4 L506.5 1648.0 L507.3 1649.2 L508.1 1650.5 L509.0 1651.7 L510.1 1652.8 L510.4 1654.5 L511.7 1655.6 L512.5 1657.0 L513.3 1658.5 L513.9 1660.1 L515.3 1661.1 L516.4 1662.3 L516.9 1664.0 L518.5 1664.7 L519.2 1666.2 L520.7 1667.0 L521.8 1668.2 L523.1 1669.2 L524.2 1670.3 L525.2 1671.6 L526.4 1672.6 L527.8 1673.3 L529.2 1673.9 L530.4 1674.8 L531.5 1675.8 L532.5 1676.9 L533.6 1677.7 L535.2 1677.9 L536.3 1678.8 L537.2 1679.9 L538.7 1680.0 L539.9 1680.7 L541.0 1681.5 L542.0 1682.6 L543.5 1682.8 L544.5 1683.8 L546.0 1684.1 L547.0 1685.1 L548.4 1685.3 L549.4 1686.2 L550.6 1686.9 L551.6 1687.4 L552.9 1687.5 L554.7 1688.6 L556.6 1688.5 L558.3 1689.1 L560.0 1689.3 L561.7 1689.5 L563.6 1688.9 L565.3 1689.1 L567.1 1689.5 L568.9 1689.6 L570.7 1688.9 L572.5 1688.9 L574.3 1688.1 L575.9 1687.2 L577.7 1686.5 L579.5 1685.7 L581.4 1685.2 L583.5 1685.2 L585.3 1684.3 L587.1 1683.4 L588.8 1681.9 L589.2 1680.6 L590.1 1679.9 L590.6 1678.8 L591.3 1677.8 L591.4 1676.3 L592.5 1675.3 L592.5 1673.6 L593.3 1672.1 L593.9 1670.9 L594.3 1669.6 L594.7 1668.3 L594.7 1666.6 L595.1 1664.9 L595.9 1663.4 L595.6 1661.8 L596.6 1660.5 L596.4 1658.9 L596.8 1657.5 L597.0 1655.9 L597.6 1654.4 L597.5 1652.7 L597.8 1651.1 L598.0 1649.5 L598.4 1647.9 L599.0 1646.3 L599.6 1644.8 L599.2 1643.1 L599.8 1641.6 L600.0 1640.0 L600.3 1638.5 L600.6 1637.0 L600.7 1635.5 L601.3 1634.0 L601.4 1632.5 L601.6 1631.0 L601.9 1629.5 L602.9 1628.1 L603.0 1626.6 L603.5 1625.2 L603.7 1623.7 L603.9 1622.2 L603.8 1620.6 L604.0 1619.1 L605.0 1617.7 L605.0 1616.2 L605.4 1614.7 L605.2 1613.1 L606.0 1611.8 L606.1 1610.2 L606.1 1608.7 L606.5 1607.2 L607.4 1605.8 L607.4 1604.2 L607.3 1602.6 L607.5 1601.1 L608.4 1599.7 L608.4 1598.1 L608.8 1596.6 L608.8 1595.0 L609.1 1593.5 L609.7 1592.0 L609.9 1590.5 L610.0 1588.9 L610.3 1587.5 L610.8 1586.0 L610.8 1584.5 L611.1 1583.1 L611.7 1581.8 L611.7 1580.3 L612.5 1579.0 L612.8 1577.7 L613.1 1576.4 L613.6 1575.1 L613.3 1573.7 L613.9 1572.1 L614.3 1570.4 L614.4 1568.7 L615.4 1567.2 L615.2 1565.5 L616.3 1564.1 L616.4 1562.5 L617.1 1561.1 L616.8 1559.4 L617.8 1558.1 L618.2 1556.7 L618.5 1555.3 L618.7 1553.9 L619.2 1552.6 L619.5 1551.2 L620.1 1550.1 L620.3 1548.9 L620.7 1547.6 L621.2 1545.9 L622.0 1544.2 L622.5 1542.5 L623.4 1540.9 L623.8 1539.2 L623.9 1537.2 L625.1 1536.2 L624.5 1534.6 L625.4 1533.4 L626.0 1532.0 L626.8 1530.8 L625.9 1528.9 L626.4 1527.6 L626.9 1526.3 L628.3 1525.2 L627.9 1523.2 L629.3 1521.8 L630.4 1521.0 L630.1 1519.4 L631.0 1518.3 L631.4 1519.7 L632.2 1520.7 L632.6 1521.9 L633.2 1521.8 L634.2 1522.2 L634.6 1520.5 L636.6 1520.1 L636.7 1518.3 L637.6 1518.4 L638.0 1519.3 L638.6 1520.2 L641.2 1520.4 L640.4 1523.0 L642.8 1523.5 L642.2 1525.8 L643.4 1526.8 L645.3 1527.5 L645.3 1529.6 L646.4 1531.5 L647.1 1532.7 L647.2 1534.1 L648.0 1535.5 L648.0 1537.2 L648.3 1538.9 L650.2 1540.1 L649.3 1542.1 L649.6 1543.7 L649.8 1545.2 L651.0 1546.3 L651.5 1547.4 L652.9 1548.1 L653.4 1549.2 L652.7 1551.1 L655.5 1551.8 L655.3 1554.4 L657.6 1554.6 L657.9 1555.7 L658.3 1556.2 L659.7 1555.3 L659.5 1556.5 L659.3 1558.4 L660.5 1559.7 L661.3 1561.3 L661.7 1562.8 L660.0 1564.6 L662.0 1565.8 L661.0 1567.6 L661.2 1569.3 L662.2 1570.8 L661.8 1572.4 L661.7 1574.0 L663.0 1575.4 L663.2 1577.1 L662.0 1579.2 L664.1 1580.9 L664.1 1582.4 L664.4 1582.8 L663.9 1583.8 L664.1 1584.3 L664.6 1584.5 L665.3 1584.7 L665.8 1585.0 L667.2 1584.7 L666.5 1586.1 L667.2 1586.2 L667.0 1587.3 L668.2 1586.9 L669.3 1586.9 L669.0 1587.9 L668.2 1589.1 L669.4 1588.9 L669.2 1589.7 L671.0 1589.3 L670.9 1590.0 L671.0 1590.6 L670.6 1591.5 L671.9 1591.7 L669.8 1593.1 L671.7 1593.1 L672.9 1593.4 L672.4 1594.1 L671.8 1594.9 L671.6 1595.6 L671.2 1596.3 L673.5 1596.2 L671.1 1597.5 L671.6 1597.9 L672.8 1598.2 L672.6 1598.9 L673.7 1599.2 L674.4 1599.6 L674.9 1600.1 L672.4 1601.5 L672.7 1602.0 L674.2 1602.2 L673.9 1602.9 L674.5 1603.3 L674.0 1604.1 L675.9 1604.1 L674.2 1605.2 L676.0 1605.2 L675.1 1606.2 L675.2 1606.7 L674.7 1607.5 L675.6 1607.8 L677.0 1607.8 L675.5 1609.1 L677.0 1609.2 L676.8 1610.0 L676.4 1610.9 L676.3 1611.8 L678.9 1610.9 L678.3 1612.0 L678.9 1612.2 L677.9 1613.6 L679.4 1613.3 L678.6 1614.8 L679.3 1615.1 L680.6 1614.9 L680.2 1616.0 L680.7 1616.3 L682.5 1615.9 L682.4 1616.8 L683.2 1617.1 L681.7 1618.8 L683.2 1618.7 L683.8 1619.2 L683.0 1620.3 L682.6 1621.3 L685.2 1620.8 L684.0 1622.1 L685.5 1622.1 L684.3 1623.4 L684.7 1623.9 L684.9 1624.6 L685.7 1624.9 L687.2 1624.9 L685.5 1626.4 L687.8 1626.1 L686.7 1627.2 L685.9 1628.1 L688.0 1627.9 L687.6 1628.6 L687.2 1629.4 L687.5 1629.9 L688.6 1630.1 L688.6 1630.8 L687.4 1631.8 L688.1 1632.2 L689.8 1632.1 L688.6 1633.2 L688.4 1634.0 L689.3 1634.3 L688.9 1635.3 L690.7 1634.6 L690.9 1634.9 L691.3 1636.8 L691.8 1634.9 L691.6 1634.4 L691.8 1634.3 L694.0 1634.6 L694.1 1633.8 L692.5 1632.6 L694.2 1632.5 L692.8 1631.6 L694.1 1631.3 L692.5 1630.3 L694.3 1630.2 L694.9 1629.7 L694.3 1629.0 L694.7 1628.5 L693.3 1627.7 L694.4 1627.3 L695.5 1626.9 L694.3 1626.1 L695.5 1625.7 L695.2 1625.1 L695.9 1624.6 L695.8 1624.0 L694.6 1623.2 L696.2 1622.8 L696.3 1622.2 L695.2 1621.4 L696.1 1621.0 L695.3 1620.2 L695.9 1619.7 L695.2 1619.0 L695.7 1618.4 L695.3 1617.8 L697.1 1617.4 L696.4 1616.7 L696.4 1616.1 L696.2 1615.5 L696.1 1614.9 L695.3 1614.2 L696.8 1613.8 L696.3 1613.1 L696.1 1612.5 L696.6 1612.0 L695.6 1611.3 L697.2 1610.9 L697.6 1610.3 L696.5 1609.6 L695.9 1608.9 L698.4 1608.6 L697.4 1607.9 L696.6 1607.2 L696.0 1606.6 L697.5 1606.2 L696.5 1605.5 L698.6 1605.1 L698.1 1604.5 L696.9 1603.7 L697.3 1603.2 L696.4 1602.5 L696.9 1602.0 L698.0 1601.5 L699.0 1601.0 L697.7 1600.3 L699.4 1599.9 L697.3 1599.0 L696.9 1598.4 L699.2 1598.1 L697.9 1597.3 L697.7 1596.7 L698.2 1596.2 L698.8 1595.7 L697.7 1594.9 L697.4 1594.3 L698.9 1593.9 L699.2 1593.3 L698.9 1592.7 L697.8 1592.0 L700.0 1591.6 L698.7 1590.9 L699.1 1590.3 L700.2 1589.8 L698.0 1589.0 L699.2 1588.5 L699.0 1587.9 L699.7 1587.3 L698.6 1586.6 L698.7 1586.0 L698.7 1585.4 L699.7 1584.9 L699.0 1584.3 L700.9 1583.9 L700.8 1583.3 L700.5 1582.6 L699.6 1581.9 L700.9 1581.5 L700.2 1580.8 L700.9 1580.3 L701.4 1579.7 L699.0 1578.9 L701.0 1578.5 L701.4 1578.0 L700.0 1577.2 L699.9 1576.6 L699.0 1575.9 L701.6 1575.6 L699.6 1574.8 L699.1 1574.1 L699.4 1573.5 L700.7 1573.0 L701.3 1572.4 L702.0 1571.9 L701.3 1571.2 L699.7 1570.5 L702.3 1570.1 L702.1 1569.5 L702.0 1568.8 L702.3 1568.2 L702.2 1567.6 L701.8 1567.0 L702.1 1566.4 L700.0 1565.5 L702.9 1565.2 L700.0 1564.3 L701.3 1563.8 L701.8 1563.2 L701.7 1562.6 L701.3 1561.9 L701.8 1561.4 L701.3 1560.7 L702.4 1560.2 L700.6 1559.4 L701.6 1558.9 L702.5 1558.4 L702.2 1556.8 L701.2 1555.2 L702.5 1553.8 L703.9 1552.4 L703.0 1550.8 L703.7 1549.3 L703.0 1547.7 L704.7 1546.3 L703.7 1544.6 L704.7 1543.1 L704.4 1541.5 L705.1 1540.0 L704.2 1538.5 L705.7 1537.3 L706.1 1536.0 L706.0 1534.5 L706.2 1533.2 L705.0 1531.6 L705.2 1530.2 L706.8 1528.8 L706.9 1527.2 L706.5 1525.5 L706.6 1523.9 L705.4 1522.1 L707.1 1520.8 L706.0 1519.1 L707.4 1517.8 L706.8 1516.3 L708.0 1515.0 L707.0 1513.3 L707.7 1511.9 L709.0 1510.6 L708.7 1509.1 L707.7 1507.5 L710.1 1506.3 L707.8 1504.5 L709.0 1503.2 L709.9 1501.9 L709.7 1500.4 L710.0 1499.1 L710.8 1497.7 L708.8 1496.1 L710.0 1494.8 L709.5 1493.1 L710.5 1491.4 L710.2 1489.7 L710.8 1488.0 L711.3 1486.7 L710.6 1485.4 L710.5 1484.1 L711.0 1482.5 L710.1 1480.9 L712.1 1479.5 L710.9 1477.8 L711.3 1476.2 L712.3 1474.6 L712.4 1472.9 L713.0 1471.3 L712.3 1469.6 L712.0 1468.0 L711.9 1466.3 L712.9 1464.8 L712.6 1463.3 L711.2 1461.7 L712.7 1460.3 L713.1 1458.8 L712.4 1457.3 L713.8 1456.0 L713.7 1454.4 L714.2 1453.0 L712.7 1451.4 L713.8 1450.1 L713.7 1448.7 L713.2 1447.3 L713.3 1445.6 L713.0 1443.8 L715.2 1442.4 L715.1 1441.3 L715.5 1443.0 L716.1 1444.9 L715.7 1446.9 L716.2 1447.4 L717.5 1446.8 L716.1 1444.0 L717.0 1443.0 L718.5 1442.1 L718.8 1440.3 L718.2 1438.2 L719.2 1439.7 L718.3 1441.6 L718.8 1443.6 L720.5 1443.7 L719.4 1444.5 L720.7 1444.8 L721.6 1445.3 L719.2 1446.1 L721.6 1446.4 L719.1 1447.3 L720.7 1447.6 L719.6 1448.3 L720.8 1448.7 L719.6 1449.4 L720.1 1450.0 L721.8 1450.5 L722.3 1451.1 L721.9 1451.8 L720.7 1452.5 L722.2 1453.1 L722.4 1453.7 L721.5 1454.3 L722.5 1454.9 L721.7 1455.5 L720.8 1456.1 L722.0 1456.6 L720.3 1457.2 L722.0 1457.7 L721.7 1458.3 L721.6 1458.9 L720.3 1459.5 L722.7 1460.0 L720.4 1460.7 L722.6 1461.2 L720.0 1461.9 L721.2 1462.5 L720.7 1463.1 L721.4 1463.7 L721.0 1464.3 L720.9 1464.9 L722.6 1465.5 L722.5 1466.1 L720.3 1466.8 L722.4 1467.3 L722.4 1467.9 L723.0 1468.5 L721.0 1469.2 L720.8 1469.8 L723.1 1470.3 L720.7 1471.0 L722.9 1471.4 L721.9 1472.1 L721.8 1472.7 L722.7 1473.2 L722.5 1473.7 L722.0 1474.4 L721.2 1475.0 L722.9 1475.4 L723.1 1476.0 L721.0 1477.1 L723.2 1477.3 L723.8 1477.7 L721.6 1479.0 L721.8 1479.6 L723.8 1478.8 L723.5 1479.9 L724.6 1480.6 L723.7 1478.9 L724.0 1478.5 L723.1 1477.7 L723.5 1477.2 L725.0 1476.8 L724.8 1476.2 L725.9 1475.7 L724.7 1474.9 L724.3 1474.3 L724.7 1473.7 L724.0 1473.0 L725.0 1472.5 L725.7 1471.9 L724.2 1471.2 L725.5 1470.6 L726.7 1470.1 L725.9 1469.5 L724.8 1468.8 L725.8 1468.3 L724.2 1467.6 L724.3 1467.0 L726.4 1466.5 L726.1 1465.9 L725.9 1465.3 L725.8 1464.7 L725.2 1464.0 L726.7 1463.5 L725.8 1462.8 L726.8 1462.3 L726.6 1461.7 L725.4 1460.9 L727.0 1460.6 L725.7 1459.7 L726.3 1459.7 L725.5 1460.3 L725.2 1460.7 L726.3 1461.0 L727.6 1461.5 L727.8 1462.2 L725.8 1463.0 L727.5 1463.5 L728.0 1464.1 L726.8 1464.9 L727.3 1465.4 L726.4 1466.0 L728.1 1466.5 L727.1 1467.1 L725.8 1467.8 L728.2 1468.2 L727.6 1468.8 L727.6 1469.4 L728.5 1469.9 L728.5 1470.5 L728.0 1471.2 L727.3 1471.8 L728.6 1472.4 L727.2 1473.1 L728.0 1473.6 L728.3 1474.2 L726.6 1475.0 L727.0 1475.5 L727.9 1476.1 L728.5 1476.7 L727.8 1477.3 L727.5 1478.0 L727.2 1478.6 L727.5 1479.2 L729.6 1479.7 L729.1 1480.3 L726.7 1481.1 L728.1 1481.7 L728.2 1482.3 L729.5 1482.8 L727.5 1483.6 L727.4 1484.2 L729.0 1484.7 L729.2 1485.3 L729.9 1485.8 L729.2 1486.5 L728.6 1487.2 L728.9 1487.8 L730.3 1488.3 L730.0 1488.9 L729.7 1489.6 L728.0 1490.4 L727.6 1491.0 L728.0 1491.6 L729.1 1492.2 L729.6 1492.8 L728.0 1493.5 L728.5 1494.1 L728.9 1494.7 L728.8 1495.4 L728.1 1496.1 L729.4 1496.6 L730.2 1497.2 L728.9 1497.9 L728.3 1498.5 L730.5 1498.9 L730.1 1499.5 L729.0 1500.2 L728.9 1500.8 L731.2 1501.1 L729.0 1501.9 L730.7 1502.3 L731.1 1502.9 L731.4 1503.6 L730.2 1504.3 L730.3 1504.9 L731.1 1505.5 L729.6 1506.2 L731.2 1506.8 L729.0 1507.6 L728.9 1508.2 L730.9 1508.7 L731.9 1509.2 L731.8 1509.9 L730.4 1510.6 L731.0 1511.2 L729.8 1511.9 L730.9 1512.4 L731.4 1513.0 L731.8 1513.6 L729.3 1514.4 L730.0 1515.0 L730.3 1515.6 L731.7 1516.1 L731.1 1516.7 L730.2 1517.4 L730.6 1518.0 L731.7 1518.5 L731.6 1519.1 L730.2 1519.8 L732.5 1520.2 L730.8 1520.9 L730.7 1521.5 L731.3 1522.0 L731.2 1522.6 L730.2 1523.3 L732.0 1523.7 L730.8 1524.4 L731.0 1525.0 L731.0 1525.7 L733.0 1525.7 L731.9 1527.4 L731.9 1526.1 L731.2 1525.5 L733.6 1525.3 L731.8 1524.4 L732.4 1523.8 L732.1 1523.0 L731.9 1521.6 L733.5 1522.1 L732.8 1523.3 L732.8 1523.9 L732.6 1524.6 L734.4 1525.1 L734.1 1525.8 L732.5 1526.6 L733.5 1527.1 L732.9 1527.8 L733.8 1528.4 L733.9 1529.0 L735.1 1529.6 L732.8 1530.4 L732.6 1531.0 L733.2 1531.6 L734.8 1532.1 L733.6 1532.7 L733.5 1533.3 L734.7 1533.8 L734.5 1534.3 L733.0 1535.0 L734.9 1535.4 L733.9 1536.1 L735.7 1536.5 L735.8 1537.1 L735.8 1537.7 L735.0 1538.4 L733.2 1539.1 L734.3 1539.6 L734.7 1540.2 L735.7 1540.7 L734.6 1541.5 L735.9 1542.0 L736.1 1542.5 L735.4 1543.2 L735.7 1543.8 L734.2 1544.5 L734.9 1545.1 L734.7 1545.7 L735.8 1546.1 L735.5 1546.8 L736.4 1547.2 L736.0 1547.9 L733.9 1548.7 L735.0 1549.2 L736.1 1549.6 L735.3 1550.3 L734.5 1551.0 L734.9 1551.6 L735.9 1552.0 L737.1 1552.3 L737.5 1552.8 L737.6 1553.3 L735.6 1554.5 L735.9 1555.0 L736.3 1555.5 L736.4 1556.1 L738.2 1556.1 L737.2 1557.1 L739.0 1557.1 L739.2 1557.7 L737.7 1558.9 L739.7 1558.8 L738.8 1559.8 L739.2 1560.3 L738.0 1561.4 L739.7 1561.4 L740.3 1561.7 L739.2 1562.8 L740.9 1562.7 L738.9 1564.3 L739.3 1564.7 L739.3 1565.3 L740.6 1565.5 L742.1 1565.5 L742.3 1566.1 L741.2 1567.4 L742.2 1567.5 L741.7 1568.4 L743.3 1568.2 L742.5 1569.2 L742.1 1570.2 L743.9 1570.0 L742.7 1571.3 L744.9 1570.9 L743.8 1572.2 L745.7 1571.8 L745.5 1572.6 L746.2 1573.0 L746.2 1573.7 L745.6 1574.8 L745.1 1575.8 L745.4 1576.4 L745.2 1577.0 L747.3 1576.8 L745.5 1578.0 L747.2 1578.0 L746.6 1578.7 L746.7 1579.4 L748.1 1579.6 L748.3 1580.3 L748.0 1581.0 L748.5 1581.6 L747.5 1582.5 L747.3 1583.2 L748.1 1583.7 L750.0 1583.7 L748.1 1585.0 L748.4 1585.6 L748.0 1586.4 L750.4 1586.0 L748.7 1587.7 L750.4 1587.2 L750.7 1588.1 L750.5 1586.7 L750.6 1586.7 L751.4 1586.5 L751.9 1586.1 L751.2 1585.2 L752.3 1584.8 L752.1 1584.1 L751.7 1583.4 L753.1 1583.1 L752.2 1582.3 L751.6 1581.5 L752.3 1581.0 L753.0 1580.5 L753.7 1580.1 L752.3 1579.0 L754.8 1579.2 L752.7 1577.9 L755.3 1578.2 L753.0 1576.4 L754.3 1576.1 L755.1 1575.5 L755.1 1576.9 L756.8 1576.4 L756.8 1577.1 L755.3 1578.4 L755.1 1579.1 L757.8 1579.0 L757.9 1579.7 L757.3 1580.5 L757.4 1581.1 L756.6 1581.8 L755.9 1582.6 L757.0 1582.9 L758.0 1583.3 L758.4 1583.8 L759.0 1584.2 L759.1 1584.8 L757.0 1586.0 L757.1 1586.6 L758.7 1586.9 L759.3 1587.4 L757.6 1588.6 L759.6 1588.5 L759.3 1589.2 L758.1 1590.2 L760.7 1589.7 L760.0 1590.7 L760.7 1590.8 L760.5 1591.6 L760.0 1593.2 L760.9 1593.6 L761.8 1593.3 L762.4 1593.6 L763.3 1592.2 L763.6 1593.4 L764.1 1593.5 L764.2 1594.3 L765.9 1593.6 L765.0 1594.9 L766.9 1594.4 L766.1 1595.4 L765.3 1596.3 L766.1 1596.6 L766.3 1597.2 L768.1 1597.2 L767.8 1598.0 L767.5 1598.7 L766.9 1599.5 L768.7 1599.5 L768.0 1600.3 L767.6 1601.0 L767.9 1601.5 L769.3 1601.6 L770.0 1602.0 L769.4 1602.8 L770.0 1603.1 L769.2 1604.1 L769.5 1604.6 L771.1 1604.7 L768.8 1606.3 L769.1 1606.7 L771.3 1606.4 L771.3 1607.0 L769.6 1608.3 L772.5 1607.8 L772.4 1608.5 L772.1 1609.4 L771.1 1610.6 L773.5 1610.1 L772.5 1611.3 L772.2 1612.2 L772.9 1612.6 L773.7 1612.9 L773.4 1613.8 L773.6 1614.4 L774.5 1614.7 L775.4 1614.8 L774.7 1615.8 L774.5 1616.6 L776.6 1616.0 L775.5 1617.3 L776.4 1617.4 L777.3 1617.5 L777.2 1618.3 L778.2 1618.3 L776.6 1620.0 L777.5 1620.1 L778.1 1620.4 L777.4 1621.5 L777.8 1621.9 L779.2 1621.6 L780.3 1621.3 L779.4 1622.8 L780.6 1622.6 L780.2 1623.9 L781.7 1623.1 L781.2 1625.3 L781.8 1625.7 L783.1 1624.0 L783.1 1626.0 L784.4 1624.1 L785.0 1624.5 L785.1 1625.9 L786.3 1625.5 L786.6 1626.4 L787.1 1626.8 L786.5 1628.0 L786.9 1628.5 L786.9 1629.2 L788.8 1628.6 L789.0 1629.1 L787.9 1630.4 L789.3 1630.2 L790.3 1630.3 L789.6 1631.4 L790.6 1631.5 L789.8 1632.6 L790.7 1632.7 L791.6 1632.8 L790.5 1634.3 L790.5 1635.1 L792.7 1634.3 L793.0 1635.0 L792.8 1636.0 L793.9 1635.7 L792.8 1637.9 L794.3 1637.2 L795.5 1636.7 L795.7 1637.4 L796.2 1637.8 L796.6 1638.2 L796.4 1639.5 L796.5 1640.5 L797.8 1639.6 L798.0 1640.3 L797.7 1641.6 L798.9 1640.7 L799.6 1640.7 L799.4 1642.4 L800.3 1642.2 L801.2 1641.8 L801.2 1643.2 L802.4 1641.9 L803.1 1641.7 L803.4 1642.3 L803.8 1642.7 L804.3 1644.4 L805.9 1643.7 L807.1 1643.8 L808.2 1644.4 L808.5 1646.3 L809.9 1646.3 L810.4 1647.8 L812.2 1647.6 L813.5 1648.1 L814.5 1649.0 L814.8 1650.7 L816.1 1650.9 L816.5 1652.0 L817.3 1652.7 L818.9 1652.3 L820.7 1652.0 L822.3 1654.3 L823.6 1654.8 L825.1 1654.5 L826.5 1654.9 L827.8 1655.8 L829.5 1655.3 L831.1 1655.0 L831.9 1657.4 L833.6 1656.8 L835.0 1656.9 L835.9 1658.4 L837.2 1658.9 L838.8 1658.3 L839.8 1659.4 L841.0 1660.3 L842.6 1659.7 L843.9 1660.0 L845.1 1661.3 L846.9 1660.0 L848.1 1661.6 L849.8 1660.9 L851.3 1661.5 L852.6 1662.8 L854.5 1661.7 L855.7 1663.8 L857.4 1663.7 L859.0 1664.5 L860.7 1664.6 L862.5 1664.4 L864.3 1664.3 L866.2 1663.9 L867.7 1666.0 L869.6 1665.9 L871.0 1665.1 L872.3 1665.2 L873.3 1666.8 L874.8 1665.6 L876.1 1665.4 L877.3 1665.7 L878.4 1667.0 L879.6 1667.3 L881.0 1666.3 L882.7 1667.5 L884.6 1667.6 L886.4 1668.0 L888.4 1667.2 L890.1 1668.8 L892.1 1667.6 L894.0 1667.8 L895.6 1669.2 L897.4 1670.1 L899.3 1669.9 L900.5 1670.4 L901.8 1670.6 L903.1 1670.4 L904.4 1671.1 L905.6 1671.4 L907.0 1671.3 L908.5 1670.0 L909.8 1670.5 L911.0 1671.1 L912.8 1671.5 L914.6 1671.6 L916.1 1672.7 L917.7 1672.4 L919.0 1673.2 L920.3 1673.5 L921.8 1671.7 L922.9 1672.4 L924.9 1674.2 L926.8 1672.4 L928.3 1672.9 L929.3 1672.2 L930.6 1672.7 L931.0 1671.7 L932.3 1671.4 L933.2 1670.4 L933.7 1668.9 L933.0 1666.8 L934.2 1665.2 L935.0 1663.6 L934.8 1662.1 L935.2 1661.0 L936.2 1660.2 L936.1 1659.2 L936.7 1658.5 L936.7 1659.5 L937.6 1661.1 L937.9 1662.4 L937.1 1663.9 L937.4 1665.5 L938.1 1667.0 L937.6 1668.6 L938.7 1670.0 L939.1 1671.3 L939.4 1672.5 L939.1 1673.8 L939.6 1675.0 L939.4 1676.3 L939.3 1677.7 L940.4 1679.7 L940.7 1681.2 L941.1 1680.2 L942.0 1679.4 L941.7 1678.0 L942.6 1676.7 L942.4 1675.2 L942.4 1673.8 L942.6 1672.1 L942.5 1670.4 L943.3 1668.7 L943.2 1667.0 L943.0 1665.3 L943.3 1663.6 L943.6 1662.2 L943.7 1660.8 L943.7 1659.4 L944.4 1657.7 L944.9 1656.0 L944.3 1654.1 L945.4 1652.4 L945.1 1650.8 L945.7 1649.3 L946.5 1647.3 L946.6 1646.1 L946.9 1647.4 L948.0 1648.3 L948.0 1649.5 L948.6 1651.1 L948.7 1652.7 L948.3 1654.5 L948.3 1656.3 L948.8 1657.9 L949.7 1659.4 L949.5 1661.1 L949.7 1662.7 L950.3 1664.5 L950.8 1666.3 L950.1 1668.2 L950.2 1670.0 L951.2 1671.4 L951.8 1672.9 L951.3 1674.3 L952.3 1675.1 L953.1 1675.9 L953.3 1677.1 L954.2 1675.9 L955.4 1675.6 L957.3 1676.0 L958.5 1676.1 L959.8 1676.1 L961.4 1675.6 L962.9 1676.6 L964.6 1676.0 L966.4 1675.9 L968.1 1676.7 L969.9 1676.1 L971.4 1676.4 L973.1 1676.3 L974.6 1676.6 L976.2 1677.1 L977.8 1676.4 L979.4 1677.5 L981.0 1677.0 L982.5 1677.5 L983.8 1677.1 L985.1 1677.1 L987.0 1677.4" fill="none" stroke="#0f70c0" stroke-width="2.8" stroke-dasharray="9.5 5" stroke-linejoin="round"/></g>
<g clip-path="url(#cc2)"><path d="M184.3 1654.9 L185.8 1433.2 L187.3 1410.9 L188.7 1433.2 L191.1 1529.9 L191.7 1403.5 L191.7 1402.1 L191.8 1400.6 L191.8 1399.2 L191.8 1397.7 L191.8 1396.3 L191.9 1394.9 L191.9 1393.4 L191.9 1392.0 L191.9 1390.6 L191.9 1389.0 L192.0 1387.4 L192.0 1385.9 L192.0 1384.3 L192.0 1382.7 L192.1 1381.2 L192.1 1379.6 L192.1 1378.1 L192.1 1376.5 L192.2 1374.9 L192.2 1373.4 L192.2 1371.8 L192.2 1370.3 L192.3 1368.8 L192.3 1367.3 L192.3 1365.8 L192.3 1364.3 L192.3 1362.7 L192.4 1361.2 L192.4 1359.7 L192.4 1358.2 L192.4 1356.7 L192.5 1355.2 L192.5 1353.7 L192.5 1352.1 L192.5 1350.6 L192.6 1349.2 L192.6 1347.7 L192.6 1346.3 L192.6 1344.8 L192.7 1343.4 L192.7 1341.9 L192.7 1340.5 L192.7 1339.0 L192.8 1337.6 L192.8 1336.1 L192.8 1334.7 L192.8 1333.2 L192.9 1331.8 L192.9 1330.3 L192.9 1328.9 L192.9 1327.4 L193.0 1325.9 L193.0 1324.5 L193.0 1323.0 L193.1 1321.6 L193.1 1320.1 L193.1 1318.6 L193.1 1317.2 L193.2 1315.7 L193.2 1314.2 L193.2 1312.8 L193.3 1311.4 L193.3 1310.0 L193.3 1308.6 L193.4 1307.1 L193.4 1305.7 L193.4 1304.3 L193.5 1302.9 L193.5 1301.5 L193.5 1300.0 L193.6 1298.5 L193.6 1297.1 L193.6 1295.6 L193.7 1294.1 L193.7 1292.7 L193.8 1291.2 L193.8 1289.7 L193.8 1288.2 L193.9 1286.7 L193.9 1285.1 L194.0 1283.6 L194.0 1282.0 L194.1 1280.5 L194.2 1279.1 L194.2 1277.8 L194.3 1276.4 L194.4 1275.1 L194.7 1275.0 L194.8 1276.6 L194.8 1278.1 L194.9 1279.7 L194.9 1281.3 L195.0 1282.9 L195.0 1284.4 L195.0 1285.9 L195.1 1287.4 L195.1 1288.9 L195.1 1290.4 L195.2 1291.9 L195.2 1293.4 L195.2 1294.9 L195.3 1296.5 L195.3 1298.0 L195.3 1299.5 L195.3 1301.0 L195.4 1302.5 L195.4 1304.0 L195.4 1305.5 L195.4 1307.0 L195.5 1308.4 L195.5 1309.9 L195.5 1311.4 L195.5 1312.9 L195.6 1314.4 L195.6 1315.9 L195.6 1317.5 L195.6 1319.0 L195.7 1320.5 L195.7 1322.0 L195.7 1323.6 L195.7 1325.1 L195.8 1326.6 L195.8 1328.1 L195.8 1329.6 L195.9 1331.2 L195.9 1332.7 L195.9 1334.1 L196.0 1335.5 L196.0 1336.9 L196.1 1338.3 L195.3 1339.8 L196.0 1341.2 L195.9 1342.6 L195.5 1344.0 L195.5 1345.5 L196.0 1346.9 L196.6 1348.3 L196.9 1348.6 L197.6 1347.2 L197.3 1346.0 L197.5 1347.0 L198.0 1348.6 L198.1 1350.3 L197.6 1352.0 L197.9 1353.4 L198.9 1354.8 L197.8 1356.2 L197.6 1357.7 L197.8 1359.1 L197.7 1360.6 L197.7 1362.2 L198.4 1363.8 L198.0 1365.3 L198.8 1366.9 L199.3 1368.3 L198.9 1369.8 L199.0 1371.3 L198.1 1372.8 L198.6 1374.2 L198.9 1375.6 L198.8 1377.0 L199.7 1378.3 L199.1 1379.7 L199.0 1381.3 L199.6 1382.9 L200.1 1384.6 L200.2 1385.7 L200.6 1386.8 L200.3 1388.7 L201.4 1390.0 L201.6 1391.4 L201.4 1393.2 L201.0 1395.0 L201.0 1396.8 L201.3 1398.6 L201.0 1400.1 L202.1 1401.5 L202.9 1403.4 L202.3 1404.7 L202.5 1405.4 L202.1 1405.2 L203.0 1403.9 L202.6 1402.2 L202.6 1400.5 L202.8 1399.0 L203.9 1397.6 L202.5 1396.0 L203.1 1394.5 L203.1 1393.1 L203.0 1391.7 L203.5 1390.3 L203.2 1388.9 L204.4 1387.6 L203.8 1386.2 L204.2 1384.6 L203.4 1383.0 L204.0 1381.4 L204.3 1379.9 L204.7 1378.3 L203.9 1376.7 L204.3 1375.1 L205.0 1373.6 L205.0 1372.0 L204.1 1370.3 L204.7 1368.8 L205.1 1367.2 L204.6 1365.8 L205.1 1364.4 L205.2 1363.0 L205.7 1361.7 L205.1 1360.3 L205.4 1358.9 L204.9 1357.3 L205.6 1355.7 L205.0 1354.1 L205.4 1352.5 L205.2 1350.9 L205.2 1349.6 L205.0 1348.2 L205.2 1346.8 L205.7 1345.4 L205.3 1344.0 L205.0 1342.6 L206.3 1341.2 L205.5 1339.7 L206.6 1338.2 L206.1 1336.7 L205.8 1335.1 L206.7 1333.8 L206.8 1332.3 L205.9 1330.9 L205.7 1329.4 L206.7 1328.1 L206.7 1327.3 L206.7 1327.6 L206.6 1329.4 L207.3 1331.1 L207.1 1332.5 L207.7 1333.9 L207.6 1335.3 L207.7 1336.7 L207.7 1338.3 L207.8 1339.9 L207.2 1341.6 L208.3 1343.2 L208.3 1344.9 L208.3 1346.6 L207.3 1348.3 L208.0 1349.9 L208.8 1351.4 L207.7 1353.0 L207.7 1354.5 L207.8 1356.0 L208.6 1357.5 L208.0 1359.1 L208.8 1360.6 L209.1 1362.1 L208.0 1363.6 L208.1 1365.1 L209.1 1366.6 L208.1 1368.2 L209.5 1369.8 L209.1 1371.3 L209.6 1372.9 L209.4 1374.5 L209.4 1376.1 L208.6 1377.5 L209.3 1379.0 L209.6 1380.4 L209.6 1381.9 L209.5 1383.3 L208.6 1384.8 L209.1 1386.1 L210.0 1387.5 L209.1 1388.9 L209.4 1390.2 L209.6 1391.6 L209.7 1393.2 L209.6 1394.9 L209.5 1396.6 L210.1 1397.8 L210.1 1399.0 L210.5 1400.3 L210.5 1401.6 L211.1 1402.9 L211.6 1404.4 L212.0 1405.0 L212.7 1404.0 L212.2 1402.5 L213.4 1401.3 L212.9 1399.4 L213.7 1397.8 L213.7 1396.0 L214.3 1394.3 L214.1 1393.0 L213.9 1391.6 L214.4 1390.0 L215.3 1389.1 L216.1 1388.4 L216.9 1387.4 L216.4 1385.4 L216.6 1384.2 L217.0 1382.9 L217.3 1381.1 L217.5 1379.4 L217.8 1377.6 L218.5 1375.9 L218.6 1374.6 L219.6 1373.7 L219.9 1373.0 L219.8 1375.0 L219.9 1376.1 L220.4 1377.2 L220.2 1378.5 L221.8 1379.9 L221.6 1381.5 L220.6 1383.2 L221.5 1384.7 L222.0 1386.2 L221.3 1387.9 L221.9 1389.1 L221.9 1390.3 L222.4 1391.6 L222.7 1393.2 L223.1 1394.8 L222.4 1396.7 L222.1 1398.5 L222.2 1400.0 L222.7 1401.5 L223.1 1403.6 L223.6 1402.5 L223.7 1400.7 L224.9 1398.9 L224.5 1397.3 L224.7 1395.6 L223.8 1393.9 L224.2 1392.3 L224.7 1390.9 L225.2 1389.4 L225.4 1387.9 L225.4 1386.4 L224.8 1384.9 L225.0 1383.2 L225.9 1381.7 L226.2 1380.0 L225.5 1378.4 L225.2 1376.4 L226.1 1374.7 L226.3 1374.3 L227.0 1376.0 L227.4 1377.5 L227.3 1379.1 L227.2 1380.9 L228.2 1382.5 L227.7 1384.1 L227.3 1385.7 L227.8 1387.3 L228.9 1388.7 L228.8 1390.0 L229.4 1391.3 L228.6 1392.6 L229.0 1394.5 L229.9 1396.2 L229.6 1397.8 L229.8 1399.3 L230.4 1400.6 L230.7 1399.4 L230.8 1397.9 L231.1 1396.4 L232.4 1394.8 L231.6 1392.8 L232.1 1391.3 L232.3 1389.8 L232.7 1388.1 L233.3 1389.8 L233.9 1391.1 L233.9 1392.5 L234.0 1394.3 L234.2 1396.0 L233.5 1397.9 L234.7 1399.4 L234.9 1400.7 L234.6 1402.1 L235.5 1403.3 L235.9 1404.2 L236.3 1404.9 L237.7 1405.1 L237.6 1406.6 L239.1 1408.0 L239.3 1409.2 L238.9 1410.7 L239.0 1411.9 L239.9 1412.9 L241.3 1414.2 L241.7 1415.3 L242.2 1414.3 L243.3 1413.6 L242.8 1412.2 L243.1 1410.9 L244.1 1409.9 L244.7 1408.1 L245.2 1408.1 L245.6 1409.1 L245.2 1410.4 L246.2 1411.6 L245.6 1413.0 L246.7 1414.2 L246.7 1415.8 L247.1 1417.4 L246.7 1419.1 L246.9 1420.6 L247.9 1422.1 L247.6 1423.7 L247.6 1425.5 L248.2 1427.3 L248.3 1428.6 L248.7 1429.8 L249.1 1431.7 L250.2 1433.1 L250.9 1434.5 L251.9 1436.0 L251.2 1438.1 L251.9 1439.6 L253.1 1441.1 L252.8 1443.2 L253.2 1444.2 L254.7 1445.0 L254.1 1446.7 L255.2 1447.9 L255.8 1449.6 L256.4 1451.3 L256.6 1453.1 L257.7 1454.6 L258.2 1456.2 L258.5 1457.7 L258.9 1459.9 L259.5 1460.4 L259.1 1460.0 L259.9 1460.3 L259.9 1459.3 L260.2 1460.0 L260.5 1461.5 L260.5 1463.5 L262.3 1464.1 L262.5 1465.4 L261.6 1467.1 L261.8 1468.5 L262.0 1470.3 L263.1 1471.9 L263.5 1473.4 L264.0 1474.9 L262.7 1476.5 L263.0 1477.9 L263.5 1479.3 L263.1 1480.7 L264.2 1482.1 L263.7 1483.6 L263.0 1485.1 L264.7 1486.6 L263.7 1488.1 L264.7 1489.5 L263.4 1491.0 L263.5 1492.4 L263.9 1493.9 L264.5 1495.4 L265.4 1497.0 L264.6 1498.7 L265.0 1500.0 L265.1 1501.5 L265.9 1502.8 L264.4 1504.3 L265.4 1505.6 L265.5 1506.9 L265.3 1508.7 L265.5 1510.5 L266.5 1511.5 L266.8 1512.7 L267.8 1514.2 L268.1 1511.9 L269.4 1511.0 L267.9 1509.3 L269.7 1508.4 L269.5 1506.9 L269.9 1505.4 L270.9 1504.1 L269.7 1502.6 L270.3 1501.4 L271.3 1500.5 L271.6 1499.1 L271.9 1499.7 L271.6 1501.0 L271.9 1502.2 L271.7 1504.0 L272.3 1505.8 L273.0 1507.0 L273.3 1508.3 L273.8 1509.6 L273.9 1510.9 L274.2 1512.1 L272.6 1513.7 L274.5 1514.7 L273.8 1516.1 L275.0 1517.2 L273.7 1518.9 L274.8 1520.1 L275.8 1521.3 L274.9 1523.0 L275.2 1524.5 L275.3 1526.0 L277.1 1527.1 L277.0 1528.6 L276.8 1530.2 L277.9 1531.4 L277.6 1533.0 L277.6 1534.4 L277.7 1535.9 L277.8 1537.4 L278.2 1538.9 L279.3 1540.3 L278.5 1542.0 L279.3 1543.5 L280.0 1545.0 L280.5 1546.5 L279.5 1548.2 L280.2 1549.5 L280.9 1550.7 L280.3 1552.2 L280.8 1553.6 L281.3 1555.0 L281.7 1556.9 L282.6 1557.3 L283.5 1557.2 L283.9 1558.1 L284.8 1558.7 L286.7 1559.7 L286.1 1561.3 L287.6 1562.0 L286.8 1563.7 L288.9 1564.4 L288.9 1565.9 L288.2 1567.6 L289.1 1568.8 L289.5 1570.2 L290.9 1571.3 L291.5 1572.6 L290.3 1574.6 L292.5 1575.6 L292.7 1577.1 L292.7 1578.8 L292.4 1580.6 L293.1 1582.0 L292.9 1583.7 L293.8 1585.1 L294.9 1586.4 L294.4 1588.2 L296.0 1589.4 L297.0 1590.8 L295.7 1592.8 L296.3 1594.3 L297.1 1595.7 L297.9 1597.0 L298.9 1598.2 L299.3 1599.6 L300.1 1600.9 L300.5 1602.2 L300.2 1603.7 L299.9 1605.3 L300.3 1606.5 L301.5 1607.4 L301.7 1608.7 L302.6 1609.6 L302.5 1611.0 L303.2 1611.9 L303.9 1614.1 L305.4 1615.5 L306.9 1616.7 L308.2 1617.9 L310.0 1618.8 L310.5 1620.5 L311.4 1622.0 L312.8 1623.0 L313.4 1624.0 L314.0 1624.9 L314.8 1624.4 L316.1 1624.5 L316.9 1623.0 L318.5 1623.4 L319.1 1622.5 L319.8 1622.3 L320.6 1622.6 L321.4 1623.3 L322.4 1623.8 L322.2 1625.7 L323.4 1626.8 L325.0 1627.8 L326.2 1629.2 L328.2 1629.7 L328.8 1631.1 L329.9 1630.7 L330.7 1630.9 L331.6 1631.1 L332.2 1629.9 L333.0 1629.7 L334.4 1630.1 L335.1 1629.1 L336.3 1629.2 L336.8 1627.4 L337.9 1627.3 L338.1 1629.3 L339.3 1629.5 L340.2 1630.4 L341.2 1631.5 L342.4 1632.3 L343.1 1633.8 L344.5 1634.5 L345.5 1635.8 L347.2 1636.7 L348.3 1638.4 L348.7 1639.5 L349.5 1640.4 L349.6 1641.7 L350.6 1642.7 L351.3 1643.9 L351.8 1645.1 L352.3 1646.4 L352.4 1648.0 L353.2 1649.2 L354.0 1650.5 L354.9 1651.7 L356.0 1652.8 L356.3 1654.5 L357.6 1655.6 L358.4 1657.0 L359.2 1658.5 L359.8 1660.1 L361.2 1661.1 L362.3 1662.3 L362.8 1664.0 L364.4 1664.7 L365.1 1666.2 L366.6 1667.0 L367.7 1668.2 L369.0 1669.2 L370.1 1670.3 L371.1 1671.6 L372.3 1672.6 L373.7 1673.3 L375.1 1673.9 L376.3 1674.8 L377.4 1675.8 L378.4 1676.9 L379.5 1677.7 L381.1 1677.9 L382.2 1678.8 L383.1 1679.9 L384.6 1680.0 L385.8 1680.7 L386.9 1681.5 L387.9 1682.6 L389.4 1682.8 L390.4 1683.8 L391.9 1684.1 L392.9 1685.1 L394.3 1685.3 L395.3 1686.2 L396.5 1686.9 L397.5 1687.4 L398.8 1687.5 L400.6 1688.6 L402.5 1688.5 L404.2 1689.1 L405.9 1689.3 L407.6 1689.5 L409.5 1688.9 L411.2 1689.1 L413.0 1689.5 L414.8 1689.6 L416.6 1688.9 L418.4 1688.9 L420.2 1688.1 L421.8 1687.2 L423.6 1686.5 L425.4 1685.7 L427.3 1685.2 L429.4 1685.2 L431.2 1684.3 L433.0 1683.4 L434.7 1681.9 L435.1 1680.6 L436.0 1679.9 L436.5 1678.8 L437.2 1677.8 L437.3 1676.3 L438.4 1675.3 L438.4 1673.6 L439.2 1672.1 L439.8 1670.9 L440.2 1669.6 L440.6 1668.3 L440.6 1666.6 L441.0 1664.9 L441.8 1663.4 L441.5 1661.8 L442.5 1660.5 L442.3 1658.9 L442.7 1657.5 L442.9 1655.9 L443.5 1654.4 L443.4 1652.7 L443.7 1651.1 L443.9 1649.5 L444.3 1647.9 L444.9 1646.3 L445.5 1644.8 L445.1 1643.1 L445.7 1641.6 L445.9 1640.0 L446.2 1638.5 L446.5 1637.0 L446.6 1635.5 L447.2 1634.0 L447.3 1632.5 L447.5 1631.0 L447.8 1629.5 L448.8 1628.1 L448.9 1626.6 L449.4 1625.2 L449.6 1623.7 L449.8 1622.2 L449.7 1620.6 L449.9 1619.1 L450.9 1617.7 L450.9 1616.2 L451.3 1614.7 L451.1 1613.1 L451.9 1611.8 L452.0 1610.2 L452.0 1608.7 L452.4 1607.2 L453.3 1605.8 L453.3 1604.2 L453.2 1602.6 L453.4 1601.1 L454.3 1599.7 L454.3 1598.1 L454.7 1596.6 L454.7 1595.0 L455.0 1593.5 L455.6 1592.0 L455.8 1590.5 L455.9 1588.9 L456.2 1587.5 L456.7 1586.0 L456.7 1584.5 L457.0 1583.1 L457.6 1581.8 L457.6 1580.3 L458.4 1579.0 L458.7 1577.7 L459.0 1576.4 L459.5 1575.1 L459.2 1573.7 L459.8 1572.1 L460.2 1570.4 L460.3 1568.7 L461.3 1567.2 L461.1 1565.5 L462.2 1564.1 L462.3 1562.5 L463.0 1561.1 L462.7 1559.4 L463.7 1558.1 L464.1 1556.7 L464.4 1555.3 L464.6 1553.9 L465.1 1552.6 L465.4 1551.2 L466.0 1550.1 L466.2 1548.9 L466.6 1547.6 L467.1 1545.9 L467.9 1544.2 L468.4 1542.5 L469.3 1540.9 L469.7 1539.2 L469.8 1537.2 L471.0 1536.2 L470.4 1534.6 L471.3 1533.4 L471.9 1532.0 L472.7 1530.8 L471.8 1528.9 L472.3 1527.6 L472.8 1526.3 L474.2 1525.2 L473.8 1523.2 L475.2 1521.8 L476.3 1521.0 L476.0 1519.4 L476.9 1518.3 L477.3 1519.7 L478.1 1520.7 L478.5 1521.9 L479.1 1521.8 L480.1 1522.2 L480.5 1520.5 L482.5 1520.1 L482.6 1518.3 L483.5 1518.4 L483.9 1519.3 L484.5 1520.2 L487.1 1520.4 L486.3 1523.0 L488.7 1523.5 L488.1 1525.8 L489.3 1526.8 L491.2 1527.5 L491.2 1529.6 L492.3 1531.5 L493.0 1532.7 L493.1 1534.1 L493.9 1535.5 L493.9 1537.2 L494.2 1538.9 L496.1 1540.1 L495.2 1542.1 L495.5 1543.7 L495.7 1545.2 L496.9 1546.3 L497.4 1547.4 L498.8 1548.1 L499.3 1549.2 L498.6 1551.1 L501.4 1551.8 L501.2 1554.4 L503.5 1554.6 L503.8 1555.7 L504.2 1556.2 L505.6 1555.3 L505.4 1556.5 L505.2 1558.4 L506.4 1559.7 L507.2 1561.3 L507.6 1562.8 L505.9 1564.6 L507.9 1565.8 L506.9 1567.6 L507.1 1569.3 L508.1 1570.8 L507.7 1572.4 L507.6 1574.0 L508.9 1575.4 L509.1 1577.1 L507.9 1579.2 L510.0 1580.9 L510.0 1582.4 L510.3 1582.8 L509.8 1583.8 L510.0 1584.3 L510.5 1584.5 L511.2 1584.7 L511.7 1585.0 L513.1 1584.7 L512.4 1586.1 L513.1 1586.2 L512.9 1587.3 L514.1 1586.9 L515.2 1586.9 L514.9 1587.9 L514.1 1589.1 L515.3 1588.9 L515.1 1589.7 L516.9 1589.3 L516.8 1590.0 L516.9 1590.6 L516.5 1591.5 L517.8 1591.7 L515.7 1593.1 L517.6 1593.1 L518.8 1593.4 L518.3 1594.1 L517.7 1594.9 L517.5 1595.6 L517.1 1596.3 L519.4 1596.2 L517.0 1597.5 L517.5 1597.9 L518.7 1598.2 L518.5 1598.9 L519.6 1599.2 L520.3 1599.6 L520.8 1600.1 L518.3 1601.5 L518.6 1602.0 L520.1 1602.2 L519.8 1602.9 L520.4 1603.3 L519.9 1604.1 L521.8 1604.1 L520.1 1605.2 L521.9 1605.2 L521.0 1606.2 L521.1 1606.7 L520.6 1607.5 L521.5 1607.8 L522.9 1607.8 L521.4 1609.1 L522.9 1609.2 L522.7 1610.0 L522.3 1610.9 L522.2 1611.8 L524.8 1610.9 L524.2 1612.0 L524.8 1612.2 L523.8 1613.6 L525.3 1613.3 L524.5 1614.8 L525.2 1615.1 L526.5 1614.9 L526.1 1616.0 L526.6 1616.3 L528.4 1615.9 L528.3 1616.8 L529.1 1617.1 L527.6 1618.8 L529.1 1618.7 L529.7 1619.2 L528.9 1620.3 L528.5 1621.3 L531.1 1620.8 L529.9 1622.1 L531.4 1622.1 L530.2 1623.4 L530.6 1623.9 L530.8 1624.6 L531.6 1624.9 L533.1 1624.9 L531.4 1626.4 L533.7 1626.1 L532.6 1627.2 L531.8 1628.1 L533.9 1627.9 L533.5 1628.6 L533.1 1629.4 L533.4 1629.9 L534.5 1630.1 L534.5 1630.8 L533.3 1631.8 L534.0 1632.2 L535.7 1632.1 L534.5 1633.2 L534.3 1634.0 L535.2 1634.3 L534.8 1635.3 L536.6 1634.6 L536.8 1634.9 L537.2 1636.8 L537.7 1634.9 L537.5 1634.4 L537.7 1634.3 L539.9 1634.6 L540.0 1633.8 L538.4 1632.6 L540.1 1632.5 L538.7 1631.6 L540.0 1631.3 L538.4 1630.3 L540.2 1630.2 L540.8 1629.7 L540.2 1629.0 L540.6 1628.5 L539.2 1627.7 L540.3 1627.3 L541.4 1626.9 L540.2 1626.1 L541.4 1625.7 L541.1 1625.1 L541.8 1624.6 L541.7 1624.0 L540.5 1623.2 L542.1 1622.8 L542.2 1622.2 L541.1 1621.4 L542.0 1621.0 L541.2 1620.2 L541.8 1619.7 L541.1 1619.0 L541.6 1618.4 L541.2 1617.8 L543.0 1617.4 L542.3 1616.7 L542.3 1616.1 L542.1 1615.5 L542.0 1614.9 L541.2 1614.2 L542.7 1613.8 L542.2 1613.1 L542.0 1612.5 L542.5 1612.0 L541.5 1611.3 L543.1 1610.9 L543.5 1610.3 L542.4 1609.6 L541.8 1608.9 L544.3 1608.6 L543.3 1607.9 L542.5 1607.2 L541.9 1606.6 L543.4 1606.2 L542.4 1605.5 L544.5 1605.1 L544.0 1604.5 L542.8 1603.7 L543.2 1603.2 L542.3 1602.5 L542.8 1602.0 L543.9 1601.5 L544.9 1601.0 L543.6 1600.3 L545.3 1599.9 L543.2 1599.0 L542.8 1598.4 L545.1 1598.1 L543.8 1597.3 L543.6 1596.7 L544.1 1596.2 L544.7 1595.7 L543.6 1594.9 L543.3 1594.3 L544.8 1593.9 L545.1 1593.3 L544.8 1592.7 L543.7 1592.0 L545.9 1591.6 L544.6 1590.9 L545.0 1590.3 L546.1 1589.8 L543.9 1589.0 L545.1 1588.5 L544.9 1587.9 L545.6 1587.3 L544.5 1586.6 L544.6 1586.0 L544.6 1585.4 L545.6 1584.9 L544.9 1584.3 L546.8 1583.9 L546.7 1583.3 L546.4 1582.6 L545.5 1581.9 L546.8 1581.5 L546.1 1580.8 L546.8 1580.3 L547.3 1579.7 L544.9 1578.9 L546.9 1578.5 L547.3 1578.0 L545.9 1577.2 L545.8 1576.6 L544.9 1575.9 L547.5 1575.6 L545.5 1574.8 L545.0 1574.1 L545.3 1573.5 L546.6 1573.0 L547.2 1572.4 L547.9 1571.9 L547.2 1571.2 L545.6 1570.5 L548.2 1570.1 L548.0 1569.5 L547.9 1568.8 L548.2 1568.2 L548.1 1567.6 L547.7 1567.0 L548.0 1566.4 L545.9 1565.5 L548.8 1565.2 L545.9 1564.3 L547.2 1563.8 L547.7 1563.2 L547.6 1562.6 L547.2 1561.9 L547.7 1561.4 L547.2 1560.7 L548.3 1560.2 L546.5 1559.4 L547.5 1558.9 L548.4 1558.4 L548.1 1556.8 L547.1 1555.2 L548.4 1553.8 L549.8 1552.4 L548.9 1550.8 L549.6 1549.3 L548.9 1547.7 L550.6 1546.3 L549.6 1544.6 L550.6 1543.1 L550.3 1541.5 L551.0 1540.0 L550.1 1538.5 L551.6 1537.3 L552.0 1536.0 L551.9 1534.5 L552.1 1533.2 L550.9 1531.6 L551.1 1530.2 L552.7 1528.8 L552.8 1527.2 L552.4 1525.5 L552.5 1523.9 L551.3 1522.1 L553.0 1520.8 L551.9 1519.1 L553.3 1517.8 L552.7 1516.3 L553.9 1515.0 L552.9 1513.3 L553.6 1511.9 L554.9 1510.6 L554.6 1509.1 L553.6 1507.5 L556.0 1506.3 L553.7 1504.5 L554.9 1503.2 L555.8 1501.9 L555.6 1500.4 L555.9 1499.1 L556.7 1497.7 L554.7 1496.1 L555.9 1494.8 L555.4 1493.1 L556.4 1491.4 L556.1 1489.7 L556.7 1488.0 L557.2 1486.7 L556.5 1485.4 L556.4 1484.1 L556.9 1482.5 L556.0 1480.9 L558.0 1479.5 L556.8 1477.8 L557.2 1476.2 L558.2 1474.6 L558.3 1472.9 L558.9 1471.3 L558.2 1469.6 L557.9 1468.0 L557.8 1466.3 L558.8 1464.8 L558.5 1463.3 L557.1 1461.7 L558.6 1460.3 L559.0 1458.8 L558.3 1457.3 L559.7 1456.0 L559.6 1454.4 L560.1 1453.0 L558.6 1451.4 L559.7 1450.1 L559.6 1448.7 L559.1 1447.3 L559.2 1445.6 L558.9 1443.8 L561.1 1442.4 L561.0 1441.3 L561.4 1443.0 L562.0 1444.9 L561.6 1446.9 L562.1 1447.4 L563.4 1446.8 L562.0 1444.0 L562.9 1443.0 L564.4 1442.1 L564.7 1440.3 L564.1 1438.2 L565.1 1439.7 L564.2 1441.6 L564.7 1443.6 L566.4 1443.7 L565.3 1444.5 L566.6 1444.8 L567.5 1445.3 L565.1 1446.1 L567.5 1446.4 L565.0 1447.3 L566.6 1447.6 L565.5 1448.3 L566.7 1448.7 L565.5 1449.4 L566.0 1450.0 L567.7 1450.5 L568.2 1451.1 L567.8 1451.8 L566.6 1452.5 L568.1 1453.1 L568.3 1453.7 L567.4 1454.3 L568.4 1454.9 L567.6 1455.5 L566.7 1456.1 L567.9 1456.6 L566.2 1457.2 L567.9 1457.7 L567.6 1458.3 L567.5 1458.9 L566.2 1459.5 L568.6 1460.0 L566.3 1460.7 L568.5 1461.2 L565.9 1461.9 L567.1 1462.5 L566.6 1463.1 L567.3 1463.7 L566.9 1464.3 L566.8 1464.9 L568.5 1465.5 L568.4 1466.1 L566.2 1466.8 L568.3 1467.3 L568.3 1467.9 L568.9 1468.5 L566.9 1469.2 L566.7 1469.8 L569.0 1470.3 L566.6 1471.0 L568.8 1471.4 L567.8 1472.1 L567.7 1472.7 L568.6 1473.2 L568.4 1473.7 L567.9 1474.4 L567.1 1475.0 L568.8 1475.4 L569.0 1476.0 L566.9 1477.1 L569.1 1477.3 L569.7 1477.7 L567.5 1479.0 L567.7 1479.6 L569.7 1478.8 L569.4 1479.9 L570.5 1480.6 L569.6 1478.9 L569.9 1478.5 L569.0 1477.7 L569.4 1477.2 L570.9 1476.8 L570.7 1476.2 L571.8 1475.7 L570.6 1474.9 L570.2 1474.3 L570.6 1473.7 L569.9 1473.0 L570.9 1472.5 L571.6 1471.9 L570.1 1471.2 L571.4 1470.6 L572.6 1470.1 L571.8 1469.5 L570.7 1468.8 L571.7 1468.3 L570.1 1467.6 L570.2 1467.0 L572.3 1466.5 L572.0 1465.9 L571.8 1465.3 L571.7 1464.7 L571.1 1464.0 L572.6 1463.5 L571.7 1462.8 L572.7 1462.3 L572.5 1461.7 L571.3 1460.9 L572.9 1460.6 L571.6 1459.7 L572.2 1459.7 L571.4 1460.3 L571.1 1460.7 L572.2 1461.0 L573.5 1461.5 L573.7 1462.2 L571.7 1463.0 L573.4 1463.5 L573.9 1464.1 L572.7 1464.9 L573.2 1465.4 L572.3 1466.0 L574.0 1466.5 L573.0 1467.1 L571.7 1467.8 L574.1 1468.2 L573.5 1468.8 L573.5 1469.4 L574.4 1469.9 L574.4 1470.5 L573.9 1471.2 L573.2 1471.8 L574.5 1472.4 L573.1 1473.1 L573.9 1473.6 L574.2 1474.2 L572.5 1475.0 L572.9 1475.5 L573.8 1476.1 L574.4 1476.7 L573.7 1477.3 L573.4 1478.0 L573.1 1478.6 L573.4 1479.2 L575.5 1479.7 L575.0 1480.3 L572.6 1481.1 L574.0 1481.7 L574.1 1482.3 L575.4 1482.8 L573.4 1483.6 L573.3 1484.2 L574.9 1484.7 L575.1 1485.3 L575.8 1485.8 L575.1 1486.5 L574.5 1487.2 L574.8 1487.8 L576.2 1488.3 L575.9 1488.9 L575.6 1489.6 L573.9 1490.4 L573.5 1491.0 L573.9 1491.6 L575.0 1492.2 L575.5 1492.8 L573.9 1493.5 L574.4 1494.1 L574.8 1494.7 L574.7 1495.4 L574.0 1496.1 L575.3 1496.6 L576.1 1497.2 L574.8 1497.9 L574.2 1498.5 L576.4 1498.9 L576.0 1499.5 L574.9 1500.2 L574.8 1500.8 L577.1 1501.1 L574.9 1501.9 L576.6 1502.3 L577.0 1502.9 L577.3 1503.6 L576.1 1504.3 L576.2 1504.9 L577.0 1505.5 L575.5 1506.2 L577.1 1506.8 L574.9 1507.6 L574.8 1508.2 L576.8 1508.7 L577.8 1509.2 L577.7 1509.9 L576.3 1510.6 L576.9 1511.2 L575.7 1511.9 L576.8 1512.4 L577.3 1513.0 L577.7 1513.6 L575.2 1514.4 L575.9 1515.0 L576.2 1515.6 L577.6 1516.1 L577.0 1516.7 L576.1 1517.4 L576.5 1518.0 L577.6 1518.5 L577.5 1519.1 L576.1 1519.8 L578.4 1520.2 L576.7 1520.9 L576.6 1521.5 L577.2 1522.0 L577.1 1522.6 L576.1 1523.3 L577.9 1523.7 L576.7 1524.4 L576.9 1525.0 L576.9 1525.7 L578.9 1525.7 L577.8 1527.4 L577.8 1526.1 L577.1 1525.5 L579.5 1525.3 L577.7 1524.4 L578.3 1523.8 L578.0 1523.0 L577.8 1521.6 L579.4 1522.1 L578.7 1523.3 L578.7 1523.9 L578.5 1524.6 L580.3 1525.1 L580.0 1525.8 L578.4 1526.6 L579.4 1527.1 L578.8 1527.8 L579.7 1528.4 L579.8 1529.0 L581.0 1529.6 L578.7 1530.4 L578.5 1531.0 L579.1 1531.6 L580.7 1532.1 L579.5 1532.7 L579.4 1533.3 L580.6 1533.8 L580.4 1534.3 L578.9 1535.0 L580.8 1535.4 L579.8 1536.1 L581.6 1536.5 L581.7 1537.1 L581.7 1537.7 L580.9 1538.4 L579.1 1539.1 L580.2 1539.6 L580.6 1540.2 L581.6 1540.7 L580.5 1541.5 L581.8 1542.0 L582.0 1542.5 L581.3 1543.2 L581.6 1543.8 L580.1 1544.5 L580.8 1545.1 L580.6 1545.7 L581.7 1546.1 L581.4 1546.8 L582.3 1547.2 L581.9 1547.9 L579.8 1548.7 L580.9 1549.2 L582.0 1549.6 L581.2 1550.3 L580.4 1551.0 L580.8 1551.6 L581.8 1552.0 L583.0 1552.3 L583.4 1552.8 L583.5 1553.3 L581.5 1554.5 L581.8 1555.0 L582.2 1555.5 L582.3 1556.1 L584.1 1556.1 L583.1 1557.1 L584.9 1557.1 L585.1 1557.7 L583.6 1558.9 L585.6 1558.8 L584.7 1559.8 L585.1 1560.3 L583.9 1561.4 L585.6 1561.4 L586.2 1561.7 L585.1 1562.8 L586.8 1562.7 L584.8 1564.3 L585.2 1564.7 L585.2 1565.3 L586.5 1565.5 L588.0 1565.5 L588.2 1566.1 L587.1 1567.4 L588.1 1567.5 L587.6 1568.4 L589.2 1568.2 L588.4 1569.2 L588.0 1570.2 L589.8 1570.0 L588.6 1571.3 L590.8 1570.9 L589.7 1572.2 L591.6 1571.8 L591.4 1572.6 L592.1 1573.0 L592.1 1573.7 L591.5 1574.8 L591.0 1575.8 L591.3 1576.4 L591.1 1577.0 L593.2 1576.8 L591.4 1578.0 L593.1 1578.0 L592.5 1578.7 L592.6 1579.4 L594.0 1579.6 L594.2 1580.3 L593.9 1581.0 L594.4 1581.6 L593.4 1582.5 L593.2 1583.2 L594.0 1583.7 L595.9 1583.7 L594.0 1585.0 L594.3 1585.6 L593.9 1586.4 L596.3 1586.0 L594.6 1587.7 L596.3 1587.2 L596.6 1588.1 L596.4 1586.7 L596.5 1586.7 L597.3 1586.5 L597.8 1586.1 L597.1 1585.2 L598.2 1584.8 L598.0 1584.1 L597.6 1583.4 L599.0 1583.1 L598.1 1582.3 L597.5 1581.5 L598.2 1581.0 L598.9 1580.5 L599.6 1580.1 L598.2 1579.0 L600.7 1579.2 L598.6 1577.9 L601.2 1578.2 L598.9 1576.4 L600.2 1576.1 L601.0 1575.5 L601.0 1576.9 L602.7 1576.4 L602.7 1577.1 L601.2 1578.4 L601.0 1579.1 L603.7 1579.0 L603.8 1579.7 L603.2 1580.5 L603.3 1581.1 L602.5 1581.8 L601.8 1582.6 L602.9 1582.9 L603.9 1583.3 L604.3 1583.8 L604.9 1584.2 L605.0 1584.8 L602.9 1586.0 L603.0 1586.6 L604.6 1586.9 L605.2 1587.4 L603.5 1588.6 L605.5 1588.5 L605.2 1589.2 L604.0 1590.2 L606.6 1589.7 L605.9 1590.7 L606.6 1590.8 L606.4 1591.6 L605.9 1593.2 L606.8 1593.6 L607.7 1593.3 L608.3 1593.6 L609.2 1592.2 L609.5 1593.4 L610.0 1593.5 L610.1 1594.3 L611.8 1593.6 L610.9 1594.9 L612.8 1594.4 L612.0 1595.4 L611.2 1596.3 L612.0 1596.6 L612.2 1597.2 L614.0 1597.2 L613.7 1598.0 L613.4 1598.7 L612.8 1599.5 L614.6 1599.5 L613.9 1600.3 L613.5 1601.0 L613.8 1601.5 L615.2 1601.6 L615.9 1602.0 L615.3 1602.8 L615.9 1603.1 L615.1 1604.1 L615.4 1604.6 L617.0 1604.7 L614.7 1606.3 L615.0 1606.7 L617.2 1606.4 L617.2 1607.0 L615.5 1608.3 L618.4 1607.8 L618.3 1608.5 L618.0 1609.4 L617.0 1610.6 L619.4 1610.1 L618.4 1611.3 L618.1 1612.2 L618.8 1612.6 L619.6 1612.9 L619.3 1613.8 L619.5 1614.4 L620.4 1614.7 L621.3 1614.8 L620.6 1615.8 L620.4 1616.6 L622.5 1616.0 L621.4 1617.3 L622.3 1617.4 L623.2 1617.5 L623.1 1618.3 L624.1 1618.3 L622.5 1620.0 L623.4 1620.1 L624.0 1620.4 L623.3 1621.5 L623.7 1621.9 L625.1 1621.6 L626.2 1621.3 L625.3 1622.8 L626.5 1622.6 L626.1 1623.9 L627.6 1623.1 L627.1 1625.3 L627.7 1625.7 L629.0 1624.0 L629.0 1626.0 L630.3 1624.1 L630.9 1624.5 L631.0 1625.9 L632.2 1625.5 L632.5 1626.4 L633.0 1626.8 L632.4 1628.0 L632.8 1628.5 L632.8 1629.2 L634.7 1628.6 L634.9 1629.1 L633.8 1630.4 L635.2 1630.2 L636.2 1630.3 L635.5 1631.4 L636.5 1631.5 L635.7 1632.6 L636.6 1632.7 L637.5 1632.8 L636.4 1634.3 L636.4 1635.1 L638.6 1634.3 L638.9 1635.0 L638.7 1636.0 L639.8 1635.7 L638.7 1637.9 L640.2 1637.2 L641.4 1636.7 L641.6 1637.4 L642.1 1637.8 L642.5 1638.2 L642.3 1639.5 L642.4 1640.5 L643.7 1639.6 L643.9 1640.3 L643.6 1641.6 L644.8 1640.7 L645.5 1640.7 L645.3 1642.4 L646.2 1642.2 L647.1 1641.8 L647.1 1643.2 L648.3 1641.9 L649.0 1641.7 L649.3 1642.3 L649.7 1642.7 L650.2 1644.4 L651.8 1643.7 L653.0 1643.8 L654.1 1644.4 L654.4 1646.3 L655.8 1646.3 L656.3 1647.8 L658.1 1647.6 L659.4 1648.1 L660.4 1649.0 L660.7 1650.7 L662.0 1650.9 L662.4 1652.0 L663.2 1652.7 L664.8 1652.3 L666.6 1652.0 L668.2 1654.3 L669.5 1654.8 L671.0 1654.5 L672.4 1654.9 L673.7 1655.8 L675.4 1655.3 L677.0 1655.0 L677.8 1657.4 L679.5 1656.8 L680.9 1656.9 L681.8 1658.4 L683.1 1658.9 L684.7 1658.3 L685.7 1659.4 L686.9 1660.3 L688.5 1659.7 L689.8 1660.0 L691.0 1661.3 L692.8 1660.0 L694.0 1661.6 L695.7 1660.9 L697.2 1661.5 L698.5 1662.8 L700.4 1661.7 L701.6 1663.8 L703.3 1663.7 L704.9 1664.5 L706.6 1664.6 L708.4 1664.4 L710.2 1664.3 L712.1 1663.9 L713.6 1666.0 L715.5 1665.9 L716.9 1665.1 L718.2 1665.2 L719.2 1666.8 L720.7 1665.6 L722.0 1665.4 L723.2 1665.7 L724.3 1667.0 L725.5 1667.3 L726.9 1666.3 L728.6 1667.5 L730.5 1667.6 L732.3 1668.0 L734.3 1667.2 L736.0 1668.8 L738.0 1667.6 L739.9 1667.8 L741.5 1669.2 L743.3 1670.1 L745.2 1669.9 L746.4 1670.4 L747.7 1670.6 L749.0 1670.4 L750.3 1671.1 L751.5 1671.4 L752.9 1671.3 L754.4 1670.0 L755.7 1670.5 L756.9 1671.1 L758.7 1671.5 L760.5 1671.6 L762.0 1672.7 L763.6 1672.4 L764.9 1673.2 L766.2 1673.5 L767.7 1671.7 L768.8 1672.4 L770.8 1674.2 L772.7 1672.4 L774.2 1672.9 L775.2 1672.2 L776.5 1672.7 L776.9 1671.7 L778.2 1671.4 L779.1 1670.4 L779.6 1668.9 L778.9 1666.8 L780.1 1665.2 L780.9 1663.6 L780.7 1662.1 L781.1 1661.0 L782.1 1660.2 L782.0 1659.2 L782.6 1658.5 L782.6 1659.5 L783.5 1661.1 L783.8 1662.4 L783.0 1663.9 L783.3 1665.5 L784.0 1667.0 L783.5 1668.6 L784.6 1670.0 L785.0 1671.3 L785.3 1672.5 L785.0 1673.8 L785.5 1675.0 L785.3 1676.3 L785.2 1677.7 L786.3 1679.7 L786.6 1681.2 L787.0 1680.2 L787.9 1679.4 L787.6 1678.0 L788.5 1676.7 L788.3 1675.2 L788.3 1673.8 L788.5 1672.1 L788.4 1670.4 L789.2 1668.7 L789.1 1667.0 L788.9 1665.3 L789.2 1663.6 L789.5 1662.2 L789.6 1660.8 L789.6 1659.4 L790.3 1657.7 L790.8 1656.0 L790.2 1654.1 L791.3 1652.4 L791.0 1650.8 L791.6 1649.3 L792.4 1647.3 L792.5 1646.1 L792.8 1647.4 L793.9 1648.3 L793.9 1649.5 L794.5 1651.1 L794.6 1652.7 L794.2 1654.5 L794.2 1656.3 L794.7 1657.9 L795.6 1659.4 L795.4 1661.1 L795.6 1662.7 L796.2 1664.5 L796.7 1666.3 L796.0 1668.2 L796.1 1670.0 L797.1 1671.4 L797.7 1672.9 L797.2 1674.3 L798.2 1675.1 L799.0 1675.9 L799.2 1677.1 L800.1 1675.9 L801.3 1675.6 L803.2 1676.0 L804.4 1676.1 L805.7 1676.1 L807.3 1675.6 L808.8 1676.6 L810.5 1676.0 L812.3 1675.9 L814.0 1676.7 L815.8 1676.1 L817.3 1676.4 L819.0 1676.3 L820.5 1676.6 L822.1 1677.1 L823.7 1676.4 L825.3 1677.5 L826.9 1677.0 L828.4 1677.5 L829.7 1677.1 L831.0 1677.1 L832.9 1677.4" fill="none" stroke="#ff0000" stroke-width="2.8" stroke-linejoin="round"/><path d="M61.4 1690.2 L61.7 1690.2 L62.0 1690.2 L62.3 1690.2 L62.6 1690.2 L62.9 1690.2 L63.2 1690.2 L63.6 1690.2 L63.9 1690.2 L64.2 1690.2 L64.5 1690.2 L64.8 1690.2 L65.1 1690.2 L65.4 1690.2 L65.7 1690.2 L66.0 1690.2 L66.3 1690.2 L66.6 1690.2 L66.9 1690.2 L67.3 1690.2 L67.6 1690.2 L67.9 1690.2 L68.2 1690.2 L68.5 1690.1 L68.8 1690.1 L69.1 1690.0 L69.4 1689.8 L69.7 1689.6 L70.0 1689.5 L70.3 1689.3 L70.6 1689.3 L71.0 1689.3 L71.3 1689.4 L71.6 1689.6 L71.9 1689.8 L72.2 1690.0 L72.5 1690.1 L72.8 1690.1 L73.1 1690.2 L73.4 1690.2 L73.7 1690.2 L74.0 1690.2 L74.3 1690.2 L74.7 1690.2 L75.0 1690.2 L75.3 1690.1 L75.6 1690.1 L75.9 1690.0 L76.2 1689.8 L76.5 1689.7 L76.8 1689.5 L77.1 1689.4 L77.4 1689.4 L77.7 1689.5 L78.0 1689.6 L78.4 1689.7 L78.7 1689.9 L79.0 1690.0 L79.3 1690.0 L79.6 1689.9 L79.9 1689.7 L80.2 1689.4 L80.5 1688.9 L80.8 1688.3 L81.1 1687.8 L81.4 1687.3 L81.7 1687.2 L82.0 1687.4 L82.4 1687.8 L82.7 1688.4 L83.0 1689.0 L83.3 1689.5 L83.6 1689.8 L83.9 1690.0 L84.2 1690.1 L84.5 1690.2 L84.8 1690.2 L85.1 1690.2 L85.4 1690.2 L85.7 1690.2 L86.1 1690.2 L86.4 1690.2 L86.7 1690.2 L87.0 1690.2 L87.3 1690.2 L87.6 1690.2 L87.9 1690.2 L88.2 1690.2 L88.5 1690.2 L88.8 1690.2 L89.1 1690.2 L89.4 1690.2 L89.8 1690.2 L90.1 1690.2 L90.4 1690.2 L90.7 1690.2 L91.0 1690.1 L91.3 1690.1 L91.6 1690.0 L91.9 1689.8 L92.2 1689.6 L92.5 1689.4 L92.8 1689.3 L93.1 1689.2 L93.5 1689.3 L93.8 1689.4 L94.1 1689.6 L94.4 1689.8 L94.7 1690.0 L95.0 1690.1 L95.3 1690.1 L95.6 1690.2 L95.9 1690.2 L96.2 1690.2 L96.5 1690.2 L96.8 1690.2 L97.2 1690.2 L97.5 1690.2 L97.8 1690.2 L98.1 1690.2 L98.4 1690.2 L98.7 1690.2 L99.0 1690.2 L99.3 1690.2 L99.6 1690.2 L99.9 1690.2 L100.2 1690.2 L100.5 1690.2 L100.8 1690.2 L101.2 1690.2 L101.5 1690.2 L101.8 1690.2 L102.1 1690.2 L102.4 1690.2 L102.7 1690.2 L103.0 1690.2 L103.3 1690.2 L103.6 1690.2 L103.9 1690.2 L104.2 1690.2 L104.5 1690.2 L104.9 1690.2 L105.2 1690.1 L105.5 1690.1 L105.8 1690.0 L106.1 1689.9 L106.4 1689.7 L106.7 1689.6 L107.0 1689.5 L107.3 1689.4 L107.6 1689.5 L107.9 1689.6 L108.2 1689.7 L108.6 1689.9 L108.9 1690.0 L109.2 1690.1 L109.5 1690.1 L109.8 1690.2 L110.1 1690.2 L110.4 1690.2 L110.7 1690.1 L111.0 1690.1 L111.3 1689.9 L111.6 1689.7 L111.9 1689.5 L112.3 1689.2 L112.6 1689.0 L112.9 1688.9 L113.2 1688.9 L113.5 1689.0 L113.8 1689.3 L114.1 1689.6 L114.4 1689.8 L114.7 1690.0 L115.0 1690.1 L115.3 1690.1 L115.6 1690.2 L116.0 1690.2 L116.3 1690.2 L116.6 1690.2 L116.9 1690.2 L117.2 1690.2 L117.5 1690.2 L117.8 1690.2 L118.1 1690.2 L118.4 1690.2 L118.7 1690.2 L119.0 1690.2 L119.3 1690.2 L119.6 1690.2 L120.0 1690.2 L120.3 1690.2 L120.6 1690.2 L120.9 1690.2 L121.2 1690.2 L121.5 1690.2 L121.8 1690.2 L122.1 1690.2 L122.4 1690.2 L122.7 1690.2 L123.0 1690.2 L123.3 1690.2 L123.7 1690.2 L124.0 1690.1 L124.3 1690.0 L124.6 1689.9 L124.9 1689.6 L125.2 1689.3 L125.5 1689.0 L125.8 1688.7 L126.1 1688.5 L126.4 1688.5 L126.7 1688.7 L127.0 1689.0 L127.4 1689.4 L127.7 1689.7 L128.0 1689.9 L128.3 1690.0 L128.6 1690.1 L128.9 1690.2 L129.2 1690.2 L129.5 1690.2 L129.8 1690.2 L130.1 1690.2 L130.4 1690.2 L130.7 1690.2 L131.1 1690.2 L131.4 1690.2 L131.7 1690.2 L132.0 1690.2 L132.3 1690.2 L132.6 1690.2 L132.9 1690.2 L133.2 1690.2 L133.5 1690.2 L133.8 1690.2 L134.1 1690.2 L134.4 1690.2 L134.8 1690.2 L135.1 1690.2 L135.4 1690.2 L135.7 1690.2 L136.0 1690.2 L136.3 1690.2 L136.6 1690.2 L136.9 1690.2 L137.2 1690.2 L137.5 1690.2 L137.8 1690.2 L138.1 1690.2 L138.4 1690.2 L138.8 1690.2 L139.1 1690.2 L139.4 1690.2 L139.7 1690.2 L140.0 1690.2 L140.3 1690.2 L140.6 1690.2 L140.9 1690.2 L141.2 1690.2 L141.5 1690.1 L141.8 1690.1 L142.1 1690.0 L142.5 1689.8 L142.8 1689.7 L143.1 1689.5 L143.4 1689.4 L143.7 1689.4 L144.0 1689.5 L144.3 1689.6 L144.6 1689.8 L144.9 1689.9 L145.2 1690.0 L145.5 1690.1 L145.8 1690.2 L146.2 1690.2 L146.5 1690.2 L146.8 1690.2 L147.1 1690.2 L147.4 1690.2 L147.7 1690.2 L148.0 1690.2 L148.3 1690.2 L148.6 1690.2 L148.9 1690.2 L149.2 1690.2 L149.5 1690.2 L149.9 1690.2 L150.2 1690.2 L150.5 1690.2 L150.8 1690.2 L151.1 1690.2 L151.4 1690.2 L151.7 1690.2 L152.0 1690.2 L152.3 1690.2 L152.6 1690.2 L152.9 1690.2 L153.2 1690.2 L153.6 1690.2 L153.9 1690.2 L154.2 1690.2 L154.5 1690.2 L154.8 1690.2 L155.1 1690.2 L155.4 1690.2 L155.7 1690.2 L156.0 1690.2 L156.3 1690.2 L156.6 1690.2 L156.9 1690.2 L157.3 1690.2 L157.6 1690.2 L157.9 1690.2 L158.2 1690.2 L158.5 1690.2 L158.8 1690.2 L159.1 1690.2 L159.4 1690.2 L159.7 1690.2 L160.0 1690.2 L160.3 1690.2 L160.6 1690.2 L160.9 1690.2 L161.3 1690.2 L161.6 1690.2 L161.9 1690.2 L162.2 1690.2 L162.5 1690.1 L162.8 1690.1 L163.1 1689.9 L163.4 1689.7 L163.7 1689.4 L164.0 1689.0 L164.3 1688.6 L164.6 1688.3 L165.0 1688.2 L165.3 1688.2 L165.6 1688.4 L165.9 1688.7 L166.2 1688.8 L166.5 1688.8 L166.8 1688.7 L167.1 1688.4 L167.4 1688.3 L167.7 1688.2 L168.0 1688.4 L168.3 1688.7 L168.7 1689.1 L169.0 1689.5 L169.3 1689.8 L169.6 1690.0 L169.9 1690.1 L170.2 1690.1 L170.5 1690.2 L170.8 1690.2 L171.1 1690.1 L171.4 1690.0 L171.7 1689.9 L172.0 1689.6 L172.4 1689.3 L172.7 1688.9 L173.0 1688.6 L173.3 1688.4 L173.6 1688.4 L173.9 1688.6 L174.2 1688.9 L174.5 1689.2 L174.8 1689.6 L175.1 1689.8 L175.4 1690.0 L175.7 1690.1 L176.1 1690.0 L176.4 1689.9 L176.7 1689.8 L177.0 1689.5 L177.3 1689.2 L177.6 1689.0 L177.9 1688.8 L178.2 1688.8 L178.5 1689.0 L178.8 1689.2 L179.1 1689.5 L179.4 1689.7 L179.7 1689.9 L180.1 1690.0 L180.4 1690.0 L180.7 1690.0 L181.0 1689.8 L181.3 1689.6 L181.6 1689.4 L181.9 1689.2 L182.2 1689.1 L182.5 1689.1 L182.8 1689.2 L183.1 1689.3 L183.4 1689.5 L183.8 1689.5 L184.1 1689.4 L184.4 1689.2 L184.7 1688.9 L185.0 1688.5 L185.3 1688.2 L185.6 1688.0 L185.9 1688.0 L186.2 1688.1 L186.5 1688.2 L186.8 1688.1 L187.1 1687.9 L187.5 1687.7 L187.8 1687.6 L188.1 1687.7 L188.4 1688.0 L188.7 1688.5 L189.0 1688.9 L189.3 1689.2 L189.6 1689.4 L189.9 1689.3 L190.2 1689.0 L190.5 1688.6 L190.8 1688.2 L191.2 1688.0 L191.5 1688.0 L191.8 1688.2 L192.1 1688.6 L192.4 1689.0 L192.7 1689.4 L193.0 1689.6 L193.3 1689.7 L193.6 1689.6 L193.9 1689.4 L194.2 1689.2 L194.5 1689.1 L194.9 1689.0 L195.2 1689.1 L195.5 1689.2 L195.8 1689.5 L196.1 1689.7 L196.4 1689.9 L196.7 1689.9 L197.0 1689.9 L197.3 1689.8 L197.6 1689.4 L197.9 1688.9 L198.2 1688.3 L198.5 1687.6 L198.9 1687.0 L199.2 1686.8 L199.5 1686.9 L199.8 1687.2 L200.1 1687.8 L200.4 1688.3 L200.7 1688.6 L201.0 1688.7 L201.3 1688.7 L201.6 1688.6 L201.9 1688.6 L202.2 1688.7 L202.6 1688.9 L202.9 1689.2 L203.2 1689.5 L203.5 1689.8 L203.8 1689.9 L204.1 1690.0 L204.4 1690.0 L204.7 1689.8 L205.0 1689.5 L205.3 1688.9 L205.6 1688.2 L205.9 1687.5 L206.3 1686.8 L206.6 1686.4 L206.9 1686.5 L207.2 1686.9 L207.5 1687.5 L207.8 1688.2 L208.1 1688.8 L208.4 1689.1 L208.7 1689.1 L209.0 1688.9 L209.3 1688.6 L209.6 1688.2 L210.0 1688.1 L210.3 1688.1 L210.6 1688.4 L210.9 1688.8 L211.2 1689.2 L211.5 1689.6 L211.8 1689.8 L212.1 1690.0 L212.4 1690.0 L212.7 1690.0 L213.0 1689.9 L213.3 1689.7 L213.7 1689.5 L214.0 1689.3 L214.3 1689.2 L214.6 1689.1 L214.9 1689.2 L215.2 1689.3 L215.5 1689.5 L215.8 1689.6 L216.1 1689.6 L216.4 1689.4 L216.7 1689.1 L217.0 1688.7 L217.3 1688.4 L217.7 1688.2 L218.0 1688.1 L218.3 1688.1 L218.6 1688.2 L218.9 1688.3 L219.2 1688.5 L219.5 1688.6 L219.8 1688.9 L220.1 1689.2 L220.4 1689.4 L220.7 1689.7 L221.0 1689.8 L221.4 1689.7 L221.7 1689.4 L222.0 1689.0 L222.3 1688.4 L222.6 1687.7 L222.9 1687.1 L223.2 1686.8 L223.5 1686.9 L223.8 1687.2 L224.1 1687.8 L224.4 1688.3 L224.7 1688.7 L225.1 1688.8 L225.4 1688.6 L225.7 1688.2 L226.0 1687.8 L226.3 1687.6 L226.6 1687.5 L226.9 1687.8 L227.2 1688.2 L227.5 1688.8 L227.8 1689.3 L228.1 1689.6 L228.4 1689.9 L228.8 1690.0 L229.1 1690.0 L229.4 1689.8 L229.7 1689.6 L230.0 1689.2 L230.3 1688.8 L230.6 1688.4 L230.9 1688.2 L231.2 1688.2 L231.5 1688.3 L231.8 1688.7 L232.1 1689.1 L232.5 1689.4 L232.8 1689.5 L233.1 1689.6 L233.4 1689.5 L233.7 1689.3 L234.0 1689.1 L234.3 1689.0 L234.6 1689.0 L234.9 1689.0 L235.2 1689.0 L235.5 1688.9 L235.8 1688.8 L236.1 1688.7 L236.5 1688.6 L236.8 1688.6 L237.1 1688.8 L237.4 1689.1 L237.7 1689.4 L238.0 1689.7 L238.3 1689.9 L238.6 1690.0 L238.9 1690.1 L239.2 1690.1 L239.5 1690.0 L239.8 1689.9 L240.2 1689.6 L240.5 1689.2 L240.8 1688.8 L241.1 1688.4 L241.4 1688.0 L241.7 1687.9 L242.0 1688.0 L242.3 1688.2 L242.6 1688.3 L242.9 1688.3 L243.2 1688.2 L243.5 1687.9 L243.9 1687.6 L244.2 1687.5 L244.5 1687.6 L244.8 1687.9 L245.1 1688.4 L245.4 1689.0 L245.7 1689.4 L246.0 1689.6 L246.3 1689.7 L246.6 1689.5 L246.9 1689.3 L247.2 1688.9 L247.6 1688.6 L247.9 1688.4 L248.2 1688.4 L248.5 1688.5 L248.8 1688.9 L249.1 1689.2 L249.4 1689.6 L249.7 1689.8 L250.0 1689.9 L250.3 1689.9 L250.6 1689.6 L250.9 1689.3 L251.3 1688.7 L251.6 1688.1 L251.9 1687.5 L252.2 1687.1 L252.5 1686.9 L252.8 1687.0 L253.1 1687.1 L253.4 1687.2 L253.7 1687.3 L254.0 1687.3 L254.3 1687.3 L254.6 1687.4 L254.9 1687.8 L255.3 1688.3 L255.6 1688.8 L255.9 1689.3 L256.2 1689.6 L256.5 1689.7 L256.8 1689.6 L257.1 1689.3 L257.4 1688.8 L257.7 1688.1 L258.0 1687.4 L258.3 1686.9 L258.6 1686.6 L259.0 1686.8 L259.3 1687.3 L259.6 1688.0 L259.9 1688.6 L260.2 1689.2 L260.5 1689.6 L260.8 1689.7 L261.1 1689.6 L261.4 1689.4 L261.7 1689.1 L262.0 1688.8 L262.3 1688.5 L262.7 1688.4 L263.0 1688.5 L263.3 1688.7 L263.6 1689.1 L263.9 1689.4 L264.2 1689.7 L264.5 1689.9 L264.8 1689.9 L265.1 1689.9 L265.4 1689.7 L265.7 1689.5 L266.0 1689.2 L266.4 1689.0 L266.7 1688.7 L267.0 1688.6 L267.3 1688.4 L267.6 1688.1 L267.9 1687.7 L268.2 1687.3 L268.5 1687.0 L268.8 1686.9 L269.1 1687.0 L269.4 1687.4 L269.7 1687.9 L270.1 1688.3 L270.4 1688.5 L270.7 1688.4 L271.0 1688.2 L271.3 1687.9 L271.6 1687.8 L271.9 1687.8 L272.2 1688.1 L272.5 1688.5 L272.8 1688.8 L273.1 1689.0 L273.4 1688.9 L273.7 1688.6 L274.1 1688.2 L274.4 1687.7 L274.7 1687.3 L275.0 1687.3 L275.3 1687.5 L275.6 1688.0 L275.9 1688.6 L276.2 1689.1 L276.5 1689.6 L276.8 1689.9 L277.1 1690.0 L277.4 1690.1 L277.8 1690.1 L278.1 1690.0 L278.4 1689.8 L278.7 1689.5 L279.0 1689.0 L279.3 1688.5 L279.6 1688.0 L279.9 1687.6 L280.2 1687.5 L280.5 1687.7 L280.8 1688.2 L281.1 1688.7 L281.5 1689.1 L281.8 1689.5 L282.1 1689.6 L282.4 1689.6 L282.7 1689.4 L283.0 1689.0 L283.3 1688.7 L283.6 1688.4 L283.9 1688.3 L284.2 1688.4 L284.5 1688.6 L284.8 1688.9 L285.2 1689.0 L285.5 1689.0 L285.8 1688.8 L286.1 1688.4 L286.4 1687.9 L286.7 1687.6 L287.0 1687.5 L287.3 1687.6 L287.6 1688.0 L287.9 1688.5 L288.2 1688.9 L288.5 1689.1 L288.9 1689.0 L289.2 1688.8 L289.5 1688.4 L289.8 1688.1 L290.1 1687.9 L290.4 1688.0 L290.7 1688.3 L291.0 1688.7 L291.3 1689.1 L291.6 1689.5 L291.9 1689.7 L292.2 1689.7 L292.5 1689.5 L292.9 1689.0 L293.2 1688.4 L293.5 1687.6 L293.8 1686.9 L294.1 1686.5 L294.4 1686.4 L294.7 1686.6 L295.0 1687.0 L295.3 1687.5 L295.6 1687.7 L295.9 1687.7 L296.2 1687.4 L296.6 1687.2 L296.9 1687.1 L297.2 1687.2 L297.5 1687.4 L297.8 1687.7 L298.1 1687.7 L298.4 1687.6 L298.7 1687.4 L299.0 1687.1 L299.3 1687.1 L299.6 1687.3 L299.9 1687.8 L300.3 1688.4 L300.6 1689.0 L300.9 1689.4 L301.2 1689.8 L301.5 1690.0 L301.8 1690.0 L302.1 1689.9 L302.4 1689.6 L302.7 1689.2 L303.0 1688.6 L303.3 1687.8 L303.6 1687.0 L304.0 1686.4 L304.3 1686.2 L304.6 1686.3 L304.9 1686.6 L305.2 1687.0 L305.5 1687.2 L305.8 1687.0 L306.1 1686.3 L306.4 1685.2 L306.7 1683.6 L307.0 1681.9 L307.3 1680.3 L307.7 1679.1 L308.0 1678.6 L308.3 1678.8 L308.6 1679.6 L308.9 1680.9 L309.2 1682.3 L309.5 1683.6 L309.8 1684.6 L310.1 1685.3 L310.4 1685.8 L310.7 1686.4 L311.0 1687.0 L311.4 1687.6 L311.7 1688.0 L312.0 1688.2 L312.3 1688.2 L312.6 1688.0 L312.9 1687.8 L313.2 1687.8 L313.5 1688.0 L313.8 1688.4 L314.1 1688.8 L314.4 1689.3 L314.7 1689.6 L315.0 1689.8 L315.4 1689.8 L315.7 1689.7 L316.0 1689.5 L316.3 1689.2 L316.6 1689.0 L316.9 1688.9 L317.2 1688.9 L317.5 1689.1 L317.8 1689.2 L318.1 1689.3 L318.4 1689.3 L318.7 1689.1 L319.1 1688.6 L319.4 1688.0 L319.7 1687.5 L320.0 1687.1 L320.3 1687.0 L320.6 1687.2 L320.9 1687.7 L321.2 1688.4 L321.5 1688.9 L321.8 1689.3 L322.1 1689.5 L322.4 1689.5 L322.8 1689.3 L323.1 1689.0 L323.4 1688.7 L323.7 1688.6 L324.0 1688.5 L324.3 1688.7 L324.6 1689.0 L324.9 1689.3 L325.2 1689.6 L325.5 1689.8 L325.8 1689.8 L326.1 1689.6 L326.5 1689.3 L326.8 1688.7 L327.1 1688.1 L327.4 1687.4 L327.7 1686.8 L328.0 1686.6 L328.3 1686.8 L328.6 1687.2 L328.9 1687.7 L329.2 1688.1 L329.5 1688.3 L329.8 1688.3 L330.2 1688.1 L330.5 1687.9 L330.8 1687.9 L331.1 1688.1 L331.4 1688.4 L331.7 1688.9 L332.0 1689.3 L332.3 1689.7 L332.6 1689.9 L332.9 1690.0 L333.2 1689.9 L333.5 1689.7 L333.8 1689.2 L334.2 1688.6 L334.5 1687.9 L334.8 1687.3 L335.1 1686.8 L335.4 1686.6 L335.7 1686.8 L336.0 1687.4 L336.3 1688.1 L336.6 1688.8 L336.9 1689.3 L337.2 1689.6 L337.5 1689.6 L337.9 1689.4 L338.2 1688.9 L338.5 1688.3 L338.8 1687.6 L339.1 1687.0 L339.4 1686.6 L339.7 1686.5 L340.0 1686.7 L340.3 1687.0 L340.6 1687.3 L340.9 1687.5 L341.2 1687.6 L341.6 1687.7 L341.9 1687.9 L342.2 1688.3 L342.5 1688.7 L342.8 1689.1 L343.1 1689.3 L343.4 1689.4 L343.7 1689.2 L344.0 1688.8 L344.3 1688.2 L344.6 1687.5 L344.9 1686.9 L345.3 1686.5 L345.6 1686.6 L345.9 1686.9 L346.2 1687.3 L346.5 1687.7 L346.8 1687.7 L347.1 1687.3 L347.4 1686.4 L347.7 1685.1 L348.0 1683.5 L348.3 1681.9 L348.6 1680.4 L349.0 1679.2 L349.3 1678.6 L349.6 1678.6 L349.9 1679.2 L350.2 1680.3 L350.5 1681.7 L350.8 1683.2 L351.1 1684.5 L351.4 1685.7 L351.7 1686.6 L352.0 1687.4 L352.3 1688.1 L352.6 1688.7 L353.0 1689.1 L353.3 1689.4 L353.6 1689.5 L353.9 1689.4 L354.2 1689.1 L354.5 1688.7 L354.8 1688.2 L355.1 1687.9 L355.4 1687.7 L355.7 1687.8 L356.0 1688.1 L356.3 1688.5 L356.7 1689.0 L357.0 1689.4 L357.3 1689.6 L357.6 1689.8 L357.9 1689.8 L358.2 1689.6 L358.5 1689.4 L358.8 1689.0 L359.1 1688.7 L359.4 1688.3 L359.7 1688.1 L360.0 1688.0 L360.4 1687.9 L360.7 1687.9 L361.0 1687.8 L361.3 1687.6 L361.6 1687.5 L361.9 1687.6 L362.2 1687.8 L362.5 1688.1 L362.8 1688.5 L363.1 1688.9 L363.4 1689.3 L363.7 1689.5 L364.1 1689.5 L364.4 1689.4 L364.7 1689.1 L365.0 1688.7 L365.3 1688.2 L365.6 1687.7 L365.9 1687.2 L366.2 1687.0 L366.5 1687.1 L366.8 1687.4 L367.1 1687.9 L367.4 1688.4 L367.8 1688.8 L368.1 1689.1 L368.4 1689.3 L368.7 1689.4 L369.0 1689.4 L369.3 1689.4 L369.6 1689.4 L369.9 1689.4 L370.2 1689.4 L370.5 1689.3 L370.8 1689.3 L371.1 1689.2 L371.4 1689.0 L371.8 1688.7 L372.1 1688.0 L372.4 1686.8 L372.7 1684.9 L373.0 1682.2 L373.3 1678.6 L373.6 1674.5 L373.9 1670.4 L374.2 1666.9 L374.5 1664.4 L374.8 1663.0 L375.1 1662.5 L375.5 1662.5 L375.8 1662.5 L376.1 1662.3 L376.4 1662.0 L376.7 1662.0 L376.9 1662.4 L377.0 1662.8 L377.3 1664.5 L377.6 1667.1 L377.9 1670.2 L378.2 1673.3 L378.5 1675.8 L378.8 1677.3 L379.2 1677.7 L379.5 1677.3 L379.8 1676.4 L380.1 1675.6 L380.4 1675.4 L380.4 1675.4 L380.7 1676.1 L381.0 1677.5 L381.3 1679.5 L381.6 1681.5 L381.9 1683.2 L382.2 1684.2 L382.5 1684.5 L382.9 1683.8 L383.2 1682.1 L383.5 1679.3 L383.8 1675.5 L384.1 1670.9 L384.4 1665.8 L384.7 1660.8 L385.0 1656.4 L385.3 1653.1 L385.5 1651.5 L385.6 1651.0 L385.9 1650.0 L386.2 1650.2 L386.6 1651.3 L386.9 1653.4 L387.0 1655.0 L387.2 1656.3 L387.5 1659.7 L387.8 1663.0 L388.1 1665.7 L388.4 1667.1 L388.7 1667.0 L389.0 1665.3 L389.3 1662.0 L389.6 1657.5 L389.9 1652.7 L390.2 1648.5 L390.2 1648.5 L390.6 1645.3 L390.9 1643.4 L391.2 1642.9 L391.5 1643.8 L391.8 1646.5 L392.1 1651.1 L392.4 1657.0 L392.7 1663.2 L393.0 1668.7 L393.3 1672.9 L393.6 1675.5 L393.9 1676.5 L394.3 1676.2 L394.6 1675.0 L394.9 1673.1 L395.2 1670.9 L395.5 1668.7 L395.8 1667.0 L396.1 1666.0 L396.4 1665.8 L396.7 1666.5 L397.0 1667.5 L397.3 1667.8 L397.6 1666.6 L398.0 1663.3 L398.3 1657.9 L398.6 1651.1 L398.9 1643.7 L399.2 1637.1 L399.5 1632.2 L399.8 1629.9 L400.1 1630.3 L400.4 1633.0 L400.7 1637.3 L401.0 1642.5 L401.3 1648.0 L401.7 1653.2 L402.0 1658.1 L402.3 1662.4 L402.6 1665.9 L402.9 1668.6 L403.2 1670.5 L403.5 1671.6 L403.8 1672.3 L404.1 1672.8 L404.4 1673.1 L404.7 1672.7 L405.0 1671.3 L405.4 1668.7 L405.7 1665.3 L406.0 1662.0 L406.3 1659.9 L406.4 1659.5 L406.5 1659.5 L406.6 1659.6 L406.9 1661.1 L407.2 1663.8 L407.5 1666.7 L407.8 1669.0 L408.1 1670.6 L408.4 1671.8 L408.7 1673.0 L409.0 1674.3 L409.4 1675.7 L409.7 1677.0 L410.0 1678.2 L410.3 1679.2 L410.6 1680.0 L410.9 1680.6 L411.2 1680.9 L411.5 1680.9 L411.8 1680.4 L412.1 1679.4 L412.4 1677.9 L412.7 1676.3 L413.1 1674.9 L413.4 1674.4 L413.7 1675.0 L414.0 1676.7 L414.3 1678.7 L414.6 1680.4 L414.9 1681.3 L415.2 1681.4 L415.5 1680.6 L415.8 1679.1 L416.1 1677.1 L416.4 1674.9 L416.8 1672.8 L417.1 1671.0 L417.4 1669.8 L417.6 1669.3 L417.7 1669.1 L418.0 1669.0 L418.3 1669.3 L418.6 1669.8 L418.9 1670.4 L419.2 1671.3 L419.5 1672.3 L419.8 1673.2 L420.1 1673.7 L420.5 1673.6 L420.8 1672.6 L421.1 1671.1 L421.4 1669.4 L421.7 1667.9 L422.0 1667.0 L422.3 1666.7 L422.6 1666.6 L422.9 1666.3 L423.2 1665.2 L423.5 1662.8 L423.8 1658.9 L424.2 1654.0 L424.5 1648.5 L424.8 1643.6 L425.1 1640.2 L425.4 1639.2 L425.7 1640.8 L426.0 1645.0 L426.3 1651.0 L426.6 1657.9 L426.9 1664.7 L427.2 1670.6 L427.5 1675.0 L427.8 1677.4 L428.2 1677.9 L428.5 1676.5 L428.8 1673.7 L429.1 1670.4 L429.4 1667.6 L429.7 1666.2 L429.9 1666.2 L430.0 1666.7 L430.3 1668.9 L430.6 1672.1 L430.9 1675.4 L431.2 1678.3 L431.5 1680.6 L431.9 1682.2 L432.2 1683.3 L432.5 1684.1 L432.8 1684.5 L433.1 1684.4 L433.4 1683.7 L433.7 1682.4 L434.0 1680.3 L434.3 1677.5 L434.6 1674.3 L434.9 1670.7 L435.2 1667.3 L435.6 1664.4 L435.9 1662.7 L436.2 1662.4 L436.5 1663.5 L436.8 1666.0 L437.1 1669.1 L437.4 1672.1 L437.7 1674.4 L438.0 1675.1 L438.3 1673.7 L438.6 1669.9 L438.9 1663.5 L439.3 1654.5 L439.6 1643.6 L439.9 1631.8 L440.2 1620.8 L440.5 1612.1 L440.8 1607.3 L440.9 1606.7 L441.1 1607.2 L441.4 1611.8 L441.7 1620.1 L442.0 1630.4 L442.3 1641.0 L442.6 1649.6 L443.0 1654.5 L443.3 1654.2 L443.6 1647.3 L443.9 1633.3 L444.2 1611.9 L444.5 1584.2 L444.8 1552.5 L445.1 1520.6 L445.4 1493.0 L445.7 1474.2 L446.0 1467.5 L446.3 1474.1 L446.6 1492.8 L447.0 1520.3 L447.3 1552.4 L447.6 1584.5 L447.9 1613.2 L448.2 1636.5 L448.5 1653.7 L448.8 1665.1 L449.1 1671.5 L449.4 1673.7 L449.7 1672.0 L450.0 1666.5 L450.3 1656.8 L450.7 1642.4 L451.0 1623.3 L451.3 1600.5 L451.6 1575.8 L451.9 1552.1 L452.2 1532.8 L452.5 1521.1 L452.7 1518.5 L452.8 1518.9 L453.1 1526.7 L453.4 1543.0 L453.7 1564.8 L454.0 1588.8 L454.4 1611.7 L454.7 1631.4 L455.0 1646.9 L455.3 1658.4 L455.6 1666.4 L455.9 1671.8 L456.2 1675.0 L456.5 1676.6 L456.8 1677.1 L457.1 1676.8 L457.4 1676.1 L457.7 1674.9 L458.1 1673.2 L458.4 1670.4 L458.7 1666.0 L459.0 1659.8 L459.3 1651.8 L459.6 1642.8 L459.9 1633.6 L460.2 1625.6 L460.5 1620.2 L460.8 1618.3 L461.1 1620.2 L461.4 1625.5 L461.8 1633.4 L462.1 1642.5 L462.4 1651.4 L462.7 1659.2 L463.0 1665.1 L463.3 1668.8 L463.6 1670.6 L463.9 1670.6 L464.2 1669.3 L464.5 1667.2 L464.8 1664.7 L465.1 1662.4 L465.5 1660.5 L465.8 1659.5 L466.1 1659.4 L466.4 1660.1 L466.7 1661.2 L467.0 1662.0 L467.3 1661.7 L467.6 1659.4 L467.9 1654.7 L468.2 1647.6 L468.5 1638.8 L468.8 1629.5 L469.1 1621.2 L469.5 1615.6 L469.8 1613.6 L470.1 1615.9 L470.4 1621.9 L470.7 1630.7 L471.0 1640.9 L471.3 1651.1 L471.6 1660.3 L471.9 1667.8 L472.2 1673.4 L472.5 1677.3 L472.8 1679.8 L473.2 1681.2 L473.5 1681.9 L473.8 1682.0 L474.1 1681.5 L474.4 1680.3 L474.7 1678.5 L475.0 1675.9 L475.3 1672.6 L475.6 1668.9 L475.9 1665.1 L476.2 1661.7 L476.5 1659.0 L476.9 1657.4 L477.2 1657.0 L477.5 1657.7 L477.8 1659.5 L478.1 1661.7 L478.4 1663.9 L478.7 1665.1 L479.0 1664.4 L479.3 1660.9 L479.6 1654.0 L479.9 1643.5 L480.2 1630.1 L480.6 1615.0 L480.9 1600.2 L481.2 1588.0 L481.5 1580.5 L481.7 1578.8 L481.8 1579.1 L482.1 1583.6 L482.4 1592.9 L482.7 1604.3 L483.0 1614.3 L483.3 1619.0 L483.6 1614.6 L483.9 1597.7 L484.3 1566.0 L484.6 1519.1 L484.9 1459.3 L485.2 1391.8 L485.5 1324.8 L485.8 1268.3 L486.1 1234.0 L486.3 1234.0 L486.4 1234.0 L486.7 1240.9 L487.0 1285.0 L487.3 1346.3 L487.6 1414.3 L487.9 1479.1 L488.3 1533.3 L488.6 1572.9 L488.9 1597.3 L489.2 1608.5 L489.5 1610.1 L489.8 1606.3 L490.1 1601.0 L490.4 1597.6 L490.6 1597.4 L490.7 1598.2 L491.0 1603.3 L491.3 1612.6 L491.6 1624.6 L492.0 1637.5 L492.3 1649.7 L492.6 1660.0 L492.9 1667.7 L493.2 1672.9 L493.5 1676.0 L493.8 1677.6 L494.1 1678.3 L494.4 1678.7 L494.7 1678.9 L495.0 1679.0 L495.3 1678.9 L495.7 1678.9 L496.0 1678.9 L496.3 1679.1 L496.6 1679.4 L496.9 1679.8 L497.2 1680.1 L497.5 1680.2 L497.8 1679.9 L498.1 1679.1 L498.4 1677.7 L498.7 1675.7 L499.0 1673.2 L499.4 1670.4 L499.7 1667.6 L500.0 1665.1 L500.3 1663.3 L500.6 1662.4 L500.9 1662.4 L501.2 1663.2 L501.5 1664.5 L501.8 1666.0 L502.1 1667.3 L502.4 1668.2 L502.7 1668.5 L503.1 1668.5 L503.4 1668.0 L503.7 1667.0 L504.0 1665.3 L504.3 1662.4 L504.6 1657.9 L504.9 1651.6 L505.2 1643.6 L505.5 1634.8 L505.8 1626.4 L506.0 1622.9 L506.1 1619.2 L506.4 1614.2 L506.7 1611.5 L507.1 1610.9 L507.2 1611.3 L507.4 1612.1 L507.7 1614.4 L508.0 1616.5 L508.3 1617.0 L508.6 1614.4 L508.9 1607.3 L509.2 1595.7 L509.5 1580.4 L509.8 1563.6 L510.1 1548.2 L510.4 1537.1 L510.8 1532.4 L511.1 1534.7 L511.4 1542.8 L511.7 1554.0 L512.0 1564.9 L512.3 1572.4 L512.6 1574.8 L512.9 1572.0 L513.2 1565.9 L513.5 1559.3 L513.6 1557.9 L513.8 1555.2 L514.1 1555.6 L514.5 1561.3 L514.8 1571.3 L515.1 1583.8 L515.4 1596.5 L515.7 1607.9 L516.0 1616.8 L516.3 1623.3 L516.6 1627.5 L516.9 1629.9 L517.2 1630.3 L517.5 1627.9 L517.8 1621.0 L518.2 1607.4 L518.5 1585.1 L518.8 1552.8 L519.1 1511.3 L519.4 1463.8 L519.7 1415.5 L520.0 1373.7 L520.3 1345.2 L520.6 1335.2 L520.9 1345.8 L521.2 1375.1 L521.5 1417.8 L521.9 1467.0 L522.2 1515.5 L522.5 1557.7 L522.8 1590.5 L523.1 1613.0 L523.4 1626.4 L523.7 1633.2 L524.0 1636.1 L524.3 1637.4 L524.3 1637.6 L524.6 1639.2 L524.9 1641.4 L525.2 1643.8 L525.5 1645.2 L525.9 1643.7 L526.2 1637.9 L526.5 1626.1 L526.8 1607.9 L527.1 1583.7 L527.4 1555.7 L527.7 1527.2 L528.0 1502.3 L528.3 1485.3 L528.6 1479.1 L528.9 1484.6 L529.2 1500.5 L529.6 1523.4 L529.9 1548.7 L530.2 1572.0 L530.5 1590.0 L530.8 1601.1 L531.1 1605.8 L531.4 1605.8 L531.7 1603.7 L531.7 1603.6 L532.0 1601.9 L532.3 1602.0 L532.6 1604.7 L532.9 1609.4 L533.3 1615.0 L533.6 1620.2 L533.9 1624.3 L534.2 1627.0 L534.5 1628.6 L534.8 1630.1 L535.1 1632.2 L535.4 1635.5 L535.7 1640.0 L536.0 1645.1 L536.3 1650.0 L536.6 1653.8 L537.0 1655.9 L537.3 1656.2 L537.6 1655.0 L537.9 1652.8 L538.2 1650.3 L538.5 1648.4 L538.8 1647.8 L539.1 1649.0 L539.4 1651.7 L539.7 1655.6 L540.0 1659.7 L540.3 1663.5 L540.7 1666.4 L541.0 1668.3 L541.3 1669.2 L541.6 1669.1 L541.9 1668.2 L542.2 1667.0 L542.5 1665.7 L542.8 1664.4 L543.1 1662.8 L543.4 1660.9 L543.7 1659.0 L543.9 1658.3 L544.0 1657.3 L544.3 1656.2 L544.7 1655.8 L545.0 1656.3 L545.3 1657.7 L545.6 1660.0 L545.9 1663.0 L546.2 1666.5 L546.5 1669.9 L546.8 1672.5 L547.1 1673.5 L547.4 1671.9 L547.7 1666.8 L548.0 1657.1 L548.4 1642.4 L548.7 1622.5 L549.0 1598.3 L549.3 1571.9 L549.6 1546.5 L549.9 1525.6 L550.2 1512.5 L550.4 1509.2 L550.5 1509.4 L550.8 1516.3 L551.1 1531.4 L551.4 1551.6 L551.7 1573.1 L552.1 1592.6 L552.4 1608.0 L552.7 1618.9 L553.0 1625.9 L553.3 1630.6 L553.6 1634.5 L553.9 1638.9 L554.2 1644.4 L554.5 1650.7 L554.8 1657.4 L555.1 1663.6 L555.4 1668.6 L555.8 1672.2 L556.1 1674.3 L556.4 1675.3 L556.7 1675.7 L557.0 1675.9 L557.3 1676.2 L557.6 1676.5 L557.9 1676.7 L558.2 1676.8 L558.5 1676.7 L558.8 1676.5 L559.1 1676.3 L559.5 1676.2 L559.8 1676.1 L560.1 1676.1 L560.4 1675.7 L560.7 1675.1 L561.0 1674.2 L561.3 1673.0 L561.6 1671.7 L561.9 1670.5 L562.2 1669.3 L562.5 1667.9 L562.8 1665.9 L563.1 1663.4 L563.5 1660.7 L563.8 1658.6 L564.0 1657.9 L564.1 1657.8 L564.4 1658.5 L564.7 1660.4 L565.0 1662.7 L565.3 1664.7 L565.6 1666.1 L565.9 1666.7 L566.2 1666.6 L566.5 1665.7 L566.8 1663.9 L567.2 1661.3 L567.5 1658.5 L567.8 1655.7 L568.1 1653.8 L568.4 1653.1 L568.7 1653.7 L569.0 1655.6 L569.3 1658.2 L569.6 1660.9 L569.9 1663.3 L570.2 1665.0 L570.5 1666.0 L570.9 1666.4 L571.2 1666.7 L571.5 1667.0 L571.8 1667.6 L572.1 1668.5 L572.4 1669.4 L572.7 1670.1 L573.0 1670.3 L573.3 1669.8 L573.6 1668.5 L573.9 1666.6 L574.2 1664.4 L574.6 1662.4 L574.9 1661.0 L575.2 1660.7 L575.5 1661.5 L575.5 1661.5 L575.8 1663.5 L576.1 1666.0 L576.4 1668.6 L576.7 1670.5 L577.0 1671.6 L577.3 1671.7 L577.6 1671.1 L577.9 1670.2 L578.3 1669.5 L578.6 1669.3 L578.9 1669.9 L579.2 1671.1 L579.5 1672.9 L579.8 1674.9 L580.1 1676.7 L580.4 1678.2 L580.7 1678.9 L581.0 1678.8 L581.3 1677.9 L581.6 1676.5 L581.9 1675.1 L582.3 1673.8 L582.6 1672.9 L582.9 1672.1 L583.2 1670.9 L583.5 1669.0 L583.8 1666.9 L584.1 1664.9 L584.2 1664.3 L584.4 1663.8 L584.7 1663.9 L585.0 1665.1 L585.3 1667.0 L585.6 1669.2 L586.0 1671.5 L586.3 1673.7 L586.6 1675.6 L586.9 1677.3 L587.2 1678.5 L587.5 1678.9 L587.8 1678.5 L588.1 1676.9 L588.4 1673.9 L588.7 1669.2 L589.0 1663.0 L589.3 1655.5 L589.7 1647.3 L590.0 1639.4 L590.3 1632.9 L590.6 1628.7 L590.8 1627.6 L590.9 1627.5 L591.2 1629.2 L591.5 1633.3 L591.8 1638.5 L592.1 1643.7 L592.4 1647.7 L592.7 1649.7 L593.0 1649.6 L593.4 1647.9 L593.7 1645.5 L594.0 1643.8 L594.3 1643.7 L594.3 1643.9 L594.6 1645.6 L594.9 1649.0 L595.2 1652.8 L595.5 1655.9 L595.8 1657.7 L596.1 1658.2 L596.4 1657.9 L596.7 1657.6 L597.1 1657.7 L597.4 1658.7 L597.7 1660.5 L598.0 1662.8 L598.3 1665.0 L598.6 1666.7 L598.9 1667.4 L599.2 1667.2 L599.5 1666.0 L599.8 1664.2 L600.1 1662.4 L600.4 1660.7 L600.7 1659.4 L601.0 1658.6 L601.1 1658.2 L601.4 1656.8 L601.7 1654.8 L602.0 1651.9 L602.3 1648.2 L602.6 1644.2 L602.9 1640.9 L603.2 1639.2 L603.4 1639.2 L603.5 1639.6 L603.8 1642.4 L604.1 1647.2 L604.4 1653.2 L604.8 1659.3 L605.1 1664.5 L605.4 1668.2 L605.7 1670.2 L606.0 1670.8 L606.3 1670.7 L606.6 1670.9 L606.7 1671.2 L606.9 1671.9 L607.2 1673.9 L607.5 1676.6 L607.8 1679.4 L608.1 1681.9 L608.5 1683.6 L608.8 1684.4 L609.1 1684.2 L609.4 1682.8 L609.7 1680.1 L610.0 1675.9 L610.3 1670.1 L610.6 1663.0 L610.9 1654.9 L611.2 1647.0 L611.5 1640.4 L611.8 1636.2 L612.2 1635.2 L612.5 1637.6 L612.8 1642.9 L613.1 1650.2 L613.4 1658.2 L613.7 1665.9 L614.0 1672.5 L614.3 1677.6 L614.6 1681.0 L614.9 1682.7 L615.2 1682.9 L615.5 1681.9 L615.9 1680.0 L616.2 1677.6 L616.5 1675.0 L616.8 1672.7 L617.1 1671.1 L617.4 1670.5 L617.7 1671.0 L618.0 1672.4 L618.3 1674.5 L618.6 1676.9 L618.9 1679.0 L619.2 1680.8 L619.6 1681.9 L619.9 1682.6 L620.2 1682.8 L620.5 1683.0 L620.8 1683.2 L621.1 1683.7 L621.4 1684.3 L621.7 1685.2 L622.0 1686.2 L622.3 1687.1 L622.6 1688.0 L622.9 1688.7 L623.2 1689.2 L623.6 1689.5 L623.9 1689.8 L624.2 1689.9 L624.5 1690.0 L624.8 1690.1 L625.1 1690.1 L625.4 1690.1 L625.7 1690.1 L626.0 1690.1 L626.3 1690.1 L626.6 1690.1 L626.9 1690.1 L627.3 1690.1 L627.6 1690.1 L627.9 1690.2 L628.2 1690.2 L628.5 1690.2 L628.8 1690.2 L629.1 1690.2 L629.4 1690.2 L629.7 1690.2 L630.0 1690.2 L630.3 1690.2 L630.6 1690.2 L631.0 1690.2 L631.3 1690.2 L631.6 1690.2 L631.9 1690.2 L632.2 1690.2 L632.5 1690.2 L632.8 1690.2 L633.1 1690.2 L633.4 1690.2 L633.7 1690.2 L634.0 1690.2 L634.3 1690.2 L634.7 1690.2 L635.0 1690.2 L635.3 1690.2 L635.6 1690.2 L635.9 1690.2 L636.2 1690.2 L636.5 1690.2 L636.8 1690.2 L637.1 1690.2 L637.4 1690.2 L637.7 1690.2 L638.0 1690.2 L638.4 1690.2 L638.7 1690.2 L639.0 1690.2 L639.3 1690.2 L639.6 1690.2 L639.9 1690.2 L640.2 1690.2 L640.5 1690.2 L640.8 1690.2 L641.1 1690.2 L641.4 1690.2 L641.7 1690.2 L642.0 1690.2 L642.4 1690.2 L642.7 1690.2 L643.0 1690.2 L643.3 1690.2 L643.6 1690.2 L643.9 1690.2 L644.2 1690.2 L644.5 1690.2 L644.8 1690.2 L645.1 1690.2 L645.4 1690.2 L645.7 1690.2 L646.1 1690.2 L646.4 1690.2 L646.7 1690.2 L647.0 1690.2 L647.3 1690.2 L647.6 1690.2 L647.9 1690.2 L648.2 1690.2 L648.5 1690.2 L648.8 1690.2 L649.1 1690.2 L649.4 1690.2 L649.8 1690.2 L650.1 1690.2 L650.4 1690.2 L650.7 1690.2 L651.0 1690.2 L651.3 1690.2 L651.6 1690.2 L651.9 1690.2 L652.2 1690.2 L652.5 1690.2 L652.8 1690.2 L653.1 1690.2 L653.5 1690.2 L653.8 1690.2 L654.1 1690.2 L654.4 1690.2 L654.7 1690.2 L655.0 1690.2 L655.3 1690.2 L655.6 1690.2 L655.9 1690.2 L656.2 1690.2 L656.5 1690.2 L656.8 1690.2 L657.2 1690.2 L657.5 1690.2 L657.8 1690.2 L658.1 1690.2 L658.4 1690.2 L658.7 1690.2 L659.0 1690.2 L659.3 1690.2 L659.6 1690.2 L659.9 1690.2 L660.2 1690.2 L660.5 1690.2 L660.8 1690.2 L661.2 1690.2 L661.5 1690.2 L661.8 1690.2 L662.1 1690.2 L662.4 1690.2 L662.7 1690.2 L663.0 1690.2 L663.3 1690.2 L663.6 1690.2 L663.9 1690.2 L664.2 1690.2 L664.5 1690.2 L664.9 1690.2 L665.2 1690.2 L665.5 1690.2 L665.8 1690.2 L666.1 1690.2 L666.4 1690.2 L666.7 1690.2 L667.0 1690.2 L667.3 1690.2 L667.6 1690.2 L667.9 1690.2 L668.2 1690.2 L668.6 1690.2 L668.9 1690.2 L669.2 1690.2 L669.5 1690.2 L669.8 1690.2 L670.1 1690.2 L670.4 1690.2 L670.7 1690.2 L671.0 1690.2 L671.3 1690.2 L671.6 1690.2 L671.9 1690.2 L672.3 1690.2 L672.6 1690.2 L672.9 1690.2 L673.2 1690.2 L673.5 1690.2 L673.8 1690.2 L674.1 1690.2 L674.4 1690.2 L674.7 1690.2 L675.0 1690.2 L675.3 1690.2 L675.6 1690.2 L676.0 1690.2 L676.3 1690.2 L676.6 1690.2 L676.9 1690.2 L677.2 1690.2 L677.5 1690.2 L677.8 1690.2 L678.1 1690.2 L678.4 1690.2 L678.7 1690.2 L679.0 1690.2 L679.3 1690.2 L679.6 1690.2 L680.0 1690.2 L680.3 1690.2 L680.6 1690.2 L680.9 1690.2 L681.2 1690.2 L681.5 1690.2 L681.8 1690.2 L682.1 1690.2 L682.4 1690.2 L682.7 1690.2 L683.0 1690.2 L683.3 1690.2 L683.7 1690.2 L684.0 1690.2 L684.3 1690.2 L684.6 1690.2 L684.9 1690.2 L685.2 1690.2 L685.5 1690.2 L685.8 1690.2 L686.1 1690.2 L686.4 1690.2 L686.7 1690.2 L687.0 1690.2 L687.4 1690.2 L687.7 1690.2 L688.0 1690.2 L688.3 1690.2 L688.6 1690.2 L688.9 1690.2 L689.2 1690.2 L689.5 1690.2 L689.8 1690.2 L690.1 1690.2 L690.4 1690.2 L690.7 1690.2 L691.1 1690.2 L691.4 1690.2 L691.7 1690.2 L692.0 1690.2 L692.3 1690.2 L692.6 1690.2 L692.9 1690.2 L693.2 1690.2 L693.5 1690.2 L693.8 1690.2 L694.1 1690.2 L694.4 1690.2 L694.8 1690.2 L695.1 1690.2 L695.4 1690.1 L695.7 1689.9 L696.0 1689.5 L696.3 1688.7 L696.6 1687.1 L696.9 1683.9 L697.2 1678.2 L697.5 1668.5 L697.8 1652.9 L698.1 1629.2 L698.4 1595.6 L698.8 1550.8 L699.1 1495.2 L699.4 1431.1 L699.7 1363.3 L700.0 1298.5 L700.3 1244.5 L700.6 1234.0 L700.9 1234.0 L701.2 1234.0 L701.5 1244.5 L701.8 1298.5 L702.1 1363.3 L702.5 1431.1 L702.8 1495.2 L703.1 1550.8 L703.4 1595.6 L703.7 1629.2 L704.0 1652.9 L704.3 1668.5 L704.6 1678.2 L704.9 1683.9 L705.2 1687.1 L705.5 1688.7 L705.8 1689.4 L706.2 1689.7 L706.5 1689.5 L706.8 1688.7 L707.1 1687.0 L707.4 1683.4 L707.7 1676.6 L708.0 1664.3 L708.3 1643.2 L708.6 1609.4 L708.9 1558.2 L709.2 1485.4 L709.5 1388.5 L709.9 1268.1 L710.2 1234.0 L710.5 1234.0 L710.8 1234.0 L711.1 1234.0 L711.4 1234.0 L711.7 1234.0 L712.0 1234.0 L712.3 1234.0 L712.6 1234.0 L712.9 1234.0 L713.2 1234.0 L713.6 1268.1 L713.9 1388.5 L714.2 1485.4 L714.5 1558.2 L714.8 1609.4 L715.1 1643.2 L715.4 1664.3 L715.7 1676.6 L716.0 1683.4 L716.3 1687.0 L716.6 1688.8 L716.9 1689.6 L717.2 1690.0 L717.6 1690.1 L717.9 1690.2 L718.2 1690.2 L718.5 1690.2 L718.8 1690.2 L719.1 1690.2 L719.4 1690.2 L719.7 1690.2 L720.0 1690.2 L720.3 1690.2 L720.6 1690.2 L720.9 1690.2 L721.3 1690.2 L721.6 1690.2 L721.9 1690.2 L722.2 1690.2 L722.5 1690.2 L722.8 1690.2 L723.1 1690.2 L723.4 1690.2 L723.7 1690.2 L724.0 1690.2 L724.3 1690.2 L724.6 1690.2 L725.0 1690.2 L725.3 1690.2 L725.6 1690.2 L725.9 1690.2 L726.2 1690.2 L726.5 1690.2 L726.8 1690.2 L727.1 1690.2 L727.4 1690.2 L727.7 1690.2 L728.0 1690.2 L728.3 1690.2 L728.7 1690.2 L729.0 1690.2 L729.3 1690.2 L729.6 1690.2 L729.9 1690.2 L730.2 1690.2 L730.5 1690.2 L730.8 1690.2 L731.1 1690.2 L731.4 1690.2 L731.7 1690.2 L732.0 1690.2 L732.4 1690.2 L732.7 1690.2 L733.0 1690.2 L733.3 1690.2 L733.6 1690.2 L733.9 1690.2 L734.2 1690.2 L734.5 1690.2 L734.8 1690.2 L735.1 1690.2 L735.4 1690.2 L735.7 1690.2 L736.0 1690.2 L736.4 1690.2 L736.7 1690.2 L737.0 1690.2 L737.3 1690.2 L737.6 1690.2 L737.9 1690.2 L738.2 1690.2 L738.5 1690.2 L738.8 1690.2 L739.1 1690.2 L739.4 1690.2 L739.7 1690.2 L740.1 1690.2 L740.4 1690.2 L740.7 1690.2 L741.0 1690.2 L741.3 1690.2 L741.6 1690.2 L741.9 1690.2 L742.2 1690.2 L742.5 1690.2 L742.8 1690.2 L743.1 1690.2 L743.4 1690.2 L743.8 1690.2 L744.1 1690.2 L744.4 1690.2 L744.7 1690.2 L745.0 1690.2 L745.3 1690.2 L745.6 1690.2 L745.9 1690.2 L746.2 1690.2 L746.5 1690.2 L746.8 1690.2 L747.1 1690.2 L747.5 1690.2 L747.8 1690.2 L748.1 1690.2 L748.4 1690.2 L748.7 1690.2 L749.0 1690.2 L749.3 1690.2 L749.6 1690.2 L749.9 1690.2 L750.2 1690.2 L750.5 1690.2 L750.8 1690.2 L751.2 1690.2 L751.5 1690.2 L751.8 1690.2 L752.1 1690.2 L752.4 1690.2 L752.7 1690.2 L753.0 1690.2 L753.3 1690.2 L753.6 1690.2 L753.9 1690.2 L754.2 1690.2 L754.5 1690.2 L754.8 1690.2 L755.2 1690.2 L755.5 1690.2 L755.8 1690.2 L756.1 1690.2 L756.4 1690.2 L756.7 1690.2 L757.0 1690.2 L757.3 1690.2 L757.6 1690.2 L757.9 1690.2 L758.2 1690.2 L758.5 1690.2 L758.9 1690.2 L759.2 1690.2 L759.5 1690.2 L759.8 1690.2 L760.1 1690.2 L760.4 1690.2 L760.7 1690.2 L761.0 1690.2 L761.3 1690.2 L761.6 1690.2 L761.9 1690.2 L762.2 1690.2 L762.6 1690.2 L762.9 1690.2 L763.2 1690.2 L763.5 1690.2 L763.8 1690.2 L764.1 1690.2 L764.4 1690.2 L764.7 1690.2 L765.0 1690.2 L765.3 1690.2 L765.6 1690.2 L765.9 1690.2 L766.3 1690.2 L766.6 1690.2 L766.9 1690.2 L767.2 1690.2 L767.5 1690.2 L767.8 1690.2 L768.1 1690.2 L768.4 1690.2 L768.7 1690.2 L769.0 1690.2 L769.3 1690.2 L769.6 1690.2 L770.0 1690.2 L770.3 1690.2 L770.6 1690.2 L770.9 1690.2 L771.2 1690.2 L771.5 1690.2 L771.8 1690.2 L772.1 1690.2 L772.4 1690.2 L772.7 1690.2 L773.0 1690.2 L773.3 1690.2 L773.7 1690.2 L774.0 1690.2 L774.3 1690.2 L774.6 1690.2 L774.9 1690.2 L775.2 1690.2 L775.5 1690.2 L775.8 1690.2 L776.1 1690.2 L776.4 1690.2 L776.7 1690.2 L777.0 1690.2 L777.3 1690.2 L777.7 1690.2 L778.0 1690.2 L778.3 1690.2 L778.6 1690.2 L778.9 1690.2 L779.2 1690.2 L779.5 1690.2 L779.8 1690.2 L780.1 1690.2 L780.4 1690.2 L780.7 1690.2 L781.0 1690.2 L781.4 1690.2 L781.7 1690.2 L782.0 1690.2 L782.3 1690.2 L782.6 1690.2 L782.9 1690.2 L783.2 1690.2 L783.5 1690.2 L783.8 1690.2 L784.1 1690.2 L784.4 1690.2 L784.7 1690.2 L785.1 1690.2 L785.4 1690.2 L785.7 1690.2 L786.0 1690.2 L786.3 1690.2 L786.6 1690.2 L786.9 1690.2 L787.2 1690.2 L787.5 1690.2 L787.8 1690.2 L788.1 1690.2 L788.4 1690.2 L788.8 1690.2 L789.1 1690.2 L789.4 1690.2 L789.7 1690.2 L790.0 1690.2 L790.3 1690.2 L790.6 1690.2 L790.9 1690.2 L791.2 1690.2 L791.5 1690.2 L791.8 1690.2 L792.1 1690.2 L792.5 1690.2 L792.8 1690.2 L793.1 1690.2 L793.4 1690.2 L793.7 1690.2 L794.0 1690.2 L794.3 1690.2 L794.6 1690.2 L794.9 1690.2 L795.2 1690.2 L795.5 1690.2 L795.8 1690.2 L796.1 1690.2 L796.5 1690.2 L796.8 1690.2 L797.1 1690.2 L797.4 1690.2 L797.7 1690.2 L798.0 1690.2 L798.3 1690.2 L798.6 1690.2 L798.9 1690.2 L799.2 1690.2 L799.5 1690.2 L799.8 1690.2 L800.2 1690.2 L800.5 1690.2 L800.8 1690.2 L801.1 1690.2 L801.4 1690.2 L801.7 1690.2 L802.0 1690.2 L802.3 1690.2 L802.6 1690.2 L802.9 1690.2 L803.2 1690.2 L803.5 1690.2 L803.9 1690.2 L804.2 1690.2 L804.5 1690.2 L804.8 1690.2 L805.1 1690.2 L805.4 1690.2 L805.7 1690.2 L806.0 1690.2 L806.3 1690.2 L806.6 1690.2 L806.9 1690.2 L807.2 1690.2 L807.6 1690.2 L807.9 1690.2 L808.2 1690.2 L808.5 1690.2 L808.8 1690.2 L809.1 1690.2 L809.4 1690.2 L809.7 1690.2 L810.0 1690.2 L810.3 1690.2 L810.6 1690.2 L810.9 1690.2 L811.3 1690.2 L811.6 1690.2 L811.9 1690.2 L812.2 1690.2 L812.5 1690.2 L812.8 1690.2 L813.1 1690.2 L813.4 1690.2 L813.7 1690.2 L814.0 1690.2 L814.3 1690.2 L814.6 1690.2 L814.9 1690.2 L815.3 1690.2 L815.6 1690.2 L815.9 1690.2 L816.2 1690.2 L816.5 1690.2 L816.8 1690.2 L817.1 1690.2 L817.4 1690.2 L817.7 1690.2 L818.0 1690.2 L818.3 1690.2 L818.6 1690.2 L819.0 1690.2 L819.3 1690.2 L819.6 1690.2 L819.9 1690.2 L820.2 1690.2 L820.5 1690.2 L820.8 1690.2 L821.1 1690.2 L821.4 1690.2 L821.7 1690.2 L822.0 1690.2 L822.3 1690.2 L822.7 1690.2 L823.0 1690.2 L823.3 1690.2 L823.6 1690.2 L823.9 1690.2 L824.2 1690.2 L824.5 1690.2 L824.8 1690.2 L825.1 1690.2 L825.4 1690.2 L825.7 1690.2 L826.0 1690.2 L826.4 1690.2 L826.7 1690.2 L827.0 1690.2 L827.3 1690.2 L827.6 1690.2 L827.9 1690.2 L828.2 1690.2 L828.5 1690.2 L828.8 1690.2 L829.1 1690.2 L829.4 1690.2 L829.7 1690.2 L830.1 1690.2 L830.4 1690.2 L830.7 1690.2 L831.0 1690.2 L831.3 1690.2 L831.6 1690.2 L831.9 1690.2" fill="none" stroke="#7f7f7f" stroke-width="1.35" stroke-linejoin="round"/><path d="M80.0 1690.6 L82.0 1690.4 L84.0 1690.4 L86.0 1690.4 L88.0 1690.3 L90.0 1690.4 L92.0 1690.3 L94.0 1690.6 L96.0 1690.5 L98.0 1690.3 L100.0 1690.4 L102.0 1690.3 L104.0 1690.6 L106.0 1690.5 L108.0 1690.5 L110.0 1690.4 L112.0 1690.4 L114.0 1690.6 L116.0 1690.5 L118.0 1690.5 L120.0 1690.3 L122.0 1690.4 L124.0 1690.6 L126.0 1690.4 L128.0 1690.6 L130.0 1690.4 L132.0 1690.6 L134.0 1690.6 L136.0 1690.3 L138.0 1690.5 L140.0 1690.5 L142.0 1690.3 L144.0 1690.3 L146.0 1690.5 L148.0 1690.3 L150.0 1690.4 L152.0 1690.4 L154.0 1690.5 L156.0 1690.3 L158.0 1690.4 L160.0 1690.3 L162.0 1690.3 L164.0 1690.5 L166.0 1690.5 L168.0 1690.6 L170.0 1690.6 L172.0 1690.6 L174.0 1690.5 L176.0 1690.4 L178.0 1690.6 L180.0 1690.4 L182.0 1690.5 L184.0 1690.5 L186.0 1690.4 L188.0 1690.5 L190.0 1690.5 L192.0 1690.5 L194.0 1690.4 L196.0 1690.6 L198.0 1690.3 L200.0 1690.6 L202.0 1690.4 L204.0 1690.3 L206.0 1689.3 L208.0 1688.6 L210.0 1689.0 L212.0 1688.7 L214.0 1689.2 L216.0 1689.1 L218.0 1688.9 L220.0 1688.2 L222.0 1688.8 L224.0 1688.2 L226.0 1688.0 L228.0 1687.9 L230.0 1688.4 L232.0 1688.3 L234.0 1688.0 L236.0 1687.8 L238.0 1688.3 L240.0 1687.7 L242.0 1687.6 L244.0 1687.5 L246.0 1688.2 L248.0 1687.4 L250.0 1688.1 L252.0 1687.9 L254.0 1687.7 L256.0 1687.4 L258.0 1688.0 L260.0 1687.5 L262.0 1687.9 L264.0 1688.2 L266.0 1688.2 L268.0 1688.4 L270.0 1688.6 L272.0 1688.6 L274.0 1688.2 L276.0 1688.0 L278.0 1688.8 L280.0 1689.0 L282.0 1688.2 L284.0 1688.7 L286.0 1688.8 L288.0 1689.0 L290.0 1688.7 L292.0 1688.6 L294.0 1688.9 L296.0 1688.9 L298.0 1689.2 L300.0 1688.4 L302.0 1689.0 L304.0 1688.4 L306.0 1687.9 L308.0 1688.4 L310.0 1687.8 L312.0 1687.7 L314.0 1688.1 L316.0 1688.2 L318.0 1689.0 L320.0 1688.9 L322.0 1689.3 L324.0 1688.7 L326.0 1689.2 L328.0 1689.0 L330.0 1688.5 L332.0 1688.5 L334.0 1688.3 L336.0 1688.6 L338.0 1688.3 L340.0 1687.9 L342.0 1688.0 L344.0 1688.0 L346.0 1687.9 L348.0 1688.3 L350.0 1688.2 L352.0 1687.9 L354.0 1688.1 L356.0 1688.6 L358.0 1688.8 L360.0 1689.1 L362.0 1689.4 L364.0 1689.2 L366.0 1688.8 L368.0 1688.7 L369.0 1688.5 L374.9 1686.1 L376.0 1685.1 L377.5 1683.6 L379.3 1681.9 L380.9 1680.1 L382.4 1678.3 L383.9 1676.3 L385.4 1674.4 L386.8 1672.7 L388.3 1671.3 L389.8 1670.2 L391.3 1669.2 L392.8 1668.2 L394.3 1667.4 L395.9 1666.6 L397.4 1665.9 L398.7 1665.3 L399.8 1664.4 L400.7 1663.6 L401.5 1662.9 L402.3 1662.9 L403.2 1663.8 L404.1 1665.3 L405.1 1667.0 L406.2 1668.2 L407.6 1668.8 L409.1 1668.9 L410.7 1669.1 L412.1 1669.7 L413.3 1671.0 L414.5 1672.7 L415.5 1674.4 L416.6 1675.7 L417.7 1676.5 L418.8 1677.2 L419.9 1677.4 L421.1 1677.2 L422.1 1676.1 L423.2 1674.3 L424.3 1672.5 L425.5 1671.2 L426.9 1670.9 L428.3 1671.0 L429.8 1671.3 L431.5 1671.2 L433.3 1670.8 L435.3 1670.3 L437.2 1669.5 L438.9 1668.2 L440.3 1666.7 L441.4 1664.9 L442.4 1662.5 L443.4 1659.3 L444.2 1655.0 L445.0 1649.8 L445.6 1644.2 L446.4 1638.5 L447.1 1632.6 L447.9 1626.4 L448.6 1620.3 L449.3 1614.7 L450.1 1609.5 L450.9 1604.7 L451.6 1600.3 L452.3 1596.8 L452.9 1594.0 L453.5 1591.8 L454.0 1590.6 L454.7 1590.9 L455.5 1593.0 L456.3 1596.7 L457.3 1601.1 L458.3 1605.8 L459.3 1610.6 L460.4 1615.8 L461.6 1621.2 L462.7 1626.6 L463.9 1632.1 L465.0 1637.9 L466.2 1643.3 L467.2 1647.4 L468.0 1650.2 L468.7 1651.9 L469.4 1652.9 L470.2 1653.4 L471.1 1653.0 L472.1 1651.8 L473.1 1650.6 L474.0 1650.4 L474.9 1652.0 L475.8 1654.8 L476.6 1657.2 L477.6 1657.8 L478.7 1656.0 L479.9 1652.7 L481.0 1648.6 L482.1 1644.4 L482.9 1641.0 L483.6 1637.7 L484.3 1633.2 L485.0 1626.6 L485.8 1616.4 L486.5 1603.7 L487.3 1590.5 L488.0 1579.0 L488.8 1569.3 L489.5 1560.4 L490.2 1552.6 L491.0 1546.3 L491.7 1541.3 L492.5 1537.5 L493.2 1535.2 L494.0 1534.4 L494.7 1535.5 L495.4 1538.3 L496.2 1542.1 L496.9 1546.3 L497.7 1550.4 L498.4 1554.8 L499.2 1560.2 L499.9 1567.1 L500.7 1576.2 L501.4 1587.0 L502.1 1598.3 L502.9 1608.7 L503.6 1618.8 L504.4 1628.8 L505.1 1637.7 L505.9 1644.4 L506.6 1648.4 L507.3 1650.4 L508.1 1650.9 L508.8 1650.4 L509.5 1649.2 L510.2 1647.0 L511.0 1643.6 L511.8 1638.5 L512.9 1631.1 L514.0 1621.8 L515.2 1611.9 L516.3 1602.8 L517.1 1594.9 L517.9 1587.4 L518.5 1580.1 L519.2 1573.0 L520.0 1565.6 L520.7 1557.9 L521.5 1551.2 L522.2 1546.3 L523.0 1543.8 L523.7 1543.2 L524.5 1543.5 L525.2 1543.9 L526.0 1544.6 L526.7 1545.9 L527.5 1547.1 L528.2 1547.8 L528.8 1547.3 L529.4 1546.0 L530.0 1545.0 L530.5 1544.8 L531.1 1545.9 L531.6 1547.9 L532.1 1550.2 L532.6 1552.2 L533.1 1552.9 L533.7 1552.9 L534.2 1554.0 L534.7 1558.2 L535.3 1567.1 L535.8 1579.4 L536.5 1592.2 L537.1 1602.8 L537.8 1610.2 L538.5 1616.0 L539.2 1621.1 L540.1 1626.6 L541.1 1632.8 L542.3 1639.1 L543.5 1645.2 L544.5 1650.4 L545.4 1655.2 L546.1 1659.8 L546.8 1663.0 L547.5 1663.8 L548.2 1661.0 L549.0 1655.5 L549.7 1649.3 L550.5 1644.4 L551.2 1641.3 L551.9 1638.8 L552.6 1636.9 L553.5 1635.5 L554.5 1634.7 L555.6 1634.4 L556.8 1634.6 L557.9 1634.9 L559.1 1635.0 L560.2 1635.2 L561.4 1636.1 L562.4 1638.5 L563.2 1643.4 L563.9 1650.2 L564.5 1657.1 L565.4 1662.3 L566.3 1665.2 L567.4 1666.9 L568.6 1667.8 L569.8 1668.2 L571.2 1668.0 L572.7 1666.9 L574.2 1665.8 L575.8 1665.3 L577.3 1665.7 L578.7 1666.7 L580.2 1667.7 L581.7 1668.2 L583.2 1668.3 L584.8 1668.1 L586.3 1667.6 L587.7 1666.8 L588.9 1665.2 L590.0 1663.2 L591.0 1661.1 L592.1 1659.3 L593.2 1657.9 L594.3 1656.7 L595.4 1655.7 L596.6 1654.9 L598.0 1654.1 L599.7 1653.5 L601.2 1653.1 L602.5 1653.4 L603.5 1654.4 L604.2 1656.0 L604.8 1657.8 L605.5 1659.3 L606.2 1660.6 L606.8 1661.8 L607.5 1662.9 L608.5 1663.8 L609.8 1664.2 L611.4 1664.3 L613.0 1664.5 L614.4 1665.3 L615.7 1666.8 L616.8 1669.0 L617.8 1671.1 L618.9 1672.7 L620.0 1673.3 L621.1 1673.4 L622.2 1673.4 L623.4 1674.2 L624.5 1676.0 L625.6 1678.5 L626.7 1681.0 L627.8 1683.1 L628.9 1684.6 L630.0 1685.8 L631.1 1686.7 L632.3 1687.6 L633.8 1688.3 L635.5 1688.9 L637.1 1689.3 L638.2 1689.7" fill="none" stroke="#000" stroke-width="2.8" stroke-linejoin="round"/><path d="M696.6 1689.7 L696.9 1684.8 L697.4 1677.9 L697.9 1669.3 L698.4 1659.5 L698.8 1647.1 L699.2 1632.4 L699.6 1618.1 L700.0 1606.8 L700.4 1599.5 L700.9 1594.5 L701.3 1591.1 L701.8 1588.4 L702.4 1586.6 L703.1 1586.0 L703.7 1585.9 L704.5 1585.8 L705.3 1586.2 L706.3 1587.3 L707.2 1587.5 L707.9 1585.3 L708.3 1580.2 L708.5 1573.0 L708.7 1564.2 L708.9 1554.2 L709.3 1542.6 L709.7 1529.2 L710.2 1515.2 L710.5 1501.6 L710.8 1488.4 L711.1 1475.3 L711.3 1462.1 L711.6 1448.9 L711.9 1434.9 L712.4 1420.2 L712.8 1406.8 L713.2 1396.3 L713.4 1389.0 L713.7 1384.1 L713.9 1381.6 L714.2 1381.8 L714.6 1385.5 L715.0 1392.3 L715.4 1400.7 L715.8 1409.5 L716.1 1419.2 L716.3 1430.3 L716.6 1440.8 L716.8 1448.9 L717.2 1453.8 L717.5 1456.4 L717.9 1458.0 L718.4 1459.5 L719.1 1461.0 L719.9 1461.9 L720.8 1462.7 L721.6 1463.4 L722.3 1463.7 L723.0 1463.6 L723.7 1464.0 L724.2 1466.1 L724.6 1469.9 L725.0 1474.9 L725.3 1481.2 L725.5 1488.4 L725.8 1496.8 L725.9 1506.3 L726.1 1516.7 L726.3 1527.9 L726.6 1540.1 L726.8 1553.4 L727.1 1567.1 L727.4 1580.5 L727.6 1594.0 L727.8 1607.7 L728.0 1620.9 L728.2 1633.2 L728.3 1644.5 L728.5 1655.1 L728.7 1664.6 L728.9 1672.6 L729.3 1678.9 L729.7 1683.7 L730.0 1687.2 L730.3 1689.7" fill="none" stroke="#000" stroke-width="2.8" stroke-linejoin="round"/></g>
<text x="72" y="1266.3" font-family="Liberation Sans, sans-serif" font-size="24" fill="#444">(c)</text>
<text x="230.5" y="1273.2" font-family="Liberation Sans, sans-serif" font-size="24.5" font-weight="bold" fill="#111" textLength="47.5">XVII</text>
<text transform="translate(41 1462.7) rotate(-90)" font-family="Liberation Sans, sans-serif" font-size="29.5" font-weight="bold" fill="#111" text-anchor="middle">Intensity</text>
<text x="331" y="1765" font-family="Liberation Sans, sans-serif" font-size="24.9" font-weight="bold" fill="#111">Wavenumbers, cm<tspan dy="-9" font-size="15.5">-1</tspan></text>
</svg>
</body></html>
